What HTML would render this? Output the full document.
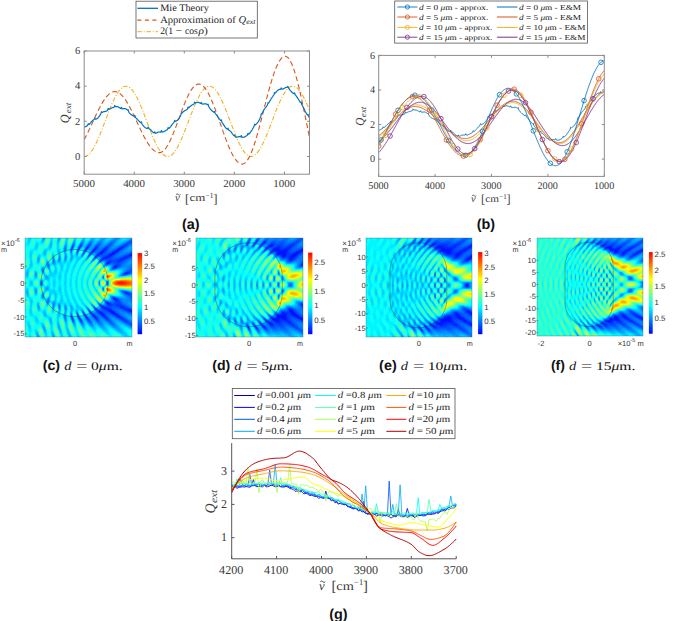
<!DOCTYPE html>
<html><head><meta charset="utf-8"><style>
html,body{margin:0;padding:0;background:#fff;}
svg{display:block;} text{text-rendering:geometricPrecision;}
</style></head><body>
<svg width="677" height="621" viewBox="0 0 677 621">
<rect width="677" height="621" fill="#fff"/>
<clipPath id="ca"><rect x="84" y="40" width="226" height="135"/></clipPath>
<g clip-path="url(#ca)">
<path d="M84.2,156.5 84.5,156.5 84.8,156.5 85.2,156.4 85.5,156.3 85.8,156.2 86.1,156.1 86.5,156.0 86.8,155.8 87.1,155.7 87.4,155.5 87.7,155.3 88.1,155.0 88.4,154.8 88.7,154.5 89.0,154.2 89.4,153.9 89.7,153.5 90.0,153.2 90.3,152.8 90.6,152.4 91.0,152.0 91.3,151.6 91.6,151.2 91.9,150.7 92.3,150.2 92.6,149.7 92.9,149.2 93.2,148.7 93.5,148.1 93.9,147.6 94.2,147.0 94.5,146.4 94.8,145.8 95.2,145.2 95.5,144.6 95.8,143.9 96.1,143.2 96.4,142.6 96.8,141.9 97.1,141.2 97.4,140.5 97.7,139.8 98.1,139.0 98.4,138.3 98.7,137.5 99.0,136.8 99.3,136.0 99.7,135.2 100.0,134.4 100.3,133.6 100.6,132.8 101.0,132.0 101.3,131.2 101.6,130.4 101.9,129.5 102.3,128.7 102.6,127.9 102.9,127.0 103.2,126.2 103.5,125.3 103.9,124.5 104.2,123.6 104.5,122.8 104.8,121.9 105.2,121.1 105.5,120.2 105.8,119.4 106.1,118.5 106.4,117.7 106.8,116.8 107.1,116.0 107.4,115.2 107.7,114.3 108.1,113.5 108.4,112.6 108.7,111.8 109.0,111.0 109.3,110.2 109.7,109.4 110.0,108.6 110.3,107.8 110.6,107.0 111.0,106.2 111.3,105.5 111.6,104.7 111.9,104.0 112.2,103.2 112.6,102.5 112.9,101.8 113.2,101.1 113.5,100.4 113.9,99.7 114.2,99.1 114.5,98.4 114.8,97.8 115.1,97.1 115.5,96.5 115.8,95.9 116.1,95.3 116.4,94.8 116.8,94.2 117.1,93.7 117.4,93.2 117.7,92.7 118.0,92.2 118.4,91.7 118.7,91.3 119.0,90.8 119.3,90.4 119.7,90.0 120.0,89.6 120.3,89.3 120.6,88.9 120.9,88.6 121.3,88.3 121.6,88.0 121.9,87.8 122.2,87.5 122.6,87.3 122.9,87.1 123.2,86.9 123.5,86.8 123.8,86.6 124.2,86.5 124.5,86.4 124.8,86.3 125.1,86.2 125.5,86.2 125.8,86.2 126.1,86.2 126.4,86.2 126.7,86.2 127.1,86.3 127.4,86.4 127.7,86.5 128.0,86.6 128.4,86.8 128.7,86.9 129.0,87.1 129.3,87.3 129.6,87.6 130.0,87.8 130.3,88.1 130.6,88.4 130.9,88.7 131.3,89.0 131.6,89.3 131.9,89.7 132.2,90.1 132.6,90.5 132.9,90.9 133.2,91.3 133.5,91.8 133.8,92.2 134.2,92.7 134.5,93.2 134.8,93.8 135.1,94.3 135.5,94.9 135.8,95.4 136.1,96.0 136.4,96.6 136.7,97.2 137.1,97.8 137.4,98.5 137.7,99.1 138.0,99.8 138.4,100.5 138.7,101.2 139.0,101.9 139.3,102.6 139.6,103.3 140.0,104.1 140.3,104.8 140.6,105.6 140.9,106.3 141.3,107.1 141.6,107.9 141.9,108.7 142.2,109.5 142.5,110.3 142.9,111.1 143.2,111.9 143.5,112.8 143.8,113.6 144.2,114.4 144.5,115.3 144.8,116.1 145.1,117.0 145.4,117.8 145.8,118.7 146.1,119.5 146.4,120.4 146.7,121.2 147.1,122.1 147.4,122.9 147.7,123.8 148.0,124.6 148.3,125.5 148.7,126.3 149.0,127.2 149.3,128.0 149.6,128.8 150.0,129.7 150.3,130.5 150.6,131.3 150.9,132.1 151.2,132.9 151.6,133.7 151.9,134.5 152.2,135.3 152.5,136.1 152.9,136.9 153.2,137.6 153.5,138.4 153.8,139.1 154.1,139.9 154.5,140.6 154.8,141.3 155.1,142.0 155.4,142.7 155.8,143.3 156.1,144.0 156.4,144.6 156.7,145.3 157.0,145.9 157.4,146.5 157.7,147.1 158.0,147.7 158.3,148.2 158.7,148.8 159.0,149.3 159.3,149.8 159.6,150.3 159.9,150.8 160.3,151.2 160.6,151.7 160.9,152.1 161.2,152.5 161.6,152.9 161.9,153.2 162.2,153.6 162.5,153.9 162.9,154.2 163.2,154.5 163.5,154.8 163.8,155.0 164.1,155.3 164.5,155.5 164.8,155.7 165.1,155.9 165.4,156.0 165.8,156.1 166.1,156.3 166.4,156.3 166.7,156.4 167.0,156.5 167.4,156.5 167.7,156.5 168.0,156.5 168.3,156.5 168.7,156.4 169.0,156.3 169.3,156.2 169.6,156.1 169.9,156.0 170.3,155.8 170.6,155.6 170.9,155.4 171.2,155.2 171.6,155.0 171.9,154.7 172.2,154.5 172.5,154.2 172.8,153.8 173.2,153.5 173.5,153.2 173.8,152.8 174.1,152.4 174.5,152.0 174.8,151.6 175.1,151.1 175.4,150.6 175.7,150.2 176.1,149.7 176.4,149.2 176.7,148.6 177.0,148.1 177.4,147.5 177.7,146.9 178.0,146.3 178.3,145.7 178.6,145.1 179.0,144.5 179.3,143.8 179.6,143.2 179.9,142.5 180.3,141.8 180.6,141.1 180.9,140.4 181.2,139.7 181.5,138.9 181.9,138.2 182.2,137.4 182.5,136.7 182.8,135.9 183.2,135.1 183.5,134.3 183.8,133.5 184.1,132.7 184.4,131.9 184.8,131.1 185.1,130.3 185.4,129.5 185.7,128.6 186.1,127.8 186.4,126.9 186.7,126.1 187.0,125.3 187.3,124.4 187.7,123.6 188.0,122.7 188.3,121.9 188.6,121.0 189.0,120.1 189.3,119.3 189.6,118.4 189.9,117.6 190.2,116.7 190.6,115.9 190.9,115.1 191.2,114.2 191.5,113.4 191.9,112.6 192.2,111.7 192.5,110.9 192.8,110.1 193.2,109.3 193.5,108.5 193.8,107.7 194.1,106.9 194.4,106.2 194.8,105.4 195.1,104.6 195.4,103.9 195.7,103.2 196.1,102.4 196.4,101.7 196.7,101.0 197.0,100.3 197.3,99.6 197.7,99.0 198.0,98.3 198.3,97.7 198.6,97.1 199.0,96.5 199.3,95.9 199.6,95.3 199.9,94.7 200.2,94.2 200.6,93.6 200.9,93.1 201.2,92.6 201.5,92.1 201.9,91.7 202.2,91.2 202.5,90.8 202.8,90.4 203.1,90.0 203.5,89.6 203.8,89.2 204.1,88.9 204.4,88.6 204.8,88.3 205.1,88.0 205.4,87.7 205.7,87.5 206.0,87.3 206.4,87.1 206.7,86.9 207.0,86.7 207.3,86.6 207.7,86.5 208.0,86.4 208.3,86.3 208.6,86.2 208.9,86.2 209.3,86.2 209.6,86.2 209.9,86.2 210.2,86.3 210.6,86.3 210.9,86.4 211.2,86.5 211.5,86.6 211.8,86.8 212.2,87.0 212.5,87.1 212.8,87.4 213.1,87.6 213.5,87.8 213.8,88.1 214.1,88.4 214.4,88.7 214.7,89.0 215.1,89.4 215.4,89.7 215.7,90.1 216.0,90.5 216.4,90.9 216.7,91.4 217.0,91.8 217.3,92.3 217.6,92.8 218.0,93.3 218.3,93.8 218.6,94.4 218.9,94.9 219.3,95.5 219.6,96.1 219.9,96.7 220.2,97.3 220.5,97.9 220.9,98.6 221.2,99.2 221.5,99.9 221.8,100.6 222.2,101.3 222.5,102.0 222.8,102.7 223.1,103.4 223.5,104.1 223.8,104.9 224.1,105.7 224.4,106.4 224.7,107.2 225.1,108.0 225.4,108.8 225.7,109.6 226.0,110.4 226.4,111.2 226.7,112.0 227.0,112.8 227.3,113.7 227.6,114.5 228.0,115.4 228.3,116.2 228.6,117.0 228.9,117.9 229.3,118.7 229.6,119.6 229.9,120.4 230.2,121.3 230.5,122.2 230.9,123.0 231.2,123.9 231.5,124.7 231.8,125.6 232.2,126.4 232.5,127.2 232.8,128.1 233.1,128.9 233.4,129.7 233.8,130.6 234.1,131.4 234.4,132.2 234.7,133.0 235.1,133.8 235.4,134.6 235.7,135.4 236.0,136.2 236.3,136.9 236.7,137.7 237.0,138.5 237.3,139.2 237.6,139.9 238.0,140.6 238.3,141.4 238.6,142.0 238.9,142.7 239.2,143.4 239.6,144.1 239.9,144.7 240.2,145.3 240.5,146.0 240.9,146.6 241.2,147.1 241.5,147.7 241.8,148.3 242.1,148.8 242.5,149.3 242.8,149.8 243.1,150.3 243.4,150.8 243.8,151.3 244.1,151.7 244.4,152.1 244.7,152.5 245.0,152.9 245.4,153.3 245.7,153.6 246.0,154.0 246.3,154.3 246.7,154.6 247.0,154.8 247.3,155.1 247.6,155.3 247.9,155.5 248.3,155.7 248.6,155.9 248.9,156.0 249.2,156.2 249.6,156.3 249.9,156.4 250.2,156.4 250.5,156.5 250.8,156.5 251.2,156.5 251.5,156.5 251.8,156.4 252.1,156.4 252.5,156.3 252.8,156.2 253.1,156.1 253.4,156.0 253.8,155.8 254.1,155.6 254.4,155.4 254.7,155.2 255.0,155.0 255.4,154.7 255.7,154.4 256.0,154.1 256.3,153.8 256.7,153.5 257.0,153.1 257.3,152.7 257.6,152.3 257.9,151.9 258.3,151.5 258.6,151.1 258.9,150.6 259.2,150.1 259.6,149.6 259.9,149.1 260.2,148.6 260.5,148.0 260.8,147.5 261.2,146.9 261.5,146.3 261.8,145.7 262.1,145.1 262.5,144.4 262.8,143.8 263.1,143.1 263.4,142.4 263.7,141.7 264.1,141.0 264.4,140.3 264.7,139.6 265.0,138.9 265.4,138.1 265.7,137.4 266.0,136.6 266.3,135.8 266.6,135.0 267.0,134.3 267.3,133.5 267.6,132.7 267.9,131.8 268.3,131.0 268.6,130.2 268.9,129.4 269.2,128.5 269.5,127.7 269.9,126.9 270.2,126.0 270.5,125.2 270.8,124.3 271.2,123.5 271.5,122.6 271.8,121.8 272.1,120.9 272.4,120.1 272.8,119.2 273.1,118.4 273.4,117.5 273.7,116.7 274.1,115.8 274.4,115.0 274.7,114.1 275.0,113.3 275.3,112.5 275.7,111.7 276.0,110.8 276.3,110.0 276.6,109.2 277.0,108.4 277.3,107.6 277.6,106.8 277.9,106.1 278.2,105.3 278.6,104.6 278.9,103.8 279.2,103.1 279.5,102.4 279.9,101.6 280.2,100.9 280.5,100.3 280.8,99.6 281.1,98.9 281.5,98.3 281.8,97.6 282.1,97.0 282.4,96.4 282.8,95.8 283.1,95.2 283.4,94.7 283.7,94.1 284.1,93.6 284.4,93.1 284.7,92.6 285.0,92.1 285.3,91.6 285.7,91.2 286.0,90.7 286.3,90.3 286.6,89.9 287.0,89.6 287.3,89.2 287.6,88.9 287.9,88.6 288.2,88.3 288.6,88.0 288.9,87.7 289.2,87.5 289.5,87.3 289.9,87.1 290.2,86.9 290.5,86.7 290.8,86.6 291.1,86.5 291.5,86.4 291.8,86.3 292.1,86.2 292.4,86.2 292.8,86.2 293.1,86.2 293.4,86.2 293.7,86.3 294.0,86.3 294.4,86.4 294.7,86.5 295.0,86.7 295.3,86.8 295.7,87.0 296.0,87.2 296.3,87.4 296.6,87.6 296.9,87.9 297.3,88.1 297.6,88.4 297.9,88.7 298.2,89.1 298.6,89.4 298.9,89.8 299.2,90.2 299.5,90.6 299.8,91.0 300.2,91.4 300.5,91.9 300.8,92.3 301.1,92.8 301.5,93.3 301.8,93.9 302.1,94.4 302.4,95.0 302.7,95.5 303.1,96.1 303.4,96.7 303.7,97.3 304.0,98.0 304.4,98.6 304.7,99.3 305.0,100.0 305.3,100.6 305.6,101.3 306.0,102.0 306.3,102.8 306.6,103.5 306.9,104.2 307.3,105.0 307.6,105.7 307.9,106.5 308.2,107.3 308.5,108.1 308.9,108.9 309.2,109.7 309.5,110.5" fill="none" stroke="#EDB120" stroke-width="1.1" stroke-linejoin="round" stroke-dasharray="4.5 1.8 1 1.8"/>
<path d="M84.2,139.6 84.5,139.0 84.8,138.4 85.2,137.8 85.5,137.2 85.8,136.6 86.1,136.0 86.5,135.3 86.8,134.7 87.1,134.0 87.4,133.4 87.7,132.7 88.1,132.1 88.4,131.4 88.7,130.7 89.0,130.0 89.4,129.3 89.7,128.7 90.0,128.0 90.3,127.3 90.6,126.6 91.0,125.9 91.3,125.2 91.6,124.5 91.9,123.8 92.3,123.1 92.6,122.4 92.9,121.7 93.2,121.0 93.5,120.3 93.9,119.6 94.2,118.9 94.5,118.2 94.8,117.5 95.2,116.8 95.5,116.1 95.8,115.4 96.1,114.7 96.4,114.1 96.8,113.4 97.1,112.7 97.4,112.1 97.7,111.4 98.1,110.8 98.4,110.1 98.7,109.5 99.0,108.8 99.3,108.2 99.7,107.6 100.0,107.0 100.3,106.4 100.6,105.8 101.0,105.2 101.3,104.6 101.6,104.1 101.9,103.5 102.3,102.9 102.6,102.4 102.9,101.9 103.2,101.4 103.5,100.9 103.9,100.4 104.2,99.9 104.5,99.4 104.8,98.9 105.2,98.5 105.5,98.1 105.8,97.6 106.1,97.2 106.4,96.8 106.8,96.5 107.1,96.1 107.4,95.7 107.7,95.4 108.1,95.1 108.4,94.7 108.7,94.4 109.0,94.2 109.3,93.9 109.7,93.6 110.0,93.4 110.3,93.2 110.6,93.0 111.0,92.8 111.3,92.6 111.6,92.4 111.9,92.3 112.2,92.1 112.6,92.0 112.9,91.9 113.2,91.8 113.5,91.8 113.9,91.7 114.2,91.7 114.5,91.6 114.8,91.6 115.1,91.6 115.5,91.7 115.8,91.7 116.1,91.8 116.4,91.8 116.8,91.9 117.1,92.0 117.4,92.1 117.7,92.3 118.0,92.4 118.4,92.6 118.7,92.8 119.0,93.0 119.3,93.2 119.7,93.4 120.0,93.7 120.3,93.9 120.6,94.2 120.9,94.5 121.3,94.8 121.6,95.1 121.9,95.4 122.2,95.7 122.6,96.1 122.9,96.5 123.2,96.8 123.5,97.2 123.8,97.6 124.2,98.1 124.5,98.5 124.8,98.9 125.1,99.4 125.5,99.9 125.8,100.4 126.1,100.8 126.4,101.3 126.7,101.9 127.1,102.4 127.4,102.9 127.7,103.5 128.0,104.0 128.4,104.6 128.7,105.1 129.0,105.7 129.3,106.3 129.6,106.9 130.0,107.5 130.3,108.1 130.6,108.8 130.9,109.4 131.3,110.0 131.6,110.7 131.9,111.3 132.2,112.0 132.6,112.6 132.9,113.3 133.2,113.9 133.5,114.6 133.8,115.3 134.2,116.0 134.5,116.6 134.8,117.3 135.1,118.0 135.5,118.7 135.8,119.4 136.1,120.1 136.4,120.8 136.7,121.5 137.1,122.2 137.4,122.9 137.7,123.6 138.0,124.2 138.4,124.9 138.7,125.6 139.0,126.3 139.3,127.0 139.6,127.7 140.0,128.4 140.3,129.0 140.6,129.7 140.9,130.4 141.3,131.1 141.6,131.7 141.9,132.4 142.2,133.0 142.5,133.7 142.9,134.3 143.2,134.9 143.5,135.6 143.8,136.2 144.2,136.8 144.5,137.4 144.8,138.0 145.1,138.6 145.4,139.2 145.8,139.7 146.1,140.3 146.4,140.9 146.7,141.4 147.1,141.9 147.4,142.4 147.7,143.0 148.0,143.5 148.3,144.0 148.7,144.4 149.0,144.9 149.3,145.4 149.6,145.8 150.0,146.2 150.3,146.7 150.6,147.1 150.9,147.5 151.2,147.8 151.6,148.2 151.9,148.6 152.2,148.9 152.5,149.2 152.9,149.5 153.2,149.8 153.5,150.1 153.8,150.4 154.1,150.6 154.5,150.9 154.8,151.1 155.1,151.3 155.4,151.5 155.8,151.7 156.1,151.8 156.4,152.0 156.7,152.1 157.0,152.2 157.4,152.3 157.7,152.4 158.0,152.5 158.3,152.6 158.7,152.6 159.0,152.6 159.3,152.6 159.6,152.6 159.9,152.6 160.3,152.5 160.6,152.5 160.9,152.3 161.2,152.2 161.6,152.1 161.9,151.9 162.2,151.7 162.5,151.5 162.9,151.3 163.2,151.0 163.5,150.7 163.8,150.4 164.1,150.1 164.5,149.8 164.8,149.4 165.1,149.0 165.4,148.6 165.8,148.2 166.1,147.8 166.4,147.3 166.7,146.8 167.0,146.3 167.4,145.8 167.7,145.3 168.0,144.7 168.3,144.1 168.7,143.5 169.0,142.9 169.3,142.3 169.6,141.7 169.9,141.0 170.3,140.4 170.6,139.7 170.9,139.0 171.2,138.3 171.6,137.5 171.9,136.8 172.2,136.1 172.5,135.3 172.8,134.5 173.2,133.7 173.5,133.0 173.8,132.2 174.1,131.3 174.5,130.5 174.8,129.7 175.1,128.9 175.4,128.0 175.7,127.2 176.1,126.3 176.4,125.5 176.7,124.6 177.0,123.7 177.4,122.9 177.7,122.0 178.0,121.1 178.3,120.2 178.6,119.3 179.0,118.5 179.3,117.6 179.6,116.7 179.9,115.8 180.3,114.9 180.6,114.1 180.9,113.2 181.2,112.3 181.5,111.5 181.9,110.6 182.2,109.7 182.5,108.9 182.8,108.1 183.2,107.2 183.5,106.4 183.8,105.6 184.1,104.7 184.4,103.9 184.8,103.2 185.1,102.4 185.4,101.6 185.7,100.8 186.1,100.1 186.4,99.3 186.7,98.6 187.0,97.9 187.3,97.2 187.7,96.5 188.0,95.8 188.3,95.2 188.6,94.5 189.0,93.9 189.3,93.3 189.6,92.7 189.9,92.1 190.2,91.6 190.6,91.0 190.9,90.5 191.2,90.0 191.5,89.5 191.9,89.1 192.2,88.6 192.5,88.2 192.8,87.8 193.2,87.4 193.5,87.0 193.8,86.7 194.1,86.3 194.4,86.0 194.8,85.8 195.1,85.5 195.4,85.3 195.7,85.0 196.1,84.8 196.4,84.7 196.7,84.5 197.0,84.4 197.3,84.3 197.7,84.2 198.0,84.1 198.3,84.1 198.6,84.1 199.0,84.1 199.3,84.1 199.6,84.2 199.9,84.2 200.2,84.3 200.6,84.4 200.9,84.6 201.2,84.7 201.5,84.9 201.9,85.1 202.2,85.3 202.5,85.6 202.8,85.8 203.1,86.1 203.5,86.4 203.8,86.7 204.1,87.1 204.4,87.4 204.8,87.8 205.1,88.2 205.4,88.6 205.7,89.1 206.0,89.5 206.4,90.0 206.7,90.5 207.0,91.0 207.3,91.6 207.7,92.1 208.0,92.7 208.3,93.3 208.6,93.9 208.9,94.5 209.3,95.1 209.6,95.8 209.9,96.5 210.2,97.1 210.6,97.8 210.9,98.5 211.2,99.3 211.5,100.0 211.8,100.8 212.2,101.5 212.5,102.3 212.8,103.1 213.1,103.9 213.5,104.7 213.8,105.5 214.1,106.3 214.4,107.2 214.7,108.0 215.1,108.9 215.4,109.7 215.7,110.6 216.0,111.5 216.4,112.4 216.7,113.3 217.0,114.2 217.3,115.1 217.6,116.0 218.0,116.9 218.3,117.8 218.6,118.7 218.9,119.7 219.3,120.6 219.6,121.5 219.9,122.4 220.2,123.4 220.5,124.3 220.9,125.2 221.2,126.2 221.5,127.1 221.8,128.0 222.2,128.9 222.5,129.9 222.8,130.8 223.1,131.7 223.5,132.6 223.8,133.5 224.1,134.4 224.4,135.3 224.7,136.2 225.1,137.1 225.4,138.0 225.7,138.8 226.0,139.7 226.4,140.6 226.7,141.4 227.0,142.2 227.3,143.1 227.6,143.9 228.0,144.7 228.3,145.5 228.6,146.2 228.9,147.0 229.3,147.8 229.6,148.5 229.9,149.2 230.2,150.0 230.5,150.7 230.9,151.4 231.2,152.0 231.5,152.7 231.8,153.3 232.2,154.0 232.5,154.6 232.8,155.2 233.1,155.7 233.4,156.3 233.8,156.8 234.1,157.4 234.4,157.9 234.7,158.4 235.1,158.8 235.4,159.3 235.7,159.7 236.0,160.1 236.3,160.5 236.7,160.9 237.0,161.2 237.3,161.6 237.6,161.9 238.0,162.2 238.3,162.4 238.6,162.7 238.9,162.9 239.2,163.1 239.6,163.3 239.9,163.5 240.2,163.6 240.5,163.8 240.9,163.9 241.2,163.9 241.5,164.0 241.8,164.0 242.1,164.1 242.5,164.1 242.8,164.0 243.1,163.9 243.4,163.8 243.8,163.7 244.1,163.6 244.4,163.4 244.7,163.2 245.0,162.9 245.4,162.6 245.7,162.3 246.0,162.0 246.3,161.6 246.7,161.2 247.0,160.8 247.3,160.4 247.6,159.9 247.9,159.4 248.3,158.9 248.6,158.3 248.9,157.7 249.2,157.1 249.6,156.5 249.9,155.8 250.2,155.1 250.5,154.4 250.8,153.7 251.2,152.9 251.5,152.1 251.8,151.3 252.1,150.5 252.5,149.6 252.8,148.8 253.1,147.9 253.4,147.0 253.8,146.0 254.1,145.1 254.4,144.1 254.7,143.1 255.0,142.1 255.4,141.0 255.7,140.0 256.0,138.9 256.3,137.8 256.7,136.7 257.0,135.6 257.3,134.5 257.6,133.4 257.9,132.2 258.3,131.0 258.6,129.9 258.9,128.7 259.2,127.5 259.6,126.3 259.9,125.1 260.2,123.8 260.5,122.6 260.8,121.4 261.2,120.1 261.5,118.9 261.8,117.6 262.1,116.3 262.5,115.1 262.8,113.8 263.1,112.6 263.4,111.3 263.7,110.0 264.1,108.7 264.4,107.5 264.7,106.2 265.0,104.9 265.4,103.7 265.7,102.4 266.0,101.2 266.3,99.9 266.6,98.7 267.0,97.4 267.3,96.2 267.6,95.0 267.9,93.8 268.3,92.6 268.6,91.4 268.9,90.2 269.2,89.0 269.5,87.8 269.9,86.7 270.2,85.6 270.5,84.4 270.8,83.3 271.2,82.2 271.5,81.2 271.8,80.1 272.1,79.0 272.4,78.0 272.8,77.0 273.1,76.0 273.4,75.0 273.7,74.1 274.1,73.2 274.4,72.2 274.7,71.4 275.0,70.5 275.3,69.6 275.7,68.8 276.0,68.0 276.3,67.2 276.6,66.5 277.0,65.7 277.3,65.0 277.6,64.4 277.9,63.7 278.2,63.1 278.6,62.5 278.9,61.9 279.2,61.3 279.5,60.8 279.9,60.3 280.2,59.9 280.5,59.4 280.8,59.0 281.1,58.6 281.5,58.3 281.8,57.9 282.1,57.6 282.4,57.4 282.8,57.1 283.1,56.9 283.4,56.7 283.7,56.6 284.1,56.5 284.4,56.4 284.7,56.3 285.0,56.3 285.3,56.3 285.7,56.3 286.0,56.4 286.3,56.5 286.6,56.7 287.0,56.9 287.3,57.1 287.6,57.3 287.9,57.6 288.2,58.0 288.6,58.3 288.9,58.7 289.2,59.2 289.5,59.7 289.9,60.2 290.2,60.7 290.5,61.3 290.8,61.9 291.1,62.6 291.5,63.3 291.8,64.0 292.1,64.7 292.4,65.5 292.8,66.3 293.1,67.2 293.4,68.1 293.7,69.0 294.0,69.9 294.4,70.9 294.7,71.9 295.0,72.9 295.3,74.0 295.7,75.0 296.0,76.1 296.3,77.3 296.6,78.4 296.9,79.6 297.3,80.8 297.6,82.1 297.9,83.3 298.2,84.6 298.6,85.9 298.9,87.2 299.2,88.6 299.5,90.0 299.8,91.3 300.2,92.7 300.5,94.2 300.8,95.6 301.1,97.0 301.5,98.5 301.8,100.0 302.1,101.5 302.4,103.0 302.7,104.5 303.1,106.0 303.4,107.5 303.7,109.1 304.0,110.6 304.4,112.2 304.7,113.8 305.0,115.3 305.3,116.9 305.6,118.5 306.0,120.1 306.3,121.7 306.6,123.2 306.9,124.8 307.3,126.4 307.6,128.0 307.9,129.6 308.2,131.1 308.5,132.7 308.9,134.3 309.2,135.9 309.5,137.4" fill="none" stroke="#D95319" stroke-width="1.1" stroke-linejoin="round" stroke-dasharray="5 3"/>
<path d="M84.2,127.3 84.5,127.2 84.7,127.1 85.0,126.9 85.2,126.8 85.5,126.6 85.7,126.5 86.0,126.4 86.2,126.3 86.5,126.1 86.7,126.0 87.0,125.9 87.2,125.7 87.5,125.5 87.7,125.0 88.0,124.1 88.2,123.7 88.5,124.1 88.7,124.5 89.0,124.5 89.2,124.3 89.5,124.1 89.7,123.8 90.0,123.5 90.2,123.2 90.5,122.9 90.7,122.6 91.0,122.3 91.2,122.0 91.5,121.8 91.7,121.5 92.0,121.2 92.2,120.9 92.5,120.7 92.7,120.5 93.0,120.2 93.2,120.1 93.5,119.9 93.7,119.8 94.0,119.6 94.2,119.4 94.5,118.7 94.7,118.0 95.0,118.1 95.2,118.8 95.5,119.2 95.7,119.2 96.0,119.1 96.2,119.0 96.5,118.9 96.7,118.8 97.0,118.7 97.2,118.5 97.5,118.3 97.7,118.1 98.0,117.9 98.2,117.6 98.5,117.3 98.7,117.0 99.0,116.7 99.2,116.3 99.5,116.0 99.7,115.6 100.0,115.2 100.2,114.8 100.5,114.5 100.7,114.1 101.0,113.5 101.2,112.4 101.5,111.7 101.7,112.0 102.0,112.4 102.2,112.5 102.5,112.3 102.7,112.1 103.0,112.0 103.2,111.9 103.5,111.8 103.7,111.7 104.0,111.7 104.3,111.6 104.5,111.6 104.8,111.5 105.0,111.5 105.3,111.4 105.5,111.3 105.8,111.3 106.0,111.2 106.3,111.1 106.5,111.0 106.8,110.9 107.0,110.7 107.3,110.6 107.5,110.3 107.8,109.6 108.0,108.7 108.3,108.5 108.5,109.1 108.8,109.4 109.0,109.3 109.3,109.2 109.5,109.0 109.8,108.9 110.0,108.7 110.3,108.6 110.5,108.5 110.8,108.4 111.0,108.2 111.3,108.2 111.5,108.1 111.8,108.0 112.0,107.9 112.3,107.8 112.5,107.7 112.8,107.7 113.0,107.6 113.3,107.5 113.5,107.4 113.8,107.3 114.0,107.2 114.3,106.9 114.5,106.1 114.8,105.5 115.0,105.8 115.3,106.5 115.5,106.7 115.8,106.6 116.0,106.6 116.3,106.6 116.5,106.5 116.8,106.5 117.0,106.6 117.3,106.6 117.5,106.7 117.8,106.8 118.0,106.9 118.3,107.0 118.5,107.1 118.8,107.3 119.0,107.4 119.3,107.6 119.5,107.8 119.8,107.9 120.0,108.1 120.3,108.3 120.5,108.4 120.8,108.5 121.0,108.1 121.3,107.5 121.5,107.4 121.8,108.1 122.0,108.7 122.3,108.9 122.5,108.9 122.8,108.8 123.0,108.8 123.3,108.8 123.5,108.7 123.8,108.7 124.0,108.6 124.3,108.6 124.6,108.6 124.8,108.6 125.1,108.6 125.3,108.6 125.6,108.7 125.8,108.8 126.1,109.0 126.3,109.2 126.6,109.4 126.8,109.6 127.1,109.9 127.3,110.1 127.6,110.2 127.8,109.9 128.1,109.6 128.3,110.3 128.6,111.4 128.8,112.1 129.1,112.5 129.3,112.8 129.6,113.1 129.8,113.4 130.1,113.7 130.3,113.9 130.6,114.2 130.8,114.4 131.1,114.6 131.3,114.8 131.6,114.9 131.8,115.1 132.1,115.2 132.3,115.3 132.6,115.5 132.8,115.6 133.1,115.7 133.3,115.9 133.6,116.0 133.8,116.1 134.1,116.2 134.3,116.1 134.6,115.5 134.8,115.4 135.1,116.3 135.3,117.1 135.6,117.5 135.8,117.8 136.1,118.1 136.3,118.3 136.6,118.6 136.8,118.9 137.1,119.1 137.3,119.4 137.6,119.7 137.8,119.9 138.1,120.2 138.3,120.4 138.6,120.7 138.8,120.9 139.1,121.2 139.3,121.4 139.6,121.6 139.8,121.9 140.1,122.1 140.3,122.3 140.6,122.6 140.8,122.7 141.1,122.4 141.3,121.9 141.6,122.4 141.8,123.4 142.1,124.1 142.3,124.5 142.6,124.8 142.8,125.1 143.1,125.4 143.3,125.7 143.6,126.0 143.8,126.3 144.1,126.6 144.4,126.9 144.6,127.1 144.9,127.3 145.1,127.5 145.4,127.7 145.6,127.9 145.9,128.0 146.1,128.2 146.4,128.3 146.6,128.3 146.9,128.4 147.1,128.4 147.4,128.4 147.6,128.2 147.9,127.5 148.1,127.1 148.4,127.7 148.6,128.4 148.9,128.7 149.1,128.8 149.4,128.9 149.6,129.1 149.9,129.2 150.1,129.4 150.4,129.6 150.6,129.8 150.9,130.0 151.1,130.3 151.4,130.5 151.6,130.8 151.9,131.1 152.1,131.4 152.4,131.7 152.6,131.9 152.9,132.2 153.1,132.4 153.4,132.6 153.6,132.8 153.9,133.0 154.1,133.0 154.4,132.6 154.6,131.9 154.9,132.0 155.1,132.7 155.4,133.2 155.6,133.2 155.9,133.2 156.1,133.1 156.4,133.0 156.6,132.9 156.9,132.8 157.1,132.6 157.4,132.5 157.6,132.4 157.9,132.3 158.1,132.2 158.4,132.2 158.6,132.1 158.9,132.1 159.1,132.0 159.4,132.0 159.6,132.0 159.9,132.0 160.1,132.0 160.4,132.1 160.6,132.0 160.9,131.8 161.1,131.2 161.4,130.6 161.6,131.1 161.9,131.8 162.1,132.1 162.4,132.1 162.6,132.0 162.9,132.0 163.1,131.9 163.4,131.8 163.6,131.7 163.9,131.6 164.2,131.5 164.4,131.3 164.7,131.2 164.9,131.0 165.2,130.9 165.4,130.7 165.7,130.6 165.9,130.4 166.2,130.3 166.4,130.1 166.7,130.0 166.9,129.9 167.2,129.7 167.4,129.5 167.7,128.9 167.9,127.9 168.2,127.6 168.4,128.2 168.7,128.5 168.9,128.5 169.2,128.2 169.4,128.0 169.7,127.7 169.9,127.5 170.2,127.2 170.4,126.9 170.7,126.6 170.9,126.2 171.2,125.9 171.4,125.5 171.7,125.2 171.9,124.8 172.2,124.5 172.4,124.1 172.7,123.8 172.9,123.5 173.2,123.2 173.4,122.9 173.7,122.7 173.9,122.4 174.2,122.0 174.4,121.2 174.7,120.4 174.9,120.5 175.2,121.2 175.4,121.4 175.7,121.3 175.9,121.2 176.2,121.1 176.4,120.9 176.7,120.8 176.9,120.6 177.2,120.5 177.4,120.3 177.7,120.0 177.9,119.8 178.2,119.5 178.4,119.2 178.7,118.9 178.9,118.5 179.2,118.2 179.4,117.8 179.7,117.3 179.9,116.9 180.2,116.5 180.4,116.0 180.7,115.5 180.9,114.7 181.2,113.5 181.4,112.8 181.7,113.0 181.9,113.2 182.2,113.1 182.4,112.7 182.7,112.4 182.9,112.1 183.2,111.9 183.4,111.7 183.7,111.4 184.0,111.3 184.2,111.1 184.5,110.9 184.7,110.8 185.0,110.7 185.2,110.5 185.5,110.4 185.7,110.3 186.0,110.1 186.2,110.0 186.5,109.8 186.7,109.7 187.0,109.5 187.2,109.3 187.5,108.9 187.7,108.1 188.0,107.2 188.2,107.1 188.5,107.6 188.7,107.8 189.0,107.6 189.2,107.3 189.5,107.1 189.7,106.8 190.0,106.6 190.2,106.4 190.5,106.2 190.7,105.9 191.0,105.7 191.2,105.6 191.5,105.4 191.7,105.2 192.0,105.1 192.2,104.9 192.5,104.8 192.7,104.6 193.0,104.5 193.2,104.3 193.5,104.2 193.7,104.1 194.0,103.9 194.2,103.4 194.5,102.6 194.7,102.0 195.0,102.4 195.2,102.9 195.5,103.0 195.7,102.9 196.0,102.8 196.2,102.7 196.5,102.6 196.7,102.5 197.0,102.4 197.2,102.3 197.5,102.3 197.7,102.3 198.0,102.3 198.2,102.3 198.5,102.4 198.7,102.5 199.0,102.6 199.2,102.7 199.5,102.8 199.7,102.9 200.0,103.1 200.2,103.2 200.5,103.4 200.7,103.4 201.0,103.0 201.2,102.4 201.5,102.5 201.7,103.3 202.0,103.9 202.2,104.0 202.5,104.1 202.7,104.1 203.0,104.1 203.2,104.0 203.5,104.0 203.7,104.0 204.0,103.9 204.3,103.9 204.5,103.8 204.8,103.8 205.0,103.8 205.3,103.7 205.5,103.8 205.8,103.8 206.0,103.9 206.3,104.0 206.5,104.1 206.8,104.3 207.0,104.5 207.3,104.7 207.5,104.7 207.8,104.3 208.0,104.1 208.3,104.9 208.5,106.0 208.8,106.6 209.0,107.1 209.3,107.4 209.5,107.8 209.8,108.2 210.0,108.5 210.3,108.9 210.5,109.2 210.8,109.5 211.0,109.8 211.3,110.1 211.5,110.4 211.8,110.6 212.0,110.8 212.3,111.0 212.5,111.2 212.8,111.4 213.0,111.6 213.3,111.8 213.5,112.0 213.8,112.1 214.0,112.3 214.3,112.0 214.5,111.5 214.8,111.6 215.0,112.5 215.3,113.4 215.5,113.8 215.8,114.1 216.0,114.4 216.3,114.7 216.5,115.0 216.8,115.3 217.0,115.7 217.3,116.0 217.5,116.4 217.8,116.7 218.0,117.1 218.3,117.4 218.5,117.8 218.8,118.1 219.0,118.4 219.3,118.8 219.5,119.1 219.8,119.4 220.0,119.7 220.3,120.1 220.5,120.4 220.8,120.5 221.0,120.2 221.3,119.9 221.5,120.5 221.8,121.7 222.0,122.4 222.3,122.8 222.5,123.2 222.8,123.5 223.0,123.9 223.3,124.3 223.5,124.7 223.8,125.1 224.1,125.5 224.3,125.9 224.6,126.3 224.8,126.7 225.1,127.0 225.3,127.4 225.6,127.7 225.8,128.0 226.1,128.2 226.3,128.5 226.6,128.7 226.8,128.9 227.1,129.1 227.3,129.2 227.6,129.0 227.8,128.4 228.1,128.2 228.3,129.0 228.6,129.8 228.8,130.1 229.1,130.2 229.3,130.4 229.6,130.5 229.8,130.7 230.1,130.9 230.3,131.1 230.6,131.4 230.8,131.6 231.1,131.9 231.3,132.2 231.6,132.6 231.8,132.9 232.1,133.3 232.3,133.6 232.6,134.0 232.8,134.4 233.1,134.7 233.3,135.1 233.6,135.4 233.8,135.7 234.1,135.8 234.3,135.5 234.6,135.0 234.8,135.4 235.1,136.3 235.3,136.9 235.6,137.0 235.8,137.1 236.1,137.1 236.3,137.1 236.6,137.1 236.8,137.1 237.1,137.1 237.3,137.0 237.6,137.0 237.8,136.9 238.1,136.8 238.3,136.8 238.6,136.8 238.8,136.7 239.1,136.7 239.3,136.7 239.6,136.7 239.8,136.7 240.1,136.8 240.3,136.8 240.6,136.8 240.8,136.6 241.1,135.9 241.3,135.6 241.6,136.2 241.8,137.0 242.1,137.2 242.3,137.3 242.6,137.3 242.8,137.3 243.1,137.3 243.3,137.3 243.6,137.2 243.9,137.2 244.1,137.1 244.4,137.0 244.6,136.9 244.9,136.8 245.1,136.6 245.4,136.5 245.6,136.3 245.9,136.2 246.1,136.0 246.4,135.8 246.6,135.7 246.9,135.5 247.1,135.3 247.4,135.1 247.6,134.4 247.9,133.5 248.1,133.3 248.4,133.9 248.6,134.1 248.9,134.0 249.1,133.8 249.4,133.6 249.6,133.3 249.9,133.0 250.1,132.7 250.4,132.4 250.6,132.0 250.9,131.7 251.1,131.3 251.4,130.9 251.6,130.5 251.9,130.1 252.1,129.7 252.4,129.2 252.6,128.8 252.9,128.4 253.1,128.0 253.4,127.5 253.6,127.1 253.9,126.7 254.1,126.1 254.4,125.1 254.6,124.2 254.9,124.4 255.1,124.8 255.4,124.8 255.6,124.6 255.9,124.3 256.1,124.1 256.4,123.8 256.6,123.6 256.9,123.3 257.1,123.1 257.4,122.8 257.6,122.5 257.9,122.2 258.1,121.9 258.4,121.5 258.6,121.1 258.9,120.7 259.1,120.2 259.4,119.7 259.6,119.2 259.9,118.7 260.1,118.1 260.4,117.5 260.6,116.9 260.9,115.8 261.1,114.4 261.4,113.7 261.6,113.8 261.9,113.8 262.1,113.3 262.4,112.8 262.6,112.2 262.9,111.7 263.1,111.2 263.4,110.7 263.6,110.3 263.9,109.8 264.2,109.4 264.4,109.1 264.7,108.7 264.9,108.4 265.2,108.0 265.4,107.7 265.7,107.4 265.9,107.1 266.2,106.8 266.4,106.5 266.7,106.1 266.9,105.8 267.2,105.4 267.4,104.9 267.7,103.9 267.9,102.9 268.2,102.8 268.4,103.1 268.7,103.0 268.9,102.6 269.2,102.2 269.4,101.8 269.7,101.3 269.9,100.9 270.2,100.4 270.4,100.0 270.7,99.6 270.9,99.2 271.2,98.7 271.4,98.4 271.7,98.0 271.9,97.6 272.2,97.2 272.4,96.9 272.7,96.5 272.9,96.2 273.2,95.9 273.4,95.5 273.7,95.2 273.9,94.8 274.2,94.2 274.4,93.1 274.7,92.5 274.9,92.8 275.2,93.1 275.4,93.0 275.7,92.6 275.9,92.3 276.2,92.0 276.4,91.7 276.7,91.4 276.9,91.1 277.2,90.9 277.4,90.6 277.7,90.4 277.9,90.2 278.2,90.0 278.4,89.8 278.7,89.7 278.9,89.6 279.2,89.5 279.4,89.4 279.7,89.4 279.9,89.3 280.2,89.3 280.4,89.3 280.7,89.1 280.9,88.6 281.2,87.9 281.4,88.1 281.7,88.8 281.9,89.2 282.2,89.2 282.4,89.2 282.7,89.1 282.9,89.0 283.2,88.9 283.4,88.8 283.7,88.7 284.0,88.5 284.2,88.4 284.5,88.2 284.7,88.0 285.0,87.9 285.2,87.7 285.5,87.6 285.7,87.5 286.0,87.4 286.2,87.3 286.5,87.3 286.7,87.3 287.0,87.3 287.2,87.3 287.5,87.1 287.7,86.5 288.0,86.3 288.2,87.0 288.5,87.9 288.7,88.4 289.0,88.7 289.2,89.0 289.5,89.3 289.7,89.7 290.0,90.0 290.2,90.3 290.5,90.6 290.7,90.9 291.0,91.2 291.2,91.5 291.5,91.8 291.7,92.0 292.0,92.3 292.2,92.5 292.5,92.7 292.7,92.9 293.0,93.1 293.2,93.3 293.5,93.5 293.7,93.6 294.0,93.7 294.2,93.4 294.5,92.8 294.7,93.1 295.0,94.1 295.2,94.8 295.5,95.1 295.7,95.4 296.0,95.7 296.2,96.0 296.5,96.3 296.7,96.7 297.0,97.0 297.2,97.4 297.5,97.8 297.7,98.2 298.0,98.6 298.2,99.0 298.5,99.4 298.7,99.8 299.0,100.2 299.2,100.6 299.5,101.0 299.7,101.4 300.0,101.8 300.2,102.2 300.5,102.5 300.7,102.7 301.0,102.4 301.2,102.3 301.5,103.2 301.7,104.3 302.0,105.0 302.2,105.5 302.5,105.9 302.7,106.4 303.0,106.9 303.2,107.4 303.5,107.9 303.8,108.4 304.0,108.9 304.3,109.4 304.5,109.9 304.8,110.4 305.0,111.0 305.3,111.5 305.5,112.0 305.8,112.4 306.0,112.9 306.3,113.3 306.5,113.8 306.8,114.2 307.0,114.5 307.3,114.8 307.5,114.7 307.8,114.3 308.0,114.5 308.3,115.5 308.5,116.3 308.8,116.7 309.0,117.0 309.3,117.3 309.5,117.6" fill="none" stroke="#0072BD" stroke-width="1.2" stroke-linejoin="round" />
</g>
<rect x="84.2" y="51.0" width="225.3" height="123.2" fill="none" stroke="#8c8c8c" stroke-width="1"/>
<line x1="84.2" y1="174.2" x2="84.2" y2="171.7" stroke="#8c8c8c" stroke-width="1" />
<line x1="84.2" y1="51" x2="84.2" y2="53.5" stroke="#8c8c8c" stroke-width="1" />
<text x="84" y="187.4" font-size="10.6" font-family='"Liberation Serif", serif' text-anchor="middle" fill="#3a3a3a" textLength="21.9" lengthAdjust="spacingAndGlyphs">5000</text>
<line x1="134.3" y1="174.2" x2="134.3" y2="171.7" stroke="#8c8c8c" stroke-width="1" />
<line x1="134.3" y1="51" x2="134.3" y2="53.5" stroke="#8c8c8c" stroke-width="1" />
<text x="134.1" y="187.4" font-size="10.6" font-family='"Liberation Serif", serif' text-anchor="middle" fill="#3a3a3a" textLength="21.9" lengthAdjust="spacingAndGlyphs">4000</text>
<line x1="184.3" y1="174.2" x2="184.3" y2="171.7" stroke="#8c8c8c" stroke-width="1" />
<line x1="184.3" y1="51" x2="184.3" y2="53.5" stroke="#8c8c8c" stroke-width="1" />
<text x="184.1" y="187.4" font-size="10.6" font-family='"Liberation Serif", serif' text-anchor="middle" fill="#3a3a3a" textLength="21.9" lengthAdjust="spacingAndGlyphs">3000</text>
<line x1="234.4" y1="174.2" x2="234.4" y2="171.7" stroke="#8c8c8c" stroke-width="1" />
<line x1="234.4" y1="51" x2="234.4" y2="53.5" stroke="#8c8c8c" stroke-width="1" />
<text x="234.2" y="187.4" font-size="10.6" font-family='"Liberation Serif", serif' text-anchor="middle" fill="#3a3a3a" textLength="21.9" lengthAdjust="spacingAndGlyphs">2000</text>
<line x1="284.5" y1="174.2" x2="284.5" y2="171.7" stroke="#8c8c8c" stroke-width="1" />
<line x1="284.5" y1="51" x2="284.5" y2="53.5" stroke="#8c8c8c" stroke-width="1" />
<text x="284.3" y="187.4" font-size="10.6" font-family='"Liberation Serif", serif' text-anchor="middle" fill="#3a3a3a" textLength="21.9" lengthAdjust="spacingAndGlyphs">1000</text>
<line x1="84.2" y1="156.5" x2="86.7" y2="156.5" stroke="#8c8c8c" stroke-width="1" />
<line x1="309.5" y1="156.5" x2="307" y2="156.5" stroke="#8c8c8c" stroke-width="1" />
<text x="80.2" y="159.7" font-size="10.6" font-family='"Liberation Serif", serif' text-anchor="end" fill="#3a3a3a">0</text>
<line x1="84.2" y1="121.3" x2="86.7" y2="121.3" stroke="#8c8c8c" stroke-width="1" />
<line x1="309.5" y1="121.3" x2="307" y2="121.3" stroke="#8c8c8c" stroke-width="1" />
<text x="80.2" y="124.5" font-size="10.6" font-family='"Liberation Serif", serif' text-anchor="end" fill="#3a3a3a">2</text>
<line x1="84.2" y1="86.2" x2="86.7" y2="86.2" stroke="#8c8c8c" stroke-width="1" />
<line x1="309.5" y1="86.2" x2="307" y2="86.2" stroke="#8c8c8c" stroke-width="1" />
<text x="80.2" y="89.4" font-size="10.6" font-family='"Liberation Serif", serif' text-anchor="end" fill="#3a3a3a">4</text>
<line x1="84.2" y1="51" x2="86.7" y2="51" stroke="#8c8c8c" stroke-width="1" />
<line x1="309.5" y1="51" x2="307" y2="51" stroke="#8c8c8c" stroke-width="1" />
<text x="80.2" y="54.2" font-size="10.6" font-family='"Liberation Serif", serif' text-anchor="end" fill="#3a3a3a">6</text>
<text x="175" y="201.4" font-size="11.025" font-family='"Liberation Serif", serif' text-anchor="start" fill="#3a3a3a" font-style="italic">ν</text>
<path d="M176.05 194.56 q1.10 -1.36 2.21 0 t2.21 0" fill="none" stroke="#3a3a3a" stroke-width="0.79"/>
<text x="185.1" y="202.5" font-size="12.81" font-family='"Liberation Serif", serif' text-anchor="start" fill="#3a3a3a">[</text>
<text x="189.4" y="201.4" font-size="10.5" font-family='"Liberation Serif", serif' text-anchor="start" fill="#3a3a3a" textLength="15.8" lengthAdjust="spacingAndGlyphs">cm</text>
<text x="205.5" y="197.6" font-size="7.56" font-family='"Liberation Serif", serif' text-anchor="start" fill="#3a3a3a" textLength="7.9" lengthAdjust="spacingAndGlyphs">−1</text>
<text x="213.3" y="202.5" font-size="12.81" font-family='"Liberation Serif", serif' text-anchor="start" fill="#3a3a3a">]</text>
<g transform="translate(69.0 123.2) rotate(-90)">
<text x="0" y="0" font-size="12.8" font-family='"Liberation Serif", serif' text-anchor="start" fill="#3a3a3a" font-style="italic" textLength="8.8" lengthAdjust="spacingAndGlyphs">Q</text>
<text x="10" y="1.7" font-size="8.6" font-family='"Liberation Serif", serif' text-anchor="start" fill="#3a3a3a" font-style="italic" textLength="10.6" lengthAdjust="spacingAndGlyphs">ext</text>
</g>
<rect x="136" y="1.2" width="121.3" height="36.8" fill="#fff" stroke="#555" stroke-width="0.8"/>
<line x1="137.4" y1="8.3" x2="158" y2="8.3" stroke="#0072BD" stroke-width="1.3" />
<line x1="137.4" y1="20.1" x2="158" y2="20.1" stroke="#D95319" stroke-width="1.1" stroke-dasharray="4 3.5"/>
<line x1="137.4" y1="31.7" x2="158" y2="31.7" stroke="#EDB120" stroke-width="1" stroke-dasharray="4.5 1.8 1 1.8"/>
<text x="160.2" y="10.9" font-size="10" font-family='"Liberation Serif", serif' text-anchor="start" fill="#222" textLength="48.7" lengthAdjust="spacingAndGlyphs">Mie Theory</text>
<text x="160.2" y="22.5" font-size="10" font-family='"Liberation Serif", serif' text-anchor="start" fill="#222" textLength="75.5" lengthAdjust="spacingAndGlyphs">Approximation of</text>
<text x="238.4" y="22.5" font-size="10.5" font-family='"Liberation Serif", serif' text-anchor="start" fill="#222" font-style="italic">Q</text>
<text x="246.2" y="24.2" font-size="7.2" font-family='"Liberation Serif", serif' text-anchor="start" fill="#222" font-style="italic" textLength="9.2" lengthAdjust="spacingAndGlyphs">ext</text>
<text x="160.2" y="34.3" font-size="10" font-family='"Liberation Serif", serif' text-anchor="start" fill="#222" textLength="12.9" lengthAdjust="spacingAndGlyphs">2(1</text>
<text x="175.4" y="34.3" font-size="10" font-family='"Liberation Serif", serif' text-anchor="start" fill="#222" textLength="6.5" lengthAdjust="spacingAndGlyphs">−</text>
<text x="185" y="34.3" font-size="10" font-family='"Liberation Serif", serif' text-anchor="start" fill="#222" textLength="12.8" lengthAdjust="spacingAndGlyphs">cos</text>
<text x="198.6" y="34.3" font-size="10" font-family='"Liberation Serif", serif' text-anchor="start" fill="#222" textLength="9.3" lengthAdjust="spacingAndGlyphs"><tspan font-style="italic">ρ</tspan>)</text>
<text x="190.8" y="228.8" font-size="14.4" font-family='"Liberation Sans", sans-serif' text-anchor="middle" fill="#111" font-weight="bold">(a)</text>
<clipPath id="cb"><rect x="378.5" y="40" width="226" height="137"/></clipPath>
<g clip-path="url(#cb)">
<path d="M378.7,130.4 379.0,130.3 379.3,130.2 379.5,130.0 379.8,129.9 380.1,129.8 380.4,129.6 380.7,129.5 381.0,129.4 381.2,129.3 381.5,129.1 381.8,129.0 382.1,128.9 382.4,128.7 382.7,128.2 382.9,127.3 383.2,126.8 383.5,127.3 383.8,127.7 384.1,127.7 384.3,127.4 384.6,127.2 384.9,127.0 385.2,126.7 385.5,126.4 385.8,126.1 386.0,125.8 386.3,125.5 386.6,125.2 386.9,124.9 387.2,124.7 387.5,124.4 387.7,124.1 388.0,123.9 388.3,123.7 388.6,123.5 388.9,123.3 389.1,123.1 389.4,123.0 389.7,122.9 390.0,122.6 390.3,122.0 390.6,121.2 390.8,121.3 391.1,122.0 391.4,122.4 391.7,122.4 392.0,122.4 392.3,122.3 392.5,122.2 392.8,122.1 393.1,121.9 393.4,121.8 393.7,121.6 393.9,121.4 394.2,121.1 394.5,120.9 394.8,120.6 395.1,120.3 395.4,119.9 395.6,119.6 395.9,119.2 396.2,118.9 396.5,118.5 396.8,118.1 397.1,117.8 397.3,117.4 397.6,116.8 397.9,115.8 398.2,115.1 398.5,115.4 398.7,115.8 399.0,115.8 399.3,115.6 399.6,115.5 399.9,115.4 400.2,115.3 400.4,115.2 400.7,115.1 401.0,115.0 401.3,115.0 401.6,114.9 401.9,114.9 402.1,114.8 402.4,114.8 402.7,114.7 403.0,114.6 403.3,114.6 403.5,114.5 403.8,114.4 404.1,114.2 404.4,114.1 404.7,113.9 405.0,113.7 405.2,113.0 405.5,112.1 405.8,112.0 406.1,112.5 406.4,112.8 406.7,112.7 406.9,112.6 407.2,112.4 407.5,112.3 407.8,112.1 408.1,112.0 408.3,111.9 408.6,111.8 408.9,111.7 409.2,111.6 409.5,111.5 409.8,111.4 410.0,111.3 410.3,111.3 410.6,111.2 410.9,111.1 411.2,111.0 411.5,110.9 411.7,110.9 412.0,110.8 412.3,110.7 412.6,110.3 412.9,109.5 413.1,108.9 413.4,109.3 413.7,109.9 414.0,110.1 414.3,110.1 414.6,110.0 414.8,110.0 415.1,110.0 415.4,110.0 415.7,110.0 416.0,110.1 416.3,110.1 416.5,110.2 416.8,110.3 417.1,110.4 417.4,110.6 417.7,110.7 417.9,110.9 418.2,111.0 418.5,111.2 418.8,111.4 419.1,111.5 419.4,111.7 419.6,111.8 419.9,111.9 420.2,111.5 420.5,110.9 420.8,110.8 421.1,111.6 421.3,112.1 421.6,112.3 421.9,112.3 422.2,112.2 422.5,112.2 422.7,112.2 423.0,112.1 423.3,112.1 423.6,112.0 423.9,112.0 424.2,112.0 424.4,112.0 424.7,112.0 425.0,112.1 425.3,112.1 425.6,112.3 425.9,112.4 426.1,112.6 426.4,112.8 426.7,113.0 427.0,113.3 427.3,113.5 427.5,113.6 427.8,113.3 428.1,113.0 428.4,113.7 428.7,114.8 429.0,115.4 429.2,115.8 429.5,116.1 429.8,116.5 430.1,116.7 430.4,117.0 430.7,117.3 430.9,117.5 431.2,117.7 431.5,117.9 431.8,118.1 432.1,118.2 432.3,118.4 432.6,118.5 432.9,118.7 433.2,118.8 433.5,118.9 433.8,119.0 434.0,119.2 434.3,119.3 434.6,119.4 434.9,119.5 435.2,119.3 435.5,118.8 435.7,118.7 436.0,119.6 436.3,120.4 436.6,120.8 436.9,121.1 437.1,121.3 437.4,121.6 437.7,121.9 438.0,122.1 438.3,122.4 438.6,122.6 438.8,122.9 439.1,123.2 439.4,123.4 439.7,123.7 440.0,123.9 440.3,124.1 440.5,124.4 440.8,124.6 441.1,124.8 441.4,125.1 441.7,125.3 441.9,125.5 442.2,125.8 442.5,125.9 442.8,125.5 443.1,125.1 443.4,125.6 443.6,126.6 443.9,127.3 444.2,127.6 444.5,127.9 444.8,128.2 445.1,128.5 445.3,128.8 445.6,129.1 445.9,129.4 446.2,129.7 446.5,130.0 446.7,130.2 447.0,130.4 447.3,130.6 447.6,130.8 447.9,131.0 448.2,131.1 448.4,131.2 448.7,131.3 449.0,131.4 449.3,131.5 449.6,131.5 449.9,131.5 450.1,131.2 450.4,130.5 450.7,130.2 451.0,130.8 451.3,131.5 451.5,131.8 451.8,131.9 452.1,132.0 452.4,132.1 452.7,132.3 453.0,132.4 453.2,132.6 453.5,132.8 453.8,133.1 454.1,133.3 454.4,133.6 454.7,133.9 454.9,134.1 455.2,134.4 455.5,134.7 455.8,135.0 456.1,135.2 456.3,135.4 456.6,135.6 456.9,135.8 457.2,136.0 457.5,136.0 457.8,135.6 458.0,134.9 458.3,135.0 458.6,135.8 458.9,136.2 459.2,136.2 459.5,136.2 459.7,136.1 460.0,136.0 460.3,135.9 460.6,135.8 460.9,135.7 461.1,135.5 461.4,135.4 461.7,135.3 462.0,135.3 462.3,135.2 462.6,135.1 462.8,135.1 463.1,135.1 463.4,135.0 463.7,135.0 464.0,135.0 464.3,135.1 464.5,135.1 464.8,135.1 465.1,134.8 465.4,134.2 465.7,133.7 465.9,134.2 466.2,134.9 466.5,135.1 466.8,135.1 467.1,135.1 467.4,135.0 467.6,134.9 467.9,134.8 468.2,134.7 468.5,134.6 468.8,134.5 469.1,134.4 469.3,134.2 469.6,134.1 469.9,133.9 470.2,133.8 470.5,133.6 470.7,133.5 471.0,133.3 471.3,133.2 471.6,133.0 471.9,132.9 472.2,132.7 472.4,132.5 472.7,131.9 473.0,131.0 473.3,130.7 473.6,131.3 473.9,131.6 474.1,131.5 474.4,131.3 474.7,131.1 475.0,130.8 475.3,130.6 475.5,130.3 475.8,130.0 476.1,129.6 476.4,129.3 476.7,129.0 477.0,128.6 477.2,128.3 477.5,128.0 477.8,127.6 478.1,127.3 478.4,127.0 478.7,126.7 478.9,126.4 479.2,126.1 479.5,125.8 479.8,125.6 480.1,125.2 480.3,124.3 480.6,123.6 480.9,123.8 481.2,124.4 481.5,124.6 481.8,124.5 482.0,124.4 482.3,124.3 482.6,124.1 482.9,124.0 483.2,123.8 483.5,123.7 483.7,123.5 484.0,123.3 484.3,123.0 484.6,122.7 484.9,122.4 485.1,122.1 485.4,121.8 485.7,121.4 486.0,121.0 486.3,120.6 486.6,120.2 486.8,119.7 487.1,119.3 487.4,118.8 487.7,117.9 488.0,116.8 488.3,116.1 488.5,116.4 488.8,116.6 489.1,116.4 489.4,116.1 489.7,115.8 489.9,115.5 490.2,115.2 490.5,115.0 490.8,114.8 491.1,114.6 491.4,114.5 491.6,114.3 491.9,114.2 492.2,114.0 492.5,113.9 492.8,113.8 493.1,113.6 493.3,113.5 493.6,113.4 493.9,113.2 494.2,113.0 494.5,112.9 494.7,112.7 495.0,112.3 495.3,111.5 495.6,110.6 495.9,110.6 496.2,111.1 496.4,111.2 496.7,111.0 497.0,110.8 497.3,110.5 497.6,110.3 497.9,110.0 498.1,109.8 498.4,109.6 498.7,109.4 499.0,109.2 499.3,109.0 499.5,108.8 499.8,108.7 500.1,108.5 500.4,108.4 500.7,108.2 501.0,108.1 501.2,108.0 501.5,107.8 501.8,107.7 502.1,107.5 502.4,107.4 502.7,106.9 502.9,106.0 503.2,105.5 503.5,106.0 503.8,106.5 504.1,106.5 504.3,106.4 504.6,106.3 504.9,106.2 505.2,106.1 505.5,106.0 505.8,105.9 506.0,105.9 506.3,105.8 506.6,105.8 506.9,105.8 507.2,105.9 507.5,105.9 507.7,106.0 508.0,106.1 508.3,106.2 508.6,106.3 508.9,106.5 509.1,106.6 509.4,106.7 509.7,106.9 510.0,106.9 510.3,106.5 510.6,105.9 510.8,106.1 511.1,106.9 511.4,107.4 511.7,107.5 512.0,107.6 512.3,107.6 512.5,107.6 512.8,107.5 513.1,107.5 513.4,107.4 513.7,107.4 513.9,107.4 514.2,107.3 514.5,107.3 514.8,107.3 515.1,107.2 515.4,107.3 515.6,107.3 515.9,107.4 516.2,107.5 516.5,107.6 516.8,107.8 517.1,108.0 517.3,108.2 517.6,108.2 517.9,107.8 518.2,107.6 518.5,108.5 518.7,109.5 519.0,110.1 519.3,110.5 519.6,110.9 519.9,111.3 520.2,111.6 520.4,112.0 520.7,112.3 521.0,112.6 521.3,112.9 521.6,113.2 521.9,113.5 522.1,113.8 522.4,114.0 522.7,114.2 523.0,114.4 523.3,114.6 523.5,114.8 523.8,115.0 524.1,115.2 524.4,115.3 524.7,115.5 525.0,115.6 525.2,115.3 525.5,114.8 525.8,115.0 526.1,116.0 526.4,116.7 526.7,117.1 526.9,117.4 527.2,117.7 527.5,118.0 527.8,118.3 528.1,118.7 528.3,119.0 528.6,119.4 528.9,119.7 529.2,120.0 529.5,120.4 529.8,120.7 530.0,121.1 530.3,121.4 530.6,121.7 530.9,122.0 531.2,122.4 531.5,122.7 531.7,123.0 532.0,123.3 532.3,123.6 532.6,123.7 532.9,123.4 533.1,123.1 533.4,123.8 533.7,124.9 534.0,125.6 534.3,126.0 534.6,126.4 534.8,126.7 535.1,127.1 535.4,127.5 535.7,127.9 536.0,128.3 536.3,128.7 536.5,129.1 536.8,129.4 537.1,129.8 537.4,130.2 537.7,130.5 537.9,130.8 538.2,131.1 538.5,131.4 538.8,131.6 539.1,131.8 539.4,132.0 539.6,132.2 539.9,132.3 540.2,132.0 540.5,131.4 540.8,131.4 541.1,132.2 541.3,132.9 541.6,133.1 541.9,133.3 542.2,133.4 542.5,133.6 542.7,133.8 543.0,134.0 543.3,134.2 543.6,134.4 543.9,134.7 544.2,135.0 544.4,135.3 544.7,135.6 545.0,135.9 545.3,136.3 545.6,136.7 545.9,137.0 546.1,137.4 546.4,137.7 546.7,138.1 547.0,138.4 547.3,138.7 547.5,138.8 547.8,138.4 548.1,138.0 548.4,138.4 548.7,139.3 549.0,139.8 549.2,140.0 549.5,140.0 549.8,140.1 550.1,140.1 550.4,140.1 550.7,140.0 550.9,140.0 551.2,139.9 551.5,139.9 551.8,139.8 552.1,139.8 552.3,139.7 552.6,139.7 552.9,139.7 553.2,139.6 553.5,139.6 553.8,139.7 554.0,139.7 554.3,139.7 554.6,139.8 554.9,139.8 555.2,139.5 555.5,138.8 555.7,138.6 556.0,139.2 556.3,139.9 556.6,140.2 556.9,140.2 557.1,140.2 557.4,140.2 557.7,140.2 558.0,140.2 558.3,140.1 558.6,140.1 558.8,140.0 559.1,139.9 559.4,139.8 559.7,139.7 560.0,139.5 560.3,139.4 560.5,139.3 560.8,139.1 561.1,138.9 561.4,138.8 561.7,138.6 561.9,138.5 562.2,138.3 562.5,138.0 562.8,137.3 563.1,136.4 563.4,136.3 563.6,136.9 563.9,137.1 564.2,137.0 564.5,136.8 564.8,136.5 565.1,136.3 565.3,136.0 565.6,135.7 565.9,135.4 566.2,135.0 566.5,134.7 566.7,134.3 567.0,133.9 567.3,133.5 567.6,133.1 567.9,132.7 568.2,132.3 568.4,131.8 568.7,131.4 569.0,131.0 569.3,130.6 569.6,130.2 569.9,129.8 570.1,129.2 570.4,128.1 570.7,127.3 571.0,127.6 571.3,128.0 571.5,127.9 571.8,127.7 572.1,127.4 572.4,127.2 572.7,127.0 573.0,126.7 573.2,126.5 573.5,126.2 573.8,126.0 574.1,125.7 574.4,125.4 574.7,125.0 574.9,124.7 575.2,124.3 575.5,123.8 575.8,123.4 576.1,122.9 576.3,122.4 576.6,121.9 576.9,121.3 577.2,120.7 577.5,120.1 577.8,119.0 578.0,117.6 578.3,117.0 578.6,117.2 578.9,117.1 579.2,116.6 579.5,116.1 579.7,115.5 580.0,115.0 580.3,114.5 580.6,114.1 580.9,113.6 581.1,113.2 581.4,112.8 581.7,112.4 582.0,112.1 582.3,111.8 582.6,111.4 582.8,111.1 583.1,110.8 583.4,110.5 583.7,110.2 584.0,109.9 584.3,109.6 584.5,109.2 584.8,108.9 585.1,108.3 585.4,107.2 585.7,106.3 585.9,106.3 586.2,106.6 586.5,106.5 586.8,106.1 587.1,105.7 587.4,105.3 587.6,104.8 587.9,104.4 588.2,103.9 588.5,103.5 588.8,103.1 589.1,102.7 589.3,102.3 589.6,101.9 589.9,101.5 590.2,101.2 590.5,100.8 590.7,100.5 591.0,100.1 591.3,99.8 591.6,99.5 591.9,99.2 592.2,98.8 592.4,98.4 592.7,97.7 593.0,96.6 593.3,96.2 593.6,96.5 593.9,96.8 594.1,96.6 594.4,96.3 594.7,96.0 595.0,95.7 595.3,95.4 595.5,95.1 595.8,94.8 596.1,94.6 596.4,94.3 596.7,94.1 597.0,93.9 597.2,93.7 597.5,93.5 597.8,93.4 598.1,93.3 598.4,93.2 598.7,93.2 598.9,93.1 599.2,93.1 599.5,93.1 599.8,93.0 600.1,92.9 600.3,92.2 600.6,91.6 600.9,91.9 601.2,92.6 601.5,93.0 601.8,93.0 602.0,92.9 602.3,92.8 602.6,92.8 602.9,92.7 603.2,92.5 603.5,92.4 603.7,92.3 604.0,92.1 604.3,91.9" fill="none" stroke="#0072BD" stroke-width="1.0" stroke-linejoin="round" />
<path d="M378.7,135.6 379.0,135.4 379.3,135.2 379.5,135.0 379.8,134.8 380.1,134.5 380.4,134.3 380.7,134.0 381.0,133.8 381.2,133.6 381.5,133.3 381.8,133.1 382.1,132.8 382.4,132.5 382.7,132.3 382.9,132.0 383.2,131.7 383.5,131.5 383.8,131.2 384.1,130.9 384.3,130.6 384.6,130.4 384.9,130.1 385.2,129.8 385.5,129.5 385.8,129.2 386.0,128.9 386.3,128.6 386.6,128.3 386.9,128.0 387.2,127.7 387.5,127.4 387.7,127.1 388.0,126.8 388.3,126.5 388.6,126.2 388.9,125.9 389.1,125.6 389.4,125.3 389.7,124.9 390.0,124.6 390.3,124.3 390.6,124.0 390.8,123.7 391.1,123.4 391.4,123.1 391.7,122.7 392.0,122.4 392.3,122.1 392.5,121.8 392.8,121.5 393.1,121.2 393.4,120.9 393.7,120.6 393.9,120.3 394.2,120.0 394.5,119.6 394.8,119.3 395.1,119.0 395.4,118.7 395.6,118.4 395.9,118.1 396.2,117.8 396.5,117.5 396.8,117.3 397.1,117.0 397.3,116.7 397.6,116.4 397.9,116.1 398.2,115.8 398.5,115.5 398.7,115.3 399.0,115.0 399.3,114.7 399.6,114.5 399.9,114.2 400.2,113.9 400.4,113.7 400.7,113.4 401.0,113.2 401.3,112.9 401.6,112.7 401.9,112.4 402.1,112.2 402.4,112.0 402.7,111.7 403.0,111.5 403.3,111.3 403.5,111.1 403.8,110.9 404.1,110.7 404.4,110.5 404.7,110.3 405.0,110.1 405.2,109.9 405.5,109.7 405.8,109.5 406.1,109.3 406.4,109.2 406.7,109.0 406.9,108.8 407.2,108.7 407.5,108.5 407.8,108.4 408.1,108.3 408.3,108.1 408.6,108.0 408.9,107.9 409.2,107.8 409.5,107.6 409.8,107.5 410.0,107.4 410.3,107.3 410.6,107.2 410.9,107.2 411.2,107.1 411.5,107.0 411.7,106.9 412.0,106.9 412.3,106.8 412.6,106.8 412.9,106.7 413.1,106.7 413.4,106.6 413.7,106.6 414.0,106.6 414.3,106.6 414.6,106.6 414.8,106.6 415.1,106.6 415.4,106.6 415.7,106.6 416.0,106.6 416.3,106.6 416.5,106.7 416.8,106.7 417.1,106.7 417.4,106.8 417.7,106.8 417.9,106.9 418.2,106.9 418.5,107.0 418.8,107.0 419.1,107.1 419.4,107.2 419.6,107.3 419.9,107.3 420.2,107.4 420.5,107.5 420.8,107.6 421.1,107.7 421.3,107.8 421.6,107.9 421.9,108.1 422.2,108.2 422.5,108.3 422.7,108.4 423.0,108.6 423.3,108.7 423.6,108.8 423.9,109.0 424.2,109.1 424.4,109.3 424.7,109.5 425.0,109.6 425.3,109.8 425.6,110.0 425.9,110.1 426.1,110.3 426.4,110.5 426.7,110.7 427.0,110.9 427.3,111.1 427.5,111.3 427.8,111.5 428.1,111.7 428.4,111.9 428.7,112.1 429.0,112.3 429.2,112.5 429.5,112.7 429.8,113.0 430.1,113.2 430.4,113.4 430.7,113.6 430.9,113.9 431.2,114.1 431.5,114.4 431.8,114.6 432.1,114.8 432.3,115.1 432.6,115.3 432.9,115.6 433.2,115.8 433.5,116.1 433.8,116.4 434.0,116.6 434.3,116.9 434.6,117.1 434.9,117.4 435.2,117.7 435.5,117.9 435.7,118.2 436.0,118.5 436.3,118.8 436.6,119.0 436.9,119.3 437.1,119.6 437.4,119.9 437.7,120.1 438.0,120.4 438.3,120.7 438.6,121.0 438.8,121.3 439.1,121.5 439.4,121.8 439.7,122.1 440.0,122.4 440.3,122.7 440.5,122.9 440.8,123.2 441.1,123.5 441.4,123.8 441.7,124.1 441.9,124.3 442.2,124.6 442.5,124.9 442.8,125.2 443.1,125.5 443.4,125.7 443.6,126.0 443.9,126.3 444.2,126.5 444.5,126.8 444.8,127.1 445.1,127.4 445.3,127.6 445.6,127.9 445.9,128.2 446.2,128.4 446.5,128.7 446.7,128.9 447.0,129.2 447.3,129.4 447.6,129.7 447.9,129.9 448.2,130.2 448.4,130.4 448.7,130.7 449.0,130.9 449.3,131.2 449.6,131.4 449.9,131.6 450.1,131.9 450.4,132.1 450.7,132.3 451.0,132.5 451.3,132.8 451.5,133.0 451.8,133.2 452.1,133.4 452.4,133.6 452.7,133.8 453.0,134.0 453.2,134.2 453.5,134.4 453.8,134.6 454.1,134.7 454.4,134.9 454.7,135.1 454.9,135.3 455.2,135.4 455.5,135.6 455.8,135.8 456.1,135.9 456.3,136.1 456.6,136.2 456.9,136.4 457.2,136.5 457.5,136.6 457.8,136.8 458.0,136.9 458.3,137.0 458.6,137.1 458.9,137.2 459.2,137.4 459.5,137.5 459.7,137.6 460.0,137.7 460.3,137.7 460.6,137.8 460.9,137.9 461.1,138.0 461.4,138.1 461.7,138.1 462.0,138.2 462.3,138.2 462.6,138.3 462.8,138.3 463.1,138.4 463.4,138.4 463.7,138.4 464.0,138.5 464.3,138.5 464.5,138.5 464.8,138.5 465.1,138.5 465.4,138.5 465.7,138.5 465.9,138.5 466.2,138.5 466.5,138.5 466.8,138.5 467.1,138.4 467.4,138.4 467.6,138.3 467.9,138.3 468.2,138.2 468.5,138.1 468.8,138.1 469.1,138.0 469.3,137.9 469.6,137.8 469.9,137.7 470.2,137.6 470.5,137.5 470.7,137.4 471.0,137.2 471.3,137.1 471.6,137.0 471.9,136.8 472.2,136.7 472.4,136.5 472.7,136.4 473.0,136.2 473.3,136.0 473.6,135.9 473.9,135.7 474.1,135.5 474.4,135.3 474.7,135.1 475.0,134.9 475.3,134.7 475.5,134.5 475.8,134.2 476.1,134.0 476.4,133.8 476.7,133.6 477.0,133.3 477.2,133.1 477.5,132.8 477.8,132.6 478.1,132.3 478.4,132.1 478.7,131.8 478.9,131.5 479.2,131.2 479.5,131.0 479.8,130.7 480.1,130.4 480.3,130.1 480.6,129.8 480.9,129.5 481.2,129.2 481.5,128.9 481.8,128.6 482.0,128.3 482.3,128.0 482.6,127.7 482.9,127.3 483.2,127.0 483.5,126.7 483.7,126.4 484.0,126.0 484.3,125.7 484.6,125.4 484.9,125.0 485.1,124.7 485.4,124.4 485.7,124.0 486.0,123.7 486.3,123.3 486.6,123.0 486.8,122.7 487.1,122.3 487.4,122.0 487.7,121.6 488.0,121.3 488.3,120.9 488.5,120.6 488.8,120.2 489.1,119.9 489.4,119.5 489.7,119.2 489.9,118.8 490.2,118.5 490.5,118.1 490.8,117.8 491.1,117.4 491.4,117.1 491.6,116.8 491.9,116.4 492.2,116.1 492.5,115.7 492.8,115.4 493.1,115.0 493.3,114.7 493.6,114.4 493.9,114.0 494.2,113.7 494.5,113.4 494.7,113.1 495.0,112.7 495.3,112.4 495.6,112.1 495.9,111.8 496.2,111.5 496.4,111.2 496.7,110.8 497.0,110.5 497.3,110.2 497.6,109.9 497.9,109.7 498.1,109.4 498.4,109.1 498.7,108.8 499.0,108.5 499.3,108.2 499.5,108.0 499.8,107.7 500.1,107.4 500.4,107.2 500.7,106.9 501.0,106.7 501.2,106.4 501.5,106.2 501.8,106.0 502.1,105.7 502.4,105.5 502.7,105.3 502.9,105.1 503.2,104.9 503.5,104.7 503.8,104.5 504.1,104.3 504.3,104.1 504.6,103.9 504.9,103.7 505.2,103.5 505.5,103.4 505.8,103.2 506.0,103.1 506.3,102.9 506.6,102.8 506.9,102.6 507.2,102.5 507.5,102.4 507.7,102.3 508.0,102.1 508.3,102.0 508.6,101.9 508.9,101.8 509.1,101.8 509.4,101.7 509.7,101.6 510.0,101.5 510.3,101.5 510.6,101.4 510.8,101.4 511.1,101.3 511.4,101.3 511.7,101.3 512.0,101.2 512.3,101.2 512.5,101.2 512.8,101.2 513.1,101.2 513.4,101.2 513.7,101.2 513.9,101.3 514.2,101.3 514.5,101.3 514.8,101.4 515.1,101.5 515.4,101.5 515.6,101.6 515.9,101.7 516.2,101.8 516.5,101.9 516.8,102.0 517.1,102.1 517.3,102.2 517.6,102.3 517.9,102.4 518.2,102.6 518.5,102.7 518.7,102.9 519.0,103.0 519.3,103.2 519.6,103.4 519.9,103.5 520.2,103.7 520.4,103.9 520.7,104.1 521.0,104.3 521.3,104.5 521.6,104.8 521.9,105.0 522.1,105.2 522.4,105.5 522.7,105.7 523.0,105.9 523.3,106.2 523.5,106.5 523.8,106.7 524.1,107.0 524.4,107.3 524.7,107.6 525.0,107.9 525.2,108.2 525.5,108.4 525.8,108.8 526.1,109.1 526.4,109.4 526.7,109.7 526.9,110.0 527.2,110.3 527.5,110.7 527.8,111.0 528.1,111.4 528.3,111.7 528.6,112.0 528.9,112.4 529.2,112.7 529.5,113.1 529.8,113.5 530.0,113.8 530.3,114.2 530.6,114.6 530.9,114.9 531.2,115.3 531.5,115.7 531.7,116.1 532.0,116.5 532.3,116.8 532.6,117.2 532.9,117.6 533.1,118.0 533.4,118.4 533.7,118.8 534.0,119.2 534.3,119.6 534.6,120.0 534.8,120.4 535.1,120.8 535.4,121.2 535.7,121.5 536.0,121.9 536.3,122.3 536.5,122.7 536.8,123.1 537.1,123.5 537.4,123.9 537.7,124.3 537.9,124.7 538.2,125.1 538.5,125.5 538.8,125.9 539.1,126.3 539.4,126.7 539.6,127.1 539.9,127.4 540.2,127.8 540.5,128.2 540.8,128.6 541.1,129.0 541.3,129.3 541.6,129.7 541.9,130.1 542.2,130.4 542.5,130.8 542.7,131.1 543.0,131.5 543.3,131.9 543.6,132.2 543.9,132.5 544.2,132.9 544.4,133.2 544.7,133.6 545.0,133.9 545.3,134.2 545.6,134.5 545.9,134.8 546.1,135.1 546.4,135.4 546.7,135.7 547.0,136.0 547.3,136.3 547.5,136.6 547.8,136.9 548.1,137.2 548.4,137.4 548.7,137.7 549.0,137.9 549.2,138.2 549.5,138.4 549.8,138.7 550.1,138.9 550.4,139.1 550.7,139.4 550.9,139.6 551.2,139.8 551.5,140.0 551.8,140.2 552.1,140.4 552.3,140.5 552.6,140.7 552.9,140.9 553.2,141.0 553.5,141.2 553.8,141.3 554.0,141.5 554.3,141.6 554.6,141.7 554.9,141.8 555.2,141.9 555.5,142.0 555.7,142.1 556.0,142.2 556.3,142.3 556.6,142.4 556.9,142.4 557.1,142.5 557.4,142.5 557.7,142.6 558.0,142.6 558.3,142.6 558.6,142.7 558.8,142.7 559.1,142.7 559.4,142.7 559.7,142.7 560.0,142.6 560.3,142.6 560.5,142.6 560.8,142.5 561.1,142.5 561.4,142.4 561.7,142.3 561.9,142.2 562.2,142.2 562.5,142.0 562.8,141.9 563.1,141.8 563.4,141.7 563.6,141.6 563.9,141.4 564.2,141.3 564.5,141.1 564.8,140.9 565.1,140.8 565.3,140.6 565.6,140.4 565.9,140.2 566.2,140.0 566.5,139.7 566.7,139.5 567.0,139.3 567.3,139.0 567.6,138.8 567.9,138.5 568.2,138.3 568.4,138.0 568.7,137.7 569.0,137.4 569.3,137.2 569.6,136.9 569.9,136.6 570.1,136.2 570.4,135.9 570.7,135.6 571.0,135.3 571.3,134.9 571.5,134.6 571.8,134.2 572.1,133.9 572.4,133.5 572.7,133.1 573.0,132.8 573.2,132.4 573.5,132.0 573.8,131.6 574.1,131.2 574.4,130.8 574.7,130.4 574.9,130.0 575.2,129.6 575.5,129.2 575.8,128.7 576.1,128.3 576.3,127.9 576.6,127.5 576.9,127.0 577.2,126.6 577.5,126.1 577.8,125.7 578.0,125.2 578.3,124.8 578.6,124.3 578.9,123.9 579.2,123.4 579.5,122.9 579.7,122.5 580.0,122.0 580.3,121.5 580.6,121.1 580.9,120.6 581.1,120.1 581.4,119.6 581.7,119.2 582.0,118.7 582.3,118.2 582.6,117.7 582.8,117.2 583.1,116.8 583.4,116.3 583.7,115.8 584.0,115.3 584.3,114.8 584.5,114.4 584.8,113.9 585.1,113.4 585.4,112.9 585.7,112.5 585.9,112.0 586.2,111.5 586.5,111.1 586.8,110.6 587.1,110.1 587.4,109.7 587.6,109.2 587.9,108.8 588.2,108.3 588.5,107.8 588.8,107.4 589.1,107.0 589.3,106.5 589.6,106.1 589.9,105.6 590.2,105.2 590.5,104.8 590.7,104.4 591.0,103.9 591.3,103.5 591.6,103.1 591.9,102.7 592.2,102.3 592.4,101.9 592.7,101.5 593.0,101.1 593.3,100.8 593.6,100.4 593.9,100.0 594.1,99.7 594.4,99.3 594.7,98.9 595.0,98.6 595.3,98.3 595.5,97.9 595.8,97.6 596.1,97.3 596.4,97.0 596.7,96.7 597.0,96.4 597.2,96.1 597.5,95.8 597.8,95.5 598.1,95.2 598.4,95.0 598.7,94.7 598.9,94.5 599.2,94.2 599.5,94.0 599.8,93.8 600.1,93.6 600.3,93.3 600.6,93.1 600.9,93.0 601.2,92.8 601.5,92.6 601.8,92.4 602.0,92.3 602.3,92.1 602.6,92.0 602.9,91.8 603.2,91.7 603.5,91.6 603.7,91.5 604.0,91.4 604.3,91.3" fill="none" stroke="#D95319" stroke-width="1.0" stroke-linejoin="round" />
<path d="M378.7,137.2 379.0,137.0 379.3,136.8 379.5,136.5 379.8,136.3 380.1,136.0 380.4,135.8 380.7,135.6 381.0,135.3 381.2,135.0 381.5,134.8 381.8,134.5 382.1,134.2 382.4,134.0 382.7,133.7 382.9,133.4 383.2,133.1 383.5,132.9 383.8,132.6 384.1,132.3 384.3,132.0 384.6,131.7 384.9,131.4 385.2,131.1 385.5,130.8 385.8,130.5 386.0,130.2 386.3,129.9 386.6,129.5 386.9,129.2 387.2,128.9 387.5,128.6 387.7,128.3 388.0,127.9 388.3,127.6 388.6,127.3 388.9,127.0 389.1,126.6 389.4,126.3 389.7,126.0 390.0,125.6 390.3,125.3 390.6,125.0 390.8,124.6 391.1,124.3 391.4,124.0 391.7,123.6 392.0,123.3 392.3,123.0 392.5,122.6 392.8,122.3 393.1,122.0 393.4,121.6 393.7,121.3 393.9,121.0 394.2,120.6 394.5,120.3 394.8,120.0 395.1,119.7 395.4,119.3 395.6,119.0 395.9,118.7 396.2,118.4 396.5,118.0 396.8,117.7 397.1,117.4 397.3,117.1 397.6,116.8 397.9,116.5 398.2,116.2 398.5,115.8 398.7,115.5 399.0,115.2 399.3,114.9 399.6,114.6 399.9,114.3 400.2,114.1 400.4,113.8 400.7,113.5 401.0,113.2 401.3,112.9 401.6,112.7 401.9,112.4 402.1,112.1 402.4,111.8 402.7,111.6 403.0,111.3 403.3,111.1 403.5,110.8 403.8,110.6 404.1,110.3 404.4,110.1 404.7,109.9 405.0,109.7 405.2,109.4 405.5,109.2 405.8,109.0 406.1,108.8 406.4,108.6 406.7,108.4 406.9,108.2 407.2,108.0 407.5,107.8 407.8,107.6 408.1,107.5 408.3,107.3 408.6,107.1 408.9,107.0 409.2,106.8 409.5,106.7 409.8,106.5 410.0,106.4 410.3,106.3 410.6,106.1 410.9,106.0 411.2,105.9 411.5,105.8 411.7,105.7 412.0,105.6 412.3,105.5 412.6,105.4 412.9,105.3 413.1,105.3 413.4,105.2 413.7,105.1 414.0,105.1 414.3,105.0 414.6,105.0 414.8,104.9 415.1,104.9 415.4,104.9 415.7,104.9 416.0,104.9 416.3,104.8 416.5,104.8 416.8,104.8 417.1,104.9 417.4,104.9 417.7,104.9 417.9,104.9 418.2,104.9 418.5,105.0 418.8,105.0 419.1,105.1 419.4,105.1 419.6,105.2 419.9,105.3 420.2,105.3 420.5,105.4 420.8,105.5 421.1,105.6 421.3,105.7 421.6,105.8 421.9,105.9 422.2,106.0 422.5,106.1 422.7,106.2 423.0,106.3 423.3,106.4 423.6,106.6 423.9,106.7 424.2,106.9 424.4,107.0 424.7,107.2 425.0,107.3 425.3,107.5 425.6,107.7 425.9,107.8 426.1,108.0 426.4,108.2 426.7,108.4 427.0,108.6 427.3,108.8 427.5,109.0 427.8,109.2 428.1,109.4 428.4,109.6 428.7,109.8 429.0,110.0 429.2,110.2 429.5,110.5 429.8,110.7 430.1,110.9 430.4,111.2 430.7,111.4 430.9,111.7 431.2,111.9 431.5,112.2 431.8,112.4 432.1,112.7 432.3,113.0 432.6,113.2 432.9,113.5 433.2,113.8 433.5,114.0 433.8,114.3 434.0,114.6 434.3,114.9 434.6,115.2 434.9,115.4 435.2,115.7 435.5,116.0 435.7,116.3 436.0,116.6 436.3,116.9 436.6,117.2 436.9,117.5 437.1,117.8 437.4,118.1 437.7,118.4 438.0,118.7 438.3,119.0 438.6,119.4 438.8,119.7 439.1,120.0 439.4,120.3 439.7,120.6 440.0,120.9 440.3,121.2 440.5,121.6 440.8,121.9 441.1,122.2 441.4,122.5 441.7,122.8 441.9,123.1 442.2,123.4 442.5,123.8 442.8,124.1 443.1,124.4 443.4,124.7 443.6,125.0 443.9,125.3 444.2,125.6 444.5,126.0 444.8,126.3 445.1,126.6 445.3,126.9 445.6,127.2 445.9,127.5 446.2,127.8 446.5,128.1 446.7,128.4 447.0,128.7 447.3,129.0 447.6,129.3 447.9,129.6 448.2,129.9 448.4,130.2 448.7,130.5 449.0,130.7 449.3,131.0 449.6,131.3 449.9,131.6 450.1,131.8 450.4,132.1 450.7,132.4 451.0,132.6 451.3,132.9 451.5,133.2 451.8,133.4 452.1,133.7 452.4,133.9 452.7,134.2 453.0,134.4 453.2,134.6 453.5,134.9 453.8,135.1 454.1,135.3 454.4,135.6 454.7,135.8 454.9,136.0 455.2,136.2 455.5,136.4 455.8,136.6 456.1,136.8 456.3,137.0 456.6,137.2 456.9,137.4 457.2,137.5 457.5,137.7 457.8,137.9 458.0,138.1 458.3,138.2 458.6,138.4 458.9,138.5 459.2,138.7 459.5,138.8 459.7,138.9 460.0,139.1 460.3,139.2 460.6,139.3 460.9,139.4 461.1,139.5 461.4,139.7 461.7,139.8 462.0,139.8 462.3,139.9 462.6,140.0 462.8,140.1 463.1,140.2 463.4,140.2 463.7,140.3 464.0,140.4 464.3,140.4 464.5,140.4 464.8,140.5 465.1,140.5 465.4,140.6 465.7,140.6 465.9,140.6 466.2,140.6 466.5,140.6 466.8,140.6 467.1,140.6 467.4,140.6 467.6,140.6 467.9,140.5 468.2,140.5 468.5,140.5 468.8,140.4 469.1,140.4 469.3,140.3 469.6,140.2 469.9,140.1 470.2,140.1 470.5,140.0 470.7,139.9 471.0,139.8 471.3,139.7 471.6,139.5 471.9,139.4 472.2,139.3 472.4,139.1 472.7,139.0 473.0,138.8 473.3,138.7 473.6,138.5 473.9,138.3 474.1,138.2 474.4,138.0 474.7,137.8 475.0,137.6 475.3,137.4 475.5,137.2 475.8,137.0 476.1,136.8 476.4,136.5 476.7,136.3 477.0,136.1 477.2,135.8 477.5,135.6 477.8,135.3 478.1,135.1 478.4,134.8 478.7,134.5 478.9,134.3 479.2,134.0 479.5,133.7 479.8,133.4 480.1,133.1 480.3,132.8 480.6,132.5 480.9,132.2 481.2,131.9 481.5,131.6 481.8,131.3 482.0,131.0 482.3,130.6 482.6,130.3 482.9,130.0 483.2,129.6 483.5,129.3 483.7,129.0 484.0,128.6 484.3,128.3 484.6,127.9 484.9,127.6 485.1,127.2 485.4,126.9 485.7,126.5 486.0,126.2 486.3,125.8 486.6,125.5 486.8,125.1 487.1,124.7 487.4,124.4 487.7,124.0 488.0,123.6 488.3,123.3 488.5,122.9 488.8,122.5 489.1,122.2 489.4,121.8 489.7,121.4 489.9,121.1 490.2,120.7 490.5,120.3 490.8,119.9 491.1,119.6 491.4,119.2 491.6,118.8 491.9,118.5 492.2,118.1 492.5,117.8 492.8,117.4 493.1,117.0 493.3,116.7 493.6,116.3 493.9,116.0 494.2,115.6 494.5,115.3 494.7,114.9 495.0,114.6 495.3,114.2 495.6,113.9 495.9,113.6 496.2,113.2 496.4,112.9 496.7,112.6 497.0,112.3 497.3,111.9 497.6,111.6 497.9,111.3 498.1,111.0 498.4,110.7 498.7,110.4 499.0,110.1 499.3,109.8 499.5,109.5 499.8,109.2 500.1,109.0 500.4,108.7 500.7,108.4 501.0,108.2 501.2,107.9 501.5,107.6 501.8,107.4 502.1,107.1 502.4,106.9 502.7,106.7 502.9,106.5 503.2,106.2 503.5,106.0 503.8,105.8 504.1,105.6 504.3,105.4 504.6,105.2 504.9,105.0 505.2,104.9 505.5,104.7 505.8,104.5 506.0,104.4 506.3,104.2 506.6,104.1 506.9,103.9 507.2,103.8 507.5,103.7 507.7,103.6 508.0,103.4 508.3,103.3 508.6,103.2 508.9,103.1 509.1,103.1 509.4,103.0 509.7,102.9 510.0,102.8 510.3,102.8 510.6,102.7 510.8,102.7 511.1,102.7 511.4,102.6 511.7,102.6 512.0,102.6 512.3,102.6 512.5,102.6 512.8,102.6 513.1,102.6 513.4,102.6 513.7,102.7 513.9,102.7 514.2,102.8 514.5,102.8 514.8,102.9 515.1,102.9 515.4,103.0 515.6,103.1 515.9,103.2 516.2,103.3 516.5,103.4 516.8,103.5 517.1,103.6 517.3,103.7 517.6,103.8 517.9,104.0 518.2,104.1 518.5,104.2 518.7,104.4 519.0,104.6 519.3,104.7 519.6,104.9 519.9,105.1 520.2,105.3 520.4,105.5 520.7,105.7 521.0,105.9 521.3,106.1 521.6,106.3 521.9,106.5 522.1,106.7 522.4,107.0 522.7,107.2 523.0,107.5 523.3,107.7 523.5,108.0 523.8,108.2 524.1,108.5 524.4,108.8 524.7,109.0 525.0,109.3 525.2,109.6 525.5,109.9 525.8,110.2 526.1,110.5 526.4,110.8 526.7,111.1 526.9,111.4 527.2,111.7 527.5,112.1 527.8,112.4 528.1,112.7 528.3,113.1 528.6,113.4 528.9,113.7 529.2,114.1 529.5,114.4 529.8,114.8 530.0,115.1 530.3,115.5 530.6,115.8 530.9,116.2 531.2,116.6 531.5,116.9 531.7,117.3 532.0,117.7 532.3,118.0 532.6,118.4 532.9,118.8 533.1,119.1 533.4,119.5 533.7,119.9 534.0,120.3 534.3,120.7 534.6,121.0 534.8,121.4 535.1,121.8 535.4,122.2 535.7,122.6 536.0,123.0 536.3,123.3 536.5,123.7 536.8,124.1 537.1,124.5 537.4,124.9 537.7,125.3 537.9,125.6 538.2,126.0 538.5,126.4 538.8,126.8 539.1,127.1 539.4,127.5 539.6,127.9 539.9,128.3 540.2,128.6 540.5,129.0 540.8,129.4 541.1,129.7 541.3,130.1 541.6,130.5 541.9,130.8 542.2,131.2 542.5,131.5 542.7,131.9 543.0,132.2 543.3,132.5 543.6,132.9 543.9,133.2 544.2,133.6 544.4,133.9 544.7,134.2 545.0,134.5 545.3,134.8 545.6,135.2 545.9,135.5 546.1,135.8 546.4,136.1 546.7,136.4 547.0,136.6 547.3,136.9 547.5,137.2 547.8,137.5 548.1,137.8 548.4,138.0 548.7,138.3 549.0,138.5 549.2,138.8 549.5,139.0 549.8,139.3 550.1,139.5 550.4,139.7 550.7,139.9 550.9,140.2 551.2,140.4 551.5,140.6 551.8,140.8 552.1,140.9 552.3,141.1 552.6,141.3 552.9,141.5 553.2,141.6 553.5,141.8 553.8,142.0 554.0,142.1 554.3,142.2 554.6,142.4 554.9,142.5 555.2,142.6 555.5,142.7 555.7,142.8 556.0,142.9 556.3,143.0 556.6,143.1 556.9,143.2 557.1,143.2 557.4,143.3 557.7,143.4 558.0,143.4 558.3,143.5 558.6,143.5 558.8,143.5 559.1,143.5 559.4,143.5 559.7,143.5 560.0,143.5 560.3,143.5 560.5,143.5 560.8,143.5 561.1,143.4 561.4,143.4 561.7,143.3 561.9,143.3 562.2,143.2 562.5,143.1 562.8,143.0 563.1,142.9 563.4,142.8 563.6,142.7 563.9,142.6 564.2,142.4 564.5,142.3 564.8,142.1 565.1,142.0 565.3,141.8 565.6,141.6 565.9,141.4 566.2,141.2 566.5,141.0 566.7,140.8 567.0,140.6 567.3,140.4 567.6,140.1 567.9,139.9 568.2,139.6 568.4,139.4 568.7,139.1 569.0,138.8 569.3,138.5 569.6,138.2 569.9,137.9 570.1,137.6 570.4,137.3 570.7,137.0 571.0,136.7 571.3,136.3 571.5,136.0 571.8,135.7 572.1,135.3 572.4,135.0 572.7,134.6 573.0,134.2 573.2,133.8 573.5,133.5 573.8,133.1 574.1,132.7 574.4,132.3 574.7,131.9 574.9,131.5 575.2,131.1 575.5,130.6 575.8,130.2 576.1,129.8 576.3,129.4 576.6,128.9 576.9,128.5 577.2,128.0 577.5,127.6 577.8,127.2 578.0,126.7 578.3,126.2 578.6,125.8 578.9,125.3 579.2,124.9 579.5,124.4 579.7,123.9 580.0,123.4 580.3,123.0 580.6,122.5 580.9,122.0 581.1,121.5 581.4,121.1 581.7,120.6 582.0,120.1 582.3,119.6 582.6,119.1 582.8,118.6 583.1,118.2 583.4,117.7 583.7,117.2 584.0,116.7 584.3,116.2 584.5,115.7 584.8,115.2 585.1,114.8 585.4,114.3 585.7,113.8 585.9,113.3 586.2,112.8 586.5,112.4 586.8,111.9 587.1,111.4 587.4,111.0 587.6,110.5 587.9,110.0 588.2,109.6 588.5,109.1 588.8,108.6 589.1,108.2 589.3,107.7 589.6,107.3 589.9,106.8 590.2,106.4 590.5,106.0 590.7,105.5 591.0,105.1 591.3,104.7 591.6,104.3 591.9,103.9 592.2,103.5 592.4,103.0 592.7,102.6 593.0,102.3 593.3,101.9 593.6,101.5 593.9,101.1 594.1,100.7 594.4,100.4 594.7,100.0 595.0,99.7 595.3,99.3 595.5,99.0 595.8,98.6 596.1,98.3 596.4,98.0 596.7,97.7 597.0,97.4 597.2,97.1 597.5,96.8 597.8,96.5 598.1,96.2 598.4,95.9 598.7,95.7 598.9,95.4 599.2,95.2 599.5,94.9 599.8,94.7 600.1,94.5 600.3,94.3 600.6,94.1 600.9,93.9 601.2,93.7 601.5,93.5 601.8,93.3 602.0,93.2 602.3,93.0 602.6,92.9 602.9,92.7 603.2,92.6 603.5,92.5 603.7,92.4 604.0,92.3 604.3,92.2" fill="none" stroke="#EDB120" stroke-width="1.0" stroke-linejoin="round" />
<path d="M378.7,141.5 379.0,141.3 379.3,141.1 379.5,140.9 379.8,140.7 380.1,140.5 380.4,140.3 380.7,140.0 381.0,139.8 381.2,139.6 381.5,139.3 381.8,139.1 382.1,138.8 382.4,138.6 382.7,138.3 382.9,138.0 383.2,137.8 383.5,137.5 383.8,137.2 384.1,136.9 384.3,136.7 384.6,136.4 384.9,136.1 385.2,135.8 385.5,135.5 385.8,135.1 386.0,134.8 386.3,134.5 386.6,134.2 386.9,133.9 387.2,133.6 387.5,133.2 387.7,132.9 388.0,132.6 388.3,132.2 388.6,131.9 388.9,131.5 389.1,131.2 389.4,130.8 389.7,130.5 390.0,130.1 390.3,129.8 390.6,129.4 390.8,129.1 391.1,128.7 391.4,128.3 391.7,128.0 392.0,127.6 392.3,127.2 392.5,126.9 392.8,126.5 393.1,126.1 393.4,125.8 393.7,125.4 393.9,125.0 394.2,124.6 394.5,124.3 394.8,123.9 395.1,123.5 395.4,123.2 395.6,122.8 395.9,122.4 396.2,122.0 396.5,121.7 396.8,121.3 397.1,120.9 397.3,120.5 397.6,120.2 397.9,119.8 398.2,119.4 398.5,119.1 398.7,118.7 399.0,118.3 399.3,118.0 399.6,117.6 399.9,117.3 400.2,116.9 400.4,116.5 400.7,116.2 401.0,115.8 401.3,115.5 401.6,115.1 401.9,114.8 402.1,114.5 402.4,114.1 402.7,113.8 403.0,113.5 403.3,113.1 403.5,112.8 403.8,112.5 404.1,112.2 404.4,111.8 404.7,111.5 405.0,111.2 405.2,110.9 405.5,110.6 405.8,110.3 406.1,110.0 406.4,109.7 406.7,109.5 406.9,109.2 407.2,108.9 407.5,108.6 407.8,108.4 408.1,108.1 408.3,107.8 408.6,107.6 408.9,107.3 409.2,107.1 409.5,106.9 409.8,106.6 410.0,106.4 410.3,106.2 410.6,106.0 410.9,105.8 411.2,105.6 411.5,105.4 411.7,105.2 412.0,105.0 412.3,104.8 412.6,104.6 412.9,104.5 413.1,104.3 413.4,104.1 413.7,104.0 414.0,103.8 414.3,103.7 414.6,103.6 414.8,103.4 415.1,103.3 415.4,103.2 415.7,103.1 416.0,103.0 416.3,102.9 416.5,102.8 416.8,102.7 417.1,102.7 417.4,102.6 417.7,102.5 417.9,102.5 418.2,102.4 418.5,102.4 418.8,102.3 419.1,102.3 419.4,102.3 419.6,102.3 419.9,102.3 420.2,102.2 420.5,102.3 420.8,102.3 421.1,102.3 421.3,102.3 421.6,102.3 421.9,102.4 422.2,102.4 422.5,102.5 422.7,102.5 423.0,102.6 423.3,102.7 423.6,102.8 423.9,102.8 424.2,102.9 424.4,103.0 424.7,103.2 425.0,103.3 425.3,103.4 425.6,103.5 425.9,103.7 426.1,103.8 426.4,103.9 426.7,104.1 427.0,104.3 427.3,104.4 427.5,104.6 427.8,104.8 428.1,105.0 428.4,105.2 428.7,105.4 429.0,105.6 429.2,105.8 429.5,106.0 429.8,106.2 430.1,106.5 430.4,106.7 430.7,106.9 430.9,107.2 431.2,107.4 431.5,107.7 431.8,107.9 432.1,108.2 432.3,108.5 432.6,108.8 432.9,109.0 433.2,109.3 433.5,109.6 433.8,109.9 434.0,110.2 434.3,110.5 434.6,110.8 434.9,111.1 435.2,111.5 435.5,111.8 435.7,112.1 436.0,112.4 436.3,112.8 436.6,113.1 436.9,113.4 437.1,113.8 437.4,114.1 437.7,114.5 438.0,114.8 438.3,115.2 438.6,115.5 438.8,115.9 439.1,116.3 439.4,116.6 439.7,117.0 440.0,117.4 440.3,117.7 440.5,118.1 440.8,118.5 441.1,118.9 441.4,119.2 441.7,119.6 441.9,120.0 442.2,120.4 442.5,120.8 442.8,121.1 443.1,121.5 443.4,121.9 443.6,122.3 443.9,122.7 444.2,123.0 444.5,123.4 444.8,123.8 445.1,124.2 445.3,124.6 445.6,125.0 445.9,125.3 446.2,125.7 446.5,126.1 446.7,126.5 447.0,126.9 447.3,127.2 447.6,127.6 447.9,128.0 448.2,128.4 448.4,128.7 448.7,129.1 449.0,129.5 449.3,129.8 449.6,130.2 449.9,130.5 450.1,130.9 450.4,131.2 450.7,131.6 451.0,131.9 451.3,132.3 451.5,132.6 451.8,133.0 452.1,133.3 452.4,133.6 452.7,133.9 453.0,134.3 453.2,134.6 453.5,134.9 453.8,135.2 454.1,135.5 454.4,135.8 454.7,136.1 454.9,136.4 455.2,136.7 455.5,137.0 455.8,137.3 456.1,137.5 456.3,137.8 456.6,138.1 456.9,138.3 457.2,138.6 457.5,138.8 457.8,139.1 458.0,139.3 458.3,139.5 458.6,139.7 458.9,140.0 459.2,140.2 459.5,140.4 459.7,140.6 460.0,140.8 460.3,141.0 460.6,141.2 460.9,141.3 461.1,141.5 461.4,141.7 461.7,141.8 462.0,142.0 462.3,142.1 462.6,142.2 462.8,142.4 463.1,142.5 463.4,142.6 463.7,142.7 464.0,142.8 464.3,142.9 464.5,143.0 464.8,143.1 465.1,143.2 465.4,143.2 465.7,143.3 465.9,143.4 466.2,143.4 466.5,143.5 466.8,143.5 467.1,143.5 467.4,143.5 467.6,143.5 467.9,143.5 468.2,143.5 468.5,143.5 468.8,143.5 469.1,143.5 469.3,143.5 469.6,143.4 469.9,143.4 470.2,143.3 470.5,143.3 470.7,143.2 471.0,143.1 471.3,143.0 471.6,142.9 471.9,142.8 472.2,142.7 472.4,142.6 472.7,142.5 473.0,142.4 473.3,142.2 473.6,142.1 473.9,141.9 474.1,141.8 474.4,141.6 474.7,141.5 475.0,141.3 475.3,141.1 475.5,140.9 475.8,140.7 476.1,140.5 476.4,140.3 476.7,140.1 477.0,139.9 477.2,139.6 477.5,139.4 477.8,139.2 478.1,138.9 478.4,138.7 478.7,138.4 478.9,138.2 479.2,137.9 479.5,137.6 479.8,137.3 480.1,137.0 480.3,136.8 480.6,136.5 480.9,136.2 481.2,135.8 481.5,135.5 481.8,135.2 482.0,134.9 482.3,134.6 482.6,134.2 482.9,133.9 483.2,133.6 483.5,133.2 483.7,132.9 484.0,132.5 484.3,132.2 484.6,131.8 484.9,131.5 485.1,131.1 485.4,130.7 485.7,130.4 486.0,130.0 486.3,129.6 486.6,129.2 486.8,128.8 487.1,128.5 487.4,128.1 487.7,127.7 488.0,127.3 488.3,126.9 488.5,126.5 488.8,126.1 489.1,125.7 489.4,125.3 489.7,124.9 489.9,124.5 490.2,124.1 490.5,123.7 490.8,123.3 491.1,122.9 491.4,122.5 491.6,122.1 491.9,121.7 492.2,121.3 492.5,120.9 492.8,120.5 493.1,120.0 493.3,119.6 493.6,119.2 493.9,118.8 494.2,118.4 494.5,118.0 494.7,117.6 495.0,117.2 495.3,116.8 495.6,116.4 495.9,116.0 496.2,115.6 496.4,115.2 496.7,114.9 497.0,114.5 497.3,114.1 497.6,113.7 497.9,113.3 498.1,112.9 498.4,112.6 498.7,112.2 499.0,111.8 499.3,111.5 499.5,111.1 499.8,110.7 500.1,110.4 500.4,110.0 500.7,109.7 501.0,109.4 501.2,109.0 501.5,108.7 501.8,108.3 502.1,108.0 502.4,107.7 502.7,107.4 502.9,107.1 503.2,106.8 503.5,106.5 503.8,106.2 504.1,105.9 504.3,105.6 504.6,105.3 504.9,105.0 505.2,104.8 505.5,104.5 505.8,104.2 506.0,104.0 506.3,103.7 506.6,103.5 506.9,103.3 507.2,103.0 507.5,102.8 507.7,102.6 508.0,102.4 508.3,102.2 508.6,102.0 508.9,101.8 509.1,101.6 509.4,101.4 509.7,101.3 510.0,101.1 510.3,100.9 510.6,100.8 510.8,100.6 511.1,100.5 511.4,100.4 511.7,100.3 512.0,100.1 512.3,100.0 512.5,99.9 512.8,99.8 513.1,99.8 513.4,99.7 513.7,99.6 513.9,99.5 514.2,99.5 514.5,99.4 514.8,99.4 515.1,99.4 515.4,99.3 515.6,99.3 515.9,99.3 516.2,99.3 516.5,99.3 516.8,99.3 517.1,99.3 517.3,99.4 517.6,99.4 517.9,99.5 518.2,99.5 518.5,99.6 518.7,99.7 519.0,99.7 519.3,99.8 519.6,99.9 519.9,100.0 520.2,100.1 520.4,100.3 520.7,100.4 521.0,100.5 521.3,100.7 521.6,100.8 521.9,101.0 522.1,101.2 522.4,101.3 522.7,101.5 523.0,101.7 523.3,101.9 523.5,102.1 523.8,102.3 524.1,102.6 524.4,102.8 524.7,103.0 525.0,103.3 525.2,103.5 525.5,103.8 525.8,104.1 526.1,104.3 526.4,104.6 526.7,104.9 526.9,105.2 527.2,105.5 527.5,105.8 527.8,106.1 528.1,106.4 528.3,106.7 528.6,107.1 528.9,107.4 529.2,107.7 529.5,108.1 529.8,108.4 530.0,108.8 530.3,109.1 530.6,109.5 530.9,109.9 531.2,110.3 531.5,110.6 531.7,111.0 532.0,111.4 532.3,111.8 532.6,112.2 532.9,112.6 533.1,113.0 533.4,113.4 533.7,113.8 534.0,114.2 534.3,114.6 534.6,115.1 534.8,115.5 535.1,115.9 535.4,116.3 535.7,116.8 536.0,117.2 536.3,117.6 536.5,118.1 536.8,118.5 537.1,118.9 537.4,119.4 537.7,119.8 537.9,120.3 538.2,120.7 538.5,121.1 538.8,121.6 539.1,122.0 539.4,122.5 539.6,122.9 539.9,123.4 540.2,123.8 540.5,124.2 540.8,124.7 541.1,125.1 541.3,125.6 541.6,126.0 541.9,126.4 542.2,126.9 542.5,127.3 542.7,127.7 543.0,128.2 543.3,128.6 543.6,129.0 543.9,129.5 544.2,129.9 544.4,130.3 544.7,130.7 545.0,131.1 545.3,131.5 545.6,131.9 545.9,132.3 546.1,132.7 546.4,133.1 546.7,133.5 547.0,133.9 547.3,134.3 547.5,134.7 547.8,135.1 548.1,135.4 548.4,135.8 548.7,136.2 549.0,136.5 549.2,136.9 549.5,137.2 549.8,137.5 550.1,137.9 550.4,138.2 550.7,138.5 550.9,138.8 551.2,139.2 551.5,139.5 551.8,139.8 552.1,140.0 552.3,140.3 552.6,140.6 552.9,140.9 553.2,141.2 553.5,141.4 553.8,141.7 554.0,141.9 554.3,142.1 554.6,142.4 554.9,142.6 555.2,142.8 555.5,143.0 555.7,143.2 556.0,143.4 556.3,143.6 556.6,143.8 556.9,143.9 557.1,144.1 557.4,144.3 557.7,144.4 558.0,144.5 558.3,144.7 558.6,144.8 558.8,144.9 559.1,145.0 559.4,145.1 559.7,145.2 560.0,145.3 560.3,145.4 560.5,145.4 560.8,145.5 561.1,145.5 561.4,145.6 561.7,145.6 561.9,145.6 562.2,145.6 562.5,145.6 562.8,145.6 563.1,145.6 563.4,145.6 563.6,145.5 563.9,145.5 564.2,145.5 564.5,145.4 564.8,145.3 565.1,145.2 565.3,145.2 565.6,145.1 565.9,145.0 566.2,144.8 566.5,144.7 566.7,144.6 567.0,144.4 567.3,144.3 567.6,144.1 567.9,144.0 568.2,143.8 568.4,143.6 568.7,143.4 569.0,143.2 569.3,143.0 569.6,142.8 569.9,142.5 570.1,142.3 570.4,142.1 570.7,141.8 571.0,141.6 571.3,141.3 571.5,141.0 571.8,140.7 572.1,140.4 572.4,140.1 572.7,139.8 573.0,139.5 573.2,139.2 573.5,138.9 573.8,138.5 574.1,138.2 574.4,137.8 574.7,137.5 574.9,137.1 575.2,136.8 575.5,136.4 575.8,136.0 576.1,135.6 576.3,135.2 576.6,134.8 576.9,134.4 577.2,134.0 577.5,133.6 577.8,133.2 578.0,132.8 578.3,132.4 578.6,131.9 578.9,131.5 579.2,131.0 579.5,130.6 579.7,130.1 580.0,129.7 580.3,129.2 580.6,128.8 580.9,128.3 581.1,127.8 581.4,127.4 581.7,126.9 582.0,126.4 582.3,126.0 582.6,125.5 582.8,125.0 583.1,124.5 583.4,124.0 583.7,123.5 584.0,123.0 584.3,122.5 584.5,122.1 584.8,121.6 585.1,121.1 585.4,120.6 585.7,120.1 585.9,119.6 586.2,119.1 586.5,118.6 586.8,118.1 587.1,117.6 587.4,117.1 587.6,116.6 587.9,116.1 588.2,115.6 588.5,115.1 588.8,114.6 589.1,114.2 589.3,113.7 589.6,113.2 589.9,112.7 590.2,112.2 590.5,111.7 590.7,111.3 591.0,110.8 591.3,110.3 591.6,109.9 591.9,109.4 592.2,108.9 592.4,108.5 592.7,108.0 593.0,107.6 593.3,107.1 593.6,106.7 593.9,106.3 594.1,105.8 594.4,105.4 594.7,105.0 595.0,104.6 595.3,104.1 595.5,103.7 595.8,103.3 596.1,102.9 596.4,102.6 596.7,102.2 597.0,101.8 597.2,101.4 597.5,101.0 597.8,100.7 598.1,100.3 598.4,100.0 598.7,99.6 598.9,99.3 599.2,99.0 599.5,98.7 599.8,98.4 600.1,98.0 600.3,97.7 600.6,97.5 600.9,97.2 601.2,96.9 601.5,96.6 601.8,96.4 602.0,96.1 602.3,95.9 602.6,95.6 602.9,95.4 603.2,95.2 603.5,95.0 603.7,94.8 604.0,94.6 604.3,94.4" fill="none" stroke="#7E2F8E" stroke-width="1.0" stroke-linejoin="round" />
<path d="M378.7,143.5 379.0,143.1 379.3,142.7 379.5,142.2 379.8,141.8 380.1,141.4 380.4,140.9 380.7,140.5 381.0,140.0 381.2,139.6 381.5,139.1 381.8,138.7 382.1,138.2 382.4,137.7 382.7,137.2 382.9,136.8 383.2,136.3 383.5,135.8 383.8,135.3 384.1,134.8 384.3,134.3 384.6,133.8 384.9,133.3 385.2,132.8 385.5,132.3 385.8,131.8 386.0,131.3 386.3,130.8 386.6,130.3 386.9,129.8 387.2,129.3 387.5,128.8 387.7,128.3 388.0,127.8 388.3,127.3 388.6,126.7 388.9,126.2 389.1,125.7 389.4,125.2 389.7,124.7 390.0,124.2 390.3,123.6 390.6,123.1 390.8,122.6 391.1,122.1 391.4,121.6 391.7,121.1 392.0,120.6 392.3,120.1 392.5,119.6 392.8,119.1 393.1,118.6 393.4,118.1 393.7,117.6 393.9,117.1 394.2,116.6 394.5,116.1 394.8,115.6 395.1,115.1 395.4,114.6 395.6,114.2 395.9,113.7 396.2,113.2 396.5,112.7 396.8,112.3 397.1,111.8 397.3,111.4 397.6,110.9 397.9,110.5 398.2,110.0 398.5,109.6 398.7,109.1 399.0,108.7 399.3,108.3 399.6,107.9 399.9,107.4 400.2,107.0 400.4,106.6 400.7,106.2 401.0,105.8 401.3,105.4 401.6,105.1 401.9,104.7 402.1,104.3 402.4,103.9 402.7,103.6 403.0,103.2 403.3,102.9 403.5,102.5 403.8,102.2 404.1,101.9 404.4,101.6 404.7,101.3 405.0,100.9 405.2,100.7 405.5,100.4 405.8,100.1 406.1,99.8 406.4,99.5 406.7,99.3 406.9,99.0 407.2,98.8 407.5,98.5 407.8,98.3 408.1,98.1 408.3,97.9 408.6,97.6 408.9,97.4 409.2,97.3 409.5,97.1 409.8,96.9 410.0,96.7 410.3,96.6 410.6,96.4 410.9,96.3 411.2,96.1 411.5,96.0 411.7,95.9 412.0,95.8 412.3,95.7 412.6,95.6 412.9,95.5 413.1,95.4 413.4,95.4 413.7,95.3 414.0,95.3 414.3,95.2 414.6,95.2 414.8,95.2 415.1,95.2 415.4,95.2 415.7,95.2 416.0,95.2 416.3,95.2 416.5,95.2 416.8,95.3 417.1,95.3 417.4,95.4 417.7,95.5 417.9,95.5 418.2,95.6 418.5,95.7 418.8,95.9 419.1,96.0 419.4,96.1 419.6,96.2 419.9,96.4 420.2,96.5 420.5,96.7 420.8,96.9 421.1,97.1 421.3,97.3 421.6,97.5 421.9,97.7 422.2,97.9 422.5,98.1 422.7,98.4 423.0,98.6 423.3,98.8 423.6,99.1 423.9,99.4 424.2,99.7 424.4,99.9 424.7,100.2 425.0,100.5 425.3,100.9 425.6,101.2 425.9,101.5 426.1,101.8 426.4,102.2 426.7,102.5 427.0,102.9 427.3,103.2 427.5,103.6 427.8,104.0 428.1,104.4 428.4,104.8 428.7,105.2 429.0,105.6 429.2,106.0 429.5,106.4 429.8,106.8 430.1,107.2 430.4,107.7 430.7,108.1 430.9,108.6 431.2,109.0 431.5,109.5 431.8,109.9 432.1,110.4 432.3,110.9 432.6,111.3 432.9,111.8 433.2,112.3 433.5,112.8 433.8,113.3 434.0,113.8 434.3,114.3 434.6,114.8 434.9,115.3 435.2,115.8 435.5,116.3 435.7,116.8 436.0,117.3 436.3,117.9 436.6,118.4 436.9,118.9 437.1,119.4 437.4,120.0 437.7,120.5 438.0,121.0 438.3,121.6 438.6,122.1 438.8,122.6 439.1,123.2 439.4,123.7 439.7,124.2 440.0,124.8 440.3,125.3 440.5,125.9 440.8,126.4 441.1,126.9 441.4,127.5 441.7,128.0 441.9,128.5 442.2,129.1 442.5,129.6 442.8,130.1 443.1,130.7 443.4,131.2 443.6,131.7 443.9,132.3 444.2,132.8 444.5,133.3 444.8,133.8 445.1,134.3 445.3,134.8 445.6,135.3 445.9,135.8 446.2,136.4 446.5,136.8 446.7,137.3 447.0,137.8 447.3,138.3 447.6,138.8 447.9,139.3 448.2,139.8 448.4,140.2 448.7,140.7 449.0,141.1 449.3,141.6 449.6,142.0 449.9,142.5 450.1,142.9 450.4,143.4 450.7,143.8 451.0,144.2 451.3,144.6 451.5,145.0 451.8,145.4 452.1,145.8 452.4,146.2 452.7,146.6 453.0,147.0 453.2,147.3 453.5,147.7 453.8,148.1 454.1,148.4 454.4,148.7 454.7,149.1 454.9,149.4 455.2,149.7 455.5,150.0 455.8,150.3 456.1,150.6 456.3,150.9 456.6,151.2 456.9,151.4 457.2,151.7 457.5,152.0 457.8,152.2 458.0,152.4 458.3,152.7 458.6,152.9 458.9,153.1 459.2,153.3 459.5,153.5 459.7,153.6 460.0,153.8 460.3,154.0 460.6,154.1 460.9,154.3 461.1,154.4 461.4,154.5 461.7,154.7 462.0,154.8 462.3,154.9 462.6,154.9 462.8,155.0 463.1,155.1 463.4,155.1 463.7,155.2 464.0,155.2 464.3,155.3 464.5,155.3 464.8,155.3 465.1,155.3 465.4,155.3 465.7,155.3 465.9,155.2 466.2,155.2 466.5,155.1 466.8,155.0 467.1,154.9 467.4,154.8 467.6,154.7 467.9,154.5 468.2,154.4 468.5,154.2 468.8,154.0 469.1,153.8 469.3,153.6 469.6,153.4 469.9,153.2 470.2,152.9 470.5,152.7 470.7,152.4 471.0,152.1 471.3,151.8 471.6,151.5 471.9,151.2 472.2,150.8 472.4,150.5 472.7,150.1 473.0,149.8 473.3,149.4 473.6,149.0 473.9,148.6 474.1,148.2 474.4,147.7 474.7,147.3 475.0,146.8 475.3,146.4 475.5,145.9 475.8,145.4 476.1,144.9 476.4,144.4 476.7,143.9 477.0,143.4 477.2,142.9 477.5,142.3 477.8,141.8 478.1,141.2 478.4,140.6 478.7,140.1 478.9,139.5 479.2,138.9 479.5,138.3 479.8,137.7 480.1,137.1 480.3,136.5 480.6,135.9 480.9,135.2 481.2,134.6 481.5,134.0 481.8,133.3 482.0,132.7 482.3,132.0 482.6,131.4 482.9,130.7 483.2,130.0 483.5,129.4 483.7,128.7 484.0,128.0 484.3,127.3 484.6,126.7 484.9,126.0 485.1,125.3 485.4,124.6 485.7,123.9 486.0,123.2 486.3,122.5 486.6,121.9 486.8,121.2 487.1,120.5 487.4,119.8 487.7,119.1 488.0,118.4 488.3,117.7 488.5,117.1 488.8,116.4 489.1,115.7 489.4,115.0 489.7,114.3 489.9,113.7 490.2,113.0 490.5,112.4 490.8,111.7 491.1,111.0 491.4,110.4 491.6,109.7 491.9,109.1 492.2,108.5 492.5,107.8 492.8,107.2 493.1,106.6 493.3,106.0 493.6,105.4 493.9,104.8 494.2,104.2 494.5,103.6 494.7,103.0 495.0,102.5 495.3,101.9 495.6,101.4 495.9,100.8 496.2,100.3 496.4,99.8 496.7,99.3 497.0,98.7 497.3,98.3 497.6,97.8 497.9,97.3 498.1,96.8 498.4,96.4 498.7,95.9 499.0,95.5 499.3,95.1 499.5,94.7 499.8,94.3 500.1,93.9 500.4,93.5 500.7,93.1 501.0,92.8 501.2,92.4 501.5,92.1 501.8,91.8 502.1,91.5 502.4,91.2 502.7,90.9 502.9,90.7 503.2,90.4 503.5,90.2 503.8,90.0 504.1,89.8 504.3,89.6 504.6,89.4 504.9,89.2 505.2,89.0 505.5,88.9 505.8,88.8 506.0,88.7 506.3,88.6 506.6,88.5 506.9,88.4 507.2,88.3 507.5,88.3 507.7,88.3 508.0,88.3 508.3,88.3 508.6,88.3 508.9,88.3 509.1,88.3 509.4,88.4 509.7,88.4 510.0,88.5 510.3,88.6 510.6,88.7 510.8,88.8 511.1,89.0 511.4,89.1 511.7,89.3 512.0,89.5 512.3,89.6 512.5,89.8 512.8,90.1 513.1,90.3 513.4,90.5 513.7,90.8 513.9,91.0 514.2,91.3 514.5,91.6 514.8,91.9 515.1,92.2 515.4,92.5 515.6,92.9 515.9,93.2 516.2,93.6 516.5,94.0 516.8,94.4 517.1,94.8 517.3,95.2 517.6,95.6 517.9,96.0 518.2,96.5 518.5,96.9 518.7,97.4 519.0,97.8 519.3,98.3 519.6,98.8 519.9,99.3 520.2,99.8 520.4,100.4 520.7,100.9 521.0,101.4 521.3,102.0 521.6,102.5 521.9,103.1 522.1,103.7 522.4,104.3 522.7,104.9 523.0,105.5 523.3,106.1 523.5,106.7 523.8,107.3 524.1,107.9 524.4,108.6 524.7,109.2 525.0,109.9 525.2,110.5 525.5,111.2 525.8,111.8 526.1,112.5 526.4,113.2 526.7,113.9 526.9,114.5 527.2,115.2 527.5,115.9 527.8,116.6 528.1,117.3 528.3,118.0 528.6,118.7 528.9,119.4 529.2,120.2 529.5,120.9 529.8,121.6 530.0,122.3 530.3,123.0 530.6,123.8 530.9,124.5 531.2,125.2 531.5,125.9 531.7,126.7 532.0,127.4 532.3,128.1 532.6,128.8 532.9,129.6 533.1,130.3 533.4,131.0 533.7,131.7 534.0,132.4 534.3,133.2 534.6,133.9 534.8,134.6 535.1,135.3 535.4,136.0 535.7,136.7 536.0,137.4 536.3,138.1 536.5,138.8 536.8,139.5 537.1,140.2 537.4,140.8 537.7,141.5 537.9,142.2 538.2,142.9 538.5,143.5 538.8,144.2 539.1,144.8 539.4,145.5 539.6,146.1 539.9,146.7 540.2,147.3 540.5,148.0 540.8,148.6 541.1,149.2 541.3,149.7 541.6,150.3 541.9,150.9 542.2,151.5 542.5,152.0 542.7,152.6 543.0,153.1 543.3,153.6 543.6,154.2 543.9,154.7 544.2,155.2 544.4,155.7 544.7,156.2 545.0,156.6 545.3,157.1 545.6,157.5 545.9,158.0 546.1,158.4 546.4,158.8 546.7,159.2 547.0,159.6 547.3,160.0 547.5,160.4 547.8,160.7 548.1,161.1 548.4,161.4 548.7,161.7 549.0,162.1 549.2,162.4 549.5,162.6 549.8,162.9 550.1,163.2 550.4,163.4 550.7,163.7 550.9,163.9 551.2,164.1 551.5,164.3 551.8,164.5 552.1,164.7 552.3,164.8 552.6,165.0 552.9,165.1 553.2,165.2 553.5,165.3 553.8,165.4 554.0,165.5 554.3,165.5 554.6,165.6 554.9,165.6 555.2,165.7 555.5,165.7 555.7,165.7 556.0,165.6 556.3,165.6 556.6,165.5 556.9,165.5 557.1,165.4 557.4,165.3 557.7,165.2 558.0,165.0 558.3,164.9 558.6,164.7 558.8,164.5 559.1,164.3 559.4,164.1 559.7,163.8 560.0,163.6 560.3,163.3 560.5,163.0 560.8,162.7 561.1,162.4 561.4,162.1 561.7,161.7 561.9,161.4 562.2,161.0 562.5,160.6 562.8,160.2 563.1,159.7 563.4,159.3 563.6,158.9 563.9,158.4 564.2,157.9 564.5,157.4 564.8,156.9 565.1,156.4 565.3,155.8 565.6,155.3 565.9,154.7 566.2,154.1 566.5,153.5 566.7,152.9 567.0,152.3 567.3,151.7 567.6,151.0 567.9,150.4 568.2,149.7 568.4,149.0 568.7,148.3 569.0,147.6 569.3,146.9 569.6,146.2 569.9,145.4 570.1,144.7 570.4,143.9 570.7,143.2 571.0,142.4 571.3,141.6 571.5,140.8 571.8,140.0 572.1,139.2 572.4,138.4 572.7,137.5 573.0,136.7 573.2,135.9 573.5,135.0 573.8,134.2 574.1,133.3 574.4,132.4 574.7,131.5 574.9,130.7 575.2,129.8 575.5,128.9 575.8,128.0 576.1,127.1 576.3,126.2 576.6,125.3 576.9,124.3 577.2,123.4 577.5,122.5 577.8,121.6 578.0,120.6 578.3,119.7 578.6,118.8 578.9,117.8 579.2,116.9 579.5,116.0 579.7,115.0 580.0,114.1 580.3,113.1 580.6,112.2 580.9,111.3 581.1,110.3 581.4,109.4 581.7,108.4 582.0,107.5 582.3,106.6 582.6,105.6 582.8,104.7 583.1,103.8 583.4,102.9 583.7,101.9 584.0,101.0 584.3,100.1 584.5,99.2 584.8,98.3 585.1,97.4 585.4,96.5 585.7,95.6 585.9,94.7 586.2,93.9 586.5,93.0 586.8,92.1 587.1,91.3 587.4,90.4 587.6,89.6 587.9,88.7 588.2,87.9 588.5,87.1 588.8,86.3 589.1,85.5 589.3,84.7 589.6,83.9 589.9,83.1 590.2,82.4 590.5,81.6 590.7,80.8 591.0,80.1 591.3,79.4 591.6,78.7 591.9,78.0 592.2,77.3 592.4,76.6 592.7,75.9 593.0,75.3 593.3,74.6 593.6,74.0 593.9,73.4 594.1,72.8 594.4,72.2 594.7,71.6 595.0,71.0 595.3,70.5 595.5,69.9 595.8,69.4 596.1,68.9 596.4,68.4 596.7,67.9 597.0,67.4 597.2,67.0 597.5,66.5 597.8,66.1 598.1,65.7 598.4,65.3 598.7,64.9 598.9,64.5 599.2,64.2 599.5,63.9 599.8,63.5 600.1,63.2 600.3,63.0 600.6,62.7 600.9,62.4 601.2,62.2 601.5,62.0 601.8,61.8 602.0,61.6 602.3,61.4 602.6,61.3 602.9,61.1 603.2,61.0 603.5,60.9 603.7,60.8 604.0,60.7 604.3,60.7" fill="none" stroke="#0072BD" stroke-width="0.9" stroke-linejoin="round" />
<circle cx="381.1" cy="139.9" r="2.3" fill="none" stroke="#0072BD" stroke-width="0.8"/>
<circle cx="398.0" cy="110.3" r="2.3" fill="none" stroke="#0072BD" stroke-width="0.8"/>
<circle cx="414.9" cy="95.2" r="2.3" fill="none" stroke="#0072BD" stroke-width="0.8"/>
<circle cx="431.8" cy="110.0" r="2.3" fill="none" stroke="#0072BD" stroke-width="0.8"/>
<circle cx="448.7" cy="140.7" r="2.3" fill="none" stroke="#0072BD" stroke-width="0.8"/>
<circle cx="465.7" cy="155.3" r="2.3" fill="none" stroke="#0072BD" stroke-width="0.8"/>
<circle cx="482.6" cy="131.4" r="2.3" fill="none" stroke="#0072BD" stroke-width="0.8"/>
<circle cx="499.5" cy="94.7" r="2.3" fill="none" stroke="#0072BD" stroke-width="0.8"/>
<circle cx="516.4" cy="93.9" r="2.3" fill="none" stroke="#0072BD" stroke-width="0.8"/>
<circle cx="533.3" cy="130.8" r="2.3" fill="none" stroke="#0072BD" stroke-width="0.8"/>
<circle cx="550.3" cy="163.3" r="2.3" fill="none" stroke="#0072BD" stroke-width="0.8"/>
<circle cx="567.2" cy="151.9" r="2.3" fill="none" stroke="#0072BD" stroke-width="0.8"/>
<circle cx="584.1" cy="100.6" r="2.3" fill="none" stroke="#0072BD" stroke-width="0.8"/>
<circle cx="601.0" cy="62.3" r="2.3" fill="none" stroke="#0072BD" stroke-width="0.8"/>
<path d="M378.7,146.0 379.0,145.6 379.3,145.1 379.5,144.6 379.8,144.1 380.1,143.6 380.4,143.1 380.7,142.6 381.0,142.1 381.2,141.6 381.5,141.1 381.8,140.6 382.1,140.1 382.4,139.6 382.7,139.0 382.9,138.5 383.2,138.0 383.5,137.4 383.8,136.9 384.1,136.4 384.3,135.8 384.6,135.3 384.9,134.7 385.2,134.2 385.5,133.6 385.8,133.1 386.0,132.5 386.3,132.0 386.6,131.4 386.9,130.9 387.2,130.3 387.5,129.8 387.7,129.2 388.0,128.7 388.3,128.1 388.6,127.6 388.9,127.0 389.1,126.4 389.4,125.9 389.7,125.3 390.0,124.8 390.3,124.2 390.6,123.7 390.8,123.1 391.1,122.6 391.4,122.0 391.7,121.5 392.0,121.0 392.3,120.4 392.5,119.9 392.8,119.4 393.1,118.8 393.4,118.3 393.7,117.8 393.9,117.3 394.2,116.7 394.5,116.2 394.8,115.7 395.1,115.2 395.4,114.7 395.6,114.2 395.9,113.7 396.2,113.2 396.5,112.7 396.8,112.3 397.1,111.8 397.3,111.3 397.6,110.8 397.9,110.4 398.2,109.9 398.5,109.5 398.7,109.0 399.0,108.6 399.3,108.2 399.6,107.8 399.9,107.3 400.2,106.9 400.4,106.5 400.7,106.1 401.0,105.7 401.3,105.3 401.6,105.0 401.9,104.6 402.1,104.2 402.4,103.9 402.7,103.5 403.0,103.2 403.3,102.8 403.5,102.5 403.8,102.2 404.1,101.9 404.4,101.6 404.7,101.3 405.0,101.0 405.2,100.7 405.5,100.5 405.8,100.2 406.1,99.9 406.4,99.7 406.7,99.5 406.9,99.2 407.2,99.0 407.5,98.8 407.8,98.6 408.1,98.4 408.3,98.2 408.6,98.1 408.9,97.9 409.2,97.7 409.5,97.6 409.8,97.5 410.0,97.3 410.3,97.2 410.6,97.1 410.9,97.0 411.2,96.9 411.5,96.8 411.7,96.8 412.0,96.7 412.3,96.7 412.6,96.6 412.9,96.6 413.1,96.6 413.4,96.5 413.7,96.5 414.0,96.6 414.3,96.6 414.6,96.6 414.8,96.6 415.1,96.7 415.4,96.7 415.7,96.8 416.0,96.9 416.3,96.9 416.5,97.0 416.8,97.1 417.1,97.2 417.4,97.3 417.7,97.5 417.9,97.6 418.2,97.8 418.5,97.9 418.8,98.1 419.1,98.2 419.4,98.4 419.6,98.6 419.9,98.8 420.2,99.0 420.5,99.2 420.8,99.4 421.1,99.7 421.3,99.9 421.6,100.2 421.9,100.4 422.2,100.7 422.5,101.0 422.7,101.2 423.0,101.5 423.3,101.8 423.6,102.1 423.9,102.4 424.2,102.7 424.4,103.1 424.7,103.4 425.0,103.7 425.3,104.1 425.6,104.4 425.9,104.8 426.1,105.2 426.4,105.5 426.7,105.9 427.0,106.3 427.3,106.7 427.5,107.1 427.8,107.5 428.1,107.9 428.4,108.3 428.7,108.8 429.0,109.2 429.2,109.6 429.5,110.1 429.8,110.5 430.1,110.9 430.4,111.4 430.7,111.9 430.9,112.3 431.2,112.8 431.5,113.3 431.8,113.7 432.1,114.2 432.3,114.7 432.6,115.2 432.9,115.7 433.2,116.2 433.5,116.7 433.8,117.2 434.0,117.7 434.3,118.2 434.6,118.7 434.9,119.2 435.2,119.7 435.5,120.2 435.7,120.7 436.0,121.3 436.3,121.8 436.6,122.3 436.9,122.8 437.1,123.3 437.4,123.9 437.7,124.4 438.0,124.9 438.3,125.4 438.6,126.0 438.8,126.5 439.1,127.0 439.4,127.5 439.7,128.1 440.0,128.6 440.3,129.1 440.5,129.6 440.8,130.2 441.1,130.7 441.4,131.2 441.7,131.7 441.9,132.2 442.2,132.8 442.5,133.3 442.8,133.8 443.1,134.3 443.4,134.8 443.6,135.3 443.9,135.8 444.2,136.3 444.5,136.8 444.8,137.3 445.1,137.8 445.3,138.3 445.6,138.7 445.9,139.2 446.2,139.7 446.5,140.2 446.7,140.6 447.0,141.1 447.3,141.5 447.6,142.0 447.9,142.4 448.2,142.9 448.4,143.3 448.7,143.8 449.0,144.2 449.3,144.6 449.6,145.0 449.9,145.4 450.1,145.8 450.4,146.2 450.7,146.6 451.0,147.0 451.3,147.4 451.5,147.7 451.8,148.1 452.1,148.5 452.4,148.8 452.7,149.1 453.0,149.5 453.2,149.8 453.5,150.1 453.8,150.4 454.1,150.8 454.4,151.1 454.7,151.3 454.9,151.6 455.2,151.9 455.5,152.2 455.8,152.4 456.1,152.7 456.3,152.9 456.6,153.2 456.9,153.4 457.2,153.6 457.5,153.8 457.8,154.0 458.0,154.2 458.3,154.4 458.6,154.6 458.9,154.7 459.2,154.9 459.5,155.0 459.7,155.2 460.0,155.3 460.3,155.4 460.6,155.5 460.9,155.6 461.1,155.7 461.4,155.8 461.7,155.9 462.0,156.0 462.3,156.0 462.6,156.1 462.8,156.1 463.1,156.1 463.4,156.2 463.7,156.2 464.0,156.2 464.3,156.2 464.5,156.1 464.8,156.1 465.1,156.1 465.4,156.0 465.7,155.9 465.9,155.9 466.2,155.8 466.5,155.7 466.8,155.6 467.1,155.5 467.4,155.3 467.6,155.2 467.9,155.0 468.2,154.9 468.5,154.7 468.8,154.5 469.1,154.4 469.3,154.1 469.6,153.9 469.9,153.7 470.2,153.5 470.5,153.2 470.7,153.0 471.0,152.7 471.3,152.5 471.6,152.2 471.9,151.9 472.2,151.6 472.4,151.3 472.7,151.0 473.0,150.6 473.3,150.3 473.6,150.0 473.9,149.6 474.1,149.2 474.4,148.9 474.7,148.5 475.0,148.1 475.3,147.7 475.5,147.3 475.8,146.9 476.1,146.5 476.4,146.1 476.7,145.6 477.0,145.2 477.2,144.7 477.5,144.3 477.8,143.8 478.1,143.3 478.4,142.9 478.7,142.4 478.9,141.9 479.2,141.4 479.5,140.9 479.8,140.4 480.1,139.9 480.3,139.3 480.6,138.8 480.9,138.3 481.2,137.7 481.5,137.2 481.8,136.7 482.0,136.1 482.3,135.6 482.6,135.0 482.9,134.4 483.2,133.9 483.5,133.3 483.7,132.7 484.0,132.2 484.3,131.6 484.6,131.0 484.9,130.4 485.1,129.8 485.4,129.2 485.7,128.6 486.0,128.0 486.3,127.5 486.6,126.9 486.8,126.3 487.1,125.7 487.4,125.1 487.7,124.5 488.0,123.9 488.3,123.2 488.5,122.6 488.8,122.0 489.1,121.4 489.4,120.8 489.7,120.2 489.9,119.6 490.2,119.0 490.5,118.4 490.8,117.8 491.1,117.2 491.4,116.7 491.6,116.1 491.9,115.5 492.2,114.9 492.5,114.3 492.8,113.7 493.1,113.1 493.3,112.6 493.6,112.0 493.9,111.4 494.2,110.9 494.5,110.3 494.7,109.7 495.0,109.2 495.3,108.6 495.6,108.1 495.9,107.5 496.2,107.0 496.4,106.5 496.7,106.0 497.0,105.4 497.3,104.9 497.6,104.4 497.9,103.9 498.1,103.4 498.4,102.9 498.7,102.4 499.0,102.0 499.3,101.5 499.5,101.0 499.8,100.6 500.1,100.1 500.4,99.7 500.7,99.2 501.0,98.8 501.2,98.4 501.5,98.0 501.8,97.6 502.1,97.2 502.4,96.8 502.7,96.4 502.9,96.0 503.2,95.7 503.5,95.3 503.8,95.0 504.1,94.6 504.3,94.3 504.6,94.0 504.9,93.7 505.2,93.4 505.5,93.1 505.8,92.8 506.0,92.6 506.3,92.3 506.6,92.0 506.9,91.8 507.2,91.6 507.5,91.3 507.7,91.1 508.0,90.9 508.3,90.7 508.6,90.6 508.9,90.4 509.1,90.2 509.4,90.1 509.7,89.9 510.0,89.8 510.3,89.7 510.6,89.6 510.8,89.5 511.1,89.4 511.4,89.3 511.7,89.3 512.0,89.2 512.3,89.2 512.5,89.1 512.8,89.1 513.1,89.1 513.4,89.1 513.7,89.1 513.9,89.2 514.2,89.2 514.5,89.3 514.8,89.3 515.1,89.4 515.4,89.5 515.6,89.6 515.9,89.7 516.2,89.9 516.5,90.0 516.8,90.2 517.1,90.3 517.3,90.5 517.6,90.7 517.9,90.9 518.2,91.1 518.5,91.4 518.7,91.6 519.0,91.9 519.3,92.1 519.6,92.4 519.9,92.7 520.2,93.0 520.4,93.4 520.7,93.7 521.0,94.0 521.3,94.4 521.6,94.7 521.9,95.1 522.1,95.5 522.4,95.9 522.7,96.3 523.0,96.7 523.3,97.2 523.5,97.6 523.8,98.0 524.1,98.5 524.4,99.0 524.7,99.5 525.0,99.9 525.2,100.4 525.5,100.9 525.8,101.5 526.1,102.0 526.4,102.5 526.7,103.1 526.9,103.6 527.2,104.2 527.5,104.7 527.8,105.3 528.1,105.9 528.3,106.5 528.6,107.1 528.9,107.7 529.2,108.3 529.5,108.9 529.8,109.5 530.0,110.1 530.3,110.8 530.6,111.4 530.9,112.0 531.2,112.7 531.5,113.3 531.7,114.0 532.0,114.6 532.3,115.3 532.6,116.0 532.9,116.6 533.1,117.3 533.4,118.0 533.7,118.7 534.0,119.3 534.3,120.0 534.6,120.7 534.8,121.4 535.1,122.1 535.4,122.8 535.7,123.5 536.0,124.2 536.3,124.9 536.5,125.5 536.8,126.2 537.1,126.9 537.4,127.6 537.7,128.3 537.9,129.0 538.2,129.7 538.5,130.4 538.8,131.1 539.1,131.7 539.4,132.4 539.6,133.1 539.9,133.8 540.2,134.4 540.5,135.1 540.8,135.8 541.1,136.4 541.3,137.1 541.6,137.7 541.9,138.4 542.2,139.0 542.5,139.7 542.7,140.3 543.0,140.9 543.3,141.6 543.6,142.2 543.9,142.8 544.2,143.4 544.4,144.0 544.7,144.6 545.0,145.2 545.3,145.7 545.6,146.3 545.9,146.9 546.1,147.4 546.4,148.0 546.7,148.5 547.0,149.0 547.3,149.6 547.5,150.1 547.8,150.6 548.1,151.1 548.4,151.5 548.7,152.0 549.0,152.5 549.2,152.9 549.5,153.4 549.8,153.8 550.1,154.2 550.4,154.7 550.7,155.1 550.9,155.5 551.2,155.8 551.5,156.2 551.8,156.6 552.1,156.9 552.3,157.3 552.6,157.6 552.9,157.9 553.2,158.2 553.5,158.5 553.8,158.8 554.0,159.0 554.3,159.3 554.6,159.5 554.9,159.8 555.2,160.0 555.5,160.2 555.7,160.4 556.0,160.5 556.3,160.7 556.6,160.9 556.9,161.0 557.1,161.1 557.4,161.2 557.7,161.4 558.0,161.4 558.3,161.5 558.6,161.6 558.8,161.6 559.1,161.7 559.4,161.7 559.7,161.7 560.0,161.7 560.3,161.7 560.5,161.6 560.8,161.6 561.1,161.5 561.4,161.4 561.7,161.4 561.9,161.2 562.2,161.1 562.5,161.0 562.8,160.8 563.1,160.7 563.4,160.5 563.6,160.3 563.9,160.1 564.2,159.9 564.5,159.6 564.8,159.4 565.1,159.1 565.3,158.8 565.6,158.5 565.9,158.2 566.2,157.9 566.5,157.6 566.7,157.2 567.0,156.9 567.3,156.5 567.6,156.1 567.9,155.7 568.2,155.3 568.4,154.9 568.7,154.4 569.0,154.0 569.3,153.5 569.6,153.1 569.9,152.6 570.1,152.1 570.4,151.6 570.7,151.0 571.0,150.5 571.3,150.0 571.5,149.4 571.8,148.9 572.1,148.3 572.4,147.7 572.7,147.1 573.0,146.5 573.2,145.9 573.5,145.2 573.8,144.6 574.1,144.0 574.4,143.3 574.7,142.6 574.9,142.0 575.2,141.3 575.5,140.6 575.8,139.9 576.1,139.2 576.3,138.5 576.6,137.8 576.9,137.0 577.2,136.3 577.5,135.6 577.8,134.8 578.0,134.0 578.3,133.3 578.6,132.5 578.9,131.7 579.2,131.0 579.5,130.2 579.7,129.4 580.0,128.6 580.3,127.8 580.6,127.0 580.9,126.2 581.1,125.4 581.4,124.6 581.7,123.8 582.0,123.0 582.3,122.1 582.6,121.3 582.8,120.5 583.1,119.7 583.4,118.8 583.7,118.0 584.0,117.2 584.3,116.3 584.5,115.5 584.8,114.7 585.1,113.8 585.4,113.0 585.7,112.2 585.9,111.3 586.2,110.5 586.5,109.7 586.8,108.9 587.1,108.0 587.4,107.2 587.6,106.4 587.9,105.6 588.2,104.8 588.5,104.0 588.8,103.1 589.1,102.3 589.3,101.5 589.6,100.7 589.9,99.9 590.2,99.2 590.5,98.4 590.7,97.6 591.0,96.8 591.3,96.1 591.6,95.3 591.9,94.5 592.2,93.8 592.4,93.0 592.7,92.3 593.0,91.6 593.3,90.9 593.6,90.1 593.9,89.4 594.1,88.7 594.4,88.0 594.7,87.4 595.0,86.7 595.3,86.0 595.5,85.4 595.8,84.7 596.1,84.1 596.4,83.4 596.7,82.8 597.0,82.2 597.2,81.6 597.5,81.0 597.8,80.5 598.1,79.9 598.4,79.3 598.7,78.8 598.9,78.3 599.2,77.7 599.5,77.2 599.8,76.7 600.1,76.2 600.3,75.8 600.6,75.3 600.9,74.8 601.2,74.4 601.5,74.0 601.8,73.6 602.0,73.2 602.3,72.8 602.6,72.4 602.9,72.0 603.2,71.7 603.5,71.3 603.7,71.0 604.0,70.7 604.3,70.4" fill="none" stroke="#D95319" stroke-width="0.9" stroke-linejoin="round" />
<circle cx="378.7" cy="146.0" r="2.3" fill="none" stroke="#D95319" stroke-width="0.8"/>
<circle cx="395.6" cy="114.2" r="2.3" fill="none" stroke="#D95319" stroke-width="0.8"/>
<circle cx="412.5" cy="96.6" r="2.3" fill="none" stroke="#D95319" stroke-width="0.8"/>
<circle cx="429.5" cy="110.0" r="2.3" fill="none" stroke="#D95319" stroke-width="0.8"/>
<circle cx="446.4" cy="140.0" r="2.3" fill="none" stroke="#D95319" stroke-width="0.8"/>
<circle cx="463.3" cy="156.1" r="2.3" fill="none" stroke="#D95319" stroke-width="0.8"/>
<circle cx="480.2" cy="139.6" r="2.3" fill="none" stroke="#D95319" stroke-width="0.8"/>
<circle cx="497.1" cy="105.2" r="2.3" fill="none" stroke="#D95319" stroke-width="0.8"/>
<circle cx="514.1" cy="89.2" r="2.3" fill="none" stroke="#D95319" stroke-width="0.8"/>
<circle cx="531.0" cy="112.2" r="2.3" fill="none" stroke="#D95319" stroke-width="0.8"/>
<circle cx="547.9" cy="150.7" r="2.3" fill="none" stroke="#D95319" stroke-width="0.8"/>
<circle cx="564.8" cy="159.3" r="2.3" fill="none" stroke="#D95319" stroke-width="0.8"/>
<circle cx="581.7" cy="123.7" r="2.3" fill="none" stroke="#D95319" stroke-width="0.8"/>
<circle cx="598.7" cy="78.8" r="2.3" fill="none" stroke="#D95319" stroke-width="0.8"/>
<path d="M378.7,145.4 379.0,145.0 379.3,144.6 379.5,144.2 379.8,143.8 380.1,143.4 380.4,143.0 380.7,142.6 381.0,142.2 381.2,141.7 381.5,141.3 381.8,140.9 382.1,140.5 382.4,140.0 382.7,139.6 382.9,139.1 383.2,138.7 383.5,138.3 383.8,137.8 384.1,137.4 384.3,136.9 384.6,136.4 384.9,136.0 385.2,135.5 385.5,135.0 385.8,134.6 386.0,134.1 386.3,133.6 386.6,133.2 386.9,132.7 387.2,132.2 387.5,131.7 387.7,131.3 388.0,130.8 388.3,130.3 388.6,129.8 388.9,129.3 389.1,128.9 389.4,128.4 389.7,127.9 390.0,127.4 390.3,126.9 390.6,126.5 390.8,126.0 391.1,125.5 391.4,125.0 391.7,124.5 392.0,124.0 392.3,123.6 392.5,123.1 392.8,122.6 393.1,122.1 393.4,121.6 393.7,121.2 393.9,120.7 394.2,120.2 394.5,119.8 394.8,119.3 395.1,118.8 395.4,118.4 395.6,117.9 395.9,117.4 396.2,117.0 396.5,116.5 396.8,116.1 397.1,115.6 397.3,115.2 397.6,114.7 397.9,114.3 398.2,113.9 398.5,113.4 398.7,113.0 399.0,112.6 399.3,112.1 399.6,111.7 399.9,111.3 400.2,110.9 400.4,110.5 400.7,110.1 401.0,109.7 401.3,109.3 401.6,108.9 401.9,108.5 402.1,108.1 402.4,107.7 402.7,107.4 403.0,107.0 403.3,106.6 403.5,106.3 403.8,105.9 404.1,105.6 404.4,105.2 404.7,104.9 405.0,104.6 405.2,104.3 405.5,103.9 405.8,103.6 406.1,103.3 406.4,103.0 406.7,102.7 406.9,102.4 407.2,102.2 407.5,101.9 407.8,101.6 408.1,101.3 408.3,101.1 408.6,100.8 408.9,100.6 409.2,100.4 409.5,100.1 409.8,99.9 410.0,99.7 410.3,99.5 410.6,99.3 410.9,99.1 411.2,98.9 411.5,98.7 411.7,98.5 412.0,98.4 412.3,98.2 412.6,98.0 412.9,97.9 413.1,97.8 413.4,97.6 413.7,97.5 414.0,97.4 414.3,97.3 414.6,97.2 414.8,97.1 415.1,97.0 415.4,96.9 415.7,96.8 416.0,96.8 416.3,96.7 416.5,96.7 416.8,96.6 417.1,96.6 417.4,96.6 417.7,96.6 417.9,96.5 418.2,96.5 418.5,96.6 418.8,96.6 419.1,96.6 419.4,96.6 419.6,96.7 419.9,96.7 420.2,96.8 420.5,96.9 420.8,97.0 421.1,97.1 421.3,97.2 421.6,97.3 421.9,97.4 422.2,97.6 422.5,97.7 422.7,97.9 423.0,98.0 423.3,98.2 423.6,98.4 423.9,98.6 424.2,98.8 424.4,99.0 424.7,99.2 425.0,99.5 425.3,99.7 425.6,99.9 425.9,100.2 426.1,100.5 426.4,100.7 426.7,101.0 427.0,101.3 427.3,101.6 427.5,101.9 427.8,102.3 428.1,102.6 428.4,102.9 428.7,103.3 429.0,103.6 429.2,104.0 429.5,104.3 429.8,104.7 430.1,105.1 430.4,105.5 430.7,105.9 430.9,106.3 431.2,106.7 431.5,107.1 431.8,107.5 432.1,108.0 432.3,108.4 432.6,108.8 432.9,109.3 433.2,109.7 433.5,110.2 433.8,110.7 434.0,111.1 434.3,111.6 434.6,112.1 434.9,112.6 435.2,113.0 435.5,113.5 435.7,114.0 436.0,114.5 436.3,115.0 436.6,115.6 436.9,116.1 437.1,116.6 437.4,117.1 437.7,117.6 438.0,118.1 438.3,118.7 438.6,119.2 438.8,119.7 439.1,120.3 439.4,120.8 439.7,121.3 440.0,121.9 440.3,122.4 440.5,123.0 440.8,123.5 441.1,124.1 441.4,124.6 441.7,125.2 441.9,125.7 442.2,126.2 442.5,126.8 442.8,127.3 443.1,127.9 443.4,128.4 443.6,129.0 443.9,129.5 444.2,130.1 444.5,130.6 444.8,131.1 445.1,131.7 445.3,132.2 445.6,132.8 445.9,133.3 446.2,133.8 446.5,134.3 446.7,134.9 447.0,135.4 447.3,135.9 447.6,136.4 447.9,136.9 448.2,137.4 448.4,137.9 448.7,138.4 449.0,138.9 449.3,139.4 449.6,139.9 449.9,140.4 450.1,140.9 450.4,141.3 450.7,141.8 451.0,142.3 451.3,142.7 451.5,143.2 451.8,143.6 452.1,144.0 452.4,144.5 452.7,144.9 453.0,145.3 453.2,145.7 453.5,146.1 453.8,146.5 454.1,146.9 454.4,147.3 454.7,147.7 454.9,148.1 455.2,148.4 455.5,148.8 455.8,149.1 456.1,149.5 456.3,149.8 456.6,150.1 456.9,150.4 457.2,150.7 457.5,151.0 457.8,151.3 458.0,151.6 458.3,151.9 458.6,152.1 458.9,152.4 459.2,152.6 459.5,152.9 459.7,153.1 460.0,153.3 460.3,153.5 460.6,153.7 460.9,153.9 461.1,154.1 461.4,154.3 461.7,154.4 462.0,154.6 462.3,154.7 462.6,154.8 462.8,155.0 463.1,155.1 463.4,155.2 463.7,155.3 464.0,155.4 464.3,155.4 464.5,155.5 464.8,155.5 465.1,155.6 465.4,155.6 465.7,155.6 465.9,155.6 466.2,155.6 466.5,155.6 466.8,155.6 467.1,155.6 467.4,155.5 467.6,155.5 467.9,155.4 468.2,155.3 468.5,155.2 468.8,155.1 469.1,155.0 469.3,154.9 469.6,154.7 469.9,154.6 470.2,154.4 470.5,154.2 470.7,154.0 471.0,153.8 471.3,153.6 471.6,153.4 471.9,153.2 472.2,152.9 472.4,152.7 472.7,152.4 473.0,152.1 473.3,151.8 473.6,151.5 473.9,151.2 474.1,150.9 474.4,150.6 474.7,150.2 475.0,149.9 475.3,149.5 475.5,149.1 475.8,148.8 476.1,148.4 476.4,148.0 476.7,147.6 477.0,147.1 477.2,146.7 477.5,146.3 477.8,145.8 478.1,145.4 478.4,144.9 478.7,144.4 478.9,144.0 479.2,143.5 479.5,143.0 479.8,142.5 480.1,142.0 480.3,141.5 480.6,140.9 480.9,140.4 481.2,139.9 481.5,139.3 481.8,138.8 482.0,138.2 482.3,137.7 482.6,137.1 482.9,136.6 483.2,136.0 483.5,135.4 483.7,134.8 484.0,134.2 484.3,133.6 484.6,133.0 484.9,132.4 485.1,131.8 485.4,131.2 485.7,130.6 486.0,130.0 486.3,129.4 486.6,128.8 486.8,128.1 487.1,127.5 487.4,126.9 487.7,126.3 488.0,125.6 488.3,125.0 488.5,124.4 488.8,123.8 489.1,123.1 489.4,122.5 489.7,121.9 489.9,121.2 490.2,120.6 490.5,120.0 490.8,119.4 491.1,118.7 491.4,118.1 491.6,117.5 491.9,116.9 492.2,116.3 492.5,115.6 492.8,115.0 493.1,114.4 493.3,113.8 493.6,113.2 493.9,112.6 494.2,112.0 494.5,111.4 494.7,110.8 495.0,110.2 495.3,109.7 495.6,109.1 495.9,108.5 496.2,108.0 496.4,107.4 496.7,106.8 497.0,106.3 497.3,105.8 497.6,105.2 497.9,104.7 498.1,104.2 498.4,103.7 498.7,103.1 499.0,102.6 499.3,102.1 499.5,101.7 499.8,101.2 500.1,100.7 500.4,100.3 500.7,99.8 501.0,99.4 501.2,98.9 501.5,98.5 501.8,98.1 502.1,97.7 502.4,97.3 502.7,96.9 502.9,96.5 503.2,96.1 503.5,95.8 503.8,95.4 504.1,95.1 504.3,94.7 504.6,94.4 504.9,94.1 505.2,93.8 505.5,93.5 505.8,93.2 506.0,93.0 506.3,92.7 506.6,92.5 506.9,92.2 507.2,92.0 507.5,91.8 507.7,91.6 508.0,91.4 508.3,91.2 508.6,91.1 508.9,90.9 509.1,90.8 509.4,90.6 509.7,90.5 510.0,90.4 510.3,90.3 510.6,90.2 510.8,90.2 511.1,90.1 511.4,90.1 511.7,90.0 512.0,90.0 512.3,90.0 512.5,90.0 512.8,90.0 513.1,90.0 513.4,90.1 513.7,90.1 513.9,90.2 514.2,90.2 514.5,90.3 514.8,90.4 515.1,90.5 515.4,90.7 515.6,90.8 515.9,91.0 516.2,91.1 516.5,91.3 516.8,91.5 517.1,91.7 517.3,91.9 517.6,92.1 517.9,92.3 518.2,92.6 518.5,92.8 518.7,93.1 519.0,93.4 519.3,93.7 519.6,94.0 519.9,94.3 520.2,94.6 520.4,94.9 520.7,95.3 521.0,95.6 521.3,96.0 521.6,96.4 521.9,96.8 522.1,97.2 522.4,97.6 522.7,98.0 523.0,98.4 523.3,98.8 523.5,99.3 523.8,99.7 524.1,100.2 524.4,100.7 524.7,101.1 525.0,101.6 525.2,102.1 525.5,102.6 525.8,103.1 526.1,103.7 526.4,104.2 526.7,104.7 526.9,105.3 527.2,105.8 527.5,106.4 527.8,106.9 528.1,107.5 528.3,108.1 528.6,108.7 528.9,109.2 529.2,109.8 529.5,110.4 529.8,111.0 530.0,111.6 530.3,112.3 530.6,112.9 530.9,113.5 531.2,114.1 531.5,114.8 531.7,115.4 532.0,116.0 532.3,116.7 532.6,117.3 532.9,118.0 533.1,118.6 533.4,119.3 533.7,119.9 534.0,120.6 534.3,121.2 534.6,121.9 534.8,122.6 535.1,123.2 535.4,123.9 535.7,124.5 536.0,125.2 536.3,125.9 536.5,126.5 536.8,127.2 537.1,127.9 537.4,128.5 537.7,129.2 537.9,129.8 538.2,130.5 538.5,131.1 538.8,131.8 539.1,132.5 539.4,133.1 539.6,133.7 539.9,134.4 540.2,135.0 540.5,135.7 540.8,136.3 541.1,136.9 541.3,137.6 541.6,138.2 541.9,138.8 542.2,139.4 542.5,140.0 542.7,140.6 543.0,141.2 543.3,141.8 543.6,142.4 543.9,143.0 544.2,143.5 544.4,144.1 544.7,144.7 545.0,145.2 545.3,145.8 545.6,146.3 545.9,146.8 546.1,147.4 546.4,147.9 546.7,148.4 547.0,148.9 547.3,149.4 547.5,149.9 547.8,150.3 548.1,150.8 548.4,151.3 548.7,151.7 549.0,152.1 549.2,152.6 549.5,153.0 549.8,153.4 550.1,153.8 550.4,154.2 550.7,154.6 550.9,155.0 551.2,155.3 551.5,155.7 551.8,156.0 552.1,156.3 552.3,156.7 552.6,157.0 552.9,157.3 553.2,157.5 553.5,157.8 553.8,158.1 554.0,158.3 554.3,158.6 554.6,158.8 554.9,159.0 555.2,159.2 555.5,159.4 555.7,159.6 556.0,159.8 556.3,159.9 556.6,160.1 556.9,160.2 557.1,160.3 557.4,160.4 557.7,160.5 558.0,160.6 558.3,160.7 558.6,160.7 558.8,160.8 559.1,160.8 559.4,160.8 559.7,160.8 560.0,160.8 560.3,160.8 560.5,160.8 560.8,160.7 561.1,160.7 561.4,160.6 561.7,160.5 561.9,160.4 562.2,160.3 562.5,160.2 562.8,160.0 563.1,159.9 563.4,159.7 563.6,159.5 563.9,159.3 564.2,159.1 564.5,158.9 564.8,158.6 565.1,158.4 565.3,158.1 565.6,157.8 565.9,157.5 566.2,157.2 566.5,156.9 566.7,156.6 567.0,156.2 567.3,155.9 567.6,155.5 567.9,155.1 568.2,154.7 568.4,154.3 568.7,153.9 569.0,153.5 569.3,153.0 569.6,152.6 569.9,152.1 570.1,151.7 570.4,151.2 570.7,150.7 571.0,150.2 571.3,149.6 571.5,149.1 571.8,148.6 572.1,148.0 572.4,147.5 572.7,146.9 573.0,146.3 573.2,145.7 573.5,145.1 573.8,144.5 574.1,143.9 574.4,143.3 574.7,142.6 574.9,142.0 575.2,141.4 575.5,140.7 575.8,140.0 576.1,139.4 576.3,138.7 576.6,138.0 576.9,137.3 577.2,136.6 577.5,135.9 577.8,135.2 578.0,134.5 578.3,133.7 578.6,133.0 578.9,132.3 579.2,131.5 579.5,130.8 579.7,130.0 580.0,129.3 580.3,128.5 580.6,127.7 580.9,127.0 581.1,126.2 581.4,125.4 581.7,124.6 582.0,123.9 582.3,123.1 582.6,122.3 582.8,121.5 583.1,120.7 583.4,119.9 583.7,119.1 584.0,118.3 584.3,117.6 584.5,116.8 584.8,116.0 585.1,115.2 585.4,114.4 585.7,113.6 585.9,112.8 586.2,112.0 586.5,111.2 586.8,110.4 587.1,109.6 587.4,108.9 587.6,108.1 587.9,107.3 588.2,106.5 588.5,105.7 588.8,105.0 589.1,104.2 589.3,103.4 589.6,102.7 589.9,101.9 590.2,101.2 590.5,100.4 590.7,99.7 591.0,98.9 591.3,98.2 591.6,97.5 591.9,96.8 592.2,96.0 592.4,95.3 592.7,94.6 593.0,93.9 593.3,93.2 593.6,92.6 593.9,91.9 594.1,91.2 594.4,90.6 594.7,89.9 595.0,89.3 595.3,88.6 595.5,88.0 595.8,87.4 596.1,86.8 596.4,86.2 596.7,85.6 597.0,85.0 597.2,84.4 597.5,83.9 597.8,83.3 598.1,82.8 598.4,82.2 598.7,81.7 598.9,81.2 599.2,80.7 599.5,80.2 599.8,79.7 600.1,79.3 600.3,78.8 600.6,78.4 600.9,78.0 601.2,77.5 601.5,77.1 601.8,76.7 602.0,76.4 602.3,76.0 602.6,75.6 602.9,75.3 603.2,74.9 603.5,74.6 603.7,74.3 604.0,74.0 604.3,73.7" fill="none" stroke="#EDB120" stroke-width="0.9" stroke-linejoin="round" />
<circle cx="385.5" cy="135.1" r="2.3" fill="none" stroke="#EDB120" stroke-width="0.8"/>
<circle cx="402.4" cy="107.8" r="2.3" fill="none" stroke="#EDB120" stroke-width="0.8"/>
<circle cx="419.3" cy="96.6" r="2.3" fill="none" stroke="#EDB120" stroke-width="0.8"/>
<circle cx="436.2" cy="114.9" r="2.3" fill="none" stroke="#EDB120" stroke-width="0.8"/>
<circle cx="453.1" cy="145.6" r="2.3" fill="none" stroke="#EDB120" stroke-width="0.8"/>
<circle cx="470.1" cy="154.5" r="2.3" fill="none" stroke="#EDB120" stroke-width="0.8"/>
<circle cx="487.0" cy="127.8" r="2.3" fill="none" stroke="#EDB120" stroke-width="0.8"/>
<circle cx="503.9" cy="95.3" r="2.3" fill="none" stroke="#EDB120" stroke-width="0.8"/>
<circle cx="520.8" cy="95.4" r="2.3" fill="none" stroke="#EDB120" stroke-width="0.8"/>
<circle cx="537.7" cy="129.4" r="2.3" fill="none" stroke="#EDB120" stroke-width="0.8"/>
<circle cx="554.7" cy="158.8" r="2.3" fill="none" stroke="#EDB120" stroke-width="0.8"/>
<circle cx="571.6" cy="149.0" r="2.3" fill="none" stroke="#EDB120" stroke-width="0.8"/>
<circle cx="588.5" cy="105.7" r="2.3" fill="none" stroke="#EDB120" stroke-width="0.8"/>
<path d="M378.7,152.7 379.0,152.4 379.3,152.1 379.5,151.8 379.8,151.4 380.1,151.1 380.4,150.8 380.7,150.4 381.0,150.1 381.2,149.7 381.5,149.3 381.8,149.0 382.1,148.6 382.4,148.2 382.7,147.8 382.9,147.4 383.2,147.0 383.5,146.6 383.8,146.2 384.1,145.8 384.3,145.4 384.6,144.9 384.9,144.5 385.2,144.1 385.5,143.6 385.8,143.2 386.0,142.8 386.3,142.3 386.6,141.9 386.9,141.4 387.2,140.9 387.5,140.5 387.7,140.0 388.0,139.5 388.3,139.1 388.6,138.6 388.9,138.1 389.1,137.6 389.4,137.1 389.7,136.6 390.0,136.2 390.3,135.7 390.6,135.2 390.8,134.7 391.1,134.2 391.4,133.7 391.7,133.2 392.0,132.7 392.3,132.2 392.5,131.7 392.8,131.2 393.1,130.7 393.4,130.1 393.7,129.6 393.9,129.1 394.2,128.6 394.5,128.1 394.8,127.6 395.1,127.1 395.4,126.6 395.6,126.1 395.9,125.6 396.2,125.1 396.5,124.5 396.8,124.0 397.1,123.5 397.3,123.0 397.6,122.5 397.9,122.0 398.2,121.5 398.5,121.0 398.7,120.5 399.0,120.0 399.3,119.5 399.6,119.1 399.9,118.6 400.2,118.1 400.4,117.6 400.7,117.1 401.0,116.6 401.3,116.2 401.6,115.7 401.9,115.2 402.1,114.8 402.4,114.3 402.7,113.8 403.0,113.4 403.3,112.9 403.5,112.5 403.8,112.0 404.1,111.6 404.4,111.2 404.7,110.7 405.0,110.3 405.2,109.9 405.5,109.5 405.8,109.1 406.1,108.6 406.4,108.2 406.7,107.9 406.9,107.5 407.2,107.1 407.5,106.7 407.8,106.3 408.1,105.9 408.3,105.6 408.6,105.2 408.9,104.9 409.2,104.5 409.5,104.2 409.8,103.9 410.0,103.5 410.3,103.2 410.6,102.9 410.9,102.6 411.2,102.3 411.5,102.0 411.7,101.7 412.0,101.4 412.3,101.1 412.6,100.9 412.9,100.6 413.1,100.4 413.4,100.1 413.7,99.9 414.0,99.7 414.3,99.4 414.6,99.2 414.8,99.0 415.1,98.8 415.4,98.6 415.7,98.4 416.0,98.3 416.3,98.1 416.5,97.9 416.8,97.8 417.1,97.6 417.4,97.5 417.7,97.4 417.9,97.2 418.2,97.1 418.5,97.0 418.8,96.9 419.1,96.8 419.4,96.7 419.6,96.7 419.9,96.6 420.2,96.5 420.5,96.5 420.8,96.5 421.1,96.4 421.3,96.4 421.6,96.4 421.9,96.4 422.2,96.4 422.5,96.4 422.7,96.4 423.0,96.4 423.3,96.5 423.6,96.6 423.9,96.6 424.2,96.7 424.4,96.8 424.7,96.9 425.0,97.0 425.3,97.2 425.6,97.3 425.9,97.4 426.1,97.6 426.4,97.8 426.7,98.0 427.0,98.2 427.3,98.4 427.5,98.6 427.8,98.8 428.1,99.0 428.4,99.3 428.7,99.6 429.0,99.8 429.2,100.1 429.5,100.4 429.8,100.7 430.1,101.0 430.4,101.3 430.7,101.6 430.9,102.0 431.2,102.3 431.5,102.7 431.8,103.1 432.1,103.4 432.3,103.8 432.6,104.2 432.9,104.6 433.2,105.0 433.5,105.4 433.8,105.9 434.0,106.3 434.3,106.7 434.6,107.2 434.9,107.6 435.2,108.1 435.5,108.6 435.7,109.1 436.0,109.5 436.3,110.0 436.6,110.5 436.9,111.0 437.1,111.5 437.4,112.0 437.7,112.6 438.0,113.1 438.3,113.6 438.6,114.1 438.8,114.7 439.1,115.2 439.4,115.8 439.7,116.3 440.0,116.9 440.3,117.4 440.5,118.0 440.8,118.5 441.1,119.1 441.4,119.7 441.7,120.2 441.9,120.8 442.2,121.4 442.5,122.0 442.8,122.5 443.1,123.1 443.4,123.7 443.6,124.3 443.9,124.8 444.2,125.4 444.5,126.0 444.8,126.6 445.1,127.2 445.3,127.7 445.6,128.3 445.9,128.9 446.2,129.5 446.5,130.0 446.7,130.6 447.0,131.2 447.3,131.7 447.6,132.3 447.9,132.9 448.2,133.4 448.4,134.0 448.7,134.5 449.0,135.1 449.3,135.6 449.6,136.1 449.9,136.7 450.1,137.2 450.4,137.7 450.7,138.2 451.0,138.7 451.3,139.3 451.5,139.8 451.8,140.3 452.1,140.7 452.4,141.2 452.7,141.7 453.0,142.2 453.2,142.6 453.5,143.1 453.8,143.5 454.1,144.0 454.4,144.4 454.7,144.8 454.9,145.3 455.2,145.7 455.5,146.1 455.8,146.5 456.1,146.8 456.3,147.2 456.6,147.6 456.9,147.9 457.2,148.3 457.5,148.6 457.8,149.0 458.0,149.3 458.3,149.6 458.6,149.9 458.9,150.2 459.2,150.5 459.5,150.7 459.7,151.0 460.0,151.2 460.3,151.5 460.6,151.7 460.9,151.9 461.1,152.1 461.4,152.3 461.7,152.5 462.0,152.7 462.3,152.8 462.6,153.0 462.8,153.1 463.1,153.3 463.4,153.4 463.7,153.5 464.0,153.6 464.3,153.7 464.5,153.7 464.8,153.8 465.1,153.8 465.4,153.9 465.7,153.9 465.9,153.9 466.2,153.9 466.5,153.9 466.8,153.9 467.1,153.8 467.4,153.8 467.6,153.7 467.9,153.7 468.2,153.6 468.5,153.5 468.8,153.4 469.1,153.3 469.3,153.2 469.6,153.0 469.9,152.9 470.2,152.7 470.5,152.5 470.7,152.3 471.0,152.1 471.3,151.9 471.6,151.7 471.9,151.5 472.2,151.3 472.4,151.0 472.7,150.7 473.0,150.5 473.3,150.2 473.6,149.9 473.9,149.6 474.1,149.3 474.4,148.9 474.7,148.6 475.0,148.3 475.3,147.9 475.5,147.6 475.8,147.2 476.1,146.8 476.4,146.4 476.7,146.0 477.0,145.6 477.2,145.2 477.5,144.8 477.8,144.3 478.1,143.9 478.4,143.4 478.7,143.0 478.9,142.5 479.2,142.0 479.5,141.5 479.8,141.1 480.1,140.6 480.3,140.1 480.6,139.5 480.9,139.0 481.2,138.5 481.5,138.0 481.8,137.4 482.0,136.9 482.3,136.4 482.6,135.8 482.9,135.3 483.2,134.7 483.5,134.1 483.7,133.6 484.0,133.0 484.3,132.4 484.6,131.8 484.9,131.2 485.1,130.6 485.4,130.1 485.7,129.5 486.0,128.9 486.3,128.3 486.6,127.7 486.8,127.1 487.1,126.4 487.4,125.8 487.7,125.2 488.0,124.6 488.3,124.0 488.5,123.4 488.8,122.8 489.1,122.2 489.4,121.5 489.7,120.9 489.9,120.3 490.2,119.7 490.5,119.1 490.8,118.5 491.1,117.9 491.4,117.3 491.6,116.7 491.9,116.1 492.2,115.5 492.5,114.9 492.8,114.3 493.1,113.7 493.3,113.1 493.6,112.5 493.9,111.9 494.2,111.3 494.5,110.8 494.7,110.2 495.0,109.6 495.3,109.1 495.6,108.5 495.9,107.9 496.2,107.4 496.4,106.8 496.7,106.3 497.0,105.8 497.3,105.3 497.6,104.7 497.9,104.2 498.1,103.7 498.4,103.2 498.7,102.7 499.0,102.2 499.3,101.8 499.5,101.3 499.8,100.8 500.1,100.4 500.4,99.9 500.7,99.5 501.0,99.1 501.2,98.6 501.5,98.2 501.8,97.8 502.1,97.4 502.4,97.0 502.7,96.7 502.9,96.3 503.2,95.9 503.5,95.6 503.8,95.3 504.1,94.9 504.3,94.6 504.6,94.3 504.9,94.0 505.2,93.7 505.5,93.4 505.8,93.2 506.0,92.9 506.3,92.7 506.6,92.4 506.9,92.2 507.2,92.0 507.5,91.8 507.7,91.6 508.0,91.4 508.3,91.3 508.6,91.1 508.9,91.0 509.1,90.8 509.4,90.7 509.7,90.6 510.0,90.5 510.3,90.4 510.6,90.4 510.8,90.3 511.1,90.2 511.4,90.2 511.7,90.2 512.0,90.2 512.3,90.2 512.5,90.2 512.8,90.2 513.1,90.2 513.4,90.3 513.7,90.3 513.9,90.4 514.2,90.5 514.5,90.6 514.8,90.7 515.1,90.8 515.4,90.9 515.6,91.0 515.9,91.2 516.2,91.4 516.5,91.5 516.8,91.7 517.1,91.9 517.3,92.1 517.6,92.4 517.9,92.6 518.2,92.8 518.5,93.1 518.7,93.4 519.0,93.6 519.3,93.9 519.6,94.2 519.9,94.5 520.2,94.8 520.4,95.2 520.7,95.5 521.0,95.9 521.3,96.2 521.6,96.6 521.9,97.0 522.1,97.4 522.4,97.8 522.7,98.2 523.0,98.6 523.3,99.0 523.5,99.5 523.8,99.9 524.1,100.4 524.4,100.8 524.7,101.3 525.0,101.8 525.2,102.3 525.5,102.8 525.8,103.3 526.1,103.8 526.4,104.3 526.7,104.8 526.9,105.4 527.2,105.9 527.5,106.5 527.8,107.0 528.1,107.6 528.3,108.1 528.6,108.7 528.9,109.3 529.2,109.9 529.5,110.5 529.8,111.1 530.0,111.7 530.3,112.3 530.6,112.9 530.9,113.5 531.2,114.1 531.5,114.7 531.7,115.4 532.0,116.0 532.3,116.6 532.6,117.3 532.9,117.9 533.1,118.5 533.4,119.2 533.7,119.8 534.0,120.5 534.3,121.1 534.6,121.8 534.8,122.4 535.1,123.1 535.4,123.8 535.7,124.4 536.0,125.1 536.3,125.7 536.5,126.4 536.8,127.0 537.1,127.7 537.4,128.4 537.7,129.0 537.9,129.7 538.2,130.3 538.5,131.0 538.8,131.6 539.1,132.3 539.4,132.9 539.6,133.6 539.9,134.2 540.2,134.8 540.5,135.5 540.8,136.1 541.1,136.7 541.3,137.4 541.6,138.0 541.9,138.6 542.2,139.2 542.5,139.8 542.7,140.4 543.0,141.0 543.3,141.6 543.6,142.2 543.9,142.8 544.2,143.4 544.4,143.9 544.7,144.5 545.0,145.0 545.3,145.6 545.6,146.1 545.9,146.7 546.1,147.2 546.4,147.7 546.7,148.3 547.0,148.8 547.3,149.3 547.5,149.8 547.8,150.2 548.1,150.7 548.4,151.2 548.7,151.7 549.0,152.1 549.2,152.5 549.5,153.0 549.8,153.4 550.1,153.8 550.4,154.2 550.7,154.6 550.9,155.0 551.2,155.4 551.5,155.8 551.8,156.1 552.1,156.5 552.3,156.8 552.6,157.1 552.9,157.4 553.2,157.7 553.5,158.0 553.8,158.3 554.0,158.6 554.3,158.9 554.6,159.1 554.9,159.4 555.2,159.6 555.5,159.8 555.7,160.0 556.0,160.2 556.3,160.4 556.6,160.5 556.9,160.7 557.1,160.9 557.4,161.0 557.7,161.1 558.0,161.2 558.3,161.3 558.6,161.4 558.8,161.5 559.1,161.6 559.4,161.6 559.7,161.6 560.0,161.7 560.3,161.7 560.5,161.7 560.8,161.7 561.1,161.7 561.4,161.6 561.7,161.6 561.9,161.5 562.2,161.4 562.5,161.3 562.8,161.2 563.1,161.1 563.4,161.0 563.6,160.9 563.9,160.7 564.2,160.5 564.5,160.3 564.8,160.2 565.1,159.9 565.3,159.7 565.6,159.5 565.9,159.2 566.2,159.0 566.5,158.7 566.7,158.4 567.0,158.1 567.3,157.8 567.6,157.5 567.9,157.2 568.2,156.8 568.4,156.5 568.7,156.1 569.0,155.7 569.3,155.3 569.6,154.9 569.9,154.5 570.1,154.1 570.4,153.6 570.7,153.2 571.0,152.7 571.3,152.3 571.5,151.8 571.8,151.3 572.1,150.8 572.4,150.3 572.7,149.8 573.0,149.2 573.2,148.7 573.5,148.1 573.8,147.6 574.1,147.0 574.4,146.4 574.7,145.9 574.9,145.3 575.2,144.7 575.5,144.0 575.8,143.4 576.1,142.8 576.3,142.2 576.6,141.5 576.9,140.9 577.2,140.2 577.5,139.6 577.8,138.9 578.0,138.2 578.3,137.5 578.6,136.8 578.9,136.1 579.2,135.5 579.5,134.7 579.7,134.0 580.0,133.3 580.3,132.6 580.6,131.9 580.9,131.2 581.1,130.4 581.4,129.7 581.7,128.9 582.0,128.2 582.3,127.5 582.6,126.7 582.8,126.0 583.1,125.2 583.4,124.4 583.7,123.7 584.0,122.9 584.3,122.2 584.5,121.4 584.8,120.6 585.1,119.9 585.4,119.1 585.7,118.4 585.9,117.6 586.2,116.8 586.5,116.1 586.8,115.3 587.1,114.5 587.4,113.8 587.6,113.0 587.9,112.2 588.2,111.5 588.5,110.7 588.8,110.0 589.1,109.2 589.3,108.5 589.6,107.7 589.9,107.0 590.2,106.3 590.5,105.5 590.7,104.8 591.0,104.1 591.3,103.3 591.6,102.6 591.9,101.9 592.2,101.2 592.4,100.5 592.7,99.8 593.0,99.1 593.3,98.4 593.6,97.7 593.9,97.1 594.1,96.4 594.4,95.7 594.7,95.1 595.0,94.4 595.3,93.8 595.5,93.2 595.8,92.5 596.1,91.9 596.4,91.3 596.7,90.7 597.0,90.1 597.2,89.5 597.5,89.0 597.8,88.4 598.1,87.9 598.4,87.3 598.7,86.8 598.9,86.2 599.2,85.7 599.5,85.2 599.8,84.7 600.1,84.2 600.3,83.7 600.6,83.3 600.9,82.8 601.2,82.4 601.5,81.9 601.8,81.5 602.0,81.1 602.3,80.7 602.6,80.3 602.9,79.9 603.2,79.6 603.5,79.2 603.7,78.9 604.0,78.5 604.3,78.2" fill="none" stroke="#7E2F8E" stroke-width="0.9" stroke-linejoin="round" />
<circle cx="390.1" cy="136.0" r="2.3" fill="none" stroke="#7E2F8E" stroke-width="0.8"/>
<circle cx="407.0" cy="107.4" r="2.3" fill="none" stroke="#7E2F8E" stroke-width="0.8"/>
<circle cx="423.9" cy="96.6" r="2.3" fill="none" stroke="#7E2F8E" stroke-width="0.8"/>
<circle cx="440.9" cy="118.6" r="2.3" fill="none" stroke="#7E2F8E" stroke-width="0.8"/>
<circle cx="457.8" cy="149.0" r="2.3" fill="none" stroke="#7E2F8E" stroke-width="0.8"/>
<circle cx="474.7" cy="148.6" r="2.3" fill="none" stroke="#7E2F8E" stroke-width="0.8"/>
<circle cx="491.6" cy="116.7" r="2.3" fill="none" stroke="#7E2F8E" stroke-width="0.8"/>
<circle cx="508.5" cy="91.1" r="2.3" fill="none" stroke="#7E2F8E" stroke-width="0.8"/>
<circle cx="525.5" cy="102.7" r="2.3" fill="none" stroke="#7E2F8E" stroke-width="0.8"/>
<circle cx="542.4" cy="139.6" r="2.3" fill="none" stroke="#7E2F8E" stroke-width="0.8"/>
<circle cx="559.3" cy="161.6" r="2.3" fill="none" stroke="#7E2F8E" stroke-width="0.8"/>
<circle cx="576.2" cy="142.5" r="2.3" fill="none" stroke="#7E2F8E" stroke-width="0.8"/>
<circle cx="593.1" cy="98.8" r="2.3" fill="none" stroke="#7E2F8E" stroke-width="0.8"/>
</g>
<rect x="378.7" y="55.4" width="225.6" height="121.0" fill="none" stroke="#8c8c8c" stroke-width="1"/>
<line x1="378.7" y1="176.4" x2="378.7" y2="173.9" stroke="#8c8c8c" stroke-width="1" />
<line x1="378.7" y1="55.4" x2="378.7" y2="57.9" stroke="#8c8c8c" stroke-width="1" />
<text x="378.5" y="188.9" font-size="10.2" font-family='"Liberation Serif", serif' text-anchor="middle" fill="#3a3a3a" textLength="20.4" lengthAdjust="spacingAndGlyphs">5000</text>
<line x1="435.1" y1="176.4" x2="435.1" y2="173.9" stroke="#8c8c8c" stroke-width="1" />
<line x1="435.1" y1="55.4" x2="435.1" y2="57.9" stroke="#8c8c8c" stroke-width="1" />
<text x="434.9" y="188.9" font-size="10.2" font-family='"Liberation Serif", serif' text-anchor="middle" fill="#3a3a3a" textLength="20.4" lengthAdjust="spacingAndGlyphs">4000</text>
<line x1="491.5" y1="176.4" x2="491.5" y2="173.9" stroke="#8c8c8c" stroke-width="1" />
<line x1="491.5" y1="55.4" x2="491.5" y2="57.9" stroke="#8c8c8c" stroke-width="1" />
<text x="491.3" y="188.9" font-size="10.2" font-family='"Liberation Serif", serif' text-anchor="middle" fill="#3a3a3a" textLength="20.4" lengthAdjust="spacingAndGlyphs">3000</text>
<line x1="547.9" y1="176.4" x2="547.9" y2="173.9" stroke="#8c8c8c" stroke-width="1" />
<line x1="547.9" y1="55.4" x2="547.9" y2="57.9" stroke="#8c8c8c" stroke-width="1" />
<text x="547.7" y="188.9" font-size="10.2" font-family='"Liberation Serif", serif' text-anchor="middle" fill="#3a3a3a" textLength="20.4" lengthAdjust="spacingAndGlyphs">2000</text>
<line x1="604.3" y1="176.4" x2="604.3" y2="173.9" stroke="#8c8c8c" stroke-width="1" />
<line x1="604.3" y1="55.4" x2="604.3" y2="57.9" stroke="#8c8c8c" stroke-width="1" />
<text x="604.1" y="188.9" font-size="10.2" font-family='"Liberation Serif", serif' text-anchor="middle" fill="#3a3a3a" textLength="20.4" lengthAdjust="spacingAndGlyphs">1000</text>
<line x1="378.7" y1="159.1" x2="381.2" y2="159.1" stroke="#8c8c8c" stroke-width="1" />
<line x1="604.3" y1="159.1" x2="601.8" y2="159.1" stroke="#8c8c8c" stroke-width="1" />
<text x="375.2" y="162.2" font-size="10.2" font-family='"Liberation Serif", serif' text-anchor="end" fill="#3a3a3a">0</text>
<line x1="378.7" y1="124.5" x2="381.2" y2="124.5" stroke="#8c8c8c" stroke-width="1" />
<line x1="604.3" y1="124.5" x2="601.8" y2="124.5" stroke="#8c8c8c" stroke-width="1" />
<text x="375.2" y="127.6" font-size="10.2" font-family='"Liberation Serif", serif' text-anchor="end" fill="#3a3a3a">2</text>
<line x1="378.7" y1="90" x2="381.2" y2="90" stroke="#8c8c8c" stroke-width="1" />
<line x1="604.3" y1="90" x2="601.8" y2="90" stroke="#8c8c8c" stroke-width="1" />
<text x="375.2" y="93.1" font-size="10.2" font-family='"Liberation Serif", serif' text-anchor="end" fill="#3a3a3a">4</text>
<line x1="378.7" y1="55.4" x2="381.2" y2="55.4" stroke="#8c8c8c" stroke-width="1" />
<line x1="604.3" y1="55.4" x2="601.8" y2="55.4" stroke="#8c8c8c" stroke-width="1" />
<text x="375.2" y="58.5" font-size="10.2" font-family='"Liberation Serif", serif' text-anchor="end" fill="#3a3a3a">6</text>
<text x="471.1" y="202.2" font-size="10.5" font-family='"Liberation Serif", serif' text-anchor="start" fill="#3a3a3a" font-style="italic">ν</text>
<path d="M472.10 195.70 q1.05 -1.30 2.10 0 t2.10 0" fill="none" stroke="#3a3a3a" stroke-width="0.75"/>
<text x="481.1" y="203.2" font-size="12.2" font-family='"Liberation Serif", serif' text-anchor="start" fill="#3a3a3a">[</text>
<text x="485.2" y="202.2" font-size="10.0" font-family='"Liberation Serif", serif' text-anchor="start" fill="#3a3a3a" textLength="13.7" lengthAdjust="spacingAndGlyphs">cm</text>
<text x="499.2" y="198.6" font-size="7.199999999999999" font-family='"Liberation Serif", serif' text-anchor="start" fill="#3a3a3a" textLength="7.6" lengthAdjust="spacingAndGlyphs">−1</text>
<text x="506.6" y="203.2" font-size="12.2" font-family='"Liberation Serif", serif' text-anchor="start" fill="#3a3a3a">]</text>
<g transform="translate(364.3 125.8) rotate(-90)">
<text x="0" y="0" font-size="12.4" font-family='"Liberation Serif", serif' text-anchor="start" fill="#3a3a3a" font-style="italic" textLength="8.0" lengthAdjust="spacingAndGlyphs">Q</text>
<text x="8.6" y="1.6" font-size="8.4" font-family='"Liberation Serif", serif' text-anchor="start" fill="#3a3a3a" font-style="italic" textLength="10.5" lengthAdjust="spacingAndGlyphs">ext</text>
</g>
<rect x="394.7" y="1" width="192.9" height="42.1" fill="#fff" stroke="#555" stroke-width="0.8"/>
<line x1="397.3" y1="7" x2="417.4" y2="7" stroke="#0072BD" stroke-width="0.9" />
<circle cx="407.4" cy="7.0" r="2.1" fill="none" stroke="#0072BD" stroke-width="0.8"/>
<text x="419" y="9.7" font-size="7.6" font-family='"Liberation Serif", serif' text-anchor="start" fill="#222" textLength="69.3" lengthAdjust="spacingAndGlyphs"><tspan font-style="italic">d</tspan> = 0 <tspan font-style="italic">μ</tspan>m - approx.</text>
<line x1="496.9" y1="7" x2="517.5" y2="7" stroke="#0072BD" stroke-width="1.0" />
<text x="519" y="9.7" font-size="7.6" font-family='"Liberation Serif", serif' text-anchor="start" fill="#222" textLength="62.1" lengthAdjust="spacingAndGlyphs"><tspan font-style="italic">d</tspan> = 0 <tspan font-style="italic">μ</tspan>m - E&amp;M</text>
<line x1="397.3" y1="17" x2="417.4" y2="17" stroke="#D95319" stroke-width="0.9" />
<circle cx="407.4" cy="17.0" r="2.1" fill="none" stroke="#D95319" stroke-width="0.8"/>
<text x="419" y="19.7" font-size="7.6" font-family='"Liberation Serif", serif' text-anchor="start" fill="#222" textLength="69.3" lengthAdjust="spacingAndGlyphs"><tspan font-style="italic">d</tspan> = 5 <tspan font-style="italic">μ</tspan>m - approx.</text>
<line x1="496.9" y1="17" x2="517.5" y2="17" stroke="#D95319" stroke-width="1.0" />
<text x="519" y="19.7" font-size="7.6" font-family='"Liberation Serif", serif' text-anchor="start" fill="#222" textLength="62.1" lengthAdjust="spacingAndGlyphs"><tspan font-style="italic">d</tspan> = 5 <tspan font-style="italic">μ</tspan>m - E&amp;M</text>
<line x1="397.3" y1="27.4" x2="417.4" y2="27.4" stroke="#EDB120" stroke-width="0.9" />
<circle cx="407.4" cy="27.4" r="2.1" fill="none" stroke="#EDB120" stroke-width="0.8"/>
<text x="419" y="30.1" font-size="7.6" font-family='"Liberation Serif", serif' text-anchor="start" fill="#222" textLength="73.4" lengthAdjust="spacingAndGlyphs"><tspan font-style="italic">d</tspan> = 10 <tspan font-style="italic">μ</tspan>m - approx.</text>
<line x1="496.9" y1="27.4" x2="517.5" y2="27.4" stroke="#EDB120" stroke-width="1.0" />
<text x="519" y="30.1" font-size="7.6" font-family='"Liberation Serif", serif' text-anchor="start" fill="#222" textLength="66.4" lengthAdjust="spacingAndGlyphs"><tspan font-style="italic">d</tspan> = 10 <tspan font-style="italic">μ</tspan>m - E&amp;M</text>
<line x1="397.3" y1="37.2" x2="417.4" y2="37.2" stroke="#7E2F8E" stroke-width="0.9" />
<circle cx="407.4" cy="37.2" r="2.1" fill="none" stroke="#7E2F8E" stroke-width="0.8"/>
<text x="419" y="39.9" font-size="7.6" font-family='"Liberation Serif", serif' text-anchor="start" fill="#222" textLength="73.4" lengthAdjust="spacingAndGlyphs"><tspan font-style="italic">d</tspan> = 15 <tspan font-style="italic">μ</tspan>m - approx.</text>
<line x1="496.9" y1="37.2" x2="517.5" y2="37.2" stroke="#7E2F8E" stroke-width="1.0" />
<text x="519" y="39.9" font-size="7.6" font-family='"Liberation Serif", serif' text-anchor="start" fill="#222" textLength="66.4" lengthAdjust="spacingAndGlyphs"><tspan font-style="italic">d</tspan> = 15 <tspan font-style="italic">μ</tspan>m - E&amp;M</text>
<text x="485.9" y="229.1" font-size="14.4" font-family='"Liberation Sans", sans-serif' text-anchor="middle" fill="#111" font-weight="bold">(b)</text>
<defs><filter id="hblur" x="-2%" y="-2%" width="104%" height="104%"><feGaussianBlur stdDeviation="0.45" edgeMode="duplicate"/></filter></defs>
<defs><linearGradient id="cbg" x1="0" y1="0" x2="0" y2="1"><stop offset="0.000" stop-color="#ff0000"/><stop offset="0.083" stop-color="#ff4000"/><stop offset="0.167" stop-color="#ff8000"/><stop offset="0.250" stop-color="#ffbf00"/><stop offset="0.333" stop-color="#ffff00"/><stop offset="0.417" stop-color="#bfff40"/><stop offset="0.500" stop-color="#80ff80"/><stop offset="0.583" stop-color="#40ffbf"/><stop offset="0.667" stop-color="#00ffff"/><stop offset="0.750" stop-color="#00bfff"/><stop offset="0.833" stop-color="#0080ff"/><stop offset="0.917" stop-color="#0040ff"/><stop offset="1.000" stop-color="#0000ff"/></linearGradient></defs>
<clipPath id="hcc"><rect x="25" y="238" width="107.0" height="99.0"/></clipPath>
<g clip-path="url(#hcc)"><g filter="url(#hblur)">
<g transform="translate(25 238)" shape-rendering="crispEdges" fill="none" stroke-width="1">
<rect width="107" height="99" fill="#00e7ff" stroke="none"/>
<path stroke="#0008ff" d="M76.5 14v1m0 60v1m1 0v1m9-61v1m0 56v1m1-59v1m0 58v1m1-60v1m1-2v1m0 60v1"/>
<path stroke="#0018ff" d="M61.5 79v1m1-71v1m0 70v1m6-69v1m0 64v1m1-67v2m0 65v1m1 0v1m4-6v1m1-60v1m0 58v1m1-60v1m0 52v1m1-56v2m0 6v1m0 46v1m0 6v1m1-64v2m0 62v2m4-53v1m0 38v1m0 6v1m1-54v1m0 5v1m0 40v1m0 5v1m1-55v2m0 52v2m1-57v2m0 54v2m1-57v1m0 56v1m1-59v1m0 56v1m1-60v1m0 59v2m1-47v1m0 30v1m0 15v1m1-64v2m0 13v2m0 31v1m0 13v2m1-65v2m0 62v2m1-66v1m0 64v1m1-67v1m0 66v1m7-44v1m0 18v1m1-20v1m0 18v1m3-38v1m0 54v1m1-56v1m1-2v1m0 56v1"/>
<path stroke="#0028ff" d="M47.5 9v1m0 70v1m6-70v1m0 66v1m1-70v1m0 70v1m1-74v2m0 72v2m4-7v1m1-65v1m1-3v2m2-4v1m0 72v1m3-68v1m0 60v1m1-63v1m0 62v1m1-64v1m0 62v1m1 0v1m1-68v2m0 7v1m0 50v1m0 7v1m1-70v1m0 8v1m0 52v1m0 8v1m1-64v1m0 54v1m1-57v2m0 55v1m1-59v2m0 56v1m1-60v1m0 1v1m0 50v1m0 7v1m1-63v1m0 7v2m0 51v1m0 1v1m1-57v1m0 48v1m0 7v1m1-58v1m0 48v1m1-59v2m0 6v2m0 48v2m0 6v2m1-69v2m0 7v2m0 49v1m0 7v2m1-62v2m0 44v1m0 5v2m1-54v2m0 4v1m0 40v1m0 4v1m1-54v1m0 1v1m0 5v1m0 40v1m0 3v1m0 1v1m1-57v1m0 6v2m0 40v2m0 6v1m1-56v1m0 52v1m1-57v1m0 56v1m1-59v1m0 60v1m1-60v1m0 56v1m1-61v1m0 1v1m0 45v1m0 12v1m1-15v1m0 16v1m1-64v1m0 13v1m0 32v2m1-52v1m0 1v1m0 62v1m0 1v1m1-67v1m0 64v1m1-68v2m0 10v1m0 55v2m1-70v1m0 10v2m0 45v1m0 10v1m1-71v2m0 10v1m0 46v2m0 10v1m1-72v1m0 10v2m0 46v2m0 10v1m1-73v1m0 11v1m0 48v2m0 10v1m1-63v2m0 48v2m1-52v2m0 49v2m1-54v2m0 35v1m0 14v2m1-54v2m0 14v2m0 18v2m0 15v2m1-56v2m0 15v1m0 20v1m0 15v2m1-55v1m0 52v1m0 1v1m1-58v1m0 55v2m1-57v1m0 54v1"/>
<path stroke="#0038ff" d="M46.5 11v1m0 66v1m1-71v1m0 72v1m6-3v1m1-70v1m0 70v1m2 1v1m2-69v1m0 58v1m1-62v1m1-3v1m0 65v2m1-1v1m1-71v1m0 1v1m0 68v1m0 1v1m1-75v1m0 1v1m0 72v1m1-66v1m0 54v2m1-59v2m0 57v1m2-61v1m0 60v1m0 1v1m1 0v1m1-69v1m0 9v1m0 48v1m0 9v1m1-71v1m0 61v1m0 8v1m1-71v1m0 6v1m0 54v1m0 6v1m0 1v1m1-74v1m0 7v1m0 56v1m0 7v1m1-67v1m0 56v1m0 1v1m1 0v1m1-54v1m0 50v1m1-58v1m0 50v1m1-56v1m0 2v1m0 58v1m1-64v1m0 2v1m0 4v1m0 1v1m0 46v1m0 1v1m0 4v1m0 2v1m1-69v1m0 2v1m0 57v1m0 4v1m0 2v1m1-68v1m0 5v1m0 50v1m0 1v1m0 5v1m1-69v3m0 8v1m0 4v2m0 42v1m0 2v1m0 6v2m1-72v1m0 7v1m0 2v1m0 24v1m0 23v1m0 2v1m0 7v2m1-66v1m0 3v1m0 2v1m0 40v1m0 4v1m0 3v1m1-55v1m0 2v1m0 44v1m0 2v1m1-56v1m0 3v1m0 3v2m0 40v3m0 2v1m0 3v1m1-57v1m0 4v1m0 42v1m0 4v1m0 3v1m1-59v1m0 54v1m1-60v1m0 15v2m0 29v1m0 15v1m1-61v1m0 11v1m1-17v1m0 2v1m0 11v1m0 34v1m0 11v1m1-52v1m0 3v1m0 1v1m0 33v1m0 2v2m0 7v1m0 2v1m1-57v3m0 1v3m0 32v3m0 1v3m1-58v1m0 2v1m0 7v4m0 40v4m0 10v1m1-68v1m0 8v1m0 1v1m0 42v3m0 8v1m1-69v1m0 1v1m0 8v1m0 2v1m0 42v2m0 1v1m0 8v1m0 1v1m1-61v1m0 1v1m0 44v1m0 11v1m0 1v1m1-74v1m0 1v1m0 8v1m0 2v1m0 47v1m0 10v1m1-73v1m0 9v1m0 1v1m0 46v1m0 11v1m0 1v1m1-76v2m0 9v1m0 2v1m0 13v2m0 17v1m0 16v1m0 9v2m1-76v1m0 10v1m0 17v1m0 32v1m0 12v2m1-78v1m0 10v1m0 2v1m0 13v1m0 37v1m0 10v1m1-67v1m0 52v1m1-52v1m0 15v1m0 20v1m0 13v1m0 2v1m1-58v1m0 17v1m0 20v2m1-39v1m0 52v1m1-57v1m0 58v1"/>
<path stroke="#0048ff" d="M16.5 44v2m30-36v1m0 1v1m0 66v1m1-70v1m0 68v1m1-73v1m0 74v1m4-70v1m0 62v1m1-67v1m0 1v1m0 64v1m1-70v1m0 70v1m2-74v2m0 76v1m2-10v1m1-62v1m0 60v1m2-67v1m0 70v1m2-63v1m0 52v1m0 8v1m1-75v2m0 8v1m0 65v2m1-11v1m1-59v1m0 58v1m0 1v1m1-65v1m1-2v1m1 1v1m1-2v1m0 5v1m0 58v1m1-70v1m0 2v1m0 66v1m1-72v1m0 1v1m0 8v1m0 61v1m0 1v1m1-76v1m0 74v1m1-69v1m0 2v1m0 54v1m1-60v1m0 9v1m0 52v1m1-65v1m0 7v1m0 48v1m0 3v1m0 3v1m1-62v1m0 2v1m0 2v1m0 47v1m0 2v1m0 4v1m1-64v1m0 2v1m0 52v1m0 2v1m1-61v1m0 3v1m0 2v1m0 46v1m0 6v1m1-67v1m0 3v1m0 3v1m0 3v1m0 50v1m0 3v1m0 3v1m1-73v1m0 8v1m0 3v1m0 2v1m0 38v1m0 1v1m0 12v1m0 2v1m1-74v1m0 1v1m0 5v1m0 4v3m0 2v1m0 17v1m0 21v3m0 4v1m0 5v1m1-73v3m0 11v2m0 44v2m0 12v2m1-76v1m0 7v1m0 4v2m0 3v1m0 42v2m0 4v1m0 7v1m1-63v3m0 45v2m0 5v1m1-62v1m0 4v1m0 1v2m0 1v1m0 40v1m0 1v2m0 1v1m1-58v1m0 4v1m0 3v3m0 41v2m0 3v1m0 4v1m1-60v1m0 4v3m0 34v1m0 6v2m0 4v1m1-61v1m0 9v3m0 2v1m0 2v1m0 28v1m0 2v1m0 2v3m0 5v1m0 3v1m1-56v5m0 36v5m0 10v1m1-68v1m0 3v1m0 5v2m0 1v3m0 33v1m0 3v2m0 2v1m1-59v1m0 3v1m0 6v1m0 3v1m0 38v1m0 3v1m0 6v1m0 3v1m1-55v4m0 32v4m0 4v1m0 6v1m1-68v1m0 10v1m0 3v3m0 36v3m0 3v1m0 10v1m1-69v1m0 11v1m0 40v1m0 4v1m1-63v1m0 2v1m0 7v1m0 3v1m0 42v1m0 3v1m0 7v1m1-56v1m0 43v1m0 11v1m0 2v1m1-76v1m0 10v1m0 3v1m0 13v1m0 16v1m0 13v1m0 3v1m1-63v1m0 43v1m0 14v1m0 14v1m1-78v1m0 1v1m0 8v1m0 3v1m0 12v1m0 18v1m0 1v1m0 12v1m0 3v1m0 8v1m1-77v1m0 1v1m0 61v1m0 12v1m0 1v1m1-80v2m0 13v1m0 35v1m0 12v1m0 3v1m0 9v2m1-80v2m0 9v1m0 16v1m0 20v1m0 29v2m1-82v2m0 13v1m0 13v1m0 36v1m0 3v1m0 10v1m1-82v1m0 10v1m0 17v2m0 20v2m0 17v1m0 10v1m1-68v1m0 52v1"/>
<path stroke="#0058ff" d="M23.5 27v1m0 34v1m23 14v1m1 4v1m1-77v1m0 1v1m0 74v1m4-72v1m0 1v1m0 60v1m0 1v1m3-72v1m0 2v1m0 70v1m0 2v1m1-79v1m0 76v1m2-69v1m1-3v1m0 64v1m1 1v1m2 2v1m1-77v1m0 76v1m1-76v1m0 72v1m0 2v1m1-80v2m0 68v1m0 7v2m1-72v1m2 0v1m0 6v1m0 46v1m0 10v1m1-10v1m0 5v1m0 3v1m1-73v1m0 72v1m1-75v1m0 4v1m0 6v1m0 53v1m0 8v1m1-73v1m0 4v1m0 55v1m0 2v1m0 4v1m0 3v1m1-78v1m0 1v1m0 5v1m0 60v1m0 5v1m0 1v1m1-78v1m0 6v1m0 9v1m0 42v1m0 9v1m1-60v1m0 48v1m0 1v1m0 3v1m0 4v1m1-61v1m0 54v1m1-62v1m0 5v2m0 48v1m0 3v2m1-63v1m0 5v2m0 54v2m0 5v1m1-71v1m0 5v3m0 54v3m0 5v1m1-67v3m0 9v1m0 36v1m0 4v1m0 4v3m0 5v1m1-70v2m0 2v1m0 5v2m0 42v3m0 4v1m0 3v1m1-71v1m0 3v1m0 3v1m0 47v1m0 10v1m0 3v1m0 3v1m1-77v1m0 3v1m0 4v1m0 58v1m0 5v1m0 2v1m1-78v1m0 1v1m0 55v1m0 10v1m0 5v1m0 1v1m1-79v3m0 6v1m0 10v1m0 38v1m0 17v3m1-80v1m0 7v1m0 6v1m0 48v1m0 6v1m0 7v1m1-66v3m0 8v1m0 28v2m0 4v1m0 2v3m1-59v1m0 5v4m0 3v1m0 2v1m0 32v1m0 3v1m0 2v4m0 5v1m1-61v1m0 2v2m0 3v2m0 36v2m0 3v2m0 2v1m1-62v1m0 4v1m0 3v2m0 8v1m0 37v2m0 3v1m1-54v1m0 48v1m0 4v1m0 4v1m1-65v1m0 4v1m0 8v1m0 30v1m0 8v1m1-61v1m0 4v1m0 5v1m0 49v1m0 4v1m0 4v1m1-68v1m0 5v1m0 7v2m0 33v1m0 7v1m0 5v1m1-69v1m0 10v1m0 5v3m0 35v2m0 12v1m0 3v1m1-58v2m0 38v2m0 5v1m0 10v1m1-76v1m0 3v1m0 6v1m0 5v1m0 41v1m0 4v1m0 6v1m1-69v1m0 12v1m0 11v1m0 18v1m0 11v1m0 5v1m0 6v1m0 3v1m1-78v1m0 10v1m0 4v1m0 32v1m0 11v1m0 4v1m0 7v1m1 3v1m1-77v1m0 7v1m0 4v1m0 14v1m0 19v1m0 11v1m0 4v1m0 7v1m1-78v1m0 2v1m0 8v1m0 16v1m0 48v1m0 2v1m1-82v1m0 15v1m0 36v1m0 11v1m0 4v1m0 8v1m1-81v1m0 11v1m0 16v1m0 2v1m0 21v1m0 26v1m0 1v1m1-84v1m0 1v1m0 13v1m0 12v1m0 24v2m0 11v1m0 15v1m1-84v2m0 9v1m0 16v4m0 21v3m0 16v1m0 9v3"/>
<path stroke="#0068ff" d="M16.5 46v1m7-21v1m0 1v1m0 32v1m0 1v1m5-42v3m0 41v2m6-48v2m0 46v3m6-61v1m0 68v2m6-72v1m0 3v1m0 66v1m1-74v1m1 73v1m0 2v1m5-76v1m0 70v1m1 1v1m3-79v2m0 10v1m0 56v1m0 10v2m1-70v1m2-7v1m0 2v1m1-2v1m0 68v1m1-75v1m0 3v1m1-2v1m0 6v1m0 54v1m1-68v1m1-2v1m0 2v1m0 6v1m0 70v1m2-75v1m0 66v1m1-69v1m0 64v1m1-67v1m0 9v1m1-7v1m0 62v1m1-61v1m0 53v1m0 6v1m1-72v1m0 4v1m0 2v1m0 60v1m0 2v1m1-74v1m0 3v2m0 2v1m0 4v1m0 52v1m0 4v1m0 3v1m0 3v1m1-80v1m0 1v1m0 10v1m0 58v1m0 4v4m1-74v1m0 5v1m0 2v1m1-11v1m0 6v2m0 50v2m0 6v1m1-69v1m0 68v1m1-58v1m0 28v1m0 15v1m0 12v1m1-59v1m1-15v1m0 13v1m0 2v1m0 38v1m0 2v1m1-61v1m0 6v2m0 58v3m0 5v1m1-71v3m0 31v1m0 28v3m0 5v1m1-73v1m0 2v1m0 11v1m0 48v1m0 2v2m1-75v1m0 3v1m0 4v1m0 61v1m0 3v1m0 3v1m1-77v1m0 4v1m0 62v1m0 4v1m0 3v1m1-82v1m0 1v1m0 18v1m0 38v1m0 18v1m0 1v1m1-82v2m0 6v1m0 12v1m0 3v1m0 34v1m0 12v1m0 6v3m1-61v2m0 34v3m0 21v1m1-76v1m0 6v2m0 50v2m0 6v1m1-62v3m0 39v1m0 10v3m0 6v1m1-70v1m0 5v4m0 10v1m0 39v4m1-58v1m0 2v1m0 50v1m0 2v2m0 5v1m1-66v1m0 3v1m0 9v1m0 30v1m0 10v1m0 2v1m1-67v1m0 5v1m0 3v1m0 42v1m0 9v1m0 3v1m0 5v1m1-69v1m0 4v1m0 9v1m0 33v1m0 8v1m0 4v1m1-70v1m0 4v1m0 5v1m0 7v2m0 34v2m0 13v1m1-61v1m0 7v1m0 10v1m0 16v1m0 10v2m0 6v1m0 10v1m1-78v1m0 4v1m0 5v1m0 6v1m0 40v1m1-56v1m0 12v1m0 10v1m0 31v1m0 6v1m0 5v1m0 4v1m1-80v1m0 3v1m0 6v1m0 5v1m0 33v1m0 10v1m0 5v1m0 6v1m1-59v1m0 10v1m0 19v1m0 13v1m0 17v1m1-78v1m0 6v1m0 5v1m0 10v1m0 3v1m0 20v1m0 10v1m0 5v1m1-72v1m0 3v1m0 7v1m0 5v1m0 10v1m0 49v1m0 3v1m1-81v1m0 13v1m0 10v1m0 22v1m0 3v1m0 10v1m0 5v1m0 7v1m1-82v1m0 11v1m0 5v1m0 9v2m0 3v1m0 23v1m0 15v1m0 8v1m0 2v1m1-86v1m0 2v1m0 13v1m0 9v2m0 24v1m0 3v2m0 9v1"/>
<path stroke="#0078ff" d="M16.5 43v1m1-13v2m0 24v2m5-33v2m0 34v3m1-36v1m5-9v1m0 43v1m0 2v1m6-50v1m0 2v1m0 44v1m5-57v1m0 66v1m1-71v2m0 1v1m0 7v2m0 48v3m0 6v1m0 2v1m6-6v1m1-66v1m0 66v1m1-74v1m0 3v1m4 68v1m1-66v1m1-7v1m0 3v1m2-8v1m0 3v1m0 72v1m0 3v1m1-80v1m0 10v1m0 54v1m0 10v1m0 2v1m1-14v1m1 4v1m1-3v1m1-69v1m0 68v1m1-59v1m0 50v1m0 7v1m1 0v1m0 4v1m1-76v1m0 70v1m0 4v1m1-4v1m1-80v3m0 6v1m0 64v1m0 6v3m1-72v1m1 53v1m0 10v1m1-67v1m0 60v1m0 5v1m1-75v1m0 6v1m0 2v1m0 2v1m0 51v1m0 9v1m1-77v1m0 6v3m0 58v3m0 6v1m1-72v2m0 62v2m0 6v1m1-74v2m0 52v1m0 11v3m0 5v1m1-82v1m0 3v5m0 11v1m0 19v2m0 21v1m0 3v1m0 6v4m1-79v5m0 3v1m0 7v2m0 48v3m0 6v1m0 4v4m1-77v1m0 12v1m0 55v1m0 6v1m1-7v1m1-72v1m0 28v2m0 10v1m1-43v1m0 58v1m0 13v1m1-59v2m0 2v1m0 34v1m0 2v2m0 15v1m1-37v1m1-41v1m0 36v1m1-39v1m0 6v2m0 49v1m0 12v2m0 6v1m1-75v4m0 12v1m0 50v3m0 5v1m1-82v1m0 4v1m0 2v1m0 13v1m0 50v1m0 2v1m1-78v1m0 3v2m0 3v1m0 13v1m0 32v1m0 17v1m0 4v1m0 3v1m1-84v1m0 2v1m0 4v1m0 14v3m0 2v1m0 29v3m0 14v1m0 4v1m1-82v4m0 5v1m0 19v1m0 46v1m0 6v1m0 1v1m1-86v2m0 75v1m0 6v2m1-78v1m1 48v1m0 20v1m1-72v1m0 7v2m0 52v2m1-65v1m0 7v3m0 53v2m0 7v1m1-67v3m0 11v1m0 42v3m1-68v1m0 6v1m0 2v1m0 43v1m0 10v1m0 2v1m0 6v1m1-70v1m0 3v1m0 10v1m0 24v1m0 7v1m0 10v2m0 2v1m1-71v1m0 5v1m0 3v1m0 9v2m0 7v1m0 18v1m0 7v2m0 9v1m0 3v1m1-62v1m0 8v2m0 10v1m0 17v1m0 7v2m0 8v1m0 4v1m0 5v1m1-80v1m0 5v1m0 4v1m0 7v2m0 38v2m1-56v1m0 4v1m0 7v2m0 8v1m0 32v1m0 7v1m0 4v1m0 5v1m1-82v1m0 4v1m0 5v1m0 7v1m0 8v1m0 24v1m0 8v1m0 7v1m0 5v1m1-59v1m0 8v1m0 21v1m0 4v1m0 8v1m0 13v1m0 4v1m1-79v1m0 5v1m0 15v2m0 4v1m0 21v2m0 8v1m0 6v1m1-74v1m0 4v1m0 6v1m0 6v1m0 7v2m0 28v2m0 7v1m0 13v1m0 4v1m1-82v1m0 21v2m0 24v1m0 5v2m0 7v1m0 6v1m0 6v1m1-83v1m0 11v1m0 6v1m0 7v1m0 32v2m0 6v1m0 6v1m0 7v1m0 3v1"/>
<path stroke="#0087ff" d="M17.5 33v1m0 9v4m0 9v1m0 2v1m1-29v3m0 23v2m4-34v1m0 2v1m0 32v1m1-2v1m0 3v1m5-45v1m0 4v1m0 43v1m1-47v2m0 40v3m5-50v1m0 52v1m5-62v1m0 1v1m0 64v1m0 1v1m1-73v1m0 4v1m0 4v2m0 2v1m0 46v1m0 3v1m0 4v1m0 4v1m6-69v1m0 60v1m0 5v1m1-76v1m0 76v1m1-4v1m1-77v3m0 76v3m3-75v1m0 3v1m0 58v1m1 1v1m1 1v1m1-74v1m0 78v1m2-82v1m0 3v1m0 66v1m1 1v1m1-66v1m0 3v1m1-7v1m0 70v1m2-75v1m0 76v1m1-79v1m0 13v1m1-16v1m0 10v1m0 2v1m0 55v1m1-72v1m0 4v1m0 4v1m0 62v1m0 4v1m0 4v1m1-81v1m0 9v1m0 61v1m0 4v1m0 3v1m1-78v1m0 11v1m0 44v1m0 6v1m0 4v1m1-71v1m0 10v1m0 1v1m1-15v1m0 12v1m1-7v2m0 52v1m0 3v3m2-71v1m0 13v1m1-16v1m0 19v1m1-22v1m0 18v1m0 23v1m0 18v1m0 20v1m1-79v3m0 68v4m0 4v1m1-86v5m0 2v1m0 56v1m0 13v1m0 2v3m0 1v1m1-86v1m0 6v1m0 77v1m1-80v1m0 72v1m1-55v1m0 34v1m0 19v1m1-76v1m1-2v1m0 20v1m0 15v3m0 37v1m1 0v1m2-81v1m0 58v1m1-61v1m0 6v2m0 51v1m0 14v2m0 6v1m1-78v3m0 18v2m0 26v1m0 1v1m0 2v1m0 14v4m1-80v1m0 4v2m0 1v1m0 47v1m0 20v1m0 2v1m0 4v1m1-82v1m0 3v1m0 47v1m0 20v1m0 3v2m0 3v1m1-88v1m0 2v1m0 5v1m0 20v1m0 53v1m0 2v1m1-89v4m0 5v1m0 70v1m0 5v4m1-90v2m0 7v1m0 78v2m1-82v1m0 21v1m0 28v1m0 21v1m2-75v1m0 52v1m0 21v1m1-68v2m0 12v1m0 30v1m0 12v2m1-69v1m0 7v3m0 12v1m0 6v2m0 36v2m0 7v1m1-71v3m0 12v1m0 8v1m0 14v1m0 8v1m0 12v3m1-72v1m0 6v4m0 11v2m0 5v1m0 26v2m0 11v4m1-66v1m0 2v1m0 10v3m0 4v1m0 3v1m0 18v1m0 4v3m0 10v2m0 1v2m0 6v1m1-82v1m0 6v1m0 2v1m0 10v4m0 3v1m0 24v1m0 4v4m0 9v1m0 2v1m1-69v1m0 3v1m0 9v5m0 2v1m0 26v1m0 2v5m0 9v1m0 3v1m0 6v1m1-84v1m0 5v1m0 4v1m0 8v2m0 2v4m0 28v5m0 1v2m0 8v1m0 4v1m1-59v2m0 3v3m0 23v1m0 6v3m0 3v2m0 8v1m0 4v1m0 5v1m1-75v1m0 8v1m0 4v2m0 32v3m0 3v1m0 8v1m1-70v1m0 5v1m0 7v1m0 4v2m0 34v2m0 4v1m0 13v1m0 5v1m1-83v1m0 14v1m0 4v2m0 7v1m0 18v1m0 8v1m0 4v1m0 8v1m0 5v1"/>
<path stroke="#0097ff" d="M10.5 35v4m0 12v4m1-19v2m0 15v1m1 42v2m1-78v3m0 45v2m0 28v1m2-55v3m2-17v1m1-31v2m0 28v1m0 3v1m0 20v2m0 2v1m0 29v1m1 0v2m2-53v1m0 10v2m1-28v1m0 14v1m0 10v1m0 14v1m1-41v1m1 1v4m0 29v3m4-44v1m0 44v1m0 5v1m0 27v1m1-77v1m0 2v1m0 38v1m4-44v2m0 44v2m1-52v1m0 5v1m0 42v1m0 5v1m0 17v1m1-71v1m4-12v1m0 3v1m0 66v1m1-68v1m0 2v1m0 56v1m0 2v1m0 6v1m1-66v2m0 50v2m4-61v3m0 62v3m1-71v1m0 6v1m0 4v1m0 48v2m2-67v1m0 80v1m1-83v1m0 3v1m0 74v1m0 3v1m2-73v3m0 57v2m1 3v1m1-72v1m0 72v1m1 1v1m1-74v1m0 68v1m1-71v1m0 7v2m0 53v1m0 13v1m1-72v1m0 66v1m0 4v1m1-86v3m0 8v1m0 71v3m1-14v1m2-68v1m0 61v1m0 12v1m1-65v1m0 1v1m0 48v1m0 1v1m1-61v1m0 58v1m0 7v1m1-69v1m0 60v1m0 7v1m0 6v1m1-78v1m0 7v1m0 59v1m0 2v1m0 6v1m1-86v1m0 4v2m0 1v2m0 67v1m0 1v2m1-81v4m0 3v1m0 70v1m0 3v5m1-81v1m0 6v1m0 58v1m0 6v1m1-75v1m0 7v1m0 52v1m0 2v1m0 2v1m0 7v1m1-77v1m0 76v1m1-79v1m0 78v1m1-81v1m0 65v1m0 14v1m1-67v1m0 5v1m0 60v1m1-68v1m0 23v1m0 26v1m1-69v1m1-2v1m0 5v2m0 72v2m0 5v1m1-88v1m0 1v6m0 14v1m0 15v1m0 10v1m0 30v6m0 1v2m1-89v1m0 5v1m0 15v1m0 16v1m0 11v1m0 29v1m0 5v1m1-82v1m0 15v1m0 2v1m0 36v1m0 2v1m1-61v1m0 76v1m1-22v1m0 21v1m1-80v1m0 21v1m1-24v1m0 80v1m1 0v1m2-85v1m0 24v3m0 31v2m0 24v1m1-79v1m0 70v2m0 6v1m1-88v1m0 5v3m0 70v3m1-83v1m0 4v2m0 1v2m0 48v1m0 21v2m0 1v2m0 4v1m1-86v1m0 3v1m0 22v1m0 49v1m0 3v1m0 4v1m1-89v2m0 4v1m0 72v1m0 5v1m0 2v1m1-91v2m0 86v4m1-92v1m0 6v1m0 22v1m0 28v1m0 22v1m0 7v2m1-62v1m0 60v1m1-86v1m0 76v1m1-32v1m0 1v1m0 5v1m1-56v1m0 23v1m0 25v1m0 4v1m0 23v1m1-56v1m0 22v1m0 3v1m0 3v1m1-57v1m0 8v2m0 14v2m0 1v1m0 19v1m0 4v1m0 2v1m0 15v1m1-65v2m0 15v3m0 5v1m0 20v4m0 14v2m0 8v1m1-84v1m0 7v3m0 15v2m0 28v2m0 15v3m1-69v4m0 11v2m0 37v1m0 11v2m0 1v1m0 7v1m1-86v1m0 6v1m0 3v1m0 10v3m0 36v3m0 11v1m0 2v1m1-73v1m0 3v1m0 10v4m0 9v1m0 27v3m0 10v1m0 3v1m0 6v1m1-88v1m0 6v1m0 3v1m0 9v4m0 38v4m0 9v1m1-71v1m0 4v1m0 9v4m0 38v4m0 14v1m0 6v1"/>
<path stroke="#00a7ff" d="M2.5 34v2m0 18v2m9-21v1m0 2v1m0 12v2m0 1v1m1 40v1m0 2v1m1-80v1m0 3v1m0 43v1m0 2v1m0 26v1m2-55v1m1-2v1m0 4v1m1-14v1m0 12v1m1-46v1m0 85v1m0 1v1m1-91v1m0 88v1m0 2v1m1-55v2m0 10v2m0 40v2m1-56v1m0 1v1m0 8v1m1-10v1m0 8v1m0 1v1m1-22v1m1-5v1m0 32v1m0 3v1m1-57v1m0 74v1m2-59v1m0 40v1m0 30v1m1-79v1m0 52v1m0 25v1m1-77v1m0 4v1m0 36v1m0 4v1m4-68v3m0 19v1m0 42v1m0 2v1m0 16v4m1-90v2m0 14v1m0 56v1m0 14v2m0 1v1m1-73v1m0 1v2m0 44v5m0 20v2m4-86v1m0 12v1m0 46v1m0 7v1m0 4v1m1-76v1m0 7v2m0 6v1m0 44v1m0 6v2m1-70v5m0 6v1m0 2v1m0 48v1m0 2v1m0 7v4m4-70v1m0 60v1m0 3v1m1-64v4m0 1v1m0 46v1m0 2v4m1-63v1m0 5v2m0 50v2m0 5v1m1-68v1m1 76v1m2-15v1m1-64v1m0 5v1m2-11v1m1 78v1m1-83v1m0 67v1m0 8v1m1-79v1m0 5v1m0 9v1m1-18v1m0 3v1m0 78v1m0 3v1m1-79v1m0 68v1m1-72v1m0 72v1m1-62v2m1-10v1m0 64v1m0 6v1m1-81v1m0 68v1m0 11v1m1-83v1m0 7v1m0 63v1m0 2v1m1-77v1m0 7v3m0 59v1m0 5v2m1-79v1m0 7v1m0 13v1m0 42v1m0 6v1m0 6v1m0 7v1m1-88v1m0 4v3m0 14v1m0 44v1m0 12v3m1-83v3m0 3v1m0 59v1m0 14v2m0 2v3m1-83v1m0 11v1m0 64v1m1 0v1m2-60v1m0 38v1m1-62v1m0 60v1m0 1v1m0 3v1m1-69v1m0 17v2m0 46v2m0 17v1m1-87v1m0 86v1m1 0v1m1-90v1m0 50v1m0 14v1m1-67v1m0 1v5m0 30v1m0 11v1m0 16v1m0 16v5m0 1v2m1-91v2m0 4v1m0 17v2m0 38v2m0 17v1m0 5v2m1-86v1m0 78v1m1-80v1m1-2v1m0 57v1m0 22v1m1-59v1m1-25v1m0 23v1m1-26v1m0 24v1m0 3v1m0 26v1m0 3v1m0 24v1m2-87v1m1-2v1m0 88v1m1-83v1m0 74v1m1-78v3m0 50v1m0 23v3m1-81v1m0 2v1m0 23v1m0 50v1m0 2v2m0 4v1m1-90v1m0 4v1m0 74v1m0 4v1m1-87v1m0 4v1m0 76v1m0 4v2m0 2v1m1-93v1m0 5v1m0 52v1m0 23v1m0 6v1m0 1v1m1-63v1m0 5v2m0 14v2m0 5v1m0 24v1m0 6v3m1-89v1m0 24v1m0 4v1m0 23v1m0 24v1m0 8v1m1-64v1m0 3v1m0 24v1m1-56v1m0 25v4m0 23v1m0 1v1m0 25v1m1-55v1m0 26v2m1-57v1m0 48v1m1-16v1m0 49v1m1-86v1m0 75v1m1-69v3m0 65v2m0 8v1m1-88v1m0 7v3m0 41v1m0 24v3m1-72v3m0 24v1m0 41v4m0 7v1m1-90v1m0 7v1m0 1v2m0 66v2m0 1v1"/>
<path stroke="#00b7ff" d="M1.5 35v2m0 16v2m1-22v1m0 2v2m0 14v2m0 2v1m8-23v1m0 4v1m0 10v1m0 4v1m1-22v1m0 20v1m0 38v3m1-76v3m0 42v3m1-3v1m0 4v1m1-53v2m0 48v3m2-41v2m0 24v2m1-58v3m0 25v1m0 12v1m0 12v1m0 4v1m0 26v2m1-60v1m0 5v1m0 24v1m0 26v1m0 3v1m1-91v1m0 11v4m0 57v3m0 16v1m1-81v2m0 22v1m0 2v1m0 11v1m0 22v3m0 13v1m0 2v1m1-71v4m0 24v1m0 9v4m1-43v1m0 5v1m0 8v1m0 2v1m0 6v1m0 11v1m0 5v1m1-43v1m0 14v3m0 7v3m0 7v1m0 5v1m1-35v1m0 26v1m0 5v1m1-60v2m0 1v2m0 71v1m0 1v2m1-81v3m0 76v3m1-68v3m0 1v2m0 1v1m0 38v1m0 1v2m0 1v3m0 22v2m0 1v1m1-81v1m0 8v1m0 36v1m0 8v1m0 23v1m1 1v1m1-75v2m0 6v2m0 22v2m0 6v2m3-66v1m0 3v1m0 8v2m0 5v1m0 54v3m0 7v1m0 4v1m1-89v1m0 11v2m0 8v1m0 40v1m0 8v2m0 16v1m1-75v1m0 4v1m0 42v1m0 24v1m0 2v1m3-17v1m1-65v1m0 5v1m0 1v2m0 43v1m0 1v2m0 4v1m1-71v1m0 17v1m0 60v1m1-82v3m0 5v1m0 4v1m0 4v1m0 46v1m0 4v1m0 5v1m0 4v3m1 4v2m1 0v4m1-2v4m1-89v1m0 4v1m0 5v2m0 44v2m0 5v1m0 22v2m1-77v1m0 44v1m0 14v1m1-78v1m0 11v1m0 2v1m0 48v1m0 2v1m0 11v1m1-82v1m0 75v1m0 6v1m1-85v1m0 5v1m0 72v1m2-69v1m0 3v1m0 54v1m0 3v1m1-4v1m0 6v1m1-67v1m0 60v1m0 6v1m1-71v1m1-9v1m1 14v1m1 51v1m0 9v1m0 6v1m1-83v2m0 4v1m0 4v1m0 59v1m0 5v1m0 5v1m1-88v1m0 6v1m0 70v1m0 6v1m1-74v1m0 53v1m0 13v1m1-77v1m0 6v1m0 54v1m0 1v1m0 12v1m1-79v1m1 6v1m0 3v1m1-5v3m0 61v2m2-54v1m1-25v1m0 15v1m0 4v1m0 44v1m0 22v1m1-90v1m0 3v3m0 77v2m0 3v2m1-86v1m0 10v2m0 54v2m0 10v1m1-80v1m0 79v1m1-82v1m0 15v1m0 64v1m1-83v1m0 22v1m0 59v1m1-85v1m0 20v1m0 63v1m1-41v1m0 40v1m1-65v1m1-25v1m1 37v1m0 1v1m0 8v1m0 40v1m1 0v1m1-90v4m0 22v1m0 55v5m0 2v1m1-92v1m0 3v1m0 80v1m0 3v3m1-88v1m0 42v1m0 37v1m1 0v1m1-84v1m0 58v1m0 23v1m1-85v1m0 59v1m0 24v1m1-60v3m0 28v3m1-61v1m0 30v1m0 55v1m1 0v1m2 0v1m1 0v1m1-87v2m0 51v1m0 24v2m1-82v4m0 24v1m0 51v4m0 5v1m1-91v2m0 1v1m0 78v1m0 2v1m0 5v1m1-93v1m0 3v1m0 31v1m0 46v1m0 3v2m0 3v1m1-89v1m0 84v1m0 3v1m1-91v1m0 50v1m0 29v1m0 5v2m0 1v1m1-91v1m0 26v1m0 1v1m0 22v1m0 1v1m0 26v1m0 7v3m1-38v1m0 27v1m0 7v2m1-93v1m0 82v1m1 0v1m1-86v1m0 49v1m1-16v1m0 50v1m1-88v1m1 87v1m1-90v1m0 52v1m1-45v1m0 26v1m0 43v1m0 9v1"/>
<path stroke="#00c7ff" d="M1.5 34v1m0 2v1m0 14v1m0 2v1m1-24v1m0 5v1m0 12v1m0 5v1m1-55v1m0 28v2m0 22v2m0 28v1m1-87v3m0 84v3m1-75v4m0 7v3m0 15v3m0 15v2m0 7v4m1-51v4m0 15v4m0 15v4m3-29v2m0 12v3m1-21v1m0 22v1m1-50v3m0 29v1m0 10v1m0 29v3m0 10v1m1-87v1m0 12v1m0 3v1m0 40v1m0 3v1m0 12v1m0 11v1m1-77v1m0 5v1m0 40v1m0 30v1m1-79v1m0 2v2m0 45v1m0 29v1m1-57v1m0 4v1m1-18v1m0 2v1m0 25v1m1-60v1m0 3v1m0 81v1m0 2v1m1-87v1m0 10v3m0 37v1m0 19v2m0 10v1m1-75v1m0 22v3m0 15v2m0 18v1m0 3v1m0 10v1m0 5v1m1-83v1m0 2v2m0 32v1m0 3v1m0 20v1m0 20v1m1-84v1m0 10v1m0 4v1m0 8v1m0 3v1m0 19v1m0 4v1m0 10v1m0 16v2m1-44v1m1-15v1m0 3v1m0 5v1m1-42v4m0 14v1m0 6v1m0 24v1m0 22v3m1-79v1m0 27v5m0 16v5m0 22v1m0 4v1m1-84v2m0 3v2m0 72v2m0 3v2m0 6v1m1-78v1m0 3v1m0 46v1m0 3v1m0 20v1m0 4v1m1-83v1m0 56v1m0 21v1m1-76v1m0 6v1m0 6v2m0 7v4m0 7v2m0 6v1m0 6v1m0 27v1m1-75v1m0 2v6m0 2v2m0 19v1m0 2v6m0 2v1m1-36v3m0 22v3m1-57v5m0 76v5m1-83v2m0 4v2m0 2v1m0 3v1m0 4v1m0 40v1m0 4v1m0 3v1m0 3v2m0 3v2m1-73v2m0 23v4m0 8v4m0 23v2m0 9v1m0 5v1m1-77v1m0 6v2m0 12v2m0 10v3m0 11v2m0 6v1m0 17v1m0 4v1m1-70v5m0 28v5m0 29v5m1-71v3m0 31v2m1-53v3m0 64v1m0 1v1m1-73v1m0 7v1m0 2v2m0 46v1m0 4v1m0 2v1m0 7v1m1-79v1m0 61v1m0 18v1m1-86v3m0 19v1m0 44v1m0 6v1m0 3v1m0 8v4m1-91v1m0 89v1m0 2v2m1-3v1m2-84v1m0 6v1m0 2v2m0 2v1m0 42v1m0 2v2m0 2v1m0 6v1m1-74v1m0 15v1m1-11v1m0 2v1m0 4v1m0 46v1m0 4v1m0 2v1m2-76v1m0 86v1m1-89v6m0 78v6m1-72v1m0 4v2m0 41v1m1-58v1m0 7v1m0 2v3m0 44v3m0 2v1m1-66v1m0 12v2m0 46v2m1-51v2m0 49v1m0 6v1m0 6v1m1-67v2m0 50v2m1-70v1m0 7v1m0 5v1m0 53v1m0 2v1m0 13v1m1-87v1m0 7v1m0 65v1m1-76v1m0 7v1m0 63v1m0 5v1m0 2v2m1-83v2m0 1v3m0 1v2m0 58v1m0 13v2m0 1v3m0 1v2m1-83v1m0 13v2m0 44v1m0 7v1m1-57v1m0 56v1m0 7v1m1 0v1m1-83v1m0 73v1m0 8v1m1-85v1m0 84v1m1-87v1m0 22v2m0 39v1m0 22v1m1-89v1m0 64v1m0 1v1m0 21v1m1-17v1m0 16v1m1-75v1m0 25v6m0 22v1m1-71v5m0 80v7m1-89v2m0 81v1m1-84v1m0 22v2m0 9v1m0 14v1m0 10v1m0 22v1m1-24v1m0 23v1m1-68v1m0 23v2m1-45v1m0 40v1m1-43v1m0 64v1m0 23v1m1 0v1m1 0v1m1-68v1m0 3v1m1 32v1m0 30v1m1-92v3m0 24v1m0 57v3m0 3v2m1-92v2m0 82v2m0 2v4m1-91v1m0 83v1m1-86v1m0 41v2m0 41v1m2-87v1m0 30v1m0 24v1m0 30v1m1-32v1m0 31v1m1-90v1m0 31v1m1-1v1m0 57v1m1 0v1m2 0v1m1-35v1m1-55v1m0 26v1m0 26v1m0 26v2m1-85v3m0 26v1m0 20v2m0 4v1m0 26v3m0 6v1m1-95v2m0 1v2m0 26v1m0 3v1m0 18v1m0 3v1m0 26v2m0 1v2m1-87v1m0 27v2m0 1v1m0 21v1m0 1v1m0 27v1m0 3v1m0 4v1m1-93v1m0 28v1m0 24v1m0 28v1m0 4v2m0 3v1m1-94v1m0 89v1m0 2v1m1-95v1m0 84v1m0 6v4m1-96v1m0 92v3m1-10v1m0 8v1m1-97v1m0 50v1m1-16v1m0 51v1m1-90v1m1 89v1m1-38v1"/>
<path stroke="#00d7ff" d="M1.5 33v1m0 4v1m0 12v1m0 4v1m1-26v1m0 7v1m0 18v1m1-58v2m0 1v2m0 25v1m0 2v3m0 16v3m0 2v1m0 25v2m0 1v3m1-87v2m0 24v2m0 28v2m0 25v1m0 3v2m1-92v2m0 12v1m0 4v7m0 3v1m0 13v1m0 3v1m0 12v2m0 2v7m0 4v2m0 11v4m0 6v1m1-86v6m0 2v3m0 4v1m0 18v1m0 13v1m0 4v3m0 2v6m1-51v2m0 16v3m0 16v2m2-30v2m0 2v2m0 9v1m0 3v1m1-48v4m0 29v1m0 8v1m0 29v4m0 9v3m1-90v2m0 3v1m0 22v1m0 22v1m0 22v1m0 3v2m0 7v1m0 4v1m1-93v2m0 1v2m0 9v1m0 5v1m0 44v1m0 10v1m0 1v2m0 8v1m1-77v1m0 7v1m0 38v1m0 7v1m1-56v1m0 5v1m0 43v1m0 4v1m2-71v3m0 24v1m0 26v1m0 3v1m0 24v3m1-3v1m1-82v1m0 8v1m0 28v2m0 2v2m0 13v1m0 11v1m0 2v1m0 15v1m1-91v1m0 14v1m0 11v2m0 3v1m0 3v1m0 1v1m0 8v1m0 2v1m0 2v1m0 3v2m0 11v1m0 5v1m1-68v1m0 5v1m0 18v1m0 4v1m0 31v1m0 4v1m0 11v1m0 5v2m1-87v1m0 1v2m0 7v1m0 25v1m0 18v1m0 8v1m0 1v1m0 14v1m0 2v2m1-87v1m0 10v1m0 14v1m0 4v1m0 24v1m0 10v1m1-70v2m0 20v1m0 5v1m0 5v1m0 3v1m0 4v1m0 26v2m1-75v1m0 26v1m0 2v6m0 6v6m0 25v1m0 3v1m1-81v1m0 6v1m0 15v2m0 3v1m0 5v1m0 14v1m0 5v2m0 2v2m0 15v1m0 6v1m1-87v2m0 7v1m0 15v1m0 8v4m0 14v4m0 8v1m0 15v1m0 7v6m0 1v2m1-81v1m0 9v1m0 8v3m0 14v3m0 8v1m0 9v1m0 18v1m1-58v4m0 3v7m0 2v4m0 39v1m1-67v1m0 4v1m0 2v3m0 2v2m0 4v2m0 2v3m0 2v1m1-35v1m0 13v1m0 16v2m0 12v1m1-39v2m0 3v1m0 20v1m0 3v2m1-60v1m0 5v7m0 8v3m0 40v3m0 8v7m0 5v1m1-82v4m0 5v3m0 52v3m0 6v3m0 8v1m1-89v1m0 7v1m0 13v1m0 10v1m0 4v2m0 4v2m0 4v1m0 10v1m0 13v1m0 7v1m1-87v1m0 15v1m0 9v3m0 5v4m0 2v2m0 6v2m0 3v3m0 5v3m0 9v1m0 15v1m0 6v1m1-73v2m0 5v3m0 23v2m0 5v2m0 26v1m0 5v1m1-74v2m0 3v2m0 27v2m0 2v2m0 32v2m1-86v1m0 10v1m0 40v1m0 10v1m1-61v2m0 6v1m0 18v4m0 18v1m0 6v2m0 9v1m1-81v1m0 20v1m0 9v22m0 9v1m0 20v1m1-75v1m0 2v1m0 7v1m0 7v6m0 16v6m0 7v1m0 8v1m0 1v1m0 13v1m1-91v1m0 25v7m0 23v6m0 25v2m0 5v1m1-71v5m0 30v5m0 32v1m1-75v4m0 36v5m0 26v1m1-78v2m0 5v1m0 16v8m0 16v1m0 5v2m0 23v1m1-61v2m0 14v2m0 12v1m0 31v1m1-85v2m0 6v1m0 8v4m0 21v3m0 15v2m0 9v1m1-84v1m0 15v2m0 8v4m0 26v4m0 8v3m0 14v1m1-88v1m0 8v1m0 16v4m0 30v4m0 16v1m0 8v1m1-84v2m0 8v3m0 5v4m0 34v4m0 6v2m0 9v1m0 6v1m1-79v1m0 6v1m0 1v2m0 2v1m0 14v10m0 14v2m0 1v2m0 1v2m0 5v1m1-70v1m0 9v2m0 3v1m0 42v1m0 3v2m0 9v1m1-67v1m0 3v1m0 2v1m0 44v1m0 2v1m0 3v1m0 23v1m1-94v1m0 15v1m0 8v1m0 28v1m0 9v1m0 1v1m1-61v1m0 8v1m0 7v2m0 31v1m0 7v1m0 2v1m0 13v1m1-61v2m0 34v2m0 15v1m1-66v1m0 9v3m0 37v2m0 14v1m0 8v1m1-81v3m0 11v2m0 40v2m0 12v2m0 9v1m1-85v1m0 9v1m0 5v2m0 42v1m0 16v1m0 6v2m1-87v2m0 62v1m0 13v2m1-80v1m0 16v1m1-19v1m0 8v1m0 7v1m0 20v6m0 24v1m1-60v1m0 6v1m0 6v1m1-3v2m0 36v2m1-1v1m1-43v1m1 21v3m1-28v1m0 21v1m0 6v1m0 24v1m0 17v1m1-52v1m0 8v1m0 42v1m1-93v3m0 18v1m0 6v1m0 9v2m0 10v2m0 35v5m1-90v1m0 33v1m0 1v1m0 14v1m0 8v1m0 6v1m0 17v1m1-86v1m0 17v1m0 14v2m0 17v1m0 10v1m1-65v1m0 32v1m0 8v1m0 2v1m0 8v1m0 13v1m0 18v1m1-89v1m0 88v1m1 0v1m1-67v1m1-1v1m1 2v1m0 33v2m0 2v1m0 26v1m1 0v1m1-33v1m1-62v2m0 26v1m0 13v1m0 45v2m0 4v1m1-95v3m0 44v1m0 40v8m1-95v1m0 41v1m0 2v1m0 41v1m0 5v2m1-95v1m0 26v1m0 32v1m0 26v1m1-89v1m0 88v1m1-90v1m1 56v1m0 32v1m2-59v1m1 59v1m2 0v1m1 0v1m1-59v1m0 1v1m1-37v1m0 29v1m0 1v1m0 3v1m0 16v1m0 1v1m0 29v1m0 7v1m1-96v3m0 30v1m0 4v1m0 18v1m0 29v3m0 6v1m1-97v1m0 1v1m0 35v1m0 48v4m1-89v1m0 84v1m0 3v2m0 4v1m1-10v1m0 4v1m1-93v1m0 86v1m0 5v1m0 3v1m1-98v1m0 93v2m0 1v1m1-99v1m0 88v1m0 7v2m1-99v1m0 51v1m0 45v1m1-62v1m0 52v1m2 0v1"/>
<path stroke="#00f7ff" d="M0.5 6v4m0 7v5m0 12v3m0 1v2m0 10v6m0 12v5m0 8v3m1-80v5m0 22v1m0 8v1m0 8v1m0 8v1m0 22v5m1-85v1m0 5v2m0 21v1m0 9v1m0 8v1m0 9v1m0 22v1m0 5v1m1-82v1m0 21v1m0 10v2m0 6v3m0 9v1m0 21v1m0 8v2m0 4v2m1-93v1m0 6v2m0 5v2m0 4v2m0 4v2m0 7v1m0 6v1m0 8v1m0 5v1m0 4v2m0 6v2m0 5v1m0 10v2m1-93v2m0 6v1m0 19v1m0 9v1m0 6v1m0 29v1m0 7v1m0 8v1m1-96v2m0 9v1m0 18v1m0 10v1m0 6v1m0 10v1m0 18v1m0 10v5m0 4v1m1-88v1m0 4v1m0 5v2m0 5v1m0 11v1m0 6v1m0 11v1m0 5v2m0 5v2m0 3v2m1-70v1m0 2v1m0 26v3m0 4v4m0 25v1m0 2v2m1-73v1m0 3v1m0 19v1m0 8v1m0 6v1m0 8v1m0 19v1m0 3v2m0 8v3m1-94v1m0 4v1m0 6v1m0 28v1m0 16v1m0 18v1m0 6v1m0 4v2m0 5v1m1-97v1m0 1v2m0 8v1m0 8v5m0 6v1m0 32v4m0 8v1m0 8v2m0 1v2m1-88v1m0 7v1m0 5v1m0 8v1m0 7v1m0 4v2m0 9v1m0 5v1m0 6v1m0 8v1m0 5v2m0 6v1m0 5v1m1-89v1m0 3v1m0 7v1m0 46v1m0 17v1m0 4v1m0 7v1m1-91v3m0 18v1m0 16v1m0 4v1m0 16v1m0 18v3m1-83v1m0 1v2m0 9v1m0 3v1m0 8v4m0 8v1m0 6v1m0 9v3m0 8v1m0 3v1m0 10v1m0 1v1m1-86v1m0 4v1m0 9v3m0 9v1m0 12v1m0 13v1m0 5v1m0 10v2m1-68v1m0 7v1m0 2v1m0 36v1m0 17v1m0 2v1m1-71v1m0 12v1m0 59v1m0 5v1m0 8v1m1-91v1m0 6v1m0 21v1m0 9v1m0 4v1m0 9v1m0 4v1m0 16v1m0 6v1m0 9v1m1-87v1m0 8v3m0 3v2m0 27v1m0 5v1m0 3v1m0 3v3m1-55v1m0 3v1m0 15v1m0 5v1m0 4v1m0 21v1m0 4v1m0 16v1m1-83v1m0 3v1m0 29v1m0 2v1m0 6v1m0 5v1m0 8v1m0 7v1m0 3v1m0 14v4m1-92v1m0 4v1m0 23v1m0 16v1m0 23v1m0 4v1m1-78v1m0 6v1m0 11v1m1-25v2m0 10v1m0 27v11m0 37v7m1-84v1m0 15v1m0 4v1m0 6v1m0 10v1m0 6v1m0 20v1m1-72v2m0 5v1m0 12v1m0 12v4m0 2v5m0 5v1m0 18v1m0 6v1m1-69v1m0 18v1m0 22v1m0 18v1m0 17v1m1-78v3m0 11v1m0 28v1m0 11v4m1-54v1m0 17v2m0 8v3m0 16v1m0 29v1m1-96v11m0 8v1m0 14v2m0 4v4m0 5v1m0 14v1m0 9v10m1-87v1m0 14v1m0 5v1m0 4v1m0 3v3m0 2v6m0 8v6m0 2v3m0 3v2m0 3v1m0 5v1m1-49v1m0 7v2m0 7v4m0 7v3m0 35v1m1-88v1m0 3v1m0 17v1m0 4v2m0 22v2m0 4v1m0 17v1m0 3v1m0 10v1m1-85v1m0 66v1m0 9v1m0 9v1m1-79v2m0 18v4m0 3v3m0 18v2m0 21v1m1-81v2m0 10v1m0 9v3m0 18v3m0 9v1m0 10v2m0 15v1m1-87v1m0 5v1m0 6v1m0 7v5m0 7v8m0 8v5m0 6v1m0 6v1m0 5v1m0 16v1m1-94v1m0 20v1m0 6v3m0 18v4m0 5v1m0 20v1m1-85v2m0 24v1m0 4v1m0 26v2m0 4v1m0 24v1m1-65v4m0 32v4m0 29v1m1-85v1m0 5v2m0 2v4m0 11v2m0 16v2m0 11v4m0 2v2m0 5v1m1-58v2m0 8v2m0 22v2m0 9v1m0 22v1m1-81v5m0 5v1m0 8v2m0 9v5m0 1v4m0 9v2m0 8v1m0 5v5m1-54v2m0 6v3m0 16v3m0 7v1m1-39v1m0 4v2m0 26v2m0 4v1m1-42v1m0 4v1m0 8v4m0 8v4m0 8v1m0 4v1m0 19v1m0 11v1m1-98v1m0 14v1m0 4v1m0 4v1m0 7v1m0 20v2m0 6v1m0 4v1m0 4v1m0 14v1m1-79v1m0 5v1m0 3v1m0 3v1m0 6v1m0 26v1m0 6v1m0 4v1m0 2v1m0 16v1m1-82v1m0 10v3m0 6v1m0 9v3m0 7v2m0 9v1m0 6v4m0 10v1m0 11v1m1-94v4m0 4v3m0 16v1m0 7v2m0 16v2m0 7v1m0 16v4m0 3v4m0 6v2m1-91v1m0 17v1m0 6v2m0 7v8m0 8v1m0 6v1m0 17v1m0 10v1m1-77v1m0 12v1m0 5v2m0 15v1m0 5v2m0 5v1m0 6v1m0 10v1m0 10v1m1-92v1m0 8v1m0 8v1m0 5v1m0 4v1m0 22v1m0 5v1m0 4v1m0 4v1m0 24v1m1-77v1m0 4v1m0 4v1m0 26v1m0 4v1m0 4v1m0 18v1m1-87v1m0 22v1m0 4v1m0 9v1m0 10v1m0 9v1m0 4v1m0 8v1m1-64v1m0 11v1m0 3v1m0 8v1m0 16v1m0 8v1m0 13v1m0 13v1m1-65v1m0 7v1m0 4v2m0 9v1m0 5v1m0 14v1m0 19v1m1-60v1m0 3v1m0 16v2m0 3v1m0 33v1m1-78v1m0 14v1m0 2v1m0 22v1m0 2v1m0 33v1m1-92v2m0 10v1m0 13v1m0 2v1m0 11v5m0 10v1m0 2v1m0 9v1m0 14v2m1-86v1m0 24v1m0 2v1m0 8v1m0 10v1m0 36v1m1-74v1m0 22v1m0 4v2m0 2v2m0 4v1m0 8v1m0 13v1m0 12v1m1-62v1m0 7v1m0 3v1m0 10v1m0 3v1m0 7v1m0 2v1m0 4v1m1-53v1m0 4v1m0 2v1m0 26v1m0 2v1m0 33v1m1-66v1m0 6v1m0 2v1m0 21v1m0 14v1m0 18v1m1-72v1m0 3v1m0 8v1m0 8v1m0 4v1m0 8v1m0 12v1m0 22v1m1-76v2m0 4v1m0 16v1m0 8v1m0 8v1m0 12v2m0 20v1m1-66v1m0 1v1m0 11v1m0 8v1m0 9v1m0 32v1m1-55v1m0 8v1m0 18v1m0 25v1m1-56v1m0 14v1m0 9v1m0 26v5m1-96v1m0 33v1m0 2v1m0 17v1m0 33v2m1-58v1m0 1v1m0 11v1m0 6v1m0 13v1m0 21v1m1-59v1m0 31v1m0 25v1m1-60v2m0 10v1m0 2v1m0 1v1m0 9v1m0 32v1m1 0v1m1-64v1m0 7v1m0 22v1m1-8v1m1-14v2m0 6v2m0 44v1m1 0v1m1 0v1m1-55v1m0 18v1m1 35v1m1-8v4m0 4v1m1-8v1m0 2v5m1-8v1m0 5v2m2-7v1m2-36v1m0 35v1m1-37v1m0 36v1m1-63v1m0 24v1m1-22v1m0 14v1m0 1v1m0 3v1m0 37v1m1-63v2m0 20v2m1 39v1m1 0v1m2-47v1m0 46v1m2-61v1m0 51v3m1-3v4m1-4v2m0 2v1m1-4v1m0 3v2m1-6v1m0 5v1m1-46v1m0 45v1m1-62v1m0 54v1"/>
<path stroke="#08fff7" d="M0.5 4v2m0 4v3m0 1v3m0 5v2m0 9v1m0 6v1m0 8v1m0 6v2m0 8v2m0 5v3m0 1v4m0 3v2m0 10v3m1-96v1m0 5v2m0 48v1m0 20v1m0 5v2m1-88v1m0 8v1m0 31v1m0 6v1m0 11v1m0 19v2m0 7v2m1-83v2m0 4v5m0 9v1m0 13v6m0 13v1m0 9v5m0 4v2m0 11v4m1-90v6m0 9v4m0 8v1m0 5v1m0 8v2m0 5v1m0 7v4m0 10v5m1-78v1m0 4v1m0 47v1m0 20v1m0 4v2m1-84v1m0 7v1m0 68v1m0 7v2m0 5v4m1-98v1m0 9v1m0 6v5m0 8v1m0 18v1m0 9v1m0 8v5m0 7v1m0 9v4m1-85v1m0 4v1m0 9v7m0 7v2m0 3v4m0 4v1m0 7v7m0 9v1m0 5v1m0 8v4m1-94v1m0 5v2m0 5v1m0 16v2m0 10v1m0 15v2m0 16v1m0 6v1m0 5v2m0 3v1m1-94v4m0 8v1m0 17v1m0 16v1m0 10v1m0 16v1m0 8v4m1-88v1m0 11v1m0 6v1m0 5v1m0 4v1m0 9v1m0 16v1m0 4v2m0 4v1m0 6v1m0 11v1m1-89v3m0 9v1m0 2v2m0 10v1m0 5v1m0 15v1m0 7v1m0 15v2m0 2v1m0 9v5m1-89v1m0 5v2m0 4v1m0 11v1m0 34v1m0 11v1m0 5v1m0 6v1m1-85v1m0 3v1m0 7v1m0 10v2m0 13v1m0 6v1m0 13v2m0 10v1m0 7v1m0 3v1m0 9v1m1-95v1m0 4v1m0 7v1m0 5v1m0 6v1m0 4v1m0 22v2m0 3v1m0 6v1m0 5v1m0 8v1m0 3v1m1-88v1m0 14v1m0 55v1m0 2v1m0 8v1m0 5v1m1-77v1m0 4v1m0 52v1m0 4v1m0 6v1m0 7v1m1-86v1m0 3v2m0 25v1m0 2v1m0 8v1m0 12v1m0 8v1m0 7v1m0 3v1m1-80v1m0 4v1m0 9v1m0 7v1m0 42v1m0 9v1m0 16v1m1-97v1m0 7v1m0 12v3m0 5v1m0 4v1m0 6v1m0 4v1m0 17v3m0 12v1m0 7v1m1-80v1m0 7v3m0 50v4m0 6v1m1-73v1m0 5v1m0 6v1m0 14v1m0 7v1m0 36v1m0 11v2m1-82v1m0 18v1m0 34v1m1-64v1m0 72v1m0 7v1m1-62v1m0 40v1m0 11v1m0 17v2m1-85v8m0 3v1m0 16v10m0 12v1m0 3v1m0 3v8m0 20v1m1-90v1m0 3v1m0 19v1m0 28v1m0 13v2m0 2v2m1-54v1m0 28v1m0 3v1m0 14v1m0 15v1m1-79v2m0 59v1m0 19v1m2-94v1m0 11v1m0 24v4m0 4v5m0 23v2m0 10v1m1-61v3m0 11v8m0 11v3m0 27v1m1-64v1m0 3v3m0 23v2m0 4v1m0 29v1m1-88v3m0 19v4m0 26v4m0 19v3m0 12v1m1-95v1m0 76v1m0 7v1m1-77v3m0 4v2m0 24v3m0 23v2m0 4v3m0 11v1m1-81v1m0 2v1m0 8v1m0 13v18m0 13v1m0 8v1m0 2v1m0 13v1m1-74v1m0 13v7m0 8v8m0 12v1m0 27v1m1-94v1m0 22v6m0 25v5m0 22v1m1-59v4m0 29v4m0 26v2m1 3v1m1-85v1m0 25v16m0 21v1m0 3v1m0 18v1m1-98v1m0 20v1m0 12v2m0 5v8m0 5v2m0 12v1m0 20v1m1-81v1m0 5v5m0 11v9m0 10v9m0 11v5m0 5v1m0 11v1m1-86v1m0 20v6m0 22v7m0 19v1m0 11v1m1-90v1m0 20v4m0 30v4m0 20v1m0 11v1m1-94v1m0 20v4m0 13v8m0 13v4m1-54v1m0 9v4m0 9v2m0 16v2m0 9v4m0 6v1m1-54v3m0 8v2m0 7v8m0 8v1m0 8v4m0 9v1m0 11v1m1-78v1m0 15v1m0 6v2m0 12v2m0 6v1m0 15v1m0 4v1m0 13v2m1-92v4m0 20v1m0 4v2m0 20v2m0 4v1m0 21v3m0 12v1m1-93v1m0 19v1m0 4v1m0 26v2m0 3v1m0 19v1m0 8v1m1-88v1m0 18v1m0 3v2m0 8v2m0 10v3m0 8v1m0 3v1m1-49v1m0 5v1m0 3v1m0 6v1m0 20v1m0 7v1m0 12v1m0 9v1m1-85v1m0 19v1m0 2v1m0 6v1m0 8v8m0 8v1m0 6v1m0 8v1m0 24v1m1-88v1m0 3v1m0 5v1m0 1v1m0 6v1m0 6v2m0 12v2m0 13v1m0 1v1m0 9v1m0 10v1m1-78v2m0 6v3m0 5v1m0 6v1m0 18v1m0 6v1m0 5v3m0 7v2m1-58v1m0 11v1m0 7v2m0 5v2m0 13v1m0 4v1m0 23v1m1-76v1m0 2v1m0 4v1m0 5v1m0 5v1m0 14v1m0 11v1m0 4v1m0 23v1m1-70v1m0 4v1m0 4v1m0 20v1m0 4v1m0 9v1m0 3v1m0 19v2m1-96v2m0 16v1m0 4v1m0 8v1m0 8v2m0 5v1m0 8v1m0 17v1m0 12v10m1-97v1m0 36v1m0 12v1m0 7v1m0 3v1m0 24v1m0 7v3m1-98v1m0 23v1m0 3v1m0 6v1m0 7v2m0 7v1m0 10v1m0 33v1m1-99v1m0 23v1m0 9v1m0 5v1m0 14v1m0 33v1m1-57v1m0 3v1m0 14v1m0 10v1m0 7v1m1-18v1m0 9v1m1-48v1m0 30v1m0 10v1m0 5v1m0 6v1m1-44v1m0 2v1m0 27v1m0 5v1m1-29v1m0 8v1m0 11v1m0 7v1m1-39v1m0 23v1m0 6v1m0 34v1m1-71v1m0 2v1m0 6v1m0 14v1m0 45v1m1-70v1m0 24v1m0 38v7m1-72v1m0 15v1m0 48v1m0 5v2m1-65v1m0 6v1m0 6v1m0 42v1m1-51v1m0 2v2m0 11v1m0 34v1m1-63v1m0 9v2m0 7v1m0 9v1m1-19v1m0 19v1m0 31v1m1-65v1m0 6v1m0 11v1m0 45v1m1-58v1m0 14v1m0 42v1m1-53v1m2 53v1m1-69v1m0 68v1m1-66v1m1-1v1m0 58v2m1-2v5m1-5v2m0 3v2m1-6v1m1-1v1m1 0v1m2-58v2m0 12v2m0 42v1m1-63v1m0 20v1m1 41v1m1 0v1m2 0v1m2-48v1m2-14v1m1 53v2m1-2v3m1-3v2m0 1v2m1-5v1m0 3v2m1-46v1m0 40v1m0 4v1"/>
<path stroke="#18ffe7" d="M0.5 3v1m0 9v1m0 10v1m0 6v2m0 8v1m0 6v1m0 9v2m0 5v1m0 10v1m0 9v1m0 8v1m1-95v2m0 8v9m0 10v1m0 10v1m0 6v1m0 21v10m0 8v1m0 8v2m1-89v3m0 2v4m0 10v1m0 12v1m0 4v1m0 24v4m0 1v3m0 11v2m0 2v4m1-89v4m0 5v2m0 6v1m0 34v1m0 6v2m0 5v4m1-45v1m0 2v2m0 11v1m0 2v2m1-50v4m0 22v1m0 7v1m0 8v1m0 7v1m0 22v4m1-81v2m0 4v1m0 21v1m0 8v1m0 8v1m0 8v1m0 21v2m0 4v1m1-86v1m0 7v1m0 21v1m0 8v1m0 17v1m0 22v1m0 6v2m0 4v1m1-95v1m0 6v2m0 6v1m0 7v1m0 7v3m0 2v2m0 14v2m0 2v3m0 7v1m0 7v1m0 7v1m0 6v1m0 4v1m1-94v2m0 1v2m0 8v1m0 10v5m0 17v1m0 12v5m0 10v1m0 8v2m0 1v2m0 6v1m1-82v1m0 8v4m0 2v2m0 29v1m0 2v4m0 8v1m0 21v1m1-84v1m0 3v2m0 7v1m0 2v1m0 17v1m0 10v1m0 2v1m0 7v2m0 3v1m1-63v2m0 13v1m0 3v1m0 8v1m0 6v1m0 9v1m0 3v1m0 12v2m1-75v1m0 8v4m0 13v1m0 11v3m0 4v4m0 10v1m0 13v5m0 8v1m0 4v1m1-92v1m0 5v1m0 5v1m0 13v3m0 28v3m0 13v1m0 5v1m0 5v1m1-87v1m0 12v1m0 7v1m0 4v1m0 34v1m0 4v1m0 7v1m0 6v1m0 5v1m0 9v1m1-92v1m0 6v1m0 4v1m0 15v1m0 26v1m0 7v1m0 4v1m0 6v1m1-76v2m0 3v1m0 49v1m0 14v2m0 3v1m0 9v1m1-86v3m0 9v1m0 7v1m0 24v1m0 27v3m0 11v1m1-90v1m0 2v1m0 11v1m0 22v1m0 2v1m0 16v1m0 5v1m0 11v1m0 2v2m0 12v1m1-97v1m0 56v1m0 21v1m1-52v1m0 28v1m0 21v1m0 8v1m1-71v1m0 24v1m0 23v1m0 5v1m0 16v1m1-87v1m0 15v1m0 12v1m0 18v1m0 2v1m0 18v1m0 6v1m0 10v4m1-95v1m0 9v1m0 52v1m0 9v1m0 9v1m0 6v3m1-83v1m0 62v1m0 20v1m1-78v1m0 1v1m0 5v1m0 2v1m0 26v1m0 2v1m0 5v1m0 1v1m1-60v3m0 19v1m0 24v1m0 20v2m1-80v7m0 6v1m0 18v1m0 25v1m0 18v1m0 5v9m1-79v1m0 62v1m0 17v1m1-90v2m0 5v4m0 53v1m0 4v4m0 5v2m0 12v1m1-97v1m0 13v1m0 5v1m0 46v1m0 5v1m0 13v1m1-73v1m0 3v1m0 48v1m0 3v1m0 17v1m1-64v3m0 28v4m1 34v1m1-95v1m0 6v1m1-11v1m0 13v1m0 2v1m0 54v1m0 2v1m0 3v1m1-59v1m0 46v2m0 10v1m0 11v1m1-86v1m0 7v1m0 3v1m0 50v2m0 2v1m0 7v1m0 12v2m1-94v1m0 82v1m1 5v1m1 3v1m1-85v1m0 1v2m0 59v1m0 1v1m0 20v1m1-98v1m0 6v4m0 4v5m0 15v5m0 8v5m0 15v5m0 4v4m0 6v1m1-81v1m0 72v1m0 9v1m3-5v1m0 9v1m1-98v1m0 14v1m0 21v16m0 24v1m0 11v1m0 8v1m1-84v1m0 18v7m0 8v8m0 17v1m0 17v1m1-83v1m0 20v6m0 16v6m0 20v1m0 16v3m1-70v4m0 24v4m1-56v1m0 21v4m0 29v3m0 21v1m0 5v2m1-88v1m0 20v3m0 12v10m0 12v3m0 20v1m0 8v1m1-92v1m0 10v1m0 1v1m0 7v3m0 8v2m0 16v2m0 9v3m0 6v1m0 22v1m1-85v1m0 3v1m0 6v2m0 8v1m0 5v2m0 8v2m0 5v1m0 8v3m0 9v1m0 10v1m0 8v1m1-98v1m0 21v1m0 8v1m0 4v1m0 16v1m0 5v1m0 7v1m1-39v1m0 4v1m0 20v1m0 35v1m1-73v2m0 6v1m0 4v1m0 10v5m0 9v1m0 4v1m0 6v2m1-41v1m0 7v1m0 12v1m0 7v1m0 12v1m0 21v1m1-76v1m0 15v1m0 18v1m0 6v1m0 3v1m0 30v1m1-70v1m0 5v1m0 6v1m0 8v1m0 6v1m0 5v1m0 3v1m0 31v1m1-99v1m0 13v1m0 1v1m0 5v1m0 3v1m0 4v1m0 5v1m0 14v1m0 5v1m0 8v1m0 5v1m0 1v1m0 13v7m1-96v1m0 53v1m0 5v1m0 28v1m0 6v2m1-70v1m0 12v1m0 7v1m0 40v1m0 7v1m1-61v1m0 12v1m0 5v1m0 33v1m1-71v1m0 9v1m0 4v1m0 21v1m0 9v1m0 23v1m1-63v1m0 3v1m0 6v1m0 13v1m0 37v1m1-55v1m0 10v1m0 6v1m0 36v1m1-52v1m0 2v1m0 5v1m0 42v1m1-60v1m0 26v1m0 32v1m1-76v1m0 39v1m0 35v2m1-78v1m0 40v1m0 3v1m0 31v1m1-36v1m0 28v5m1-42v1m0 36v2m0 3v2m1-6v1m1-63v1m0 7v1m0 8v1m0 1v1m0 42v1m1-69v1m0 2v1m0 19v1m0 45v1m1-35v1m1-23v2m0 10v2m0 1v1m1-8v1m0 1v1m0 47v1m1 0v1m1 0v1m1-67v1m0 14v1m0 9v1m0 2v1m1-5v1m1-1v1m1-24v1m1-1v1m0 60v3m1-3v5m1-5v1m2 0v1m1-63v1m1 0v2m0 19v2m0 39v1m1 0v1m2 0v1m4-48v1m1-1v1m1-14v1m2 55v1m1-2v3m1-2v4"/>
<path stroke="#28ffd7" d="M0.5 1v2m0 22v6m0 11v2m0 3v1m0 12v5m0 22v2m0 4v2m1-95v1m0 19v2m0 7v1m0 12v1m0 4v1m0 12v1m0 7v2m0 19v2m0 3v3m1-84v2m0 4v2m0 7v1m0 14v4m0 14v1m0 7v3m0 4v1m0 16v2m1-74v2m0 3v1m0 36v1m0 3v2m1-33v2m0 14v2m1-21v1m0 5v1m0 10v1m1-46v4m0 23v1m0 49v4m1-84v2m0 3v2m0 23v1m0 6v1m0 10v1m0 31v1m0 3v2m0 7v4m1-98v2m0 3v1m0 9v2m0 4v1m0 11v2m0 18v2m0 11v2m0 4v1m0 9v1m0 3v2m0 6v1m1-93v1m0 11v1m0 7v2m0 18v1m0 2v1m0 18v2m0 7v1m0 11v1m0 9v1m1-82v1m0 6v1m0 4v2m0 13v1m0 4v1m0 13v2m0 4v2m0 5v1m0 23v1m1-84v3m0 10v2m0 30v2m0 10v3m1-46v3m0 10v1m0 16v3m1-62v2m0 27v11m0 3v4m0 4v10m0 28v4m1-92v1m0 7v2m0 2v1m0 17v3m0 6v1m0 8v1m0 6v3m0 17v1m0 2v2m0 7v1m0 6v1m1-88v1m0 14v4m0 7v1m0 14v1m0 5v1m0 7v4m0 9v1m0 4v1m0 7v1m0 7v1m1-90v1m0 4v1m0 6v1m0 6v1m0 21v1m0 4v1m0 21v2m0 3v1m0 8v1m1-82v3m0 7v1m0 7v1m0 8v1m0 3v1m0 8v1m0 3v1m0 16v1m0 8v3m1-44v2m0 10v2m0 18v1m0 24v1m1-90v2m0 13v1m0 4v1m0 55v2m1-76v1m0 22v1m0 2v1m0 20v1m0 31v1m1-88v1m0 7v1m0 34v1m0 2v1m0 7v1m0 34v1m1-83v1m0 7v1m0 15v1m0 26v1m0 15v1m0 7v1m0 8v1m1-87v1m0 8v1m0 18v2m0 20v2m0 11v1m0 6v1m0 8v1m0 7v2m0 4v1m1-99v3m0 20v1m0 63v6m0 3v2m1-84v1m0 51v1m0 8v1m0 22v1m1-78v1m0 7v2m0 28v2m0 7v1m1-41v1m0 32v1m1-55v6m0 16v3m0 27v2m0 17v5m1-80v4m0 5v1m0 64v1m0 5v4m1-84v2m0 2v5m0 4v1m0 3v1m0 52v1m0 4v5m0 2v2m0 9v1m1-97v1m0 88v1m0 8v1m1-80v1m0 50v1m1 23v1m1 3v1m1-95v1m0 4v1m0 70v1m0 5v1m1-77v1m0 4v2m0 56v2m0 14v1m1-81v1m0 4v1m0 4v2m0 49v1m0 4v1m0 15v1m1-86v1m0 9v3m0 53v2m0 9v1m0 10v1m1-93v1m0 84v2m0 8v2m1-6v2m1 2v1m1-85v1m0 62v1m1-75v2m0 1v3m0 4v1m0 1v2m0 58v2m0 1v1m0 4v3m0 1v2m1-81v1m0 74v1m1-77v1m0 76v1m0 9v1m1-90v1m0 80v1m0 9v1m1-94v1m0 93v1m1-84v2m0 60v2m0 13v1m0 6v1m1-87v1m0 66v1m0 14v2m0 3v1m1-88v1m0 1v1m0 62v1m0 1v1m2-79v5m0 80v5m1-87v1m0 82v1m0 6v1m1-92v1m0 12v1m0 21v16m0 21v2m0 11v1m0 7v1m1-95v1m0 32v5m0 12v5m1-44v1m0 19v4m0 18v5m0 16v1m0 14v1m0 7v1m1-69v1m0 1v2m0 22v2m0 1v2m1-33v1m0 2v1m0 26v2m0 1v1m0 31v1m1-76v2m0 6v1m0 2v1m0 9v3m0 6v3m0 9v1m0 2v1m0 6v2m0 23v1m1-80v1m0 8v1m0 2v1m0 7v2m0 4v7m0 4v1m0 8v1m0 1v1m0 6v1m0 25v2m1-65v1m0 4v1m0 10v2m0 11v1m0 8v1m1-58v1m0 37v1m0 10v1m0 9v1m1-54v1m0 8v1m0 4v1m0 29v1m0 2v1m0 21v2m0 2v2m1-76v1m0 12v1m0 8v1m0 4v2m0 7v1m0 4v1m0 4v1m0 24v1m0 5v1m1-76v1m0 4v1m0 4v1m0 6v1m0 27v1m0 24v1m1-75v1m0 24v4m0 6v1m0 39v1m1-76v2m0 20v1m0 8v1m0 20v2m0 22v1m1 0v1m1-65v1m0 5v1m0 6v2m0 12v1m0 3v1m0 33v1m1-71v1m0 14v1m0 6v1m0 48v1m1-58v1m0 8v1m0 18v1m1-46v1m0 14v1m0 12v1m0 16v1m1-33v1m0 11v1m0 4v1m0 3v1m1 0v1m0 35v3m1-72v1m0 7v1m0 15v1m0 9v1m0 34v2m0 1v2m1-41v1m0 1v1m0 33v1m1-65v1m0 33v1m0 30v1m1-1v1m1-67v1m0 6v1m0 5v1m0 53v1m1-56v1m0 55v1m1 0v1m1-70v1m1 0v2m0 1v1m0 8v1m0 13v1m0 1v2m3-4v1m2-24v1m1-1v1m0 61v4m1-66v1m0 61v2m0 1v1m1-66v1m0 4v1m0 12v1m0 4v1m0 39v1m1-61v1m0 16v1m0 2v1m0 39v1m1-58v1m0 57v1m1-59v1m1 58v1m7-48v1m1-14v1"/>
<path stroke="#38ffc7" d="M0.5 0v1m0 43v3m0 42v4m1-71v2m0 3v2m0 14v4m0 14v2m0 3v2m0 23v3m1-73v1m0 5v1m0 34v1m0 5v1m1-46v3m0 38v3m2-11v1m1-18v1m0 10v1m0 6v1m1-54v3m0 31v1m0 12v1m0 5v1m0 25v3m1-83v3m0 12v4m0 47v4m0 11v3m0 9v1m1-81v1m0 5v1m0 21v2m0 21v1m0 5v1m0 23v1m1-82v1m0 3v2m0 47v1m0 3v1m1-32v1m0 4v1m1-1v1m2-48v1m0 10v2m0 21v1m0 20v1m0 21v2m0 10v1m0 4v1m1-95v1m0 8v2m0 1v2m0 26v1m0 36v4m1-72v4m0 13v1m0 13v1m0 22v1m0 5v1m0 8v3m0 10v1m1 1v1m1-74v1m0 42v1m0 5v1m0 26v2m1-76v1m0 2v1m0 18v2m0 18v1m0 3v1m1-66v2m0 2v1m0 35v1m0 2v1m0 11v1m0 23v2m0 2v1m1-86v1m0 5v1m0 27v1m0 8v2m0 36v1m1-67v4m0 15v1m0 18v1m0 15v4m0 9v1m0 6v1m1-87v1m0 16v1m0 63v1m0 5v1m1-78v1m0 52v1m0 7v1m0 22v1m1-84v2m0 6v1m0 49v2m2-46v1m0 1v1m0 26v3m2-60v2m0 4v5m0 66v5m0 4v2m0 3v2m1-93v2m0 14v1m0 1v1m0 50v1m0 16v2m1-73v1m0 52v1m0 3v1m0 16v1m1-74v2m0 52v2m0 19v1m1 2v1m2-91v4m0 72v5m1-85v1m0 7v1m0 70v1m0 7v1m1-81v1m0 6v1m0 2v1m0 52v1m0 2v1m0 6v1m0 8v1m1-86v1m0 78v1m0 7v2m1-94v2m0 87v8m1-2v4m1-1v1m2-95v1m0 8v1m0 62v1m0 8v1m1-3v1m0 6v1m1-7v1m0 7v1m1 1v1m1-94v1m0 86v1m1 2v1m0 4v1m1-83v1m0 60v1m0 19v3m1-86v1m0 64v1m3-76v1m0 84v1m0 3v2m1-5v1m0 5v1m1-95v1m0 12v1m0 1v1m0 58v1m0 14v1m0 6v1m1-83v1m0 62v1m0 19v1m1-67v1m0 26v1m0 33v1m0 5v1m1-70v2m0 29v1m0 33v1m1-68v2m0 13v6m0 13v2m0 33v3m1-81v1m0 7v2m0 10v4m0 7v4m0 10v1m0 9v1m1-59v1m0 1v1m0 6v3m0 8v4m0 13v4m0 8v2m0 8v1m1-52v1m0 1v1m0 6v2m0 1v2m0 17v1m0 2v1m0 8v1m1-43v1m0 9v1m0 20v1m0 3v1m0 32v2m1-71v1m0 5v1m0 13v4m0 22v1m0 22v2m0 1v2m1-78v1m0 20v1m0 9v1m0 7v1m0 3v1m0 30v1m0 4v1m1-73v1m0 10v1m0 4v1m0 4v1m0 4v1m0 6v1m0 11v1m0 22v1m1-60v1m0 18v1m0 5v1m0 34v1m1-63v1m0 4v1m0 12v1m0 4v1m0 4v1m0 34v1m1-70v1m0 25v1m0 43v1m1-76v1m0 7v1m0 4v1m0 18v1m0 43v1m1-65v1m0 20v1m1-34v1m0 10v1m0 5v1m0 16v1m0 10v1m1-36v1m0 8v1m1-11v1m0 3v1m1-6v1m0 9v1m0 15v1m0 39v1m1-72v1m0 3v1m0 8v1m0 12v1m0 43v4m1-72v1m0 25v1m0 5v1m0 2v1m0 33v1m1-1v1m1-37v1m0 36v1m1-69v1m0 14v1m0 53v1m1-70v1m1 30v1m2-18v4m3 9v1m1-1v1m1-1v1m1-1v1m0 40v1m1-61v1m0 1v1m0 12v1m0 44v2m1-65v2m0 3v1m0 14v2m0 41v2m1-49v1m0 47v1m1-1v1m1-60v1m1-1v1m7 11v1m1-14v1m1-1v1"/>
<path stroke="#48ffb7" d="M1.5 24v3m0 36v3m1-44v5m0 36v5m3-34v1m0 3v1m0 12v1m0 3v1m1-23v1m0 17v1m0 4v1m1-24v2m0 2v1m0 14v1m0 3v1m1 40v2m1-82v5m0 46v5m0 25v1m1-82v3m0 23v1m0 2v1m0 23v3m2-30v1m0 2v1m2-12v1m0 3v1m0 10v1m0 3v1m0 35v1m0 2v1m1-83v1m0 23v1m0 18v1m0 35v1m0 5v1m1-76v1m0 14v1m0 31v1m0 29v1m1-79v1m0 5v1m0 36v1m0 5v1m0 24v1m1-69v1m0 71v1m1-76v2m0 40v3m1-63v2m0 25v2m0 10v1m0 11v2m0 26v2m1-84v1m0 3v1m0 24v1m0 26v1m0 24v1m0 4v1m1-89v1m0 5v1m0 25v1m1-33v1m0 2v1m0 11v1m0 4v1m0 48v1m0 4v1m0 11v1m0 2v2m1-76v1m0 6v1m0 51v1m1-58v3m0 2v1m0 44v1m0 2v3m2-43v1m2-31v1m0 88v3m1-92v1m0 17v1m0 52v2m0 16v1m0 5v1m1-76v1m0 70v1m0 5v1m1-5v1m0 4v1m1-3v3m3-97v1m0 5v1m0 72v1m0 5v1m1-88v1m0 6v1m0 8v2m0 54v2m0 8v1m1-79v1m0 80v1m0 5v1m6-92v1m0 4v2m0 77v1m0 4v1m1-85v1m1-3v1m0 82v1m0 6v1m1-94v1m0 88v1m0 5v1m1-4v4m1-84v2m0 62v2m4-78v2m0 86v3m1-90v1m0 87v1m0 3v1m1-80v1m0 60v2m0 13v1m0 4v1m1-83v1m0 62v1m0 14v1m0 4v1m1-4v1m0 3v1m1-3v4m2-82v1m0 54v1m1-57v1m0 56v1m1-50v1m0 9v1m0 20v2m0 8v1m1-44v2m0 7v3m0 22v3m0 7v2m1-36v1m0 24v1m0 2v1m0 6v1m0 26v1m1-64v1m0 9v9m0 18v1m0 1v1m0 23v4m1-79v2m0 9v1m0 7v4m0 6v4m0 11v1m0 5v1m0 25v4m1-74v1m0 3v1m0 6v1m0 2v1m0 10v1m0 2v1m0 10v1m0 31v1m1-73v1m0 3v1m0 5v1m0 2v1m0 14v1m0 44v2m1-76v1m0 8v1m0 3v1m0 61v1m1-57v1m0 16v1m0 7v1m1-44v1m0 16v1m0 23v1m1-26v1m0 8v2m2-2v1m0 4v1m1 9v1m1-23v1m0 4v1m0 16v1m1-39v1m0 9v1m0 26v1m0 33v2m1-2v2m1-52v1m0 50v1m1-54v1m0 14v1m1-13v1m0 11v1m3-14v1m7-14v1m0 15v1m0 2v1m1-4v1m2-1v1m1-1v1m2-12v1m1-1v1m6 11v1m1-1v1m1-14v1"/>
<path stroke="#58ffa7" d="M5.5 35v3m0 14v3m1-21v1m0 3v1m0 13v1m0 2v1m1-21v2m0 16v3m3-12v2m1-3v1m0 2v1m1-3v2m2-10v3m0 12v3m0 37v2m1-57v1m0 2v1m0 10v1m0 40v1m0 3v1m1-74v1m0 2v1m0 27v1m0 10v1m0 2v1m0 24v1m0 4v1m1-77v1m0 15v1m0 1v1m0 10v1m0 1v1m0 42v4m1-78v1m0 42v1m0 3v1m2-24v1m1-43v3m0 28v1m0 20v1m0 28v4m1-87v1m0 3v1m0 28v1m0 20v1m0 1v1m0 26v2m0 2v2m1-89v2m0 13v1m0 2v1m0 50v1m0 2v1m0 13v2m1-73v1m0 4v1m0 46v2m0 3v1m1-54v2m0 46v2m5 20v5m1-78v1m0 1v1m0 50v1m0 1v1m0 19v1m0 3v1m1-3v4m4-95v1m0 3v1m0 74v1m0 3v1m1-86v1m0 4v1m0 76v1m0 4v2m1-90v4m0 82v5m6-90v4m0 80v4m1-85v1m0 80v1m0 5v1m1-90v1m0 84v1m1 2v1m0 2v2m7-95v1m0 89v3m1-2v4m1-3v4m1-2v3m7-76v2m0 7v2m0 26v2m0 8v1m1-49v2m0 6v1m0 1v1m0 28v1m0 1v1m0 7v1m1-10v1m0 9v1m1-34v2m0 12v2m0 44v2m1-64v2m0 16v3m0 9v1m1-12v1m0 2v1m0 8v1m1-20v1m0 16v1m1-43v1m0 6v1m0 18v1m0 18v1m1-27v8m1-12v1m0 2v1m0 8v1m0 2v1m1-27v1m0 13v1m2 11v1m6-23v1m0 2v1m0 22v1m1-23v1m1 7v1m6-9v1m0 3v2m0 10v2m1-17v2m0 17v2m5-6v1m1-1v1m2-12v1m7 11v1"/>
<path stroke="#68ff97" d="M6.5 35v3m0 15v2m5-11v2m4 5v1m0 1v1m0 38v3m1-72v2m0 12v1m0 1v1m0 10v1m0 14v2m0 26v4m1-72v1m0 12v1m0 12v1m0 12v1m0 3v1m1-47v1m0 2v1m0 41v1m3-36v1m0 23v2m1-56v3m0 28v1m0 22v1m0 29v2m1-71v2m0 52v2m1-56v4m0 49v3m7-55v1m0 52v1m0 21v3m5-92v3m0 76v3m1-84v4m0 78v4m8-88v1m0 1v2m0 82v2m0 1v2m1-91v2m0 86v2m0 1v2m1-2v2m18-64v1m0 30v1m1-34v1m0 1v1m0 32v1m1-35v1m0 32v1m1 0v1m1-30v3m0 19v2m0 6v1m1-39v1m0 5v1m0 2v1m0 8v1m0 11v1m1-33v1m0 32v1m0 3v1m0 5v1m1-39v1m1-2v1m0 10v1m0 11v1m1-15v1m0 26v1m1-30v1m0 4v1m0 10v1m0 4v1m1-24v1m0 4v1m0 23v1m2-20v1m1 11v1m2-14v1m1-10v1m0 1v1m0 22v1m0 1v1m2-26v1m1-1v1m4-1v1m1 2v1m0 14v1m0 2v1m8-6v1m1-1v1m1-12v1m1-1v1"/>
<path stroke="#78ff87" d="M15.5 37v2m0 13v1m1-15v1m0 12v2m1-31v1m0 1v1m0 40v1m0 1v1m1-45v2m0 40v2m3-34v1m24-33v1m0 86v1m1 1v1m20-63v1m0 32v1m1-36v2m0 34v2m1-39v1m0 1v1m1-2v1m1-4v1m0 22v1m0 9v1m0 1v1m0 7v1m1-34v1m0 8v1m0 4v1m1-16v1m0 24v1m0 3v1m1-23v1m0 11v1m0 6v1m0 3v1m1-13v1m0 2v1m0 5v1m1 0v1m1-33v1m0 28v1m1-16v1m1-13v1m0 23v1m2-6v1m2-19v1m0 16v1m0 6v1m0 2v1m1-4v1m1-1v1m1-14v1m0 4v1m1-14v1m1-1v1m1-1v1m1 4v1m0 10v2m0 3v1m1-21v2m0 16v2m10-5v1m2-12v1m1-1v1"/>
<path stroke="#87ff78" d="M17.5 23v1m0 42v1m51-41v1m0 36v2m1-41v2m0 38v2m1-42v1m0 7v2m0 10v2m0 11v1m0 7v1m1-36v1m0 12v1m2-13v1m1-2v1m0 8v1m1-14v1m0 2v1m0 5v1m0 15v1m0 2v1m1-29v1m0 9v1m0 6v1m0 9v1m0 9v1m1-33v1m0 15v1m1-1v1m0 11v1m1-25v1m1-1v2m0 3v1m0 13v1m1-25v1m2 17v1m1-1v1m1-6v1m0 2v1m0 8v1m1-1v1m1-1v1m1-1v1m1-18v1m0 1v1m0 8v1m1-10v1m1-1v1m1-1v1m1-1v1m8 9v1m1-1v1m2-12v1m1-1v1"/>
<path stroke="#97ff68" d="M71.5 32v1m0 11v3m0 10v1m0 1v1m3-23v2m0 12v2m1-17v3m0 13v2m0 9v1m1-37v1m0 5v1m0 12v1m0 15v1m1-9v1m0 3v1m1-24v1m1 7v1m1 9v1m1-20v1m0 20v1m0 3v1m1-19v1m2-1v1m1-1v1m0 2v1m0 3v1m1-8v1m0 6v1m2-10v2m0 8v2m1-16v1m0 1v1m0 14v1m0 1v1m1-6v1m1-1v1m1-1v1m2-10v1m9 9v1m1-1v1m1-1v1m1-12v1m0 10v1"/>
<path stroke="#a7ff58" d="M71.5 31v1m0 26v1m1-30v1m0 1v1m0 26v1m4-24v1m0 18v1m0 1v1m1-22v1m2-6v1m0 15v1m1-17v1m1 4v1m0 18v1m0 1v1m2-16v1m2 3v1m1-4v1m1-3v2m0 6v2m1 1v1m1-16v1m0 16v1m4-5v1m2-10v1m1-1v1"/>
<path stroke="#b7ff48" d="M72.5 30v1m0 28v2m1-33v1m0 1v1m0 28v1m1-33v1m0 32v1m0 1v1m1-35v1m0 32v1m1-28v1m0 9v2m0 9v1m3 3v1m1-23v1m0 17v1m0 3v1m1-29v1m0 1v1m1 1v1m4 4v1m0 6v1m0 1v1m1 0v1m1-16v1m0 2v1m0 2v1m0 12v1m6-6v1m1-1v1m2-10v1m1-1v1"/>
<path stroke="#c7ff38" d="M73.5 61v1m1-33v1m1-3v1m0 34v1m5-29v1m0 15v1m0 1v1m1-21v1m0 24v2m1-5v1m1-20v1m1-1v1m1 13v1m2-15v1m0 3v1m1-3v1m0 10v1m0 3v1m1-12v1m7 7v1m1-1v1m2-10v1m1-1v1"/>
<path stroke="#d7ff28" d="M73.5 29v1m0 30v1m1-33v1m0 32v1m3-30v1m0 10v1m1-1v1m1 0v2m0 9v1m1-17v1m3 14v1m2-20v1m0 4v1m1-6v1m0 7v1m0 2v1m0 7v1m1-13v1m0 4v1m0 6v1m1-19v1m0 16v1m1-6v1m1-8v1m8 7v1m1-1v1m1-1v1m1-10v1m1-1v1m1-1v1m1-1v1m1-1v1m1-1v1"/>
<path stroke="#e7ff18" d="M77.5 46v1m0 8v1m0 1v1m1-27v1m2 6v1m0 12v1m1-16v1m0 12v1m3-1v1m0 4v1m1-1v1m1-16v1m0 4v1m0 5v1m1-13v1m0 12v1m3-4v1m1-8v1m10 7v1m1-1v1m1-1v1m1-1v1m1-1v1m1-1v1"/>
<path stroke="#f7ff08" d="M77.5 34v1m1 11v1m0 8v1m0 2v1m1-25v1m1-4v1m1 21v1m3-14v1m2 4v1m1-10v2m0 14v2m1-12v1m3 5v1m1-8v1m1-1v1"/>
<path stroke="#fff700" d="M77.5 33v1m0 22v1m1-23v1m2-2v1m0 22v1m0 1v1m1-19v1m2 8v1m3-14v1m1 6v1m1 3v1m4 0v1m2-8v1"/>
<path stroke="#ffe700" d="M77.5 44v1m2-14v1m3 4v1m0 12v1m1-10v1m2-2v1m0 10v1m1-13v1m0 12v1m0 1v1m1-8v1m2-5v1m4 5v1m2-8v1m1-1v1m9-1v1m1-1v1"/>
<path stroke="#ffd700" d="M77.5 45v1m1-2v2m1 12v1m1-27v1m0 24v1m2-18v1m0 12v1m1-18v1m1-1v1m1-1v1m0 16v1m1-17v1m0 14v1m3-6v1m5 0v1m1-1v1m2-8v1m1-1v1m1-1v1m1-1v1m1-1v1m1-1v1m1-1v1m1-1v1m0 6v1m1-1v1m1-1v1"/>
<path stroke="#ffc700" d="M78.5 32v2m0 22v2m1-2v1m4-4v1m1-4v1m0 2v1m3-10v2m1-3v1m2-2v1m6 5v1m1-1v1m1-1v1m1-1v1m1-1v1m1-1v1m1-1v1m1-1v1"/>
<path stroke="#ffb700" d="M79.5 32v2m2 3v1m0 14v1m3-14v1m1-3v2m0 12v1m3-6v1m2 0v1m1-6v1m15-1v1"/>
<path stroke="#ffa700" d="M79.5 57v1m2-19v1m0 10v1m4 1v1m6-6v1m1-6v1m12-1v1m1-1v1m1 4v1"/>
<path stroke="#ff9700" d="M83.5 50v1m1-14v1m4 6v2m1-3v1m0 2v1m3 0v1m1-6v1m1-1v1m8-1v1m1-1v1m1 4v1m1-1v1"/>
<path stroke="#ff8700" d="M81.5 38v1m0 12v1m1-15v1m1-1v1m0 1v1m1-2v1m0 12v2m6-10v1m3 3v1m2-6v1m1-1v1m1-1v1m1-1v1m1-1v1m1-1v1m1-1v1m0 4v1m1-1v1m1-1v1m2-5v1m1-1v1m0 2v1"/>
<path stroke="#ff7800" d="M82.5 39v1m0 10v1m0 1v1m1-1v1m6-9v1m1 1v1m4 0v1m1-1v1m1-1v1m1-1v1m1-1v1m1-1v1m1-1v1m4-5v1m1 2v1m1-3v2"/>
<path stroke="#ff6800" d="M83.5 38v1m0 12v1m6-7v1m2-3v1m11-1v1m1-1v1m0 2v1m1-1v1m1-3v2"/>
<path stroke="#ff5800" d="M82.5 38v1m0 12v1m8-8v1m1 1v1m1-4v1m9-1v1m1 2v1m1-3v1m1-1v2"/>
<path stroke="#ff4800" d="M90.5 45v1m2 0v1m1-4v1m0 2v1m1-4v1m4-1v1m1-1v1m1-1v1m0 2v1m1-1v1m1-3v2m1-1v1"/>
<path stroke="#ff3800" d="M91.5 44v2m3 0v1m1-4v1m0 2v1m1-4v1m0 2v1m1-4v1m0 2v1m1-1v1m1-1v1m1-3v1m1-1v2"/>
<path stroke="#ff2800" d="M92.5 44v2m7-2v2m1-1v1"/>
<path stroke="#ff1800" d="M93.5 44v2m1-2v2m1-2v2m1-2v2m1-2v2m1-2v2"/>
</g></g></g>
<rect x="25" y="238" width="107.0" height="99.0" fill="none" stroke="#2a4a6a" stroke-opacity="0.45" stroke-width="0.7"/>
<circle cx="74.6" cy="283.1" r="33.70" fill="none" stroke="#1a1a1a" stroke-width="0.5" stroke-opacity="0.7"/>
<text x="24.4" y="268.9" font-size="7.5" font-family='"Liberation Sans", sans-serif' text-anchor="end" fill="#333">5</text>
<line x1="25.1" y1="266.2" x2="26.7" y2="266.2" stroke="#333" stroke-width="0.5" />
<text x="24.4" y="285.8" font-size="7.5" font-family='"Liberation Sans", sans-serif' text-anchor="end" fill="#333">0</text>
<line x1="25.1" y1="283.1" x2="26.7" y2="283.1" stroke="#333" stroke-width="0.5" />
<text x="24.4" y="302.7" font-size="7.5" font-family='"Liberation Sans", sans-serif' text-anchor="end" fill="#333">-5</text>
<line x1="25.1" y1="300" x2="26.7" y2="300" stroke="#333" stroke-width="0.5" />
<text x="24.4" y="319.5" font-size="7.5" font-family='"Liberation Sans", sans-serif' text-anchor="end" fill="#333">-10</text>
<line x1="25.1" y1="316.8" x2="26.7" y2="316.8" stroke="#333" stroke-width="0.5" />
<text x="24.4" y="336.4" font-size="7.5" font-family='"Liberation Sans", sans-serif' text-anchor="end" fill="#333">-15</text>
<line x1="25.1" y1="333.7" x2="26.7" y2="333.7" stroke="#333" stroke-width="0.5" />
<text x="1" y="245.7" font-size="7.9" font-family='"Liberation Sans", sans-serif' text-anchor="start" fill="#333">×<tspan dx="0.3">10</tspan><tspan dy="-3.8" font-size="5.6">-6</tspan></text>
<text x="0.9" y="251.9" font-size="7.2" font-family='"Liberation Sans", sans-serif' text-anchor="start" fill="#333">m</text>
<text x="75.1" y="345.8" font-size="7.5" font-family='"Liberation Sans", sans-serif' text-anchor="middle" fill="#333">0</text>
<text x="132.6" y="345.8" font-size="7.2" font-family='"Liberation Sans", sans-serif' text-anchor="end" fill="#333">m</text>
<rect x="137.6" y="253.1" width="4.5" height="81.1" fill="url(#cbg)"/>
<text x="144" y="323.5" font-size="7.8" font-family='"Liberation Sans", sans-serif' text-anchor="start" fill="#333">0.5</text>
<text x="144" y="310" font-size="7.8" font-family='"Liberation Sans", sans-serif' text-anchor="start" fill="#333">1</text>
<text x="144" y="296.4" font-size="7.8" font-family='"Liberation Sans", sans-serif' text-anchor="start" fill="#333">1.5</text>
<text x="144" y="282.9" font-size="7.8" font-family='"Liberation Sans", sans-serif' text-anchor="start" fill="#333">2</text>
<text x="144" y="269.4" font-size="7.8" font-family='"Liberation Sans", sans-serif' text-anchor="start" fill="#333">2.5</text>
<text x="144" y="255.9" font-size="7.8" font-family='"Liberation Sans", sans-serif' text-anchor="start" fill="#333">3</text>
<clipPath id="hcd"><rect x="196" y="238" width="107.0" height="99.0"/></clipPath>
<g clip-path="url(#hcd)"><g filter="url(#hblur)">
<g transform="translate(196 238)" shape-rendering="crispEdges" fill="none" stroke-width="1">
<rect width="107" height="99" fill="#08fff7" stroke="none"/>
<path stroke="#0008ff" d="M74.5 85v1m4-5v1m1-71v1m0 69v1m1-71v1m0 69v2m2-68v1m0 62v1m1-65v2m0 62v1m2-1v1m1-65v2m0 62v2m1-67v5m0 58v4m1-67v5m0 58v4m7-60v1m0 51v2m1-56v2m0 53v2m1-58v2m0 56v1m1-60v2m0 58v1m1-61v1m0 60v1m1-63v1m0 61v2m1-65v2m0 62v1m1-65v1m0 64v1m1-67v1m0 65v1m1-67v1m0 66v1m1-69v1m0 67v1m1-69v1m0 68v1"/>
<path stroke="#0018ff" d="M60.5 3v1m7 1v1m0 82v1m1-85v1m0 84v1m4-6v1m1-77v1m0 75v2m1-79v2m0 77v1m1-80v1m0 71v1m0 6v1m1-74v1m0 66v1m1-69v1m0 67v2m1-71v2m0 69v1m1-71v1m0 69v1m1-73v1m0 1v1m0 70v1m1-74v3m0 2v2m0 60v2m0 1v4m1-74v5m0 1v1m0 60v1m0 1v5m1-71v1m0 63v1m0 1v2m1-68v3m0 61v3m1-67v3m0 61v1m0 1v2m1-68v1m0 2v2m0 58v2m0 2v1m1-69v1m0 5v1m0 56v1m0 4v1m1-69v1m0 5v1m0 56v1m0 4v2m1-71v7m0 58v6m1-71v2m0 68v2m4-63v2m0 49v3m1-56v2m0 1v1m0 52v2m1-59v1m0 2v1m0 51v1m0 2v2m1-61v1m0 2v1m0 54v1m0 1v1m1-59v1m0 56v1m0 1v1m1-63v1m0 1v1m0 58v1m0 1v1m1-65v1m0 1v1m1 60v1m0 1v1m1-67v1m0 1v1m0 62v1m1-65v1m0 65v1m1-69v1m0 66v1m1-67v1m0 67v1m1-71v1m0 68v1"/>
<path stroke="#0028ff" d="M52.5 89v1m5-83v1m3 81v2m1-89v1m2 6v1m1-2v1m0 76v1m1 0v1m1-82v2m0 80v1m1-84v1m1-2v1m0 84v1m1-86v1m0 7v1m1-2v1m0 71v1m1-74v1m0 73v1m1-76v2m1-3v1m1 76v1m1-79v1m0 1v1m0 4v2m0 70v1m0 1v1m1-82v2m0 4v1m0 68v1m0 4v2m1-77v1m0 1v1m0 68v1m1-73v1m0 69v1m1-71v1m0 69v1m0 2v1m1-75v1m0 3v1m0 66v1m1-72v1m0 3v2m0 61v1m0 2v1m0 4v1m1-77v2m0 74v1m1-77v5m0 3v1m0 64v4m1-74v2m0 3v1m0 63v3m1-71v1m0 3v2m0 58v1m0 4v1m1-70v1m0 5v1m0 55v2m0 5v1m1-71v1m0 7v1m0 54v1m0 6v1m1-71v1m0 62v1m0 7v1m1-73v1m0 7v1m0 56v1m0 6v1m1-73v1m0 2v5m0 57v6m0 2v1m1-75v5m0 66v4m1-75v3m0 70v3m1-77v3m0 7v4m0 49v4m0 8v2m1-77v2m0 7v3m0 2v1m0 51v2m0 8v2m1-69v1m0 4v1m0 48v1m0 4v1m1-61v1m0 4v1m0 55v1m1-63v1m0 4v1m0 52v1m0 3v1m1-63v1m0 3v1m0 54v1m0 3v1m1-65v1m0 3v1m0 56v1m1-59v1m0 58v1m0 2v1m1-67v1m0 2v1m1 60v1m0 2v1m1-69v1m0 2v1m0 62v1m1-65v1m0 66v1m1-71v1m0 67v1m1-67v1m0 12v1m0 40v1m0 14v1"/>
<path stroke="#0038ff" d="M51.5 5v1m0 81v1m1-85v2m0 85v1m5-5v1m1-81v1m0 80v1m1-84v1m0 83v1m2 1v2m2-8v1m2-79v2m1 80v1m1-2v1m0 1v1m1-85v1m0 6v1m0 77v1m1-87v1m0 76v2m0 6v2m1-8v1m1-74v1m0 73v1m1-2v1m0 1v1m1-77v1m0 76v1m1-81v1m0 2v1m0 4v1m0 63v1m0 8v1m1-83v1m0 74v1m0 3v1m1-80v1m0 2v1m0 2v1m0 67v1m0 5v1m0 2v1m1-84v3m0 2v1m0 72v1m0 2v2m1-79v1m0 3v1m0 69v1m1-75v1m0 3v1m0 70v1m1-77v1m0 5v3m0 59v4m0 4v2m1-78v1m0 8v1m0 67v1m1-79v1m0 38v2m0 28v1m0 8v2m1-80v1m0 68v1m0 8v2m1-80v4m0 6v1m0 58v1m0 6v4m1-79v4m0 6v1m0 56v1m0 6v3m1-75v2m0 7v1m0 62v2m1-74v1m0 71v2m1-74v1m0 8v1m0 63v1m1-75v1m0 9v1m0 54v1m0 8v1m1-75v1m0 8v1m0 55v1m0 9v1m1-77v1m0 5v6m0 54v6m0 4v1m1-77v1m0 3v9m0 52v9m0 3v1m1-79v1m0 3v1m0 3v3m0 4v1m0 47v1m0 4v3m0 3v2m0 2v1m1-79v1m0 2v1m0 5v1m0 53v1m0 5v2m0 5v1m0 2v1m1-81v4m0 5v2m0 60v1m0 6v3m1-81v3m0 6v1m0 55v1m0 6v1m0 6v3m1-83v3m0 6v1m0 6v1m0 50v1m0 5v1m0 7v2m1-83v2m0 7v1m0 5v1m0 52v1m0 5v1m0 7v2m1-70v1m0 54v1m0 4v1m1-67v1m0 4v1m0 56v1m1-59v1m0 58v1m0 3v1m1-69v1m0 3v1m1 60v1m0 3v1m1-71v1m0 3v1m0 62v1m1-65v1m0 11v2m0 38v1m0 15v1m1-73v1m0 14v1m0 1v1m0 38v1m0 1v1m0 10v1"/>
<path stroke="#0048ff" d="M51.5 6v1m0 81v1m1-1v1m1-87v1m0 88v1m4-7v1m1-81v1m1-1v1m0 83v1m1-88v1m0 1v1m1-4v1m0 1v1m1 6v1m1 72v1m1-77v1m0 76v1m1 2v1m1-2v1m1-81v1m1 73v2m1-80v1m0 88v1m1-90v2m0 5v1m0 1v1m0 78v2m1-84v1m1-2v1m1-2v1m0 76v1m1-79v1m0 9v1m0 63v1m1-71v1m0 2v1m0 70v1m0 4v1m1-85v1m0 4v2m0 71v3m1-81v1m0 3v2m0 69v1m0 4v2m0 2v2m1-86v5m0 31v1m0 11v2m0 25v1m0 4v5m1-83v3m0 5v1m0 64v1m0 5v2m1-80v1m0 9v1m0 68v1m1-81v2m0 78v1m1-81v1m0 10v1m0 69v1m1-83v2m0 10v1m0 69v1m1-83v2m0 68v1m0 11v2m1-84v3m0 11v1m0 54v1m0 10v4m1-84v5m0 63v1m0 10v5m1-81v2m0 63v1m0 10v2m1-78v2m0 63v1m0 10v1m1-77v1m0 64v1m0 10v1m1-77v1m0 10v1m0 53v1m0 11v1m1-79v1m0 12v1m0 52v1m0 11v1m1-79v1m0 13v2m0 47v3m0 13v1m1-75v3m0 8v1m0 54v3m0 5v1m1-81v1m0 4v5m0 7v1m0 22v1m0 31v5m0 4v1m1-78v1m0 3v1m0 55v1m0 7v2m0 2v2m0 3v1m1-83v1m0 3v1m0 4v1m0 7v1m0 56v1m0 4v1m0 3v1m1-85v1m0 3v1m0 4v1m0 57v1m0 7v1m0 5v1m0 2v1m1-85v1m0 2v1m0 5v1m0 7v1m0 50v1m0 13v1m0 2v1m1-86v3m0 6v1m0 6v1m0 52v1m0 6v1m0 6v3m1-87v3m0 6v1m0 6v1m0 54v1m0 5v1m0 7v3m1-88v2m0 7v1m0 5v1m0 56v1m0 5v1m0 7v2m1-89v2m0 7v1m0 5v1m0 58v1m0 4v1m0 8v1m1-80v1m0 4v1m0 65v1m1-56v1m0 38v1m0 10v1m0 4v1m1-73v1m0 4v1m0 9v1m0 39v1m0 1v1m0 10v1m1-65v1m0 9v1m0 44v1m0 8v1m0 4v1"/>
<path stroke="#0058ff" d="M39.5 10v1m0 72v1m12-80v1m1-3v1m0 2v1m1-5v1m0 88v1m0 1v1m4-87v1m1 79v1m0 1v1m1-86v1m1 87v1m1 0v1m1-92v1m0 80v2m0 7v2m1-85v1m1 77v1m1-2v1m1-82v1m1-2v1m0 9v1m1-12v1m0 84v1m1-83v1m0 4v1m0 1v1m0 75v1m1-88v1m0 2v1m0 79v1m0 4v1m1-5v1m1-76v1m0 75v1m1-72v1m0 61v1m0 9v1m1-78v1m0 72v1m0 4v1m1-85v1m0 5v2m0 66v1m0 2v2m0 6v1m1-87v1m0 10v1m0 74v1m1-87v1m0 86v1m1-88v1m0 10v1m0 24v1m0 1v1m0 47v2m1-88v3m0 9v1m0 62v1m0 8v3m1-85v2m0 68v1m0 11v2m1-84v1m0 69v1m0 11v2m1-84v1m0 28v2m0 9v1m0 12v1m0 29v1m1-85v1m0 70v1m0 12v1m1-85v1m0 13v1m0 70v1m1-86v1m0 68v1m0 15v1m1-87v2m0 15v1m0 68v1m1-87v5m0 12v1m0 65v5m1-86v3m0 12v1m0 64v4m1-82v1m0 12v1m0 64v2m1-80v1m0 12v1m0 65v1m1-66v1m0 49v2m0 13v1m1-81v1m0 16v1m1-18v1m0 62v1m0 17v1m1-83v1m0 41v1m1-43v1m0 5v3m0 9v1m0 56v2m0 6v1m1-85v1m0 5v4m0 56v1m0 9v4m1-75v4m0 9v1m0 57v5m0 4v1m1-87v1m0 4v1m0 3v1m0 58v1m0 8v2m0 2v2m1-83v1m0 3v1m0 4v1m0 8v1m0 50v1m0 8v1m0 4v1m0 3v1m1-89v1m0 3v1m0 4v1m0 8v1m0 52v1m0 7v1m0 5v1m1-86v1m0 2v1m0 5v1m0 7v1m0 54v1m0 7v1m0 5v1m0 2v1m1-91v1m0 2v1m0 13v1m0 56v1m0 6v1m0 6v1m0 1v1m1-91v3m0 6v1m0 6v1m0 58v1m0 13v3m1-93v3m0 7v1m0 5v1m0 9v1m0 1v1m0 36v1m0 1v1m0 8v1m0 6v1m0 7v2m1-93v2m0 14v1m0 7v1m0 3v1m0 39v1m0 8v1m0 5v1m0 8v1m1-84v1m0 5v1m0 7v1m0 41v1m0 4v1"/>
<path stroke="#0068ff" d="M39.5 9v1m0 1v1m0 70v1m6-73v2m0 70v2m5-78v1m0 79v1m1-1v1m0 2v1m1 1v1m1-89v1m3 4v1m0 76v1m1-78v1m1-2v1m1 79v1m1 0v1m1 0v1m1-90v1m0 1v1m0 90v1m1-84v1m1-2v1m1-5v1m1 1v1m0 81v1m1-10v1m0 9v1m1-85v1m0 4v1m0 1v1m0 77v1m1-91v1m1 86v1m0 3v1m1-92v3m0 3v1m0 74v1m0 3v1m0 3v3m1-87v1m0 80v1m1-83v1m0 4v1m0 67v1m0 9v1m1-85v1m0 8v1m0 68v1m0 6v1m1-87v1m1 86v1m1-89v1m0 11v1m1-13v1m0 48v1m0 2v1m0 36v1m1-90v1m0 13v2m0 57v3m0 12v2m1-90v3m0 13v1m0 70v2m1-88v2m0 84v1m1-87v2m0 43v1m0 10v1m0 15v1m0 13v1m1-87v1m0 14v1m0 70v1m1-87v1m0 15v1m0 54v1m0 15v1m1-89v2m0 16v1m0 69v1m1-89v1m0 37v1m0 31v1m0 17v2m1-90v1m0 69v1m0 18v1m1-91v4m0 67v1m0 16v3m1-90v5m0 65v1m0 14v5m1-87v2m0 14v1m0 50v1m0 14v2m1-84v2m0 15v2m0 46v1m0 16v1m1-83v1m0 63v1m0 17v1m1-83v1m0 40v2m0 40v1m1-85v1m0 40v1m0 23v1m0 18v1m1-85v1m0 41v2m0 41v1m1-67v1m0 65v1m1-87v1m0 66v1m1-62v3m0 10v1m0 59v2m0 6v1m1-89v1m0 5v4m0 59v1m0 10v4m1-79v4m0 10v1m0 50v1m0 9v5m0 4v1m1-91v1m0 4v1m0 3v1m0 9v1m0 51v2m0 9v1m0 2v2m1-83v1m0 4v1m0 8v1m0 53v2m0 8v1m0 3v2m0 3v1m1-93v1m0 3v1m0 4v1m0 8v1m0 7v3m0 36v2m0 7v2m0 7v1m0 5v1m1-87v1m0 5v1m0 7v1m0 6v2m0 42v1m0 6v1m0 14v1m0 2v1m1-92v1m0 6v1m0 7v1m0 5v1m0 45v2m0 5v1m0 7v1m0 6v1m0 1v1m1-94v2m0 6v1m0 7v1m0 5v1m0 5v1m0 42v1m0 5v1m0 6v1m0 7v3"/>
<path stroke="#0078ff" d="M38.5 11v1m0 69v2m1 1v1m1-77v2m0 74v1m5-76v1m0 71v1m0 2v1m1-77v2m0 73v2m4-78v1m0 79v1m1-81v1m1 79v1m1-88v1m0 88v1m1-90v1m0 92v1m2-87v1m0 76v1m1 2v1m1-84v1m1 85v1m1-90v1m1-2v1m0 10v1m0 70v1m1-74v1m0 1v1m0 78v1m1-6v1m1-80v1m1 1v1m0 79v1m1-75v1m1 31v2m0 31v1m0 6v1m2-81v1m0 76v1m0 3v1m0 4v1m1-93v1m0 4v2m0 1v1m0 72v1m0 3v1m0 1v1m0 5v1m1-94v1m0 3v3m0 4v1m0 75v3m0 3v1m1-94v6m0 10v1m0 65v1m0 5v5m1-90v2m0 11v1m0 65v1m0 6v1m1-87v1m0 7v2m0 33v2m0 32v2m0 8v1m1-89v1m0 12v1m0 74v1m1-89v1m0 75v1m0 12v1m1-91v1m0 89v1m1-91v1m0 76v1m0 13v1m1-92v1m0 16v1m0 73v1m1-92v1m0 89v2m1-92v2m0 15v1m0 71v2m1-90v1m0 15v1m0 38v1m0 32v2m1-90v1m0 71v1m0 15v2m1-90v1m0 70v1m0 17v1m1-91v1m0 70v1m0 18v1m1-91v1m0 19v1m0 30v2m0 38v1m1-92v1m0 19v1m0 70v1m1-93v1m0 20v1m0 70v1m1-93v2m0 19v1m0 70v2m1-94v5m0 17v1m0 48v1m0 17v5m1-94v5m0 64v1m0 18v5m1-89v1m0 19v1m0 63v2m1-86v1m0 19v1m0 20v1m0 43v1m1-66v1m0 23v1m0 40v1m1-87v1m0 41v1m0 23v1m1-67v1m0 65v1m0 20v1m1-89v1m0 20v1m0 66v1m1-89v1m0 67v1m0 20v1m1-91v1m0 20v1m0 47v1m0 20v1m1-91v1m0 20v1m0 48v1m0 20v1m1-93v1m0 6v3m0 11v1m0 49v1m0 12v2m0 6v1m1-93v1m0 5v4m0 10v2m0 5v2m0 36v2m0 4v2m0 11v3m0 6v1m1-89v2m0 1v1m0 10v3m0 2v2m0 38v1m0 2v2m0 2v3m0 10v2m0 1v2m0 4v1m1-90v1m0 3v1m0 9v6m0 40v1m0 4v6m0 9v2m0 2v2m0 4v1m1-92v1m0 4v1m0 9v5m0 41v1m0 6v5m0 9v1m0 3v2m0 3v1m1-93v1m0 14v5m0 50v5m0 8v1m0 5v1m0 3v1"/>
<path stroke="#0087ff" d="M27.5 17v2m0 56v1m1-59v1m0 58v1m4-65v2m0 66v2m1-71v3m0 65v3m5-72v1m0 1v1m1-5v1m0 72v1m1 1v1m0 1v1m5-78v1m0 3v1m1-3v1m0 74v1m4-81v1m0 79v1m1-83v1m0 81v1m1-85v1m0 4v1m1 86v1m1-93v1m0 90v1m0 1v1m2-9v1m1-3v1m2-79v1m1-2v1m0 6v1m0 68v1m1-78v1m0 76v1m0 11v1m1-91v1m0 80v1m0 9v1m1-95v2m0 90v3m1-8v1m1-84v1m1-2v1m0 75v1m1-78v1m0 4v1m0 4v1m0 1v1m0 30v1m1-45v1m0 80v1m0 3v1m1-87v1m0 8v1m0 76v1m1-80v1m0 78v1m1-48v2m0 12v2m1 21v2m0 15v2m1-95v3m0 8v1m0 2v1m0 75v4m1-93v2m0 74v1m0 13v1m1-91v1m0 89v1m1-91v1m0 90v1m1-93v1m0 77v1m0 13v1m1-93v1m0 14v1m0 26v1m0 50v1m1-94v1m0 73v1m0 18v1m1-94v1m0 92v1m1-94v1m0 91v2m1-94v2m0 31v1m0 58v1m1-92v1m0 17v1m0 72v1m1-92v1m0 18v1m0 51v1m0 19v1m1-72v1m0 70v1m1-93v1m0 38v1m0 1v1m1-42v1m0 51v1m0 40v1m1-23v1m0 21v1m1-72v1m0 48v1m0 22v1m1-72v1m0 46v1m0 23v1m1-71v1m0 68v2m1-95v4m0 86v5m1-93v2m0 44v1m0 41v2m1-90v2m0 86v1m1-89v1m0 21v1m0 23v1m0 41v1m1-89v1m0 88v1m1-23v1m0 21v1m1-91v1m0 21v1m1-1v1m0 68v1m1-93v1m0 22v1m0 46v1m1-49v2m0 46v1m0 22v1m1-72v5m0 2v1m0 34v1m0 2v4m1-64v1m0 14v2m0 5v1m0 39v2m0 15v1m0 7v1m1-90v3m0 21v1m0 56v2m1-84v4m0 78v3m0 6v1m1-93v2m0 1v2m0 56v1m0 21v2m0 1v2"/>
<path stroke="#0097ff" d="M24.5 28v1m0 35v1m3-49v1m0 2v1m0 20v2m0 10v2m0 20v1m0 1v1m1-61v1m0 1v1m0 56v1m0 1v1m4-67v1m0 67v1m0 2v1m1-73v1m0 3v1m0 67v2m5-4v1m0 2v1m1-72v1m0 72v1m1-79v1m0 2v1m4-8v3m0 82v2m1-88v4m0 1v1m0 72v1m0 4v1m0 2v4m1-85v1m0 74v1m1-75v1m2-2v1m1 80v1m1-81v1m0 4v1m0 65v2m0 9v1m1-81v3m0 68v2m0 3v1m1-83v1m1-3v1m0 88v1m1-84v2m0 35v4m0 35v1m1-76v1m1-5v1m1 8v1m0 64v1m0 5v1m0 3v1m1-88v1m0 10v1m0 66v1m1-70v1m0 68v1m0 11v1m1-83v1m0 1v1m0 32v4m1 40v1m1-88v1m0 4v1m0 74v1m0 8v1m1-87v1m0 77v1m1-69v1m0 62v1m0 5v1m0 4v1m1-77v1m0 64v1m0 6v1m0 4v1m1-43v1m0 32v1m0 9v1m1-85v1m0 84v1m1-86v2m0 71v1m0 3v2m0 7v1m1-82v1m1 4v1m0 20v1m0 2v1m0 10v1m0 41v1m1-84v1m0 5v1m1 28v2m0 31v1m0 14v1m1-95v1m0 44v1m0 46v2m1-94v1m0 91v1m1-93v1m0 14v1m0 77v1m1-79v1m0 25v2m0 8v2m0 40v1m1-78v1m0 1v1m0 19v1m0 35v2m0 1v1m1 16v1m1-21v1m0 19v1m1-21v1m0 19v1m1-59v1m0 23v1m0 13v1m0 18v2m1-95v1m0 35v1m0 20v1m0 15v1m0 19v1m1-94v1m0 20v1m0 71v1m1-94v1m0 70v1m0 21v1m1-40v1m0 16v1m0 21v1m1-54v2m0 11v1m0 17v1m0 22v1m1-73v1m0 71v1m1-25v1m0 24v1m1-72v1m0 44v1m0 25v1m1-28v1m0 26v1m1-50v2m0 20v1m0 26v2m1-97v2m0 66v1m0 23v5m1-97v2m0 66v1m0 22v6m1-96v1m0 89v2m1-92v1m0 22v1m0 21v2m0 44v1m1-92v1m0 22v1m0 67v1m1-93v1m0 23v1m0 44v1m0 22v1m1-93v1m0 68v1m0 23v1m1-70v1m0 44v1m0 23v1m1-70v6m0 34v6m1 24v1m2 0v1m1-67v1m1-25v1m0 82v1m0 7v1"/>
<path stroke="#00a7ff" d="M18.5 32v1m2 13v2m4-21v1m0 1v1m0 33v1m0 1v2m1-38v1m0 34v1m2-26v1m0 2v1m0 8v1m0 2v1m0 18v1m0 3v1m1-63v1m0 3v1m0 54v1m2-49v1m0 39v2m2-58v1m0 3v1m0 31v2m0 35v1m1-75v1m0 5v1m0 62v1m5-66v1m0 84v1m1-19v1m1-62v2m0 51v3m0 11v1m1-80v1m0 77v1m3-80v1m0 3v4m0 66v4m0 3v1m0 2v1m1-90v1m0 4v1m0 6v1m0 72v2m0 4v1m1-82v1m0 74v1m1-78v1m0 74v2m2-41v3m0 37v2m1-79v1m1 3v1m0 1v1m0 66v1m0 2v1m1-78v3m0 70v1m0 2v3m0 6v1m1-83v1m0 71v2m0 4v1m1 6v1m1-52v1m0 4v1m0 35v1m2-77v1m0 4v2m0 61v2m1-71v1m0 4v1m0 64v1m0 1v1m1-69v1m0 66v1m0 11v1m1-46v2m1-4v1m0 4v1m0 33v1m0 4v1m1-85v1m0 76v1m1-79v1m0 82v1m0 3v1m0 4v1m1-92v1m0 11v1m0 71v1m0 4v2m1-92v1m0 10v1m0 62v1m0 12v1m1-89v1m0 5v1m0 6v1m1-15v1m0 42v1m0 40v1m1-86v1m0 9v1m0 68v1m0 5v1m2 8v1m1-40v1m0 19v2m0 4v1m0 13v1m1-81v1m0 79v1m1-84v2m0 31v1m0 30v1m0 3v2m0 13v1m1-80v1m0 31v1m0 45v2m1-3v2m1-1v1m1-55v1m0 12v1m0 40v1m1-78v1m0 1v1m0 30v1m0 25v1m0 17v1m1-76v1m0 75v1m1-1v1m1-51v3m0 47v1m1-77v1m0 24v1m0 50v1m1-76v1m0 14v1m0 20v1m0 37v2m1-25v1m0 22v1m1-73v1m0 16v1m0 14v1m0 39v1m1-73v1m0 28v1m0 42v1m1-73v1m0 28v1m0 43v1m1-1v1m1-73v1m1 72v1m1-72v1m0 70v1m1-72v1m0 19v1m0 2v1m0 48v1m1-73v1m0 18v1m0 52v1m1-73v1m0 18v1m0 52v1m1-98v1m0 43v1m0 23v1m0 24v6m1-99v1m0 44v1m0 2v1m0 19v1m0 24v2m1-95v1m0 92v1m1-1v1m1-70v1m0 43v1m1-44v1m0 2v2m0 34v2m0 2v1m0 25v1m1-32v1m0 30v1m1-32v1m1-1v1m0 31v1m1-33v1m1 32v1m1-68v1"/>
<path stroke="#00b7ff" d="M18.5 31v1m0 1v1m0 25v3m1-29v2m0 11v1m0 12v2m1-27v1m0 10v1m0 12v1m1-23v1m0 8v3m0 8v2m3-32v1m0 3v1m0 31v1m1-35v1m0 1v1m0 32v1m0 1v1m1-26v3m0 8v3m1-39v1m0 4v1m0 17v1m0 11v1m1-31v1m0 17v3m0 12v2m0 18v1m0 4v1m1-52v1m0 38v1m1-42v1m0 1v1m0 37v1m0 2v1m0 27v1m1-84v1m0 11v1m0 41v1m0 11v2m1-72v1m0 5v1m0 28v2m0 2v1m0 29v1m1-43v1m0 9v1m0 10v1m0 19v1m0 6v1m1-73v5m0 60v5m3-70v2m0 66v2m1-73v1m0 32v10m0 27v1m0 17v1m1-91v1m0 5v1m0 72v1m0 11v1m1-93v1m0 4v1m0 6v1m0 2v1m0 53v1m0 6v1m1-77v1m0 1v1m0 9v2m0 53v3m0 8v1m0 1v1m2-83v3m0 37v5m0 38v2m1-87v1m0 4v3m0 33v8m0 28v1m0 4v3m1-87v1m0 78v1m1-74v1m0 74v1m1-75v1m0 10v2m0 53v2m0 11v1m1-80v2m0 66v1m0 9v1m1-80v1m0 1v1m0 33v3m0 3v3m0 36v1m1-84v1m0 9v2m0 61v2m0 5v1m1-83v1m0 6v3m0 66v1m0 3v2m1-71v1m1-9v1m0 3v1m0 1v1m0 72v1m0 9v1m1-92v1m0 5v2m0 72v2m0 5v1m1-48v1m0 6v1m0 32v1m0 10v3m1-91v1m0 9v1m0 59v2m0 5v1m1-68v1m0 62v1m0 8v1m1-86v1m0 11v1m1-2v1m0 66v1m0 4v1m1-87v1m0 12v1m0 31v1m0 2v1m0 33v1m0 4v1m1-83v1m0 37v1m0 6v1m0 43v1m1-87v1m0 86v1m1-92v3m0 4v1m0 5v1m0 69v3m1-90v4m0 6v1m0 65v2m0 11v4m0 2v1m1-94v1m0 6v1m0 6v1m0 74v1m1-91v1m0 43v4m0 31v1m0 10v1m1-43v1m0 28v1m0 13v1m1-85v1m0 74v1m0 9v1m1-81v1m0 80v1m1-77v1m0 55v1m1-57v1m0 18v1m0 13v1m1-15v1m0 17v1m0 22v1m0 2v1m0 14v1m1-49v1m0 47v1m1-1v1m1-64v1m0 25v2m0 16v1m0 17v1m1-1v1m1-57v1m0 10v1m0 3v1m0 18v1m0 3v1m0 17v1m1-41v1m0 17v1m0 21v1m1 0v1m1-78v1m0 76v1m1-78v1m0 28v1m0 47v1m1-1v1m1-52v1m0 2v1m0 9v1m0 13v1m0 23v1m1-75v1m0 72v2m1-59v1m0 1v1m0 12v1m0 41v1m1-1v1m1-57v1m1 30v1m0 25v1m1-28v1m0 26v1m1-72v1m0 42v1m0 28v1m1-1v1m1-54v1m1 53v1m1-1v1m1-74v1m1-1v1m0 69v4m1-74v1m0 42v1m0 25v5m1-74v1m0 42v1m0 25v2m1-71v1m0 41v1m0 26v1m1-69v2m0 35v1m0 2v2m0 27v1m1-66v1m0 64v1m1-66v1m0 64v1m1-66v1m0 65v1m1-1v1m1-34v1m1 33v1"/>
<path stroke="#00c7ff" d="M7.5 45v3m6-26v2m0 46v2m4-41v2m0 28v1m1-32v1m0 3v1m0 11v2m0 14v1m1-31v1m0 12v1m0 1v1m0 10v1m0 2v1m1-29v1m0 1v1m0 12v1m0 8v1m0 1v1m1-39v3m0 11v1m0 1v1m0 6v1m0 3v2m0 5v1m0 2v1m0 11v3m1-52v4m0 12v4m0 12v3m0 13v3m1-47v5m0 34v5m1-64v2m0 24v1m0 35v1m0 18v3m1-86v3m0 21v1m0 34v1m0 24v3m1-88v2m0 13v1m0 21v1m0 3v1m0 6v1m0 24v2m0 13v1m1-48v1m0 11v1m0 16v1m0 5v1m1-65v1m0 22v1m0 3v1m0 10v1m0 2v1m0 16v1m1-58v2m0 8v2m0 1v1m0 36v1m0 1v1m0 8v3m0 14v3m1-72v1m0 3v1m0 65v2m0 1v1m1-87v2m0 1v1m0 9v1m0 1v1m0 39v1m0 1v1m0 9v1m0 2v1m0 14v3m1-56v1m0 5v1m0 34v1m1-77v1m0 7v1m0 17v2m0 1v2m0 5v2m0 1v2m0 6v2m0 1v1m0 17v1m0 8v1m1-76v2m0 5v7m0 11v1m0 34v7m0 5v2m3-73v1m0 84v3m1-85v1m0 25v2m0 10v2m0 30v1m0 11v1m1-77v3m0 48v3m0 5v1m1-63v1m0 4v1m0 48v1m0 4v1m0 10v1m1-79v1m0 7v1m0 2v1m0 51v1m0 14v1m1-83v3m0 78v2m1-81v1m0 35v1m0 5v2m0 35v1m0 2v1m1-76v1m0 25v3m0 8v2m0 38v1m1-78v1m0 78v1m1-94v6m0 6v1m0 6v3m0 50v3m0 12v8m1-78v1m0 2v1m0 54v1m0 7v1m1-67v2m0 55v1m0 1v1m0 7v1m0 1v1m1-71v2m0 23v1m0 9v2m0 23v2m1-69v1m0 6v1m0 23v13m0 26v1m0 9v1m1-75v1m0 75v1m1-92v1m0 78v1m1-72v1m0 3v1m0 68v1m0 3v1m0 1v1m1-80v1m0 10v1m0 25v4m0 25v1m0 7v1m0 13v1m1-97v1m0 6v1m0 2v1m0 6v2m0 23v1m0 8v1m0 23v2m0 15v2m0 3v1m1-88v1m0 4v1m0 1v1m0 60v1m0 8v1m1-84v1m0 8v1m0 69v1m1-72v1m0 71v1m0 5v1m1-90v1m0 5v1m0 3v1m1 32v1m0 4v1m0 43v1m1-85v1m0 32v1m0 37v1m1-76v1m0 6v1m0 5v1m0 55v1m0 10v1m0 2v1m1-71v1m0 56v2m0 19v1m1-82v1m0 1v1m0 78v1m1-97v2m0 34v3m0 15v3m0 22v1m0 12v2m1-59v1m0 8v1m0 4v1m0 8v1m0 33v1m1-93v1m0 7v1m0 2v1m0 31v1m0 49v1m1-85v1m0 4v1m0 69v1m1-66v1m0 53v1m1-55v1m0 20v2m0 10v2m0 21v1m0 19v1m1-84v1m0 3v1m0 25v1m0 53v1m1-85v1m0 25v1m0 17v1m0 18v1m1-59v1m0 26v1m1-11v1m0 9v1m0 13v2m0 37v1m1-66v1m0 1v1m0 61v1m1-20v1m0 18v1m1-81v1m0 2v2m0 17v1m0 35v1m0 21v1m1-1v1m2 0v1m1-1v1m1-49v1m0 6v1m0 16v1m0 23v1m1-77v1m0 12v1m0 2v1m0 6v1m0 1v2m0 49v2m1-44v1m0 41v1m1-57v1m0 10v1m0 2v1m0 40v2m1-60v1m0 3v1m0 27v1m0 25v2m1-56v1m0 11v1m0 15v1m0 25v2m1-75v1m0 73v1m1-74v1m0 72v1m2-31v1m0 30v1m1-32v1m0 30v1m1-50v1m0 17v1m1-19v1m1-1v1m1-6v1m2 22v1m0 28v3m1-73v4m0 34v3m0 28v4m1-69v1m0 65v1m1-1v1m1-1v1m2-67v1m0 66v1m1-1v1m1-35v1m0 34v1"/>
<path stroke="#00d7ff" d="M2.5 6v3m0 27v3m0 15v4m0 27v3m1-83v1m0 30v3m0 16v2m2-39v3m0 51v3m1-29v2m1-4v1m0 3v1m1-3v2m4-10v2m0 13v3m1-36v2m0 2v1m0 14v2m0 12v2m0 13v2m0 2v1m1-53v4m0 45v4m3-43v1m0 2v1m0 11v3m0 11v2m0 1v2m1-19v1m0 12v1m0 4v1m1-33v1m0 3v1m0 12v1m1-13v1m0 7v1m0 4v1m0 10v1m1-41v1m0 13v1m0 3v1m0 4v1m0 6v1m0 8v1m0 9v1m0 3v1m1-54v1m0 4v1m0 10v1m0 4v3m0 6v3m0 3v2m0 10v1m0 3v1m1-49v1m0 5v1m0 31v2m0 5v1m1-66v1m0 2v1m0 17v1m0 59v1m0 3v1m1-88v1m0 3v1m0 24v1m0 34v1m0 23v1m1-90v1m0 2v1m0 10v2m0 1v2m0 8v3m0 18v1m0 4v1m0 8v2m0 9v1m0 2v1m0 11v1m0 1v1m1-92v3m0 11v1m0 6v1m0 15v1m0 6v1m0 4v1m0 6v1m0 34v2m1-93v2m0 19v1m0 20v1m0 8v1m0 4v1m0 22v1m0 12v3m1-95v1m0 13v1m0 2v1m0 6v1m0 4v1m0 34v1m0 3v1m0 27v1m1-83v2m0 48v1m0 4v1m0 8v2m0 18v1m1-84v1m0 11v1m0 41v1m0 12v1m0 12v1m1-88v1m0 15v2m0 9v4m0 3v1m0 7v2m0 2v4m0 10v2m0 7v1m1-61v1m0 4v3m0 14v1m0 2v2m0 5v2m0 2v2m0 4v1m0 9v3m1-64v2m0 14v1m0 8v2m0 1v2m0 18v4m0 9v1m0 14v1m1-72v3m0 4v4m0 45v5m0 4v3m1-68v1m0 66v1m1-67v1m0 26v11m0 27v1m0 2v1m0 12v1m1-88v1m0 30v1m0 14v1m0 30v1m1-80v1m0 7v1m0 4v1m0 15v3m0 5v7m0 6v2m0 12v1m0 3v1m1-59v1m0 16v3m0 22v3m0 9v1m0 10v1m1-77v1m0 15v1m0 49v1m0 4v1m0 6v1m1-76v1m0 76v1m0 2v1m1-86v1m0 4v1m0 33v1m0 8v1m0 33v1m1-85v1m0 36v2m0 13v2m0 23v1m1-57v1m0 16v1m0 31v1m0 6v1m0 15v1m1-77v1m0 52v1m0 3v1m0 4v1m0 14v2m1-91v1m0 3v1m0 61v1m0 3v1m0 10v1m1-82v1m0 2v1m0 6v1m0 2v1m1-15v1m0 9v1m0 12v1m0 11v1m0 12v1m0 10v2m0 9v1m0 8v1m1-82v1m0 9v1m0 12v1m0 12v1m0 13v2m0 11v2m0 8v1m0 3v1m1-57v1m0 43v1m0 8v1m1-64v1m0 7v1m0 47v1m0 22v1m1-88v2m0 12v2m0 50v2m0 12v1m0 8v1m1-85v1m0 6v1m0 1v1m0 22v2m0 4v1m0 23v1m0 1v1m0 9v1m0 3v1m1-89v1m0 14v1m0 24v1m0 10v1m0 21v1m0 11v1m1-46v11m0 23v1m1-66v1m0 14v1m0 41v1m0 8v1m0 3v1m0 8v1m1-88v1m0 6v1m0 14v1m0 43v2m0 7v1m0 3v1m1-60v2m0 11v2m0 20v2m0 11v2m0 6v1m0 3v1m0 9v1m1-87v1m0 3v1m0 10v1m0 11v2m0 8v1m0 6v1m0 8v2m0 10v2m0 6v1m1-67v1m0 5v2m0 10v1m0 19v1m0 10v1m0 9v2m0 13v1m1-81v1m0 11v1m0 55v1m0 11v1m0 8v1m1-81v1m0 60v1m0 3v1m1-44v3m0 12v3m0 22v1m0 3v1m0 14v1m1-85v1m0 25v2m0 12v1m0 3v1m0 25v1m0 10v3m1-97v1m0 11v1m0 21v1m0 1v1m0 6v1m0 6v1m0 6v1m0 1v1m0 17v1m0 6v1m0 8v1m1-61v1m0 16v1m0 8v2m0 21v1m0 1v1m1-65v2m0 9v2m0 12v4m0 12v1m0 10v1m0 21v1m1-75v1m0 9v1m0 32v1m0 10v1m0 20v1m1-57v1m0 11v1m0 2v1m0 9v1m0 15v1m1-31v1m0 5v1m0 17v1m0 2v1m1-64v1m0 21v1m0 2v1m0 14v1m0 25v1m0 16v1m1-49v1m0 47v1m1-65v1m0 1v1m1-20v1m0 28v4m0 9v1m0 2v1m0 35v1m1-77v1m0 9v1m0 29v1m0 10v1m0 24v1m1-80v1m0 24v1m0 11v1m0 16v1m0 3v1m0 20v1m1-78v1m0 22v1m0 53v1m1-25v1m0 23v1m1 0v1m1-55v1m0 53v1m1-79v1m0 11v1m0 65v1m1-77v1m0 26v1m0 9v1m0 11v1m1-35v2m0 31v1m0 27v1m1-48v1m0 18v1m0 27v1m1-1v1m1-76v1m0 74v1m1-58v2m0 8v2m0 16v1m0 28v1m1-74v1m0 42v1m0 29v1m1-32v1m0 30v1m1-55v2m0 1v2m1 0v1m2 17v1m1-1v1m1-19v1m0 17v1m1-42v1m0 18v4m0 18v1m1-42v1m0 39v1m1-37v1m0 32v1m1-2v1m0 34v2m1-37v1m0 34v2m1-37v1m0 34v1m1-1v1m1 0v1m1-69v1m0 67v1"/>
<path stroke="#00e7ff" d="M1.5 7v4m0 72v4m1-83v2m0 3v1m0 24v2m0 3v1m0 13v1m0 4v1m0 24v2m0 3v2m1-87v2m0 1v2m0 26v2m0 3v1m0 13v2m0 2v2m0 27v5m1-72v4m0 48v4m1-58v1m0 3v2m0 48v1m0 3v2m1-61v5m0 23v2m0 2v2m0 23v5m1-29v1m1-21v3m0 12v2m0 2v1m0 12v4m1-55v4m0 15v4m0 27v5m0 15v4m1-76v5m0 68v5m0 10v2m1-62v4m0 13v4m1-36v5m0 11v1m0 2v1m0 11v1m0 3v1m0 11v4m1-53v1m0 5v1m0 12v1m0 2v1m0 10v1m0 2v1m0 11v1m0 5v1m1-55v1m0 4v2m0 13v3m0 10v2m0 14v1m0 4v2m2-72v1m0 41v4m0 40v2m1-91v5m0 24v1m0 4v1m0 13v1m0 9v1m0 30v5m1-94v2m0 27v1m0 5v1m0 12v1m0 43v3m1-65v1m0 13v1m0 12v1m0 4v1m1-43v2m0 10v1m0 23v1m0 15v1m1-54v1m0 4v1m0 8v1m0 5v1m0 1v2m0 8v1m0 1v2m0 5v1m0 13v1m0 22v2m1-80v1m0 6v1m0 8v1m0 8v1m0 3v2m0 8v1m0 8v1m0 5v1m0 24v1m1-94v4m0 13v2m0 7v1m0 7v4m0 8v4m0 6v1m0 8v1m0 14v3m1-85v1m0 4v1m0 52v1m0 6v1m0 15v1m0 5v1m1-84v1m0 18v1m0 13v3m0 7v4m0 7v1m0 24v1m0 4v1m1-87v1m0 25v1m0 6v1m0 5v1m0 3v1m0 6v1m0 6v1m0 2v1m0 7v1m0 4v1m0 9v1m0 3v1m1-90v1m0 25v1m0 6v1m0 8v1m0 2v1m0 15v1m0 14v1m0 10v1m0 2v1m1-72v1m0 3v4m0 6v1m0 6v1m0 6v1m0 6v1m0 6v3m0 4v1m0 19v1m1-91v1m0 16v1m0 4v1m0 13v3m0 14v2m0 7v1m0 5v1m0 5v1m0 3v1m0 12v1m1-93v1m0 12v1m0 9v1m0 5v1m0 47v1m0 2v1m0 12v1m1-84v1m0 12v1m0 4v1m0 16v4m0 16v1m0 17v1m0 10v1m1-79v1m0 6v1m0 2v1m0 7v1m0 4v3m0 10v2m0 4v1m0 8v1m0 2v1m0 14v1m0 11v2m1-92v1m0 10v1m0 1v2m0 3v1m0 7v1m0 6v2m0 9v2m0 7v1m0 7v1m0 3v4m0 10v1m1-80v1m0 30v1m0 15v2m0 4v1m0 7v1m0 16v1m1-74v1m0 3v4m0 4v2m0 7v1m0 26v1m0 7v1m0 5v4m0 3v1m1-70v1m0 1v1m0 8v8m0 32v8m0 8v1m0 1v1m1-72v1m0 13v6m0 10v1m0 11v2m0 9v7m0 24v1m1-88v1m0 13v3m0 13v2m0 16v2m0 12v3m0 6v1m0 7v1m0 8v1m1-81v1m0 1v2m0 4v1m0 9v2m0 3v5m0 7v6m0 2v3m0 14v4m0 8v1m0 9v1m1-93v1m0 6v1m0 10v1m0 8v1m0 3v1m0 19v2m0 3v1m0 15v1m0 2v1m1-71v1m0 5v1m0 5v1m0 9v4m0 22v4m0 15v1m0 10v1m1-85v1m0 12v2m0 26v3m0 26v3m0 7v1m1-76v1m0 4v1m0 10v4m0 11v2m0 10v2m0 11v4m0 9v2m0 4v1m0 5v1m1-76v1m0 7v4m0 10v1m0 17v2m0 9v5m0 21v1m1-78v1m0 4v2m0 1v2m0 11v3m0 1v3m0 7v7m0 12v2m0 1v2m0 21v1m1-83v1m0 3v1m0 4v1m0 47v1m0 5v1m0 2v1m0 17v2m1-94v1m0 10v1m0 4v1m0 9v2m0 28v2m0 19v1m0 14v2m1-70v3m0 10v9m0 10v4m0 8v1m0 3v1m0 9v1m1-79v1m0 8v1m0 8v1m0 1v2m0 8v1m0 14v1m0 8v1m0 2v1m0 11v1m0 9v1m1-79v1m0 1v1m0 4v1m0 7v1m0 1v2m0 9v1m0 16v1m0 9v1m0 2v1m0 12v1m0 1v1m1-83v1m0 14v1m0 6v1m0 1v2m0 10v4m0 12v3m0 11v1m0 1v2m1-50v1m0 1v2m0 44v1m0 1v2m0 5v1m1-66v1m0 5v1m0 2v1m0 10v2m0 23v2m0 11v1m0 2v1m0 5v1m1-77v1m0 2v1m0 9v1m0 13v3m0 8v1m0 7v2m0 8v3m0 9v1m0 24v1m1-96v1m0 16v1m0 8v3m0 9v1m0 12v1m0 8v3m0 12v1m0 4v1m0 8v1m0 6v1m1-94v1m0 8v1m0 3v1m0 7v3m0 11v1m0 11v2m0 11v2m0 15v1m0 13v3m1-96v1m0 8v1m0 4v1m0 6v1m0 1v1m0 39v1m0 1v1m0 13v1m1-72v1m0 11v1m0 1v1m0 10v3m0 16v3m0 12v1m0 11v2m0 7v1m1-71v1m0 12v1m0 2v1m0 18v1m0 2v1m0 9v1m0 15v1m1-72v1m0 5v1m0 1v1m0 9v1m0 2v1m0 6v1m0 8v1m0 6v1m0 2v1m0 11v1m0 9v1m0 2v1m1-66v1m0 8v1m0 1v1m0 8v1m0 18v2m0 12v1m0 9v1m0 10v1m1-90v1m0 10v1m0 11v2m0 11v4m0 2v4m0 10v3m0 8v1m0 6v1m0 5v1m1-60v2m0 35v3m0 7v1m0 22v1m1-84v1m0 11v2m0 9v1m0 14v1m0 13v2m0 7v1m0 22v1m1-75v2m0 9v1m0 5v1m0 10v1m0 5v1m0 9v1m0 7v1m0 20v2m1-90v1m0 13v2m0 12v1m0 4v1m0 13v1m0 12v2m0 10v1m0 12v2m1-87v2m0 4v1m0 5v2m0 9v1m0 1v1m0 26v1m0 8v2m0 11v1m0 10v1m1-51v1m0 4v1m0 10v1m0 1v1m0 8v1m0 1v1m0 21v1m1-67v1m0 1v1m0 30v1m0 16v1m1-67v1m0 3v1m0 10v2m0 8v1m0 3v1m0 22v1m0 7v1m0 22v1m1-70v1m0 37v2m0 13v1m0 16v1m1-85v1m0 4v1m0 7v1m0 13v5m0 4v5m0 3v1m0 9v1m0 11v1m1-45v2m0 20v2m0 39v1m1-50v1m0 10v1m0 15v1m0 21v1m1-77v1m0 12v1m0 8v1m0 53v1m1-83v1m0 3v1m0 11v1m0 29v1m0 35v1m1-82v1m0 57v1m0 22v1m1-62v1m0 60v1m1-61v2m0 2v1m0 8v1m0 1v2m0 43v1m1-26v1m1-41v3m0 21v3m0 13v1m1-37v1m0 34v1m2-17v1m1-34v1m0 18v1m1-20v1m0 31v1m1-18v1m0 11v1m1-27v1m0 15v1m0 12v1m2-28v1m1-1v1m0 19v1m0 2v1m1-24v1m1-1v1m1-1v1m1-1v1m1-1v1m1 17v1m0 21v1m1-40v3m0 33v3m1-4v1m3 35v1m1-37v1m0 35v1m3-69v1"/>
<path stroke="#00f7ff" d="M0.5 8v5m0 13v1m0 39v1m0 13v5m1-80v2m0 4v1m0 23v6m0 11v7m0 22v2m0 4v1m0 10v1m1-96v1m0 6v1m0 22v1m0 6v1m0 11v1m0 6v1m0 22v1m0 7v1m1-90v2m0 5v1m0 24v1m0 6v1m0 11v1m0 6v1m0 24v2m0 5v2m1-92v5m0 11v2m0 4v1m0 11v4m0 15v5m0 10v2m0 4v1m0 11v6m1-77v1m0 6v1m0 45v2m0 6v1m1-63v1m0 5v2m0 20v1m0 6v1m0 20v2m0 5v1m1-65v4m0 10v4m0 11v1m0 6v1m0 10v5m0 9v5m1-80v1m0 10v5m0 11v2m0 3v2m0 9v1m0 5v1m0 10v1m0 4v1m0 11v5m0 11v3m1-96v2m0 6v2m0 4v1m0 12v2m0 4v2m0 24v1m0 5v1m0 12v2m0 4v2m0 6v7m1-99v1m0 5v2m0 5v1m0 14v11m0 16v11m0 13v2m0 5v2m0 5v3m0 2v1m1-93v7m0 22v1m0 4v2m0 10v1m0 4v2m0 22v6m0 9v3m1-79v1m0 5v1m0 9v1m0 4v1m0 9v1m0 5v1m0 9v1m0 4v2m0 24v1m1-81v1m0 7v1m0 10v1m0 4v1m0 8v1m0 4v1m0 17v1m1-57v1m0 7v1m0 11v1m0 3v1m0 7v2m0 2v2m0 11v1m0 7v1m1-57v3m0 20v3m0 4v3m0 20v2m1-74v3m0 1v3m0 23v1m0 12v2m0 4v1m0 12v2m0 22v3m0 2v2m1-88v3m0 3v4m0 13v1m0 6v1m0 8v1m0 4v1m0 14v1m0 13v5m0 3v3m0 5v2m1-94v2m0 6v6m0 28v1m0 12v1m0 6v1m0 12v7m0 6v2m0 3v2m1-97v1m0 10v6m0 19v1m0 12v1m0 13v1m0 13v5m0 11v5m1-80v2m0 2v2m0 13v1m0 5v1m0 17v1m0 8v2m0 1v3m0 19v4m1-81v1m0 6v1m0 6v1m0 7v1m0 11v1m0 15v1m0 6v1m0 20v1m1-65v3m0 10v3m0 11v3m0 4v1m0 7v1m0 22v1m1-94v1m0 4v1m0 10v2m0 10v1m0 5v1m0 4v1m0 6v1m0 4v1m0 15v2m0 11v1m0 3v1m0 9v1m1-97v1m0 6v1m0 14v1m0 7v1m0 7v3m0 8v3m0 29v1m1-83v1m0 6v1m0 23v1m0 6v1m0 3v1m0 23v1m0 17v1m0 6v1m1-93v1m0 13v1m0 5v1m0 6v1m0 4v1m0 4v1m0 7v3m0 13v1m0 4v1m0 5v1m0 6v1m0 7v1m0 5v1m1-81v1m0 8v1m0 4v2m0 1v2m0 14v2m0 9v1m0 4v2m0 1v1m0 5v1m0 17v1m0 4v1m1-93v1m0 10v1m0 9v3m0 4v1m0 4v1m0 13v1m0 8v1m0 3v2m0 3v4m0 24v1m1-83v1m0 5v1m0 1v2m0 7v1m0 5v1m0 3v1m0 11v2m0 2v2m0 4v1m0 7v2m0 2v1m0 5v1m0 10v1m0 5v1m1-86v1m0 3v1m0 13v1m0 32v1m0 6v1m0 10v1m0 10v1m1-84v1m0 6v1m0 18v4m0 3v3m0 4v2m0 3v4m0 6v1m0 5v1m0 6v1m1-71v1m0 14v1m0 10v1m0 25v1m0 6v1m0 9v1m0 19v1m1-91v1m0 12v1m0 12v1m0 34v1m1-43v1m0 6v1m0 6v2m0 12v1m0 7v1m0 24v1m1-76v1m0 14v1m0 3v3m0 1v3m0 20v3m0 1v3m0 2v2m0 14v1m1-72v1m0 3v1m0 5v2m0 8v2m0 27v3m0 8v1m0 6v1m0 15v4m1-76v2m0 6v2m0 6v2m0 14v1m0 6v2m0 7v2m0 6v1m0 4v1m1-78v1m0 8v1m0 4v1m0 3v2m0 5v6m0 20v6m0 5v1m0 3v1m0 14v1m1-83v1m0 10v1m0 7v1m0 6v2m0 28v1m0 7v1m1-57v3m0 15v1m0 5v2m0 16v1m0 6v1m0 6v1m0 8v2m0 8v1m1-74v1m0 7v1m0 6v2m0 4v1m0 20v1m0 4v1m0 7v1m0 11v1m1-74v1m0 5v2m0 2v3m0 5v8m0 9v1m0 3v2m0 8v8m0 6v2m0 3v1m0 11v1m1-88v1m0 7v4m0 1v2m0 6v2m0 4v2m0 6v3m0 14v3m0 6v2m0 4v2m0 6v1m0 2v4m1-84v1m0 15v1m0 5v1m0 4v2m0 6v2m0 20v1m0 7v1m0 5v1m0 5v1m1-62v1m0 2v1m0 5v1m0 8v2m0 7v2m0 3v2m0 7v2m0 9v1m0 5v1m0 2v1m1-64v3m0 6v1m0 8v7m0 15v7m0 16v2m1-76v2m0 6v1m0 18v1m0 2v2m0 24v2m0 2v1m0 7v1m0 5v1m0 10v3m0 4v2m1-92v1m0 9v1m0 4v1m0 7v1m0 3v1m0 7v2m0 9v3m0 6v1m0 4v1m0 17v1m1-80v1m0 9v1m0 11v1m0 4v1m0 6v1m0 16v1m0 6v1m0 4v1m0 6v1m0 8v1m1-73v1m0 12v1m0 12v1m0 18v1m0 7v1m0 4v1m0 5v1m0 6v1m0 7v1m1-69v1m0 13v1m0 4v1m0 9v2m0 3v2m0 8v1m0 4v1m0 4v1m0 15v1m1-78v1m0 4v1m0 13v5m0 15v5m0 9v1m0 4v1m1-56v1m0 13v1m0 2v3m0 18v2m0 2v2m0 8v1m0 4v1m1-71v2m0 14v1m0 7v2m0 3v1m0 6v1m0 10v1m0 5v2m0 3v1m0 12v1m0 4v1m0 4v3m1-86v1m0 2v1m0 4v1m0 3v1m0 11v1m0 3v1m0 7v1m0 21v1m0 3v1m0 7v1m0 13v1m0 2v1m1-87v1m0 6v1m0 17v1m0 9v1m0 14v1m0 9v1m0 2v1m0 11v1m0 8v1m0 5v2m1-85v1m0 15v1m0 9v4m0 11v4m0 13v1m0 11v1m0 8v1m1-81v1m0 5v1m0 5v1m0 12v1m0 3v1m0 14v1m0 3v1m0 8v1m1-68v1m0 7v1m0 1v1m0 4v1m0 8v1m0 8v1m0 4v1m0 15v2m0 4v1m0 11v1m0 10v2m1-78v1m0 1v1m0 21v1m0 4v1m0 4v1m0 10v1m0 4v1m0 12v1m0 23v1m1-89v1m0 1v1m0 9v1m0 14v1m0 18v1m0 10v1m0 15v1m1-60v1m0 7v1m0 2v1m0 9v1m0 4v2m0 4v1m0 12v1m0 10v1m1-65v1m0 2v1m0 3v1m0 6v1m0 2v1m0 9v3m0 10v2m1-43v1m0 13v1m0 15v1m0 14v1m0 8v1m0 2v1m0 10v1m1-70v1m0 6v1m0 8v1m0 15v1m0 8v1m0 15v1m0 1v1m0 10v1m1-70v1m0 4v1m0 5v1m0 10v1m0 7v1m0 9v1m0 3v1m0 4v1m0 22v1m0 12v3m1-76v1m0 11v1m0 6v1m0 15v1m0 13v1m0 22v1m1-66v1m0 2v1m0 9v1m0 6v1m0 27v1m1-61v1m0 42v1m0 2v1m0 7v1m0 23v1m1-47v1m0 4v1m0 7v1m0 12v1m0 20v1m1-85v1m0 1v1m0 3v1m0 6v1m0 1v1m0 7v1m0 6v1m1-19v1m0 22v1m0 17v1m0 31v1m1-75v2m0 8v1m0 8v1m0 12v1m0 11v1m1-46v1m0 33v1m0 11v2m1-40v1m0 17v1m0 20v2m1-42v1m0 2v1m0 9v1m0 5v2m0 9v1m0 10v1m0 1v1m1-53v1m0 8v1m0 6v1m0 11v1m0 13v1m1 0v1m1-25v2m0 1v1m0 6v1m0 1v1m0 2v1m2-36v1m0 15v1m0 12v1m0 10v1m1-40v1m0 39v1m1-29v1m0 9v1m0 11v1m0 14v1m1-48v1m0 30v1m1-18v1m0 12v1m1-1v1m1 18v1m1-20v1m0 17v1m1-27v1m0 7v1m0 16v1m1-19v1m1-7v1m1-1v1m1-1v1m1-1v1m1-1v1m1 22v1m1-40v1m0 21v1m1-20v1m0 31v1m1-32v1m1-1v1m1-1v1m1-1v1m2 30v1"/>
<path stroke="#18ffe7" d="M0.5 6v1m0 8v1m0 5v2m0 8v9m0 14v8m0 8v2m0 5v2m0 8v1m0 7v1m1-94v2m0 9v2m0 7v10m0 11v1m0 6v1m0 11v9m0 8v1m0 10v2m0 2v2m1-96v1m0 11v2m0 6v7m0 3v2m0 10v1m0 7v1m0 11v2m0 2v7m0 7v1m0 12v3m1-85v1m0 5v2m0 6v2m0 4v1m0 10v1m0 18v2m0 4v2m0 6v2m0 4v2m0 12v2m1-89v1m0 6v1m0 10v1m0 4v2m0 9v2m0 6v2m0 9v2m0 3v2m0 10v1m0 5v2m0 8v5m1-94v1m0 8v1m0 11v11m0 2v3m0 9v4m0 2v10m0 12v1m0 7v2m0 5v2m1-94v2m0 9v1m0 18v2m0 7v1m0 9v1m0 7v3m0 18v1m0 8v2m0 3v2m1-94v2m0 7v1m0 8v2m0 2v2m0 7v2m0 6v1m0 9v1m0 7v1m0 7v3m0 2v2m0 7v2m0 7v1m0 5v2m1-95v3m0 1v3m0 7v1m0 7v1m0 9v1m0 5v1m0 9v1m0 6v1m0 8v1m0 7v1m0 8v3m0 1v3m0 7v1m1-83v1m0 19v2m0 2v3m0 8v3m0 1v2m0 10v1m1-53v2m0 8v1m0 16v2m0 6v2m0 16v1m0 8v1m1-78v4m0 10v2m0 5v2m0 6v5m0 8v1m0 7v1m0 9v5m0 6v2m0 4v2m0 10v4m1-90v3m0 5v7m0 10v1m0 5v1m0 15v1m0 7v1m0 6v1m0 9v7m0 6v2m0 4v2m1-92v6m0 6v1m0 18v1m0 7v1m0 21v1m0 11v1m0 5v6m0 8v1m1-95v6m0 6v2m0 10v1m0 8v1m0 7v1m0 3v1m0 8v1m0 7v1m0 11v1m0 6v7m0 7v1m1-99v2m0 6v2m0 4v3m0 10v2m0 7v3m0 16v3m0 6v2m0 11v3m0 3v3m0 6v2m1-83v2m0 5v2m0 6v2m0 7v2m0 4v1m0 9v1m0 4v2m0 8v1m0 6v3m0 5v2m0 12v2m1-80v2m0 8v1m0 8v1m0 13v1m0 15v1m0 8v1m0 21v1m1-80v1m0 8v1m0 15v1m0 12v1m0 17v2m0 22v1m1-97v2m0 3v2m0 11v2m0 6v1m0 8v1m0 5v1m0 20v1m0 7v2m0 10v3m0 3v2m1-92v1m0 7v3m0 14v1m0 4v1m0 7v1m0 3v1m0 25v1m0 14v2m0 8v1m1-86v5m0 2v2m0 9v1m0 4v1m0 30v1m0 14v1m0 3v5m0 8v1m1-90v1m0 4v2m0 5v1m0 11v1m0 34v1m0 17v1m0 4v2m0 6v1m1-94v1m0 8v1m0 6v1m0 15v3m0 7v1m0 3v1m0 8v3m0 15v1m0 6v1m0 7v1m1-90v1m0 9v1m0 6v2m0 2v1m0 10v1m0 4v1m0 10v1m0 5v1m0 14v1m0 3v2m0 5v2m0 9v1m0 5v1m1-89v5m0 4v2m0 3v1m0 8v1m0 11v1m0 2v1m0 6v1m0 17v1m0 5v5m0 9v1m1-87v1m0 4v1m0 12v1m0 7v2m0 1v1m0 20v1m0 1v1m0 7v1m0 3v1m0 8v1m0 5v1m0 7v1m1-83v1m0 10v1m0 1v1m0 41v3m0 18v1m0 6v1m1-93v1m0 8v1m0 32v3m1-36v1m0 19v2m0 9v1m0 6v1m0 8v2m0 29v1m1-74v1m0 14v3m0 5v4m0 5v4m0 5v4m0 9v1m0 10v1m0 8v1m1-84v1m0 13v1m0 7v4m0 26v3m0 13v1m0 8v1m0 6v1m1-87v1m0 14v1m0 6v1m0 2v1m0 29v1m0 2v1m0 10v1m0 11v1m0 6v1m1-90v1m0 21v1m0 3v1m0 30v1m0 3v1m0 21v1m0 7v3m1-94v1m0 21v1m0 2v1m0 32v1m0 2v1m0 21v1m1-83v1m0 32v4m0 7v4m0 32v2m0 6v3m1-96v1m0 5v3m0 7v3m0 15v5m0 4v6m0 4v5m0 15v3m0 6v1m0 1v2m0 4v2m1-92v1m0 3v3m0 8v1m0 3v1m0 14v2m0 20v2m0 14v1m0 3v1m0 8v3m0 2v2m1-89v1m0 12v2m0 55v3m0 11v1m0 4v1m1-90v1m0 20v1m0 3v1m0 33v2m0 2v1m1-39v1m0 10v5m0 4v5m0 14v1m0 20v1m1-78v1m0 1v1m0 10v1m0 1v2m0 9v1m0 5v5m0 6v1m0 9v1m0 1v2m0 10v1m0 1v1m0 7v1m1-79v1m0 1v2m0 23v4m0 9v5m0 23v1m0 2v1m0 7v1m1-90v1m0 16v4m0 50v3m1-57v3m0 9v4m0 26v3m0 10v3m0 18v1m1-68v5m0 29v5m0 31v1m1-73v1m0 2v2m0 12v1m0 7v2m0 11v2m0 3v1m1-57v1m0 1v1m0 8v1m0 3v2m0 9v6m0 6v6m0 9v1m0 4v1m0 10v1m1-79v1m0 10v1m0 11v1m0 8v3m0 17v4m0 8v1m0 3v1m0 17v1m0 8v1m1-96v1m0 9v1m0 6v1m0 3v1m0 8v4m0 20v4m0 12v1m0 6v1m0 1v1m1-64v1m0 2v1m0 7v2m0 3v1m0 22v1m0 3v1m0 7v1m0 3v1m0 16v1m1-92v1m0 17v1m0 1v1m0 7v1m0 5v1m0 9v5m0 10v1m0 4v1m0 7v4m1-59v2m0 7v1m0 5v1m0 8v1m0 10v1m0 7v2m0 13v2m1-62v2m0 7v1m0 5v1m0 8v15m0 9v1m0 12v3m1-66v1m0 1v1m0 6v1m0 5v1m0 36v1m0 12v1m0 1v1m0 17v1m1-87v3m0 11v1m0 7v4m0 17v5m0 7v1m0 4v1m0 6v2m1-62v1m0 4v1m0 6v1m0 5v1m0 18v1m0 5v1m1-62v1m0 16v1m0 16v1m0 7v1m0 6v1m0 6v1m0 6v1m0 5v1m0 21v1m0 3v3m1-99v1m0 20v1m0 19v1m0 10v1m0 6v1m0 6v1m0 9v1m1-57v1m0 4v1m0 15v11m0 9v1m0 15v1m1-48v1m0 7v2m0 14v1m0 8v1m0 5v1m0 4v1m0 20v1m1-82v1m0 2v1m0 4v1m0 16v1m0 13v1m0 4v1m1-45v1m0 17v1m0 6v1m0 26v1m0 5v1m0 4v1m0 1v1m1-67v2m0 15v1m0 12v1m0 6v1m0 4v1m0 17v1m0 5v1m1-56v1m0 39v1m1-21v1m0 3v2m0 9v1m0 6v1m0 3v1m1-46v1m0 6v1m0 43v1m1-57v1m0 36v1m0 4v1m0 6v1m1-55v1m0 13v1m0 4v1m0 16v1m0 22v1m0 22v2m1-58v1m0 1v1m0 5v1m0 2v1m0 45v1m1-85v1m0 1v1m0 20v1m0 24v1m0 3v1m0 31v1m1-70v1m0 19v1m1 8v1m0 15v1m1-8v1m1-46v1m0 20v1m0 17v1m1-19v1m0 28v1m1-56v1m0 16v2m0 12v1m0 2v1m0 6v1m0 4v1m0 10v2m1-45v1m0 12v1m0 19v1m1-9v1m0 6v1m0 1v1m1-39v2m0 8v1m0 11v1m0 14v1m0 1v1m1-47v1m0 23v1m0 3v2m2-28v1m0 20v1m1-6v1m0 11v1m1-9v1m0 1v1m0 6v1m0 17v1m1-27v1m0 25v1m1-46v1m0 18v1m1 24v1m1-15v1m0 12v1m1-27v1m0 7v1m0 2v1m0 13v1m1-25v1m0 2v1m2 4v1m1-24v1m0 22v1m1-24v1m0 22v1m1-24v1m1 37v1m1-36v2m0 11v1m0 18v1m1-14v1m1 11v1m1-1v1m1-1v1m3-31v1m1-1v1"/>
<path stroke="#28ffd7" d="M0.5 0v1m0 3v2m0 10v5m0 51v5m0 11v2m0 3v2m1-95v2m0 13v1m0 4v2m0 22v2m0 1v3m0 21v3m0 3v2m0 13v2m1-80v6m0 7v3m0 13v1m0 20v2m0 7v7m1-68v5m0 10v4m0 12v1m0 6v1m0 12v4m0 10v4m1-72v6m0 12v4m0 13v6m0 13v3m0 13v5m1-78v2m0 4v2m0 23v2m0 16v2m0 23v1m0 5v1m0 9v3m1-95v2m0 5v2m0 21v2m0 4v1m0 11v2m0 4v1m0 22v1m0 6v1m0 7v3m1-95v2m0 3v2m0 11v2m0 11v1m0 16v1m0 5v1m0 11v2m0 11v1m0 4v2m0 8v1m1-93v1m0 11v2m0 4v1m0 11v1m0 3v1m0 11v1m0 4v1m0 10v1m0 5v1m0 12v1m1-71v1m0 7v1m0 12v2m0 14v1m0 13v1m0 7v1m1-60v1m0 5v2m0 19v2m0 2v2m0 19v1m0 6v1m1-61v5m0 22v1m0 29v4m1-77v3m0 26v1m0 13v1m0 15v1m0 4v1m0 25v4m1-93v3m0 6v6m0 12v1m0 15v1m0 4v1m0 8v1m0 19v5m0 6v4m0 1v3m1-97v3m0 6v6m0 13v1m0 6v1m0 9v3m0 10v1m0 5v1m0 13v6m0 7v7m1-88v4m0 15v2m0 3v2m0 22v2m0 2v2m0 16v3m0 11v5m1-79v6m0 11v4m0 11v4m0 11v6m0 24v2m1-80v1m0 6v1m0 10v1m0 4v1m0 13v1m0 17v1m0 23v1m1-80v1m0 17v1m0 12v1m0 15v1m0 6v1m1-70v3m0 15v2m0 3v1m0 22v1m0 14v2m0 2v3m0 15v3m1-89v1m0 4v2m0 18v1m0 12v1m0 1v1m0 9v1m0 2v1m0 8v1m0 3v1m0 17v2m0 4v2m1-87v2m0 5v2m0 15v1m0 32v1m0 2v1m0 11v3m0 5v2m0 5v1m1-90v1m0 7v1m0 3v1m0 59v2m0 2v2m0 7v1m0 4v1m1-94v1m0 10v1m0 4v1m0 27v3m0 28v1m0 4v1m0 9v1m0 3v2m1-97v1m0 11v6m0 2v2m0 15v1m0 6v1m0 3v1m0 10v1m0 11v3m0 2v5m0 12v1m0 3v1m1-77v1m0 1v1m0 13v1m0 8v2m0 8v1m0 2v1m0 9v4m0 21v1m1-87v1m0 2v1m0 10v3m0 10v1m0 22v1m0 9v3m0 10v2m0 2v1m1-81v1m0 18v1m0 56v1m1-78v1m0 76v1m0 7v1m0 7v1m1-95v1m0 40v2m0 2v2m0 31v1m1-80v1m0 7v1m0 10v1m0 22v5m0 26v1m1-75v1m0 5v1m0 9v1m0 53v1m0 19v1m1-92v1m0 4v1m0 12v1m0 1v1m0 8v2m0 31v2m0 8v3m0 13v1m0 4v1m1-90v1m0 23v3m0 32v3m0 28v2m1-92v1m0 23v2m0 34v2m0 23v1m0 5v4m1-99v6m0 37v7m0 38v6m0 3v2m1-97v5m0 77v1m0 2v4m1-89v3m0 12v3m0 54v1m0 1v1m0 12v2m1-91v4m0 85v4m1-67v3m0 36v2m0 22v1m0 5v1m1-71v2m0 1v1m0 35v2m0 1v1m1-65v1m0 9v1m0 12v1m0 12v5m0 5v6m0 11v1m0 13v1m1-69v1m0 67v2m1 10v1m2 5v1m1-73v2m0 15v2m0 3v2m0 15v3m1-55v1m0 10v3m0 17v6m0 16v4m0 9v2m1-79v1m0 8v1m0 10v4m0 42v1m0 1v1m0 8v1m0 2v1m0 7v1m0 6v1m1-87v2m0 8v3m0 45v4m0 8v1m0 8v1m1-71v2m0 10v3m0 24v3m0 9v3m1-55v1m0 9v2m0 1v2m0 26v1m0 2v1m0 29v1m1-67v1m0 2v2m0 10v2m0 6v2m0 10v1m0 2v2m0 28v1m1-71v1m0 2v2m0 34v1m0 3v1m1-55v1m0 8v1m0 3v1m0 38v1m0 3v1m0 8v1m1-59v1m0 3v1m1 6v1m0 2v2m0 20v2m0 2v1m0 7v1m0 3v1m1-74v1m0 21v1m0 6v1m0 4v1m0 9v6m0 8v1m0 15v1m0 18v3m1-79v1m0 9v1m0 5v1m0 8v1m0 8v1m0 8v1m0 11v1m0 20v1m1-78v1m0 14v1m0 35v1m0 5v1m0 20v1m1-80v1m0 2v1m0 5v1m1 3v1m0 6v1m0 2v1m0 15v1m0 2v1m0 7v1m0 4v1m0 5v1m0 1v1m0 18v1m1-83v1m0 5v1m0 32v1m0 5v1m0 17v1m0 19v1m1-79v1m0 4v1m0 5v1m0 5v1m0 11v1m0 6v1m0 5v1m1-34v1m0 5v1m0 7v1m0 6v1m0 7v1m0 10v1m0 4v1m1-48v1m0 5v1m0 11v3m0 27v1m1-55v1m0 39v1m0 5v1m1-52v1m0 7v1m0 5v1m0 5v1m0 4v1m0 10v1m0 20v1m1-16v1m0 11v1m1-54v1m0 15v1m0 6v1m0 3v1m0 8v1m0 6v1m0 4v1m0 5v1m0 6v1m1-64v1m0 15v1m0 17v1m0 6v1m0 20v2m1-54v1m0 9v1m0 8v1m0 28v1m1-50v1m0 40v1m1-48v1m0 4v1m0 2v1m0 6v1m0 8v1m0 12v1m1 12v1m0 2v1m1-55v1m0 2v1m0 15v1m1-19v1m0 17v1m0 8v1m0 10v2m1 13v1m1-51v1m0 5v1m0 2v1m0 13v1m1-16v1m0 26v1m1-14v1m0 1v1m0 1v1m1-11v1m0 5v1m0 17v1m0 10v1m1-18v1m0 14v1m1-39v1m0 36v1m1-30v2m0 11v1m0 3v1m1-2v1m1-20v1m1-13v1m1 0v1m0 11v1m0 10v1m1-6v1m1-18v1m0 18v2m0 3v1m1-25v1m1-1v1m3 22v1m0 14v1m1-38v2m0 20v1m0 13v1m1-15v1m0 10v1m1-19v1m0 17v1m4-1v1m4-31v1"/>
<path stroke="#38ffc7" d="M0.5 1v3m0 86v3m1-77v4m0 26v1m0 27v3m1-33v1m0 3v2m1-6v1m0 3v2m2-42v4m0 69v5m1-80v5m0 25v4m0 14v4m0 24v6m1-82v3m0 27v1m0 2v2m0 12v1m0 3v1m0 26v4m1-68v4m0 13v3m0 13v4m0 12v5m1-56v1m0 4v2m0 44v1m0 4v2m1-58v2m0 1v2m0 23v2m0 22v2m0 2v2m1-32v1m0 4v1m1-20v4m0 10v1m0 4v1m0 10v4m1-64v1m0 28v1m0 4v1m0 10v1m0 2v1m0 10v1m0 4v1m0 28v1m1-65v1m0 4v1m0 28v1m1-33v3m0 26v2m2-42v2m0 3v1m0 12v1m0 2v1m0 9v1m0 3v1m0 11v2m0 3v2m1-54v2m0 3v2m0 15v1m0 24v1m0 4v1m1-49v3m0 15v1m0 12v1m0 11v2m1-67v4m0 21v3m0 10v1m0 11v2m0 10v3m0 20v4m1-91v2m0 2v2m0 21v3m0 34v2m0 22v2m0 1v2m1-93v4m0 9v3m0 62v2m0 10v4m1-94v1m0 12v4m0 60v4m0 11v3m1-61v3m0 8v3m0 8v3m0 35v3m1-75v1m0 11v3m0 20v2m0 36v1m1-87v2m0 72v2m0 10v1m1-90v1m0 4v1m0 75v1m0 8v1m1 1v1m1-88v1m0 34v2m0 41v1m1-87v1m0 5v1m0 8v1m0 1v1m0 51v1m0 1v1m0 8v1m0 6v1m1-89v2m0 2v1m0 14v1m0 53v1m0 10v2m0 2v1m1-90v4m0 14v1m0 69v4m1-93v4m0 85v5m1-94v4m0 86v5m3-20v1m2-73v1m0 86v1m0 3v1m1-92v1m0 23v1m0 38v1m0 30v1m1-8v1m1-89v1m2 92v1m2-51v3m2-47v1m0 10v2m0 55v1m0 10v2m0 9v2m0 3v1m1-95v1m0 88v1m1-91v1m0 90v1m1-62v1m0 29v2m1-35v2m0 14v6m0 13v2m1-39v2m0 37v3m0 29v1m1-74v3m0 40v3m1-48v3m0 43v4m1-52v1m0 2v1m0 9v2m0 24v2m0 9v1m0 1v1m1-54v1m0 1v1m0 8v1m0 2v1m0 25v1m0 2v2m0 7v1m1-54v1m0 1v1m0 7v1m0 3v1m0 10v2m0 4v2m0 10v1m0 3v1m0 9v1m0 18v1m0 3v1m1-80v1m0 6v1m0 3v1m0 31v1m0 11v1m0 1v1m0 18v1m1-80v2m0 11v1m0 34v1m0 3v1m0 6v1m0 1v1m0 18v1m1-82v2m0 6v1m0 3v1m0 8v2m0 17v2m0 20v1m1-52v1m0 6v1m0 4v1m0 16v1m0 3v1m0 7v1m0 3v1m1-36v1m0 7v1m0 3v1m0 12v1m0 6v1m1-50v1m0 3v1m0 10v1m0 14v1m0 13v1m1-46v1m0 3v1m0 37v1m0 4v1m1-49v1m0 8v1m0 4v1m0 40v1m1-36v1m0 18v1m0 6v1m1-46v1m0 4v1m0 11v1m0 5v1m0 10v1m0 11v1m0 12v1m1-63v1m0 23v1m0 5v1m0 2v1m0 27v1m1-51v1m0 9v1m0 24v1m0 10v1m1-25v1m0 9v1m0 4v1m1-45v1m0 8v1m0 5v1m1 3v1m0 21v1m0 9v1m1-46v1m0 5v1m0 18v1m0 5v1m0 18v1m1-46v1m0 19v1m0 18v1m0 3v1m0 1v1m1-47v1m0 7v1m0 3v1m0 4v2m0 4v1m0 2v1m0 14v1m1-43v1m0 7v1m0 24v1m2-36v1m0 17v1m0 27v1m1-47v1m0 9v2m0 8v1m0 3v1m0 4v2m1-36v1m1 1v1m0 26v1m2-27v1m0 23v1m0 3v1m1-29v1m1 43v1m1-32v1m1 17v1m0 10v1m1-40v1m0 12v1m0 7v1m0 4v1m2-12v1m3 22v1m1-38v1m1 1v2m0 30v2m1-32v1m1-1v1m0 17v1m1-19v1m0 10v7m1-18v1m1-1v1m2 28v1m1-1v1"/>
<path stroke="#48ffb7" d="M2.5 45v3m1-3v3m4-11v2m0 15v3m2-38v4m0 47v4m1-54v1m0 51v2m1-29v4m1-4v1m0 2v1m1-19v1m0 2v1m0 12v2m0 12v1m0 2v1m1-34v4m0 25v4m3-41v3m0 14v2m0 11v3m0 14v3m1-50v3m0 13v1m0 12v1m0 3v1m0 12v4m1-34v1m0 12v1m2-50v2m0 86v1m4 5v3m1-3v1m1-15v1m0 3v1m0 10v1m1-93v1m0 5v1m0 70v1m0 5v1m1-85v1m0 77v1m1-79v1m0 14v1m0 53v1m0 10v1m0 4v1m1-86v2m0 12v1m0 1v1m0 51v1m0 15v2m8-90v3m0 88v3m1-4v1m2 0v1m1-92v1m0 92v1m1 2v1m4-97v1m0 92v3m1-95v1m2 92v1m5-74v2m0 48v1m1-52v1m0 10v2m0 27v2m0 10v2m1-55v1m0 9v3m0 13v4m0 13v3m0 8v2m0 20v3m1-81v2m0 8v1m0 1v1m0 33v1m0 2v1m0 8v1m0 20v1m1-72v1m0 2v1m0 36v1m0 1v1m0 8v1m0 20v1m1-32v1m0 2v1m0 28v1m1-77v1m0 2v1m0 8v4m0 18v3m1-35v1m0 7v1m0 2v1m0 9v3m0 9v1m0 14v1m1-43v1m0 13v1m0 14v1m0 10v1m1-43v1m0 3v1m0 28v1m0 9v1m1-52v1m0 41v1m0 3v1m0 8v1m1-57v1m0 18v1m0 1v1m0 12v1m0 1v1m0 12v1m0 5v1m0 1v1m1-61v2m0 10v1m0 28v1m0 17v1m1-60v1m0 5v1m0 4v1m0 6v1m0 3v1m0 7v2m0 6v1m0 4v1m0 17v1m1-57v1m0 10v1m0 11v1m0 12v1m0 9v1m1-48v1m0 9v1m0 14v1m0 22v1m1-10v1m0 9v1m1-19v1m0 14v1m1-49v1m0 2v1m0 40v1m1-45v2m0 4v1m0 31v1m0 6v1m1-41v1m0 14v3m0 13v1m1-33v1m0 9v1m0 15v1m0 8v1m1-22v1m0 25v1m0 3v1m1-4v1m0 3v1m1-41v1m0 10v1m0 18v1m0 8v2m0 4v1m1-42v1m0 18v1m0 4v1m1-25v1m0 37v1m1-46v1m0 17v1m0 11v1m0 6v1m1-27v1m0 9v1m1 3v1m1-1v1m0 6v1m1-31v1m0 22v1m0 17v1m1-41v1m0 16v1m1-6v1m0 5v1m1-5v1m0 23v1m1-15v1m0 13v1m1-24v1m0 22v1m1-24v1m0 22v1m1-38v1m1 0v1m0 34v1m1-33v1m0 28v1m3-12v1m3-19v1m1-1v1m2 28v1m1-1v1"/>
<path stroke="#58ffa7" d="M12.5 46v2m1-17v2m0 28v2m5-24v1m0 1v1m0 10v1m0 1v1m1-16v1m0 1v1m0 10v1m0 1v1m7 42v2m1-92v4m0 72v3m0 12v1m1-89v1m0 76v1m1-83v1m0 4v1m0 72v1m0 4v1m1-84v4m0 76v4m1-70v1m0 53v2m9-73v1m0 88v1m0 4v1m1-95v1m0 88v1m0 6v1m1-98v1m2 95v1m5-6v1m0 5v1m1-99v1m0 92v1m2 2v1m1 1v1m6-71v1m0 35v2m0 31v2m1-73v2m0 38v1m0 31v1m1-75v3m0 40v2m1-46v2m0 43v1m0 1v1m1-50v1m0 1v1m0 9v2m0 23v3m0 8v1m1-50v1m0 1v1m0 8v3m0 11v1m0 2v1m0 11v3m0 10v1m1-55v1m0 1v1m0 7v1m0 1v1m0 30v3m0 7v1m0 1v1m1-57v1m0 8v1m0 2v1m0 42v1m1-57v2m0 6v1m0 3v1m0 9v1m0 14v1m0 20v1m1-40v1m0 3v1m0 12v1m0 11v1m0 3v1m0 6v1m1-42v1m0 1v1m0 17v2m0 1v1m0 7v1m1-34v1m0 1v1m0 12v1m0 9v1m0 1v1m1-27v1m0 12v1m0 14v1m1-30v1m0 30v1m1-43v1m0 4v1m0 4v1m0 8v1m0 12v1m0 19v1m1-38v1m0 34v1m1-36v1m0 4v1m0 31v1m1-22v1m0 10v1m1 0v1m1-18v1m1-28v1m0 8v1m0 5v1m0 11v1m1-28v1m0 3v1m0 16v1m0 11v1m0 10v1m1-44v1m0 1v1m0 43v2m0 1v1m1-48v1m0 13v1m2 8v1m1-4v1m0 23v1m1-44v1m3 21v1m0 6v1m0 10v1m1-14v1m2-25v1m1-1v1m1 13v1m0 21v1m1-35v2m0 10v1m0 19v2m1-22v1m1-1v1m0 17v1m1-19v1m0 17v1m1-1v1m1-18v2m0 3v3m4-19v1m1-1v1"/>
<path stroke="#68ff97" d="M18.5 40v1m0 12v1m1-14v1m0 12v1m9-48v1m0 76v1m0 2v1m1-81v1m0 2v1m0 74v1m0 2v1m11-87v1m0 93v1m2-4v1m1 1v1m1 3v1m5-99v1m0 92v1m0 3v1m2-3v1m1 1v1m10-29v1m1-48v1m0 47v2m1-51v1m0 24v2m0 23v2m1-53v1m0 9v1m0 42v1m1-55v1m0 8v2m0 33v3m0 8v1m1-47v1m0 35v1m0 2v1m1-44v1m0 12v1m0 1v1m0 14v1m0 1v1m1-31v1m0 9v1m0 20v1m0 12v1m1-46v1m0 8v1m0 10v1m0 13v1m1-36v1m0 6v1m0 14v1m0 12v1m1-37v1m0 5v1m0 30v1m0 12v1m1-55v1m0 19v2m0 11v2m0 7v1m0 9v1m1-52v1m0 9v1m0 11v1m0 24v1m0 6v1m3-42v1m0 1v1m0 9v1m0 12v1m0 1v1m1-35v1m0 4v1m0 25v1m0 13v1m1-27v1m1-18v1m0 6v1m0 3v1m0 11v1m0 6v1m0 5v1m0 3v1m1-46v1m0 1v1m0 12v1m0 23v1m0 7v1m2-32v1m0 11v1m1-6v1m0 11v1m0 9v1m1-33v1m1 7v1m0 22v1m1-24v1m0 11v1m0 9v1m1-30v1m0 10v1m0 16v1m1-38v1m0 9v1m0 7v1m1-19v1m1-1v1m1 22v1m2-23v1m1 2v1m0 28v1m1-2v1m3-19v1m1-1v1m0 2v3m0 12v1m1-19v2m0 5v2m0 9v1m5-29v1m0 7v1m0 11v2"/>
<path stroke="#78ff87" d="M28.5 7v3m0 74v2m1-79v2m0 76v2m11-87v1m0 91v3m1-94v1m0 90v1m0 4v1m1-98v1m1 94v1m6-2v3m1-3v1m17-69v2m0 37v2m1-40v1m0 10v1m0 16v1m0 10v1m0 1v1m1-46v1m0 43v1m1-22v2m0 20v1m0 2v1m1-40v2m0 26v2m0 7v1m0 2v1m1-53v1m0 9v1m0 1v1m0 30v1m0 6v1m1-43v1m0 2v1m0 33v1m1-47v1m0 6v1m0 24v1m0 3v1m0 17v1m1-45v1m0 21v1m0 3v1m0 12v1m1-41v1m0 40v1m1-43v1m0 6v1m0 12v1m0 11v1m0 10v1m1-26v1m1-21v1m0 31v1m0 4v1m1-39v1m0 4v6m0 6v1m0 11v1m0 5v5m0 7v1m1-5v1m1-26v1m0 19v1m0 5v1m1-38v1m0 36v1m2-44v1m1 0v1m1 0v1m1 0v1m0 16v1m0 10v1m1-2v1m1-16v1m1 0v1m1 22v1m1-36v1m0 21v1m0 12v1m1-35v1m0 20v1m0 10v2m1-13v1m0 8v1m1-28v1m0 17v1m1-19v1m0 17v1m1-19v1m0 17v1m1-19v1m0 17v1m1-1v1m1-8v1m0 6v1m1-10v2m0 6v2m0 8v1m1-20v2m0 8v1m0 8v1m1-20v1m0 9v2m0 7v1m1-21v2m0 10v1m1-14v1m0 1v1"/>
<path stroke="#87ff78" d="M41.5 0v1m0 92v1m0 2v1m1-4v1m0 4v1m1-3v3m7-4v1m0 2v1m1-3v1m1 1v1m16-74v2m0 40v1m1-44v2m0 43v1m1-48v1m0 1v1m1-4v1m1 0v1m0 8v1m0 29v2m1-43v2m0 8v1m0 31v1m0 1v1m0 7v2m1-36v1m0 24v1m1-39v1m0 12v1m0 25v1m2-42v1m0 22v1m0 19v1m1-45v1m0 38v1m0 5v1m1-37v1m0 14v2m0 20v1m0 2v1m1-50v1m0 17v1m0 11v1m0 16v1m1-44v1m0 3v1m0 11v1m1-18v1m0 28v1m1-14v1m0 11v1m1-29v1m0 8v1m1 13v1m0 8v1m1-22v1m1 11v1m0 16v1m2-29v1m1 15v1m0 10v1m1-13v1m0 11v1m1-24v1m2-11v2m0 27v2m1-29v1m5-1v1m1-1v1m0 7v1m0 3v1m0 2v1m1-16v1m0 7v1m0 7v1m1 0v1m0 1v1m1-13v1m0 1v1m1-1v1m0 8v1m0 1v1m0 6v1m1-10v1m0 2v1m0 5v1"/>
<path stroke="#97ff68" d="M41.5 94v2m1-2v4m8-2v2m1-1v2m18-31v1m1-46v1m0 45v2m1-49v2m0 46v2m1-51v1m0 49v2m1-44v1m0 33v1m1-37v1m0 1v1m0 11v1m0 24v1m1-26v1m1-18v1m0 40v1m2-34v1m0 2v1m0 11v1m1-26v1m0 12v1m0 25v1m1-39v1m0 46v1m1-17v1m0 11v1m1-16v1m1-27v1m0 14v1m0 11v1m1 6v1m1 7v1m1-20v1m0 17v1m1-39v1m0 7v1m1 9v2m0 16v1m1-9v1m0 7v1m1-26v1m0 14v1m1-26v1m1-1v1m1 0v1m0 32v1m1-31v1m1 25v1m1-1v1m1-1v1m2-19v1m1-1v1m1 4v2m0 4v1m1-9v1m0 7v1m1-20v1m0 6v1m0 2v1m1-11v1m0 16v1m0 2v1m1-21v1m0 5v1m1-7v1m0 4v1m0 3v1"/>
<path stroke="#a7ff58" d="M74.5 28v1m0 23v1m0 1v1m0 9v2m1-38v1m0 10v1m0 12v1m0 1v1m0 12v1m1-41v1m0 40v1m1-43v1m0 42v1m1-45v1m0 20v1m0 11v1m0 11v1m1-47v1m0 7v1m0 36v2m2-44v1m0 23v1m0 11v1m1-25v1m1 22v1m1-30v1m0 26v1m1-16v1m1-19v1m1 17v1m0 18v1m1-29v1m1-8v1m1-1v1m0 8v1m0 16v1m1-16v1m1 11v1m0 10v1m1-33v3m0 7v1m0 18v3m1-22v1m0 17v1m1-26v1m2 6v1m1-1v1m0 17v1m1-1v1m1-8v1m0 6v1m2-20v1m0 7v1m1 0v1m0 3v1m1-15v1m0 3v1m1 6v1m0 3v1m1 0v1m0 3v1"/>
<path stroke="#b7ff48" d="M74.5 39v2m0 12v1m1-28v2m0 12v1m0 12v1m0 11v2m1-42v1m0 40v1m1-43v1m0 42v1m1-45v2m0 8v2m0 25v1m0 7v2m1-47v1m0 34v1m0 1v1m2-32v1m0 9v1m1-10v1m0 36v1m2-36v1m0 28v1m0 5v1m1-42v1m0 8v1m0 11v1m1-20v1m0 16v1m0 11v1m0 7v1m1-37v1m0 17v1m0 9v1m1-29v1m1 6v1m1-1v2m0 18v1m1-4v1m0 9v1m1-34v1m1 3v1m0 24v1m1-26v1m1 6v1m1-8v1m0 6v1m1-8v1m1-1v1m1 17v1m2-13v1m0 18v1m1-15v1m0 1v1m0 5v1m0 5v1m1-16v1m0 14v1m1-6v1m0 4v1m1-22v1m0 4v1m0 15v1m1-26v1m0 2v1m0 12v1"/>
<path stroke="#c7ff38" d="M76.5 26v1m0 40v1m1-43v1m0 42v1m1-10v1m1-27v2m0 24v1m2-32v1m0 12v1m0 10v2m0 10v2m1-40v1m0 14v1m0 11v1m3-8v1m0 19v1m1-3v1m1-19v1m1 10v1m1-1v1m1-1v1m0 5v1m1-34v1m0 8v1m1-9v4m0 5v1m0 17v5m1-11v1m0 5v1m1-7v1m0 5v1m1-1v1m2-7v1m1-1v1m1-19v1m1-1v1m0 5v1m1-7v1m1-1v1m0 11v1m1-13v1m0 4v1m0 8v1m1-15v1m0 14v1m1-16v1m0 20v1m1-21v2m0 6v1m0 12v3"/>
<path stroke="#d7ff28" d="M81.5 40v1m1-1v1m0 11v1m0 10v1m1-34v1m0 36v1m1-42v1m0 4v1m1-5v1m0 30v1m1-30v1m0 16v2m1 15v1m1-1v1m1-29v1m0 27v1m1-34v1m0 4v1m1-2v5m0 15v5m0 3v1m1-28v1m0 21v1m1-23v1m1-1v1m1 16v1m1-1v1m0 5v1m1-1v1m2-19v1m2 12v1m1-15v1m1 5v1m0 8v1m1-17v1m0 5v1m0 10v1m1-21v1m0 1v1m0 11v1m0 6v1m0 1v1"/>
<path stroke="#e7ff18" d="M84.5 62v1m1 2v1m1-31v1m0 27v1m1-34v1m0 4v1m1-6v1m0 4v1m1-6v1m1 27v1m1-28v1m0 1v1m0 25v3m1-26v1m0 16v1m1-14v1m0 16v1m2-23v1m1-1v1m2 4v1m0 17v1m1-1v1m1-6v1m2 0v1m0 3v1m1-21v1m0 7v2m0 10v1m1-24v1m0 1v1m0 10v1m0 9v1m1-23v1m0 7v1m0 12v1m1-9v1"/>
<path stroke="#f7ff08" d="M82.5 29v1m0 36v1m1-41v1m0 36v1m1-34v1m1-3v3m0 3v1m0 27v3m1-35v1m2 27v1m1-1v1m1-25v1m0 24v1m0 2v1m1-31v1m1 4v1m0 1v1m0 14v3m1-21v1m0 16v1m1-14v1m0 16v1m1-18v1m1-1v1m1-6v1m0 4v1m2 12v1m1 4v1m1-20v1m0 18v1m1-24v1m1-1v1m0 19v1m1-20v1m0 8v1m0 10v2"/>
<path stroke="#fff700" d="M82.5 27v1m2 35v1m0 2v1m1-36v2m0 26v1m0 1v1m1-4v1m0 3v1m1-5v1m0 3v1m1-1v1m1-29v1m0 27v1m1-32v1m0 1v1m0 26v2m2-24v1m1 17v1m1-21v1m0 16v1m1 3v1m3-23v1m0 17v1m1-19v1m1-1v1m0 3v1m1-5v1m0 18v1m1-17v1m0 16v1m1-20v2m0 18v2m1-12v2m1 0v1m1-5v1"/>
<path stroke="#ffe700" d="M82.5 28v1m0 35v2m1 0v1m1-40v1m1 5v1m0 26v1m1-30v1m1-1v1m1-1v1m0 2v1m1-4v1m0 27v1m1-28v1m3 4v1m0 1v1m0 14v2m2-20v1m0 16v1m1-1v1m0 3v1m1-5v1m0 3v1m2-19v1m1 14v1m1-17v1m0 18v1m1-22v2m0 18v2m3-13v1m0 1v1m1 0v1"/>
<path stroke="#ffd700" d="M83.5 29v1m1-2v2m0 34v2m2-34v1m0 1v1m0 24v1m0 1v1m1-28v1m1 24v1m0 1v1m1-30v2m0 26v2m4-24v1m1-2v1m0 1v1m0 16v1m2-21v1m1-1v1m1 2v1m0 17v1m1-4v1m0 2v1m1-22v1m0 1v1m0 18v1m1-22v2m0 17v2m4-11v1m1-2v1"/>
<path stroke="#ffc700" d="M83.5 27v1m0 36v1m3-32v1m0 26v1m1-29v1m0 26v1m0 1v1m1-30v2m0 26v1m6-23v1m0 15v2m1-19v1m0 1v1m0 14v1m0 1v1m1-18v1m0 16v1m1-18v1m1-4v1m0 17v1m1-19v1m0 1v1m1-2v1m0 17v2m6-11v2"/>
<path stroke="#ffb700" d="M83.5 28v1m0 36v1m4-33v1m0 26v1m8-23v1m0 16v1m1-19v2m0 15v2m1-19v2m0 15v1m0 1v1m1-20v2m0 16v2m1-20v1m0 17v2"/>
<path stroke="#ffa700" d="M97.5 55v1"/>
</g></g></g>
<rect x="196" y="238" width="107.0" height="99.0" fill="none" stroke="#2a4a6a" stroke-opacity="0.45" stroke-width="0.7"/>
<path d="M214.90,293.23 V276.38 A33.70,33.70 0 0 1 282.30,276.38 V293.23 A33.70,33.70 0 0 1 214.90,293.23 Z" fill="none" stroke="#1a1a1a" stroke-width="0.5" stroke-opacity="0.7"/>
<text x="195.7" y="270.6" font-size="7.5" font-family='"Liberation Sans", sans-serif' text-anchor="end" fill="#333">5</text>
<line x1="196.4" y1="267.9" x2="198" y2="267.9" stroke="#333" stroke-width="0.5" />
<text x="195.7" y="287.5" font-size="7.5" font-family='"Liberation Sans", sans-serif' text-anchor="end" fill="#333">0</text>
<line x1="196.4" y1="284.8" x2="198" y2="284.8" stroke="#333" stroke-width="0.5" />
<text x="195.7" y="304.4" font-size="7.5" font-family='"Liberation Sans", sans-serif' text-anchor="end" fill="#333">-5</text>
<line x1="196.4" y1="301.7" x2="198" y2="301.7" stroke="#333" stroke-width="0.5" />
<text x="195.7" y="321.2" font-size="7.5" font-family='"Liberation Sans", sans-serif' text-anchor="end" fill="#333">-10</text>
<line x1="196.4" y1="318.5" x2="198" y2="318.5" stroke="#333" stroke-width="0.5" />
<text x="195.7" y="338.1" font-size="7.5" font-family='"Liberation Sans", sans-serif' text-anchor="end" fill="#333">-15</text>
<line x1="196.4" y1="335.4" x2="198" y2="335.4" stroke="#333" stroke-width="0.5" />
<text x="172.3" y="245.7" font-size="7.9" font-family='"Liberation Sans", sans-serif' text-anchor="start" fill="#333">×<tspan dx="0.3">10</tspan><tspan dy="-3.8" font-size="5.6">-6</tspan></text>
<text x="172.2" y="251.9" font-size="7.2" font-family='"Liberation Sans", sans-serif' text-anchor="start" fill="#333">m</text>
<text x="249.1" y="345.8" font-size="7.5" font-family='"Liberation Sans", sans-serif' text-anchor="middle" fill="#333">0</text>
<text x="302.9" y="345.8" font-size="7.2" font-family='"Liberation Sans", sans-serif' text-anchor="end" fill="#333">m</text>
<rect x="308.1" y="252.6" width="4.3" height="81.6" fill="url(#cbg)"/>
<text x="314.3" y="322.7" font-size="7.8" font-family='"Liberation Sans", sans-serif' text-anchor="start" fill="#333">0.5</text>
<text x="314.3" y="308.4" font-size="7.8" font-family='"Liberation Sans", sans-serif' text-anchor="start" fill="#333">1</text>
<text x="314.3" y="294.1" font-size="7.8" font-family='"Liberation Sans", sans-serif' text-anchor="start" fill="#333">1.5</text>
<text x="314.3" y="279.7" font-size="7.8" font-family='"Liberation Sans", sans-serif' text-anchor="start" fill="#333">2</text>
<text x="314.3" y="265.4" font-size="7.8" font-family='"Liberation Sans", sans-serif' text-anchor="start" fill="#333">2.5</text>
<clipPath id="hce"><rect x="366" y="238" width="106.0" height="99.0"/></clipPath>
<g clip-path="url(#hce)"><g filter="url(#hblur)">
<g transform="translate(366 238)" shape-rendering="crispEdges" fill="none" stroke-width="1">
<rect width="106" height="99" fill="#00f7ff" stroke="none"/>
<path stroke="#0008ff" d="M71.5 9v1m1 75v1m4-74v1m0 69v1m1-71v1m0 68v2m1-71v2m0 67v2m1-71v2m0 67v2m1-71v3m0 65v2m1-70v3m0 65v2m1-69v2m0 64v3m9-65v1m0 59v1m1-62v1m0 61v1m1-64v1m0 63v1m11-61v1m1 55v1"/>
<path stroke="#0018ff" d="M60.5 89v1m1 0v1m3-83v1m1-2v1m1-2v1m0 80v1m1-82v1m0 81v1m1-1v1m2-80v1m0 74v1m1-1v2m1-78v2m1-2v2m0 75v2m1-79v2m0 74v3m1-79v5m0 68v6m1-78v3m0 69v1m0 1v3m1-76v2m0 1v1m0 69v2m1-75v2m0 68v1m0 2v1m1-73v1m0 2v1m0 65v1m0 2v1m1-73v1m0 67v1m0 2v2m1-73v1m0 3v1m0 63v1m0 2v2m1-73v2m0 2v1m0 62v1m0 3v2m1-73v5m0 62v6m1-74v6m0 63v5m1-74v2m0 71v1m5-68v3m0 56v3m1-63v2m0 1v1m0 57v1m0 1v1m1-64v1m0 1v1m0 59v1m0 1v1m1-66v1m0 1v1m0 61v1m0 1v1m1-68v3m0 63v2m1-68v2m0 64v3m1-70v2m0 66v2m1-70v2m0 67v2m1-72v2m0 69v1m1-72v1m0 70v2m1-74v2m0 34v2m0 35v1m1-74v1m0 10v1m0 24v2m0 25v1m0 10v1m1-76v1m0 10v2m0 51v2m0 9v1m1-76v1m0 9v2m0 52v2m0 10v1m1-78v1m0 9v1m0 1v1m0 53v2m1-58v2m0 56v1m0 9v1"/>
<path stroke="#0028ff" d="M53.5 89v1m1-87v1m0 86v1m1-89v1m0 88v2m4-87v1m0 81v1m1-85v2m1-3v2m1-2v1m0 87v1m2-6v1m1-1v2m1-81v1m0 80v1m1-84v1m0 81v1m1-83v2m0 82v1m1-85v1m0 4v1m0 73v1m0 4v1m1-80v1m0 74v1m1-78v1m0 1v1m0 75v1m1-80v1m0 2v1m0 73v1m0 1v1m1-80v1m0 2v1m0 73v1m1-78v1m0 2v4m0 67v3m0 3v1m1-81v1m0 5v1m0 73v1m1-81v2m0 4v1m0 72v2m1-81v3m0 70v1m0 4v3m1-81v3m0 4v1m0 64v1m0 4v3m1-79v3m0 4v1m0 63v1m0 4v3m1-78v2m0 4v1m0 62v1m0 5v2m1-77v2m0 5v1m0 61v1m0 5v1m1-75v1m0 5v1m0 67v1m1-76v2m0 5v1m0 67v1m1-76v1m0 6v1m0 61v1m0 5v1m1-76v1m0 2v4m0 62v5m0 1v2m1-78v5m0 69v4m1-78v3m0 73v3m1-80v3m0 75v2m1-80v2m0 7v4m0 55v4m0 7v2m1-81v1m0 7v1m0 3v1m0 58v2m0 6v2m1-82v1m0 7v1m0 4v1m0 55v1m0 3v1m1-66v1m0 3v1m0 57v1m0 3v1m1-68v1m0 3v1m0 59v1m1-62v1m0 61v1m0 2v1m1-70v1m0 2v1m1-2v1m0 64v1m0 2v1m1-72v1m0 68v1m0 2v1m1-71v1m0 67v1m0 1v1m1-74v1m0 1v1m0 71v1m1-64v2m0 25v1m0 23v2m0 8v1m0 1v1m1-76v1m0 1v1m0 8v1m0 1v1m0 25v1m0 23v1m0 1v1m0 8v1m0 1v1m1-76v1m0 8v1m0 52v1m0 12v1m1-78v1m0 12v1m0 53v1m0 8v1m0 1v1m1-78v1m0 66v1m0 8v2m1-80v2m0 8v1m0 56v1m0 10v1m0 1v1"/>
<path stroke="#0038ff" d="M53.5 4v2m1-2v1m0 86v1m2-91v1m2 5v1m0 79v1m1-83v1m1 84v1m1 0v1m1-90v1m0 89v1m1-91v1m0 6v1m0 75v1m0 6v1m1-8v1m3-79v1m0 81v1m1-86v1m0 82v1m1-84v1m0 1v1m0 2v1m0 73v1m0 4v1m0 1v1m1-87v2m0 2v1m0 77v1m0 1v2m1-83v1m0 79v1m1-1v1m1-82v1m0 4v2m0 69v2m0 3v1m1-82v1m0 81v1m1-83v1m0 40v1m0 32v1m0 7v1m1-83v1m0 73v1m0 7v1m1-83v1m0 7v1m0 73v1m1-83v1m0 8v1m0 71v2m1-83v2m0 70v1m0 8v2m1-83v3m0 7v1m0 69v3m1-83v3m0 76v3m1-80v2m0 67v1m0 7v2m1-79v1m0 68v1m0 7v2m1-79v1m0 68v1m0 7v2m1-79v1m0 7v1m0 60v1m0 8v1m1-80v1m0 5v4m0 60v5m0 4v1m1-80v1m0 3v7m0 59v7m0 3v1m1-78v2m0 2v6m0 54v7m0 2v2m0 2v1m1-82v1m0 2v1m0 4v2m0 4v1m0 53v1m0 4v2m0 3v2m1-80v1m0 1v1m0 5v1m0 59v1m0 5v1m0 4v1m0 2v1m1-84v1m0 1v1m0 5v1m0 66v1m0 5v3m1-84v3m0 5v1m0 5v1m0 55v1m0 5v1m0 5v3m1-86v3m0 5v1m0 5v1m0 57v1m0 4v1m0 6v2m1-86v2m0 6v1m0 4v1m0 59v1m0 4v1m0 6v2m1-87v1m0 6v1m0 4v1m0 61v1m0 3v1m0 7v1m1-80v1m0 3v1m0 67v1m1-74v1m0 3v1m0 64v1m1-70v1m0 69v1m0 3v1m1-76v1m0 3v1m0 7v3m0 47v2m0 8v1m1-73v1m0 2v1m0 7v1m0 2v1m0 47v1m0 2v1m0 10v1m1-78v1m0 10v1m0 51v1m0 10v1m1-75v1m0 2v1m0 6v1m0 3v1m0 52v1m0 7v1m0 2v1m1-80v1m0 2v1m0 7v1m0 53v1m0 3v1m0 6v1m1-77v1m0 2v1m0 6v1m0 3v1m0 51v1m0 10v1m0 2v1m1-82v1m0 2v1m0 10v1m0 56v1"/>
<path stroke="#0048ff" d="M47.5 90v1m5-3v1m1 1v1m2-88v1m1 88v2m3-7v1m0 1v1m1-2v1m1 0v1m1 0v1m1-90v1m0 89v1m1-85v1m1-2v1m0 1v1m1-4v1m0 80v1m2-80v1m0 3v1m0 71v1m0 6v1m1-88v1m0 3v2m0 2v1m0 73v3m1-85v1m0 2v2m0 75v1m0 3v1m0 2v1m1-87v3m0 76v1m0 4v3m1-86v2m0 4v1m0 71v1m0 4v2m1-85v1m0 7v1m0 66v2m0 6v2m1-85v1m0 74v1m0 8v1m1-85v1m0 40v1m0 42v1m1-85v1m0 8v1m0 74v1m1-85v1m0 9v1m0 63v1m0 9v1m1-85v1m0 72v1m0 10v1m1-86v2m0 10v1m0 72v1m1-86v2m0 71v1m0 11v1m1-86v2m0 11v1m0 59v1m0 10v3m1-87v4m0 9v1m0 69v4m1-86v3m0 9v1m0 69v3m1-84v2m0 9v1m0 69v1m1-82v2m0 9v1m0 69v1m1-82v1m0 10v2m0 57v1m0 10v1m1-82v1m0 11v2m0 55v2m0 11v1m1-83v1m0 5v2m0 6v1m0 60v2m0 5v1m1-84v1m0 4v4m0 67v3m0 4v1m1-84v1m0 3v5m0 6v1m0 60v4m0 4v1m1-86v1m0 3v2m0 2v1m0 7v1m0 53v1m0 6v2m0 2v1m0 3v1m1-86v1m0 3v1m0 3v1m0 61v1m0 7v1m0 3v1m0 3v1m1-84v1m0 3v1m0 7v1m0 55v1m0 6v1m0 4v1m0 2v1m1-88v1m0 2v1m0 4v1m0 6v1m0 57v1m0 6v1m0 4v1m0 2v1m1-89v1m0 1v1m0 11v1m0 58v2m0 5v1m0 5v1m0 1v1m1-90v3m0 5v1m0 5v1m0 60v2m0 11v2m1-90v2m0 11v1m0 62v1m0 5v1m0 6v2m1-91v1m0 6v1m0 4v1m0 6v3m0 46v3m0 6v1m0 12v1m1-79v1m0 5v1m0 25v3m0 21v1m0 2v2m0 5v1m0 4v1m1-78v1m0 4v1m0 5v1m0 25v1m0 29v1m0 5v1m1-70v1m0 5v1m0 4v1m0 21v1m0 29v1m0 5v1m0 4v1m1-80v1m0 4v1m0 33v3m0 27v1m0 5v1m1-72v1m0 5v1m0 4v1m0 54v1m0 9v1m1-82v1m0 9v1m0 60v1m0 5v1m1-74v1m0 5v1m0 56v1m0 4v1m0 5v1m0 3v1"/>
<path stroke="#0058ff" d="M46.5 89v1m1-87v2m1-3v2m0 87v1m4-87v2m1 81v1m2-88v1m1-2v1m0 1v1m2 3v1m0 79v1m2-84v1m1-2v1m1-2v1m0 2v1m0 79v1m1-82v1m0 4v1m0 84v1m1-94v2m0 85v1m0 4v2m1-6v1m1 0v1m1-86v1m0 81v1m0 3v1m1-88v1m0 4v1m0 1v1m0 71v1m0 3v1m1 4v1m1-90v1m0 8v1m0 79v1m1-90v2m0 7v1m0 79v1m1-89v2m0 36v2m0 9v1m0 29v1m0 7v2m1-89v2m0 85v1m1-87v1m0 9v1m0 75v1m1-87v1m0 9v1m0 33v1m0 41v1m1-87v1m0 74v1m0 10v1m1-87v1m0 73v1m0 11v1m1-87v1m0 11v1m0 24v2m0 9v2m0 36v1m1-88v1m0 73v1m0 12v1m1-88v1m0 13v1m0 72v1m1-88v1m0 87v1m1-89v1m0 72v1m0 14v1m1-89v2m0 71v1m0 13v2m1-89v3m0 12v1m0 57v1m0 11v4m1-88v2m0 12v1m0 57v1m0 11v3m1-86v1m0 13v1m0 55v1m0 12v2m1-85v1m0 14v1m0 53v1m0 14v1m1-85v1m0 67v1m0 15v1m1-17v1m0 15v1m1-86v1m0 68v1m1-64v2m0 71v2m0 5v1m1-88v1m0 5v3m0 8v1m0 62v3m1-83v1m0 4v3m0 63v1m0 8v4m0 4v1m1-90v1m0 4v4m0 8v1m0 55v1m0 8v1m0 1v2m1-86v1m0 3v1m0 2v2m0 7v1m0 56v1m0 8v1m0 2v2m0 3v1m1-92v1m0 3v1m0 3v1m0 7v2m0 57v1m0 7v1m0 3v2m0 2v1m1-92v1m0 2v1m0 4v1m0 6v2m0 4v3m0 45v3m0 3v2m0 7v1m0 3v2m0 2v1m1-93v1m0 1v1m0 4v1m0 6v2m0 2v2m0 3v1m0 48v3m0 1v2m0 6v1m0 4v2m0 1v1m1-94v3m0 5v1m0 6v1m0 2v2m0 4v1m0 20v1m0 29v1m0 3v1m0 6v1m0 5v2m1-94v2m0 12v1m0 2v2m0 30v1m0 20v1m0 5v1m0 2v2m0 5v1m0 6v2m1-88v1m0 5v1m0 3v1m0 31v1m0 26v2m0 2v1m1-68v1m0 2v2m0 27v1m0 25v1m0 5v1m0 3v1m0 5v1m1-82v1m0 5v1m0 3v1m0 61v1m0 3v1m1-72v1m0 60v1m0 5v1m0 3v1m0 5v1m1-84v1m0 9v1m0 5v1m0 57v1m0 3v1"/>
<path stroke="#0068ff" d="M45.5 5v1m0 82v1m1-85v2m1 83v1m0 1v1m1-82v1m0 73v1m0 5v1m0 1v1m4-4v1m2-88v1m0 7v1m0 72v1m0 5v1m1 0v1m0 2v1m2-94v1m0 7v1m0 77v1m0 7v1m1-7v1m1-85v1m0 2v1m1-2v1m0 84v1m1-87v1m0 86v1m1-84v2m0 82v1m1-94v1m0 83v1m0 1v1m0 3v1m1-89v1m0 6v1m0 84v1m1-95v1m0 4v1m0 35v2m0 9v1m1-49v1m0 3v1m1-1v1m0 3v1m0 69v1m1-74v1m0 36v2m0 36v2m0 5v1m1-90v1m1 89v1m1-1v1m1-92v2m0 9v2m0 37v1m0 1v1m0 26v2m0 10v1m1-91v1m0 11v1m0 76v2m1-91v2m0 87v2m1-91v2m0 33v1m0 19v1m0 21v1m0 11v1m1-90v2m0 11v1m0 75v1m1-89v1m0 12v1m0 74v1m1-89v1m0 27v1m0 19v1m0 11v1m0 13v1m0 13v1m1-90v1m0 14v1m0 73v1m1-90v1m0 88v1m1-90v1m0 73v1m0 15v1m1-91v1m0 15v1m0 73v1m1-92v2m0 15v1m0 73v1m1-92v2m0 72v1m0 16v1m1-92v3m0 15v1m0 55v1m0 15v3m1-93v4m0 15v1m0 53v1m0 15v3m1-90v2m0 16v1m0 51v1m0 16v1m1-87v1m0 16v1m0 68v1m1-87v1m0 16v1m0 18v2m0 11v1m0 36v1m1-88v1m0 17v1m0 68v1m1-88v1m0 69v1m0 17v1m1-19v1m0 17v1m1-90v1m0 17v1m1-1v1m0 53v1m0 10v1m0 6v1m1-92v1m0 5v2m0 10v2m0 53v1m0 10v2m1-81v3m0 10v6m0 45v6m0 9v3m0 5v1m1-94v1m0 4v4m0 9v4m0 47v1m0 3v3m0 10v3m1-89v1m0 3v2m0 1v1m0 9v2m0 27v3m0 27v1m0 9v2m0 1v1m0 4v1m1-92v1m0 3v1m0 8v2m0 31v1m0 26v3m0 8v1m0 2v2m0 2v1m1-93v1m0 4v1m0 7v2m0 7v1m0 52v2m0 8v1m0 3v2m0 2v1m1-96v2m0 4v1m0 7v3m0 53v1m0 7v2m0 7v1m0 4v4m1-96v1m0 5v1m0 7v2m0 7v1m0 25v1m0 28v3m0 7v1m0 5v2m1-83v3m0 30v3m0 22v1m0 7v3m0 6v1m0 6v1m1-91v1m0 6v4m0 6v1m0 56v3m1-71v4m0 57v1m0 7v3m0 6v1"/>
<path stroke="#0078ff" d="M43.5 7v2m0 77v1m1-81v2m0 79v2m1-83v1m0 82v1m1-2v1m0 1v1m1-86v1m1-5v1m0 2v1m0 4v1m0 73v1m1-83v1m0 6v1m0 76v1m2-80v1m2-4v1m0 2v1m0 4v2m0 69v1m1-72v1m0 72v1m1-76v1m0 74v1m1-76v1m0 75v1m0 5v1m0 2v1m1-94v1m0 5v1m0 85v1m1-86v1m1 81v1m2-81v1m0 72v1m1 1v1m0 3v1m1-86v1m0 89v1m1-92v1m0 2v1m0 81v1m0 2v1m1-91v2m0 1v1m0 46v1m0 1v1m0 31v1m0 3v1m0 2v4m1-6v1m1-88v1m0 7v1m0 69v1m0 9v1m1-90v1m0 9v1m0 24v1m0 10v1m0 8v1m1-23v2m0 9v3m0 9v1m0 23v1m0 9v1m1-92v1m0 91v1m1-93v1m0 80v1m0 10v1m1-80v1m0 28v1m0 49v1m1-94v2m0 91v1m1-94v2m0 91v1m1-93v1m0 34v1m0 19v1m0 35v2m1-93v1m0 76v1m0 13v2m1-93v2m0 89v1m1-92v2m0 14v1m0 22v1m0 2v1m0 18v1m0 29v1m1-92v1m0 30v1m0 9v2m0 7v2m0 8v1m0 30v1m1-92v1m0 74v1m0 15v1m1-92v1m0 16v1m0 74v1m1-93v1m0 91v1m1-94v1m0 74v1m0 17v1m1-94v1m0 18v1m0 73v1m1-94v1m0 73v1m0 19v1m1-95v1m0 72v1m0 19v2m1-95v3m0 88v4m1-94v3m0 36v2m0 11v2m0 36v3m1-92v2m0 48v1m0 1v1m0 36v1m1-90v1m0 38v1m0 10v2m0 37v1m1-90v1m0 18v1m1-20v1m0 18v1m0 70v1m1-72v1m0 51v1m0 18v1m1-92v1m0 19v1m0 51v1m1-53v1m0 50v2m0 19v1m1-94v1m0 68v1m1 24v1m1-89v1m0 38v1m0 3v1m0 19v1m0 18v1m1-85v3m0 62v1m0 18v2m0 5v1m1-93v4m0 81v3m1-89v4m0 18v1m0 63v4m0 4v1m1-96v1m0 3v1m0 64v1m0 18v1m0 2v2m0 2v1m1-97v1m0 4v1m0 17v1m0 21v1m0 43v1m0 3v2m0 1v1m1-93v1m0 66v1m0 17v1m0 5v3m1-94v1m0 17v1m0 67v1m0 5v2"/>
<path stroke="#0087ff" d="M37.5 8v2m0 75v2m1-80v1m0 78v2m5-3v1m0 1v1m1-73v1m3-14v1m1 8v1m0 73v1m1-86v1m0 1v1m0 6v1m0 76v1m0 5v2m2-7v2m1-85v1m0 82v1m1-5v1m1-79v1m0 86v1m1-89v1m0 5v1m0 74v1m1-83v1m0 4v1m1 76v1m0 1v1m0 4v1m0 2v1m1-91v1m1 35v1m0 10v2m0 27v1m1-80v1m0 8v1m0 70v1m1-82v1m0 9v1m0 72v1m0 3v1m1-89v1m0 4v1m0 77v1m1-77v1m0 2v1m0 23v2m0 23v1m0 29v1m1-86v2m0 83v2m0 4v1m1-93v1m0 36v1m0 49v2m1-92v4m0 8v2m0 67v1m0 9v5m1-95v2m0 80v1m0 1v1m0 6v1m1-92v1m0 34v1m0 19v1m0 1v1m0 33v1m1-92v1m0 35v1m0 19v1m0 1v1m0 33v1m1-94v1m0 81v1m1-83v1m0 11v1m0 29v1m0 9v1m0 41v1m1-95v1m0 30v1m0 8v1m0 21v2m0 15v1m0 14v1m1-16v1m0 14v1m1-16v1m0 14v1m1-95v1m0 14v1m0 42v1m0 35v1m1-95v1m0 15v1m0 77v1m1-95v1m0 76v1m0 15v2m1-95v1m0 29v1m0 1v1m0 21v1m0 38v2m1-95v1m0 40v1m0 20v1m0 13v1m0 16v1m1-94v1m0 17v1m0 74v1m1-94v1m0 74v1m1-76v1m0 46v1m0 27v1m0 18v1m1-76v1m0 74v1m1-21v1m0 19v1m1-75v1m0 74v1m1-75v1m0 73v1m1-24v1m0 22v1m1-96v1m0 38v1m0 12v1m0 19v1m0 21v3m1-97v2m0 40v1m0 29v1m0 19v4m1-95v1m0 38v1m0 1v1m0 29v1m0 19v2m1-93v1m0 70v1m0 19v1m1-92v1m0 91v1m1-93v1m0 70v1m0 20v1m1-94v1m0 21v1m0 49v1m0 20v1m1-94v1m0 21v3m0 44v3m1-47v1m0 68v1m1-70v1m1-1v1m0 69v1m2-52v1m0 24v1m0 26v1m1-53v1m1-43v3m0 19v1m0 65v2m0 5v1m1-97v4m0 44v1m0 20v1m0 19v3m0 4v1m1-98v2m0 1v1m0 19v1m0 66v2m0 1v2m0 3v1m1-96v1m0 67v1m0 19v1m0 2v2m0 2v1"/>
<path stroke="#0097ff" d="M31.5 41v3m0 7v2m2-40v2m0 64v3m2 14v2m1-89v1m0 36v3m0 35v1m0 13v1m1-92v1m0 76v1m1-79v1m0 1v1m0 6v2m0 61v1m3-33v3m1-41v3m0 73v2m1-80v1m0 2v1m0 6v1m0 61v1m1-74v1m0 8v1m0 1v1m0 61v2m0 6v1m1-83v1m0 82v1m1-85v1m0 2v1m1 4v2m0 69v2m0 4v1m1-81v1m0 73v1m0 6v1m0 3v1m1-91v1m0 3v1m0 76v1m0 6v1m0 2v1m1-88v1m0 78v2m1-83v1m0 1v1m0 39v1m1-35v1m0 67v1m0 8v1m1-10v1m0 9v1m1-83v1m0 29v3m0 11v3m0 26v1m1-83v1m1 83v1m0 1v1m1-85v1m0 6v1m1-10v1m0 13v1m0 65v1m0 8v1m0 4v2m1-93v1m0 8v2m0 26v1m0 1v1m0 8v1m0 2v1m0 27v1m0 3v1m0 4v1m1-80v1m0 27v2m0 11v2m0 28v1m0 3v1m0 4v1m1 0v1m1-86v1m0 38v1m0 46v1m1-90v2m0 29v1m0 21v1m0 1v1m0 26v2m1-5v1m1-76v1m0 4v1m0 28v1m0 10v1m0 25v1m0 15v1m1-12v1m0 10v1m1-97v1m0 8v2m0 2v1m0 70v1m0 8v3m1-96v1m0 37v1m0 6v1m0 47v2m1-95v1m0 11v1m0 32v1m0 10v1m0 37v1m1-83v1m0 81v1m1-82v3m0 25v1m0 1v1m0 7v1m0 1v1m0 25v3m1-67v1m0 14v1m0 1v1m0 62v1m1-1v1m1-81v1m0 20v2m0 7v4m0 7v3m0 36v1m1-58v1m0 6v1m0 49v1m1-1v1m1-79v1m0 77v1m1-46v1m0 25v1m0 18v1m1-78v1m0 14v1m0 16v1m0 2v1m0 40v2m1-2v2m1-2v2m1-77v1m0 26v1m0 48v1m1-50v2m0 26v1m0 20v1m1-76v1m0 74v1m1-75v1m0 51v1m1-2v1m0 23v1m1-75v1m0 17v1m0 13v1m0 41v1m1-75v1m0 19v1m0 54v1m1-76v1m0 16v1m0 56v2m1-98v1m0 21v1m0 31v1m0 39v4m1-98v1m0 21v1m0 18v1m0 10v1m0 40v5m1-98v1m0 21v1m0 49v1m0 21v1m1-95v1m0 21v1m0 71v1m1-72v2m0 45v2m0 22v1m1-70v1m0 68v1m1-27v1m0 26v1m1-51v5m0 18v1m0 26v1m1-52v1m1-20v1m0 18v1m0 51v1m1-72v1m1 43v1m0 27v1m1-54v1m1-21v1m0 19v1m0 53v1m1-97v1m0 42v5m0 20v1m0 21v1m1-93v3m0 20v1m0 68v2"/>
<path stroke="#00a7ff" d="M26.5 27v3m0 16v3m0 16v2m5-23v1m0 5v1m0 2v1m1-53v1m0 39v2m0 8v3m1-54v1m0 11v1m0 2v1m0 66v1m0 11v1m1-84v3m0 67v2m0 12v1m1-86v2m0 71v1m1-74v1m0 34v1m0 3v1m0 35v1m0 11v1m1-88v1m0 76v1m1-79v1m0 4v1m0 2v1m0 59v1m0 1v1m0 5v1m0 2v1m1-83v1m0 6v3m0 63v2m0 6v2m1-55v2m0 22v3m1-16v1m0 3v1m1 33v1m0 2v1m1-72v1m0 1v1m0 59v1m0 1v1m0 4v1m0 3v1m1-81v1m0 27v3m0 17v2m0 22v1m0 8v1m1-83v1m1 37v4m1-39v1m0 81v1m1-88v1m0 80v1m1-77v1m0 28v2m0 12v3m0 31v1m0 2v1m1-85v1m0 1v1m0 6v1m0 62v1m1-65v1m0 30v2m0 1v1m0 31v1m0 8v1m1-83v1m0 4v1m0 67v1m1-71v1m0 76v1m1-87v1m0 36v1m0 13v1m0 3v1m0 18v1m0 9v1m0 2v1m1-81v1m0 8v1m0 20v1m0 17v1m0 19v1m0 6v1m1-68v1m0 29v3m0 28v1m0 12v1m0 4v1m1-93v1m0 2v1m0 8v1m0 63v1m0 11v1m1-91v1m0 2v1m0 8v1m0 18v2m0 27v1m0 19v1m0 3v1m0 4v1m0 1v2m0 2v1m1-95v1m0 5v1m0 30v1m0 3v1m1-43v1m0 5v1m0 2v1m0 28v1m0 2v1m0 9v1m0 2v1m1-50v1m0 2v1m0 72v1m1-72v1m0 34v1m0 1v1m0 39v1m1-43v3m0 29v1m0 16v1m1-82v2m0 17v1m0 9v1m0 7v1m0 9v1m0 17v1m1-67v1m1-5v1m0 43v1m0 26v1m0 1v1m1 13v1m1-62v1m0 13v1m0 31v1m0 13v2m1-63v1m0 3v1m0 10v1m0 45v1m1-1v1m1-1v1m1-46v1m0 3v1m0 9v1m0 31v1m1-82v1m0 80v1m1-62v1m0 2v1m0 10v1m0 46v1m1-62v1m0 42v1m0 17v1m1-20v1m0 18v1m1-1v2m1-37v1m0 2v1m0 31v2m1-67v1m0 64v2m1-23v1m0 20v1m1-78v1m0 76v1m1-62v2m0 11v1m0 9v1m0 15v1m0 21v1m1-77v1m0 15v1m0 11v1m0 47v1m1-24v1m0 22v1m1-25v1m0 23v1m1-75v1m0 74v1m1-59v1m0 1v1m0 11v1m0 1v1m0 41v1m1-43v1m1-5v1m0 3v1m0 42v1m1-60v1m0 11v1m0 46v1m1-57v1m0 10v1m0 44v1m1-28v1m0 23v4m1-76v1m0 47v1m0 23v2m1-72v1m0 43v1m0 25v1m1-28v1m0 26v1m2-52v1m0 51v1m1-29v1m0 27v1m2-47v1m0 46v1m1-73v1m0 24v1m1 18v1m0 28v1m2-75v1m0 19v1m1 25v1"/>
<path stroke="#00b7ff" d="M22.5 46v2m2 10v1m2-33v1m0 3v1m0 13v2m0 3v2m0 13v1m0 2v1m1-22v3m2-30v4m0 49v4m1-44v2m0 27v1m1-60v2m0 26v3m0 7v1m0 8v1m0 4v1m0 7v3m0 25v3m1-91v1m0 11v3m0 23v1m0 2v1m0 34v3m0 11v2m1-93v1m0 14v1m0 61v1m0 14v1m1-73v1m0 50v2m0 6v1m0 2v1m0 10v1m0 1v1m1-78v2m0 15v3m0 17v3m0 14v2m0 7v1m0 1v1m0 10v1m0 2v1m1-91v1m0 2v1m0 16v2m0 14v1m0 5v1m0 14v2m0 16v1m1-67v1m0 9v2m0 37v2m0 8v2m0 5v1m1-4v1m0 3v1m1-80v1m0 1v1m0 4v1m0 3v1m0 61v1m0 2v1m0 7v1m1-78v1m0 10v1m0 9v1m0 2v1m0 20v1m0 3v1m0 9v1m0 9v1m1-72v2m0 31v2m0 5v1m0 31v3m1-78v1m0 3v1m0 86v1m1-89v1m0 3v1m0 61v1m0 21v1m1-86v1m0 3v1m0 21v1m0 15v1m0 2v1m0 18v1m1-65v2m0 19v4m0 7v5m0 7v4m0 18v2m0 9v1m1-79v2m0 7v2m0 21v1m0 4v2m0 10v1m0 10v1m0 8v1m0 5v1m0 3v1m1-86v1m0 74v1m0 2v1m1-85v1m0 5v2m0 4v1m0 74v2m1-85v1m0 1v1m0 9v2m0 19v2m0 2v2m0 9v1m0 3v1m0 20v1m0 17v1m1-96v1m0 13v1m0 1v1m0 18v3m0 18v4m0 19v1m0 8v1m0 4v3m1-83v1m0 35v1m0 29v1m0 6v1m1-84v1m0 78v1m1-81v1m0 4v1m0 5v1m0 6v1m0 42v1m0 9v2m0 9v1m1-79v1m0 5v1m0 5v2m0 8v2m0 7v1m0 4v1m0 8v1m0 13v1m1-48v1m0 8v1m0 9v1m0 1v1m0 14v2m0 1v1m0 19v1m0 8v1m0 2v1m0 4v1m1-91v1m0 2v1m0 2v1m0 6v1m0 27v1m0 32v1m1-65v1m0 31v2m0 30v1m0 9v1m0 1v1m0 5v1m1-95v2m0 5v1m0 24v1m0 25v1m0 1v1m0 16v1m0 11v1m1-91v1m0 9v1m0 18v2m0 18v1m0 4v1m0 6v2m0 16v1m0 11v2m1-65v1m0 8v1m0 4v1m0 7v1m0 13v1m0 15v1m0 2v1m0 8v1m1-94v1m0 17v1m0 57v1m0 8v1m0 8v1m1-89v2m0 9v1m0 59v1m0 8v2m1-73v2m0 16v1m0 11v1m0 3v1m0 7v1m0 25v1m1-74v1m0 21v1m0 9v1m0 1v1m0 5v1m0 1v1m0 7v1m0 1v1m0 17v1m0 15v1m1-66v1m0 18v1m0 28v1m0 1v1m0 2v1m0 12v1m1-87v1m0 2v1m0 14v2m0 9v3m0 9v1m0 1v1m0 9v1m0 19v1m0 12v1m1-70v2m0 35v1m0 31v1m1-71v1m0 27v1m0 3v1m0 7v1m0 29v1m1-38v1m0 20v1m0 14v2m1-20v1m0 2v1m0 14v1m1-57v1m0 37v1m0 17v1m1-36v1m1 35v1m1-43v1m0 3v1m0 37v1m1-82v1m0 32v1m0 47v1m1-81v1m0 28v3m0 48v1m1-22v1m0 21v1m1-81v1m0 25v1m0 53v1m1-59v1m0 3v1m0 15v1m0 14v1m0 22v1m1-80v1m0 13v1m0 26v1m0 36v2m1-65v1m0 24v1m0 14v1m0 22v2m1-79v1m0 24v1m0 13v1m0 37v1m1-61v1m0 19v2m0 14v1m0 23v1m1-77v1m0 75v1m1-76v1m0 74v1m2-46v1m0 18v1m0 26v1m1-48v1m0 19v1m0 26v1m1-28v1m1-17v1m0 15v1m1-32v1m0 10v1m0 2v1m0 16v1m1-49v1m0 18v1m1-19v1m0 44v2m0 26v2m1-73v1m0 41v1m0 27v3m1-73v1m0 69v1m1-71v1m0 17v2m0 2v2m0 46v1m1-71v1m0 23v1m1-1v1m0 46v1m1-48v1m0 17v1m0 28v1m2 0v1m1-74v1m0 24v1m1-1v1m0 18v1m1-1v1m1-46v1m0 20v5"/>
<path stroke="#00c7ff" d="M5.5 32v1m0 29v1m4-24v3m0 11v2m1-17v3m0 12v4m7-18v2m0 13v2m4-11v5m1-5v1m0 2v2m1-16v3m0 20v4m1-27v4m0 19v1m0 1v1m1-25v3m0 18v3m1-28v1m0 5v7m0 7v7m0 5v1m0 4v1m1-43v4m0 8v8m0 3v8m0 7v4m0 30v1m1-83v5m0 53v4m1-61v2m0 4v1m0 11v1m0 23v1m0 11v1m0 4v1m1-74v3m0 13v4m0 8v1m0 2v1m0 24v2m0 1v2m0 7v5m0 13v3m1-91v1m0 2v1m0 23v2m0 3v1m0 5v1m0 5v2m0 1v1m0 12v1m0 3v1m1-66v1m0 12v1m0 15v3m0 12v1m0 5v1m0 3v1m0 8v2m0 12v1m0 3v1m0 9v1m0 2v1m1-84v1m0 65v1m0 14v1m0 2v1m1-96v1m0 9v1m0 3v1m0 4v2m0 1v1m0 48v1m0 2v1m1-66v1m0 2v1m0 8v1m0 12v2m0 3v2m0 13v2m0 3v2m0 11v1m0 2v1m1-58v2m0 7v1m0 2v1m0 6v7m0 7v6m0 7v1m0 2v1m0 7v2m0 9v1m0 9v1m1-91v1m0 4v1m0 4v1m0 1v1m0 7v1m0 2v1m0 35v1m0 12v1m0 19v1m1-94v1m0 4v4m0 4v1m0 57v1m0 4v3m1-80v1m0 3v1m0 25v5m0 16v5m0 17v1m0 4v1m0 3v1m1-83v3m0 4v1m0 1v1m0 7v2m0 1v1m0 7v1m0 4v2m0 2v12m0 3v1m0 5v1m0 7v1m0 1v1m0 7v1m0 1v2m0 4v2m1-81v1m0 2v1m0 20v1m0 8v1m0 8v1m0 9v1m1-56v1m0 5v1m0 69v1m0 4v1m0 9v1m1-93v1m0 12v1m0 8v1m0 38v2m0 12v1m0 2v1m1-80v1m0 30v1m0 4v1m0 13v1m0 4v1m0 25v1m1-71v1m0 7v1m0 9v1m0 4v2m0 3v2m0 5v2m0 2v3m0 4v1m0 8v1m0 10v1m1-59v1m0 8v3m0 8v1m0 7v1m0 8v1m0 1v1m0 8v1m0 1v1m0 6v1m0 1v1m1-82v1m0 7v1m0 3v1m0 6v2m0 9v2m0 29v2m0 9v2m0 12v1m1-70v2m0 55v1m0 5v1m0 12v1m1-90v1m0 5v1m0 3v1m0 2v1m0 17v1m0 14v1m0 5v2m0 17v1m0 1v1m0 4v1m0 4v2m1-89v2m0 2v1m0 28v1m0 3v18m0 4v1m0 16v1m0 2v1m0 4v1m0 3v1m0 1v2m0 3v1m1-93v1m0 10v1m0 7v1m0 20v1m0 5v1m0 19v2m0 9v1m0 8v1m1-77v1m0 6v2m0 49v2m0 12v1m0 4v1m1-73v1m0 1v1m0 8v2m0 30v1m0 1v1m0 27v1m1-85v1m0 21v1m0 12v1m0 13v1m0 6v1m0 1v1m0 7v1m0 1v1m0 16v1m1-89v1m0 5v1m0 14v1m0 1v1m0 7v1m0 3v14m0 4v1m0 7v2m0 7v1m1-61v1m0 9v2m0 22v1m0 18v2m0 17v1m1-84v2m0 10v1m0 7v1m0 9v2m0 9v1m0 2v1m0 10v2m0 9v1m0 9v1m0 3v1m0 4v1m1-78v1m0 2v1m0 6v1m0 8v1m0 27v1m0 11v1m0 25v1m1-98v1m0 20v1m0 10v1m0 5v1m0 5v1m0 19v1m0 8v1m0 9v1m0 1v1m0 8v3m1-97v1m0 18v2m0 7v1m0 21v1m0 5v1m0 7v1m0 9v2m0 10v1m0 7v1m1-88v2m0 3v1m0 4v1m0 9v2m0 37v2m0 7v1m0 11v1m1-72v1m0 9v1m0 8v2m0 8v1m0 11v2m0 8v2m0 7v1m0 18v1m1-72v2m0 11v1m0 23v1m0 7v1m0 7v1m0 1v1m0 16v1m1-74v1m0 10v1m0 5v2m0 7v1m0 3v1m0 16v2m0 6v1m1-67v1m0 9v1m0 16v1m0 22v2m0 8v1m1-63v1m0 40v1m0 11v1m0 1v1m0 17v1m1-18v1m0 13v1m0 17v1m1-86v1m0 52v1m0 31v1m1-74v2m0 17v1m0 10v1m0 12v1m0 29v1m1-86v1m0 1v2m0 62v1m0 17v2m1-83v1m0 33v1m0 46v1m1-65v1m0 10v1m0 33v1m0 18v1m1-68v1m0 8v2m0 2v2m0 5v1m0 3v1m0 9v1m0 13v1m0 19v1m1-21v1m0 19v1m1-44v1m0 21v1m0 20v1m1-62v2m0 6v1m0 10v1m0 19v1m0 21v1m1-81v1m0 10v1m0 9v2m0 13v1m0 9v2m1-33v1m0 5v1m1 23v1m1-30v1m0 26v1m1-42v1m0 14v1m0 9v4m0 11v1m1-27v1m0 14v1m0 7v1m0 40v1m1-78v1m0 13v1m0 9v1m0 52v1m1-62v1m0 8v2m0 8v2m0 14v1m0 25v1m1-1v1m1-61v2m0 14v2m0 15v1m0 26v1m1-76v1m0 14v1m0 3v1m1-20v1m0 14v1m0 4v1m1-21v1m0 19v1m1-21v1m0 19v1m1-21v1m0 19v1m1-20v1m0 16v1m0 1v1m0 7v2m0 17v1m1-46v1m0 42v1m2-25v1m0 5v1m0 46v2m1-53v2m0 2v1m0 46v2m1-2v2m1-73v1m0 71v1m1-73v1m0 71v1m1-31v1m0 29v1m1-31v1m2-44v1m1-1v1m0 24v1m1-26v1m0 18v1m0 5v1m0 18v1"/>
<path stroke="#00d7ff" d="M0.5 26v3m0 37v3m3-31v3m0 13v3m2-28v3m0 1v2m0 25v2m0 1v2m1-37v5m0 29v5m3-29v1m0 3v1m0 8v2m0 2v2m1-20v1m0 3v2m0 9v1m0 4v1m2-28v3m0 28v3m2-19v4m1-5v6m1-13v6m0 8v6m1-20v2m0 2v1m0 10v2m0 2v1m1-30v3m0 35v3m1-42v5m0 33v4m2-55v2m0 29v1m0 5v1m0 29v2m1-38v1m0 5v1m1-29v1m0 10v1m0 3v1m0 18v1m0 14v1m1-50v3m0 8v1m0 4v1m0 17v1m0 3v1m0 8v4m1-49v5m0 4v2m0 3v2m0 15v1m0 3v3m0 4v4m0 25v2m1-72v1m0 6v1m0 3v1m0 21v1m0 3v1m0 6v1m0 26v3m1-83v3m0 6v1m0 4v1m0 5v2m0 19v1m0 5v1m0 4v1m0 6v3m0 19v1m1-83v1m0 5v2m0 13v3m0 16v4m0 13v2m0 4v1m0 19v1m1-95v3m0 9v1m0 16v2m0 1v2m0 18v3m0 1v2m0 8v1m0 6v1m0 10v2m1-88v1m0 14v2m0 4v2m0 5v1m0 4v2m0 1v6m0 6v6m0 2v1m0 5v1m0 5v1m0 5v1m0 11v1m1-73v2m0 8v2m0 6v1m0 12v1m0 7v1m0 4v1m0 5v2m0 9v2m0 10v1m0 3v1m1-91v1m0 8v1m0 4v1m0 9v2m0 3v1m0 6v1m0 9v1m0 12v1m0 2v3m0 14v1m1-81v1m0 14v1m0 4v1m0 17v2m0 10v3m0 28v1m1-69v1m0 2v1m0 4v1m0 9v8m0 13v8m0 13v1m0 3v1m0 4v1m0 8v1m0 3v1m1-80v1m0 3v1m0 6v5m0 7v13m0 7v5m0 5v1m0 4v1m0 4v1m0 3v1m1-69v1m0 2v1m0 5v1m0 4v1m0 4v1m0 20v2m0 4v1m0 10v1m0 7v1m1-68v1m0 3v1m0 10v1m0 8v3m0 3v5m0 3v3m0 8v1m0 3v1m0 6v1m0 6v1m0 5v1m1-64v3m0 10v2m0 15v1m0 10v3m0 20v1m1-81v3m0 5v1m0 5v3m0 7v1m0 5v2m0 12v2m0 5v1m0 8v3m0 11v3m0 4v1m1-88v1m0 6v1m0 3v1m0 10v1m0 5v1m0 7v2m0 12v3m0 13v1m0 3v1m0 5v1m0 7v1m0 2v1m1-86v2m0 1v1m0 4v1m0 6v3m0 8v2m0 1v3m0 4v1m0 10v1m0 5v3m0 1v2m0 7v3m0 7v1m0 3v1m0 2v2m1-85v1m0 10v3m0 8v3m0 16v3m0 16v3m0 7v3m0 3v1m0 6v1m0 7v1m1-86v3m0 12v1m0 1v1m0 8v3m0 15v3m0 7v1m0 2v1m0 6v1m0 5v2m0 6v1m1-81v1m0 15v3m0 6v1m0 6v1m0 11v1m0 13v3m0 6v1m0 4v1m1-79v1m0 8v1m0 9v1m0 1v1m0 7v1m0 7v3m0 9v2m0 8v1m0 6v1m0 1v1m0 6v1m0 7v1m1-85v1m0 4v1m0 3v1m0 2v1m0 5v1m0 10v1m0 10v1m0 9v1m0 6v1m0 3v1m0 10v1m1-68v2m0 10v1m0 2v1m0 7v1m0 2v1m0 27v1m0 2v1m0 7v1m0 2v1m0 9v2m1-74v1m0 3v1m0 2v1m0 8v3m0 8v3m0 9v2m0 8v4m0 8v1m0 1v1m1-50v2m0 5v2m0 7v1m0 6v1m0 8v1m0 6v2m0 11v1m0 2v1m0 13v1m1-94v2m0 4v1m0 7v1m0 6v3m0 6v1m0 34v3m0 19v1m0 6v1m1-95v1m0 4v1m0 13v1m0 1v1m0 8v3m0 7v1m0 15v3m0 10v1m0 5v1m1-68v1m0 8v1m0 10v3m0 11v4m0 11v4m0 7v1m1-64v2m0 19v1m0 2v1m0 28v1m0 3v1m0 9v1m0 4v1m0 4v2m1-80v1m0 12v1m0 6v1m0 8v1m0 7v1m0 5v1m0 7v1m0 4v1m0 22v2m1-81v1m0 8v1m0 2v1m0 45v1m0 2v1m1-34v2m0 7v1m0 12v3m0 7v1m0 8v1m0 2v1m0 9v1m0 6v1m1-74v1m0 1v1m0 7v1m0 15v1m0 8v1m0 2v1m0 7v1m0 27v1m1-75v1m0 11v1m0 8v1m0 5v1m0 12v1m0 8v1m0 9v1m0 1v1m1-76v2m0 3v1m0 5v1m0 8v1m0 26v1m0 4v1m0 10v1m0 11v1m0 12v1m1-90v2m0 3v1m0 16v1m0 13v1m0 21v1m0 18v1m0 9v1m1-77v1m0 26v3m0 16v1m0 20v1m0 8v1m1-78v1m0 6v1m0 1v1m0 9v1m0 11v1m0 9v1m0 18v1m0 3v1m1-72v1m0 32v1m0 11v1m0 11v1m0 1v1m1-58v1m0 8v1m0 1v1m0 6v1m0 7v1m0 5v1m0 8v2m0 3v1m0 23v1m0 13v1m1-88v1m0 4v1m0 5v1m0 8v1m0 1v1m0 11v1m0 10v1m0 26v1m1-63v1m0 10v1m0 7v1m0 3v1m0 29v1m0 24v1m1-80v1m0 7v1m0 11v1m0 15v1m0 8v1m1-47v1m0 7v1m0 1v1m0 5v1m0 4v1m0 4v1m1-32v1m0 2v2m0 49v1m0 1v1m0 7v1m1-64v1m0 9v1m0 19v1m0 5v1m0 18v1m0 7v1m0 2v1m1-49v1m0 21v1m0 7v1m0 35v1m1-70v1m0 68v1m1-70v1m0 1v3m0 15v1m0 1v1m0 1v1m0 1v1m0 4v4m1-48v1m0 17v1m0 4v1m0 4v1m1-28v1m0 8v2m0 31v1m0 7v1m1-41v2m0 20v1m0 5v1m0 1v1m0 8v2m1-38v1m0 13v1m0 10v1m1-27v1m0 45v1m1-57v1m0 34v1m1-12v2m0 5v1m0 23v1m1-26v1m0 8v1m1-22v1m0 35v1m1-25v1m0 6v1m0 2v1m1-38v1m0 13v1m0 1v1m0 6v1m0 2v1m1-12v2m0 16v2m0 14v1m1-49v1m0 16v1m0 12v1m0 2v1m1-6v1m2-14v1m2 0v1m0 30v1m1-46v1m0 27v1m0 15v1m1-44v1m0 15v2m0 6v2m1-9v2m0 5v1m0 16v1m1-25v1m0 1v1m0 3v1m0 17v1m1-1v1m1-1v1m3-42v1m2 41v1m1-1v1m1-1v1m1-1v1"/>
<path stroke="#00e7ff" d="M0.5 24v2m0 3v2m0 33v2m0 3v2m1-50v6m0 41v5m1-62v1m0 7v5m0 14v5m0 9v5m0 13v6m1-40v2m0 3v5m0 3v5m0 3v2m1-27v7m0 4v8m0 5v7m1-35v1m0 6v1m0 10v3m0 10v1m0 5v2m0 30v2m1-73v2m0 5v1m0 26v2m0 5v1m0 29v2m1-72v3m0 35v3m1-55v6m0 56v6m1-68v4m0 20v1m0 5v2m0 5v1m0 6v1m0 20v3m1-46v2m0 6v1m0 7v1m0 6v1m1-59v3m0 30v6m0 16v7m0 30v4m1-96v2m0 23v5m0 3v2m0 24v2m0 3v6m0 23v5m1-69v5m0 12v2m0 12v6m0 29v4m1-90v2m0 7v4m0 22v1m0 4v1m0 23v3m0 7v2m0 13v1m1-91v2m0 7v5m0 20v2m0 6v2m0 21v5m0 7v2m1-82v3m0 10v2m0 16v1m0 6v2m0 5v1m0 6v2m0 15v2m0 10v3m1-86v4m0 29v1m0 5v1m0 8v1m0 5v2m0 28v5m1-91v5m0 19v2m0 3v2m0 6v4m0 11v3m0 7v2m0 3v1m0 19v6m1-94v4m0 21v1m0 5v1m0 31v1m0 4v1m0 21v4m1-82v5m0 10v4m0 33v4m0 9v6m1-72v2m0 2v2m0 26v1m0 7v1m0 25v3m0 2v2m1-74v4m0 19v4m0 6v1m0 7v1m0 5v4m0 19v4m1-75v2m0 10v1m0 1v2m0 13v1m0 7v3m0 6v1m0 5v1m0 8v1m0 1v2m0 9v2m1-85v2m0 6v2m0 11v1m0 3v1m0 29v1m0 5v1m0 6v1m0 4v1m0 10v2m0 7v4m1-97v1m0 6v3m0 11v3m0 5v4m0 7v1m0 4v4m0 5v1m0 7v4m0 4v3m0 12v2m0 7v1m0 2v1m1-91v3m0 14v1m0 8v3m0 23v3m0 23v2m0 8v1m1-89v2m0 6v1m0 3v1m0 4v1m0 6v2m0 2v1m0 22v2m0 2v1m0 6v1m0 4v1m0 3v2m0 6v2m0 8v1m1-92v3m0 6v1m0 8v3m0 8v2m0 3v2m0 13v1m0 4v2m0 8v3m0 7v1m0 6v3m1-86v1m0 3v1m0 7v1m0 8v1m0 7v1m0 5v2m0 14v2m0 6v1m0 6v1m0 8v2m0 7v1m0 2v1m1-85v1m0 9v1m0 8v1m0 3v1m0 7v1m0 6v2m0 3v1m0 6v2m0 7v1m0 3v1m0 7v1m0 9v1m0 4v1m1-93v1m0 4v1m0 8v2m0 2v8m0 12v1m0 20v1m0 8v9m0 2v1m1-69v1m0 6v1m0 4v4m0 6v1m0 11v1m0 9v1m0 5v1m0 6v3m0 5v1m0 13v1m1-81v1m0 7v4m0 1v2m0 5v3m0 5v2m0 2v1m0 8v1m0 3v1m0 6v2m0 5v8m0 19v1m1-96v1m0 14v2m0 6v1m0 6v2m0 8v1m0 11v1m0 8v2m0 6v1m0 5v3m1-66v1m0 3v1m0 5v1m0 3v2m0 37v1m0 3v1m0 23v1m1-88v1m0 4v1m0 19v4m0 23v4m0 5v1m0 4v1m0 3v1m1-66v1m0 1v1m0 10v1m0 11v2m0 3v3m0 5v3m0 3v2m0 5v1m0 15v1m0 1v1m0 15v1m1-94v1m0 23v1m0 7v2m0 2v2m0 11v2m0 1v2m0 7v1m0 3v1m0 5v1m1-73v1m0 14v1m0 3v1m0 3v1m0 5v1m0 8v2m0 9v1m0 8v2m0 5v1m0 3v1m0 3v1m1-75v1m0 4v3m0 5v1m0 4v1m0 42v1m0 4v1m0 5v1m0 9v3m0 4v1m1-92v5m0 2v1m0 11v1m0 3v3m0 3v2m0 6v4m0 12v5m0 6v2m0 3v2m0 3v2m0 4v1m0 5v2m0 2v8m1-94v1m0 8v3m0 3v1m0 6v1m0 3v1m0 12v3m0 3v2m0 12v2m0 3v1m0 5v1m0 3v3m0 8v1m0 5v1m1-92v1m0 14v1m0 5v1m0 3v1m0 6v1m0 3v1m0 13v1m0 3v1m0 5v1m0 32v1m1-86v1m0 5v1m0 5v1m0 3v1m0 4v1m0 8v1m0 9v1m0 7v1m0 4v2m0 3v1m0 19v1m1-83v1m0 7v1m0 4v1m0 3v1m0 5v1m0 31v1m0 8v1m1-49v1m0 5v1m0 4v1m0 5v1m0 11v1m0 16v1m0 12v1m1-55v1m0 12v4m0 3v4m0 7v1m0 10v1m0 8v1m0 12v1m1-66v1m0 3v2m0 5v1m0 3v1m0 7v1m0 2v2m0 5v1m0 4v1m0 6v1m0 3v1m0 2v1m1-69v3m0 4v1m0 5v2m0 2v5m0 10v1m0 15v6m0 2v1m0 6v1m0 4v2m1-69v1m0 9v1m0 3v1m0 4v1m0 28v1m0 5v1m0 8v1m0 21v1m1-87v1m0 3v1m0 4v1m0 10v1m0 3v1m0 14v1m0 6v1m0 3v1m0 6v1m0 21v1m0 5v2m1-97v1m0 5v1m0 14v1m0 6v1m0 3v1m0 9v1m0 4v2m0 23v1m0 4v1m0 3v1m1-83v1m0 31v1m0 5v5m0 7v4m0 5v1m0 11v1m1-73v1m0 16v1m0 13v1m0 3v1m0 13v1m0 17v1m0 5v1m0 7v1m1-76v1m0 22v1m0 5v1m0 23v1m0 18v1m0 3v1m0 4v2m0 6v1m1-91v2m0 11v1m0 5v1m0 2v1m0 6v1m0 2v1m0 12v1m0 32v1m0 4v1m1-79v1m0 2v1m0 18v1m0 3v1m0 7v1m0 26v1m0 5v1m1-68v2m0 9v1m0 14v1m0 5v2m0 1v5m0 1v1m0 6v1m0 11v1m0 7v1m0 4v1m0 14v1m1-77v1m0 10v1m0 3v1m0 11v1m0 7v1m0 7v1m0 8v1m0 23v1m1-81v1m0 8v1m0 9v1m0 11v1m0 13v1m0 9v1m0 22v1m1-71v1m0 2v1m0 7v2m0 6v1m0 3v1m0 5v2m0 20v1m1-44v1m0 21v1m0 12v1m0 26v1m1-83v1m0 2v1m0 5v1m0 2v1m0 5v1m0 5v1m0 11v1m1-35v1m0 18v1m0 2v1m0 17v1m0 6v1m0 17v1m1-71v1m0 52v1m0 6v1m0 1v1m0 9v1m0 14v1m1-78v1m0 6v1m0 21v1m0 4v1m0 18v1m0 4v1m1-66v1m0 15v1m0 7v1m0 15v1m0 1v1m0 17v2m1-16v1m0 7v1m0 6v2m0 3v1m1-48v1m0 5v1m0 10v1m0 25v1m0 1v1m0 1v1m1-64v1m0 7v1m0 17v1m0 5v1m0 1v1m0 18v1m1-40v1m0 12v1m0 16v1m1-46v1m0 22v1m0 25v1m1-50v1m0 17v1m0 6v2m0 2v1m0 6v1m0 12v1m2-27v1m0 26v1m0 1v1m1-51v1m0 7v1m0 9v1m0 2v1m0 18v1m1-31v1m0 20v2m0 2v1m1-5v1m0 10v1m1-27v1m0 14v1m1-30v1m0 11v1m0 16v1m0 1v1m0 7v1m1-27v1m0 2v1m0 7v1m0 28v1m1-53v1m0 22v1m0 11v1m0 3v1m1-23v1m0 33v1m1-24v1m0 8v1m0 12v1m1-49v1m0 15v1m0 17v1m1-17v2m0 9v1m1-10v1m0 12v1m1-1v1m0 13v1m1-21v1m0 19v1m1-33v1m0 11v1m0 19v1m1-47v1m0 25v1m0 4v1m1-30v1m0 13v1m0 9v1m0 3v1m0 13v1m1-25v1m0 7v1m0 14v1m1-41v1m0 21v1m0 1v1m1-25v1m0 18v1m0 1v1m0 2v1m1-9v1m1-1v1m1-1v1m0 23v1m1-25v1m1-1v1m1-18v1m0 16v1m1-18v1m0 16v1m1-18v1m0 16v1m1-18v1m0 16v1m1-18v1m0 3v1m0 36v1"/>
<path stroke="#08fff7" d="M0.5 5v5m0 6v6m0 11v11m0 7v11m0 11v6m0 6v5m1-88v6m0 20v2m0 6v2m0 4v2m0 6v3m0 3v3m0 6v1m0 21v5m1-92v6m0 20v1m0 8v1m0 9v5m0 8v2m0 7v2m0 19v11m1-99v4m0 20v2m0 7v1m0 26v2m0 7v1m0 20v9m1-87v6m0 4v8m0 35v8m0 3v7m1-73v16m0 11v2m0 3v2m0 7v2m0 3v1m0 12v16m1-76v8m0 2v5m0 11v2m0 7v2m0 3v2m0 7v1m0 12v4m0 3v7m1-85v2m0 7v2m0 22v2m0 8v9m0 8v2m0 21v2m0 8v3m1-96v3m0 24v3m0 6v2m0 8v3m0 7v2m0 7v3m0 24v7m1-99v1m0 25v2m0 7v1m0 10v2m0 11v1m0 7v2m0 24v4m1-80v5m0 5v3m0 3v1m0 12v3m0 11v2m0 3v3m0 5v5m0 18v3m1-93v3m0 4v9m0 21v9m0 20v9m0 4v3m0 10v1m1-95v4m0 5v9m0 15v1m0 6v6m0 7v1m0 15v8m0 5v4m1-88v5m0 8v4m0 16v1m0 8v1m0 5v1m0 7v1m0 17v3m0 8v6m1-93v2m0 1v3m0 18v7m0 4v1m0 15v1m0 6v2m0 4v6m0 18v3m0 1v3m1-92v2m0 19v1m0 6v4m0 25v3m0 6v2m0 18v3m0 3v2m1-97v3m0 8v4m0 9v2m0 5v3m0 27v2m0 5v3m0 8v5m0 7v8m1-99v1m0 8v3m0 1v4m0 5v1m0 9v1m0 11v1m0 5v1m0 10v2m0 15v4m0 1v2m0 9v5m1-91v3m0 1v12m0 9v4m0 6v1m0 7v1m0 6v3m0 10v12m0 1v3m1-81v6m0 6v6m0 9v1m0 5v5m0 7v5m0 4v2m0 9v5m0 6v6m1-84v6m0 9v6m0 8v1m0 7v2m0 9v2m0 7v1m0 8v6m0 8v6m1-88v7m0 11v12m0 2v2m0 4v1m0 12v2m0 3v3m0 2v11m0 11v7m0 3v4m1-97v6m0 9v1m0 7v1m0 5v1m0 37v1m0 6v1m0 9v6m0 3v4m1-95v2m0 7v2m0 3v1m0 7v1m0 4v1m0 8v4m0 7v3m0 14v1m0 6v2m0 3v1m0 7v3m0 6v2m1-87v1m0 6v1m0 7v1m0 3v1m0 8v1m0 5v3m0 5v1m0 8v1m0 3v1m0 7v1m0 5v2m0 15v1m1-96v2m0 7v1m0 5v1m0 56v2m0 4v2m0 7v2m1-91v1m0 2v2m0 6v4m0 5v2m0 48v2m0 5v5m0 6v2m0 2v1m1-90v1m0 6v2m0 9v1m0 48v2m0 9v1m0 6v1m0 5v1m1-93v1m0 5v4m0 30v8m0 30v4m0 5v1m0 5v1m1-95v1m0 6v1m0 3v1m0 12v4m0 12v2m0 7v2m0 11v4m0 12v1m0 4v1m0 6v1m1-85v1m0 4v2m0 65v1m0 5v1m0 6v1m1-82v1m0 69v1m0 4v1m1-78v1m0 24v1m0 1v1m0 21v1m0 29v1m1-87v1m0 31v2m0 7v1m0 5v1m0 6v3m1-34v3m0 14v1m0 6v1m0 15v3m0 16v1m0 6v1m1-79v3m0 61v2m0 6v1m0 6v1m1-88v1m0 6v1m0 8v3m0 45v2m0 6v1m1-55v1m0 7v1m0 2v1m0 23v1m0 2v1m0 26v1m0 6v1m1-77v1m0 2v1m0 6v5m0 8v1m0 6v2m0 7v5m0 7v1m0 2v1m0 23v1m1-97v1m0 25v3m0 13v1m0 4v1m0 14v3m1-67v1m0 16v2m0 8v3m0 35v2m0 9v2m0 15v2m1-80v3m0 59v2m1-78v2m0 18v1m0 1v2m0 8v3m0 22v4m0 8v1m0 2v1m0 17v3m1-91v1m0 20v1m0 6v1m0 2v1m0 7v2m0 3v1m0 3v2m0 7v1m0 2v1m0 6v1m0 3v1m0 21v1m1-94v1m0 15v1m0 11v1m0 30v2m0 7v1m0 2v1m0 8v1m0 14v1m1-88v1m0 6v2m0 7v3m0 35v3m0 6v3m0 8v1m1-77v1m0 5v1m0 2v1m0 6v1m0 3v1m0 7v3m0 15v3m0 7v1m0 18v2m1-86v1m0 16v1m0 10v1m0 6v1m0 4v1m0 13v1m0 4v1m0 10v1m0 8v1m1-58v1m0 3v1m0 8v3m0 6v1m0 4v1m0 7v3m0 7v1m0 4v1m1-53v1m0 3v1m0 21v1m0 1v1m0 21v1m0 26v1m1-87v2m0 9v1m0 6v2m0 32v3m0 6v1m0 2v1m0 6v2m1-75v1m0 1v1m0 8v1m0 5v1m0 3v1m0 7v1m0 2v1m0 10v1m0 3v1m0 6v1m0 4v1m0 8v1m1-77v1m0 7v1m0 9v1m0 4v1m0 4v1m0 6v1m0 5v1m0 8v1m0 6v1m0 25v1m1-49v1m0 9v3m0 9v1m0 7v1m0 4v1m0 4v1m0 16v1m1-73v1m0 4v1m0 6v1m0 13v1m0 12v1m1-49v1m0 2v1m0 14v1m0 29v1m0 8v1m1-47v1m0 4v1m0 4v1m0 4v1m0 12v1m0 23v1m0 4v1m1-70v2m0 13v1m0 10v1m0 5v1m0 28v1m0 9v1m0 15v1m1-83v1m0 3v1m0 17v3m0 12v4m0 7v1m0 4v1m1-55v1m0 7v1m0 4v1m0 6v1m0 10v1m0 1v1m0 10v1m0 15v1m1-30v3m0 13v1m0 4v1m1-55v1m0 2v1m0 3v1m0 15v1m0 3v1m0 2v1m0 7v1m0 6v1m0 5v1m0 32v2m1-75v1m0 3v1m0 21v1m0 24v1m0 3v1m0 17v1m1-86v2m0 25v1m0 11v1m0 15v1m0 3v1m0 4v1m0 21v1m1-74v1m0 4v1m0 16v1m1-28v1m0 8v1m0 3v1m0 4v1m0 39v1m1-64v1m0 3v1m0 2v1m0 9v1m0 33v1m1-36v1m0 5v1m0 5v1m0 3v1m0 25v1m0 2v1m1-63v1m0 10v1m0 3v1m0 3v1m0 20v1m1-1v1m0 6v1m1-39v1m0 2v1m0 14v1m0 6v1m0 3v2m0 1v1m0 3v1m0 1v1m1-38v1m0 5v1m0 8v1m0 30v2m1-23v1m0 5v1m0 21v1m1-50v1m0 6v1m0 12v1m0 7v1m1-40v1m0 9v2m0 21v1m0 3v1m0 11v1m1-42v1m0 18v1m1-10v1m0 8v1m0 30v1m1-45v1m0 10v1m0 5v1m0 3v1m0 13v1m1-33v1m0 10v1m0 19v1m1-46v1m0 18v1m0 5v1m1-11v1m0 12v1m0 3v1m0 9v1m0 10v1m1-37v1m0 23v1m1-24v1m0 11v1m1-1v1m0 4v1m0 15v1m1-33v1m0 10v1m1-15v1m0 3v1m0 2v8m0 19v1m1-27v1m0 12v1m1-34v1m0 12v1m0 6v1m1-21v1m0 19v1m1-1v1m1-1v1m0 11v1m0 12v1m1-44v1m0 41v1m1-42v1m0 27v1m1-7v1m0 3v1m1-6v1m0 3v1m1-11v1m2 8v1m1-25v1m0 23v1m1-25v1m0 23v1m1-25v1m0 23v1m1-25v1m0 23v1m1-25v1m0 23v1m1-25v1m0 23v1m1-24v4m0 19v1m0 10v5m1-35v1m0 18v1m0 10v1"/>
<path stroke="#18ffe7" d="M0.5 44v7m1-21v6m0 8v6m0 9v6m1-38v2m0 4v2m0 25v1m0 5v1m1-41v2m0 3v2m0 29v2m0 2v3m2-30v3m0 11v3m1-19v1m0 4v2m0 7v2m0 4v1m1-23v8m0 9v8m1-30v6m0 22v7m1-37v2m0 3v2m0 25v1m0 4v2m0 30v2m1-69v3m0 29v3m2-27v1m0 3v2m0 6v2m0 3v2m1-21v1m0 6v1m0 7v1m0 5v1m1-56v1m0 33v2m0 3v2m0 9v1m0 4v1m0 33v1m1-92v3m0 22v6m0 32v6m0 23v3m1-69v5m0 32v5m1-56v1m0 32v1m0 3v1m0 32v1m1-72v1m0 38v1m0 32v1m1-50v5m0 5v1m0 5v1m0 5v4m1-26v2m0 3v2m0 13v2m0 3v2m1-25v4m0 15v3m1-32v1m0 3v1m0 32v2m0 2v2m1-54v3m0 9v1m0 2v1m0 32v1m0 3v1m0 9v3m1-67v2m0 2v2m0 9v3m0 10v5m0 3v5m0 10v3m0 9v1m0 3v1m1-68v5m0 59v4m1-79v2m0 87v2m1-93v1m0 2v1m0 86v2m0 2v1m1-93v1m0 88v1m1-91v1m0 8v3m0 31v3m0 1v3m0 30v4m0 12v1m1-98v1m0 8v1m0 2v1m0 68v2m0 2v1m1-79v1m0 2v2m0 71v1m0 2v1m0 8v1m1-91v1m0 30v1m0 20v2m0 25v1m0 11v1m1-88v1m0 35v1m0 3v1m0 40v1m0 6v1m1-96v1m0 5v1m0 35v2m0 3v1m1-49v1m0 5v1m1 6v2m0 63v2m0 7v1m0 5v1m1-74v1m0 1v1m0 9v2m0 25v2m0 8v1m0 2v1m1-71v1m0 17v2m0 21v2m0 2v2m0 22v2m0 23v1m1-53v4m0 43v1m1 2v2m2-75v1m0 48v2m1-53v1m0 2v1m0 8v2m0 10v3m0 1v3m0 10v2m0 28v1m0 3v1m1-76v3m0 49v2m0 17v1m1-90v1m0 6v2m0 72v2m1-84v1m0 14v2m0 8v1m0 1v1m0 37v1m0 1v1m0 7v1m0 1v1m1-64v2m0 7v1m0 2v1m0 11v1m0 15v1m0 2v1m0 7v1m0 10v2m0 15v1m1-72v3m0 19v1m0 22v4m1-51v3m0 23v1m0 23v3m1-55v3m0 51v2m1-65v1m0 6v1m0 9v1m0 1v1m0 9v2m0 12v3m0 8v1m0 2v1m0 6v1m0 1v1m0 6v2m1-48v1m0 3v1m0 10v1m0 4v1m0 7v1m0 3v1m0 5v1m0 2v1m0 14v1m0 4v1m1-99v1m0 16v1m0 5v1m0 3v1m0 51v1m1-64v1m0 51v1m0 3v1m0 7v1m1-61v1m0 3v1m0 6v1m0 1v1m0 27v1m0 1v1m0 15v1m0 1v1m0 14v1m1-58v1m0 2v1m0 9v1m0 2v1m0 5v1m0 9v1m0 10v1m0 14v1m1-67v1m0 19v1m0 4v1m0 6v1m0 3v1m0 8v1m1-52v1m0 3v1m0 44v1m1-28v1m0 18v1m1-53v1m0 2v1m0 8v1m0 5v1m0 3v1m0 21v1m0 13v1m1-48v1m0 4v1m0 10v2m0 9v2m0 24v1m1-65v1m0 4v1m0 13v1m0 21v1m0 5v1m0 3v1m0 4v1m0 10v1m0 16v1m1-72v1m0 3v1m0 49v1m1-61v1m0 55v1m1-33v1m0 19v1m0 4v1m1-33v1m0 10v1m0 25v1m1-50v1m0 14v1m0 9v1m0 1v1m0 3v1m0 4v1m0 16v1m1-65v2m0 44v1m0 7v1m0 4v1m0 3v2m1-40v1m0 2v1m0 22v1m0 3v1m0 4v1m1-41v1m0 2v1m0 7v1m0 24v1m0 4v1m1-60v1m0 4v1m0 26v1m0 10v1m0 3v1m1-44v2m0 5v1m0 5v1m0 36v2m1-7v1m0 10v1m1-60v1m0 46v1m0 1v1m0 7v2m1-43v1m0 40v1m1-51v1m0 3v1m0 24v1m0 4v1m1-41v1m0 26v1m0 9v1m1 17v1m1-16v1m1-39v1m0 19v1m0 4v1m0 6v1m1-11v1m0 12v1m0 15v1m1-51v1m0 10v1m1-11v1m0 36v1m1-2v1m0 10v1m1-47v1m0 16v2m0 8v3m0 4v1m1-35v1m0 20v1m0 3v1m2-13v1m1 31v1m1-45v1m1 1v1m0 28v1m0 10v1m1-30v1m0 10v1m0 16v1m1-27v1m0 4v1m0 8v1m0 11v1m1-21v2m0 18v1m1-1v1m1-1v1m6-1v1m1-39v1m0 2v1m0 31v1m0 2v1m1-35v1"/>
<path stroke="#28ffd7" d="M2.5 29v4m0 28v5m1-38v3m0 33v2m3-28v4m0 11v4m3-27v3m0 28v4m3-26v3m0 10v3m1-18v2m0 3v1m0 9v1m0 3v1m1-19v3m0 12v4m3-11v3m1-5v1m0 4v1m1-5v5m1-14v3m0 17v3m2-32v3m0 35v2m1-39v2m0 34v3m1-52v2m0 60v3m3-79v2m0 89v2m1-94v2m0 90v4m1-96v1m0 46v1m0 45v1m0 2v1m1-87v2m0 71v2m0 9v1m0 3v1m1-91v2m0 74v2m1-80v1m0 2v1m0 75v1m0 2v1m1-85v1m0 41v1m0 1v1m0 36v1m1-40v3m0 37v1m0 4v1m1-5v1m1-88v1m1 3v1m0 17v1m0 48v2m0 17v1m0 4v1m1-50v2m0 43v1m1-91v1m0 91v1m0 4v1m1-2v2m3-98v2m0 18v2m0 48v3m0 18v1m0 1v1m1-93v1m0 94v1m1-6v1m1-66v1m0 39v1m0 9v1m1-53v2m0 9v3m0 17v2m0 9v3m1-24v3m0 47v1m1 1v1m2-81v2m0 8v1m0 36v2m0 8v1m1-76v1m0 15v3m0 6v1m0 2v1m0 9v3m0 12v4m0 9v1m0 9v2m0 16v1m0 2v1m1-83v1m0 51v1m0 9v2m0 15v1m1-81v2m0 6v1m0 2v1m0 52v2m0 15v1m1-83v2m0 17v1m0 29v1m0 7v1m0 2v1m0 6v1m1-69v2m0 5v1m0 9v1m0 2v1m0 7v2m0 11v2m0 7v1m0 2v1m0 15v1m1-64v1m0 2v1m0 5v1m0 2v1m0 7v1m0 3v1m1 22v1m0 2v1m0 8v1m1-60v1m0 8v1m0 42v1m0 5v1m0 1v1m1-57v1m0 38v1m0 6v1m0 8v1m0 1v1m1-66v2m0 19v1m0 23v1m0 3v1m0 5v1m0 3v1m0 5v2m1-68v1m0 15v1m0 9v1m0 3v1m0 36v1m1-63v1m0 3v1m0 17v1m0 1v1m0 9v1m0 1v1m0 8v1m1-47v1m0 46v1m0 3v1m0 4v1m1-58v1m0 7v1m0 31v1m0 3v1m0 13v1m1-48v1m0 17v1m0 10v1m0 4v1m0 9v1m1-57v1m0 1v1m0 3v1m0 10v1m0 3v1m0 5v1m0 9v1m0 15v1m1-29v1m0 2v1m0 20v1m1-37v1m0 22v1m1-34v1m0 13v1m0 3v1m0 10v1m0 8v1m0 1v1m0 8v1m1-43v1m0 3v1m0 4v1m0 20v1m0 13v1m0 2v1m1-56v1m0 5v1m0 42v1m0 6v1m1-57v1m0 2v2m0 14v2m0 8v1m0 10v2m0 13v3m1-56v1m0 6v1m0 2v1m0 3v1m0 6v1m0 33v1m1-56v1m0 34v1m0 10v1m0 3v1m1-51v1m0 30v1m0 18v1m1-43v1m0 4v3m0 12v1m0 12v3m1-25v1m0 20v1m1-5v1m0 8v1m0 8v1m1-34v1m0 6v1m0 6v1m0 3v1m1-37v1m0 15v1m0 12v1m1-9v1m0 11v1m0 15v1m1-33v1m0 3v1m1-10v1m0 5v1m0 2v1m0 7v1m0 2v1m2-7v1m1 0v1m0 7v1m0 11v1m1-21v1m0 19v1m1-45v1m0 11v1m1-12v1m0 22v1m0 18v1m1-20v1m1-5v1m0 10v1m1-29v1m0 10v1m0 8v1m1-21v1m0 12v1m0 11v1m1-26v1m0 23v1m1-11v1m1-1v1m0 23v1m1-1v1m1-1v1m1-1v1m1-1v1m1-39v1m1 0v2m0 1v1m0 29v1m0 1v2m1-5v1m1-1v1"/>
<path stroke="#38ffc7" d="M13.5 39v3m0 11v3m5-11v2m0 1v1m11 45v2m1-1v3m1-2v1m1-90v2m0 77v2m0 9v1m1-90v1m0 38v1m0 38v1m0 2v1m0 8v1m1-96v1m1 88v1m1-88v1m0 83v1m0 3v1m1-91v1m1-2v1m0 89v1m0 3v1m1-97v1m0 93v4m4-98v1m0 92v1m1-2v1m2 0v1m6-68v2m0 39v2m0 26v2m1-81v1m0 7v1m0 1v1m0 41v1m0 1v1m1-2v1m0 1v1m1-51v1m0 1v1m1-2v1m0 7v2m0 31v2m0 7v1m0 1v1m0 23v1m1-79v1m0 7v2m0 22v1m0 2v1m0 8v1m0 1v1m0 6v1m0 1v1m1-59v1m0 1v1m0 6v3m0 37v2m0 7v2m1-61v2m0 6v1m0 42v1m0 9v1m1-63v2m0 16v3m0 23v2m0 17v1m1-58v1m0 9v1m0 2v1m1-12v1m0 6v3m0 18v1m0 2v1m0 7v1m0 1v1m0 9v1m1-47v1m0 1v1m0 10v1m0 11v1m0 12v1m0 5v1m1-47v1m0 2v1m1-11v1m0 8v1m0 5v1m0 13v1m1-31v1m0 48v1m0 10v1m1-63v1m0 16v3m0 22v4m0 15v2m1-59v1m0 3v1m0 5v1m0 1v1m0 18v1m0 10v1m1-44v1m0 3v1m0 8v1m0 20v1m1-32v1m0 4v1m0 9v1m0 19v1m0 4v1m1-18v1m0 19v1m0 10v1m1-57v1m0 24v1m0 24v1m1-53v2m0 2v1m0 4v1m0 19v1m0 27v2m1-57v1m0 22v1m0 24v1m1-19v1m0 9v1m0 13v1m1-41v1m0 5v1m1-6v1m0 1v1m0 19v1m0 1v1m0 7v1m1-48v1m0 27v1m1-28v1m0 13v1m0 12v1m1-18v1m0 4v1m0 2v1m0 32v1m1-41v1m0 6v1m0 2v1m0 12v1m1-33v1m0 15v1m0 11v1m0 9v1m1-29v1m0 17v1m0 2v1m0 15v1m1-47v1m0 17v1m0 10v1m1-19v1m1 0v1m0 9v2m0 21v1m1-25v1m1-21v1m0 31v1m1-9v1m0 18v1m1-42v1m0 9v1m0 29v1m1-40v1m0 8v1m0 7v1m0 20v1m1-39v1m1 9v1m0 7v2m0 7v1m3-28v1m0 23v1m1-25v1m1-1v1m0 13v1m1-15v1m0 13v1m1-15v1m1-1v1m1 0v4m0 28v5m1-5v1m1-29v1m0 8v1m1-1v1"/>
<path stroke="#48ffb7" d="M18.5 47v1m13 49v2m2-94v3m0 79v2m1-82v1m0 79v1m0 2v1m1-89v1m0 3v1m0 81v1m0 2v1m1-91v1m0 2v1m1-5v1m0 1v1m0 88v1m0 2v1m1-95v2m0 91v3m6-95v1m0 94v1m1-96v1m1-2v1m1 94v1m1 1v1m5-73v1m0 43v1m0 25v1m1-73v2m0 45v1m0 25v1m1-75v1m0 48v2m0 24v1m1-78v2m0 51v1m1-55v1m0 19v3m0 11v2m0 10v1m0 8v1m1-57v1m1 6v2m0 41v2m1-47v1m0 1v1m0 43v1m0 1v1m1-48v1m0 7v2m0 26v3m0 7v1m1-51v1m0 19v1m0 1v1m0 9v1m0 10v1m0 7v1m1-43v1m0 34v2m0 9v1m1-56v1m0 44v1m0 1v1m0 8v1m1-52v1m0 11v1m0 8v1m0 19v1m0 2v1m0 5v1m0 1v1m1-62v1m0 6v1m0 9v1m0 14v1m0 27v1m1-52v1m0 46v1m1-42v1m0 9v1m0 11v1m0 9v1m1-23v2m0 9v1m0 9v1m0 2v1m0 5v1m1-41v1m0 34v1m1-46v1m0 4v1m0 1v1m0 37v1m0 1v1m1-45v1m0 2v1m0 10v1m0 20v1m0 14v1m0 1v1m1-10v1m0 3v1m1-51v1m0 3v1m0 35v1m0 2v1m0 8v1m1-50v1m0 4v1m1 34v1m1-29v1m0 21v1m0 15v1m1-47v1m0 6v1m0 10v1m0 9v1m1-11v1m1-25v1m0 15v1m0 16v1m0 1v1m0 5v1m1-24v2m0 10v1m0 1v1m0 16v1m1-18v1m1-31v1m0 15v1m1 0v1m0 10v1m0 7v1m1-2v1m0 9v1m1-45v1m0 32v1m1-34v1m0 22v1m1-4v1m1-20v1m0 18v1m0 11v1m1-13v1m0 20v1m2-30v1m0 8v1m0 1v1m1 7v1m1-17v1m0 13v1m1-14v1m2 10v1m3-11v1m1-14v1m0 2v1m0 9v1m0 22v1m1-33v1m0 8v1m1-10v1m0 8v1m2-10v1"/>
<path stroke="#58ffa7" d="M32.5 98v1m2-95v3m0 81v2m1-87v3m0 83v2m1-89v2m0 86v3m1-92v1m0 90v2m7-94v1m0 92v1m0 1v1m1-3v1m0 4v1m1-5v1m7 1v3m2-1v1m5-75v1m0 45v1m1-49v2m0 47v2m1-51v1m0 18v1m0 11v1m0 19v1m1-55v1m0 1v1m0 51v1m1-56v1m0 8v2m0 37v1m0 7v1m1-58v2m0 8v1m0 19v1m0 9v1m0 1v1m0 7v2m0 7v1m1-60v1m0 8v1m0 10v1m0 8v2m0 22v1m0 6v1m1-56v1m0 46v1m1-28v1m0 9v1m0 17v1m0 2v1m1-45v1m0 44v1m1-47v1m0 34v1m0 1v1m0 6v1m0 2v1m1-58v1m0 8v1m0 10v1m0 20v1m0 7v1m0 5v1m1-56v2m0 47v1m0 7v1m1-53v1m0 2v1m1 3v1m0 20v1m0 1v1m0 15v1m0 2v1m1-53v1m0 19v1m0 29v1m1-47v1m0 5v1m0 12v1m0 16v1m0 13v1m1-49v1m1 46v1m1-45v1m0 8v1m0 8v1m0 24v1m1-36v1m0 18v1m1-34v1m0 29v1m0 8v1m1-23v1m0 1v1m0 9v1m0 17v1m1-30v2m0 9v2m0 7v1m1 7v1m1-45v1m2 10v1m0 9v2m1-22v1m0 21v1m0 19v1m1-42v1m0 39v1m1-40v1m0 28v1m1-10v1m0 8v1m0 7v1m1-19v1m0 17v1m1-29v1m0 27v1m1-28v2m0 15v1m0 9v1m1-13v1m0 11v1m1-25v1m0 23v1m1-1v1m1-14v1m0 12v1m1-1v1m1-37v1m0 35v1m1-36v2m0 1v1m0 27v4m1-5v1m1-1v1m1-9v1m0 7v1m1-9v1"/>
<path stroke="#68ff97" d="M44.5 94v1m1-95v1m3 97v1m6-2v2m8-78v1m0 50v1m1-53v1m0 53v1m1-56v1m0 55v1m1-50v1m0 8v2m0 21v1m1-35v2m0 8v1m0 22v1m0 2v1m0 7v2m1-47v2m0 46v1m1-51v1m0 1v1m1-4v1m0 1v1m0 8v1m0 31v2m1-46v1m0 1v1m0 7v2m0 33v1m1-45v1m0 27v1m0 25v2m1-51v2m0 8v1m0 12v1m0 7v1m0 11v2m1-46v1m0 43v1m0 1v1m1-49v1m0 1v1m0 6v2m0 8v2m0 19v2m0 6v1m1-28v1m0 29v1m1-54v1m0 32v1m0 16v1m1-51v1m0 47v1m1-32v1m0 9v1m0 10v1m1-3v1m0 1v1m1 12v1m2-48v1m0 7v1m0 8v1m0 11v1m1 15v1m1-45v1m0 7v1m1 0v1m1 0v1m1 32v1m1-33v1m0 9v1m1-19v1m0 19v1m0 17v1m1-19v1m0 16v1m1-37v1m0 16v2m1-19v1m0 27v1m1-29v1m0 27v1m1-21v1m0 18v1m1-17v1m4-12v1m0 22v1m1-23v4m0 18v1m0 7v5m1-31v1m0 17v1m0 7v1m1-27v1m0 17v1m1-1v1m2 7v1"/>
<path stroke="#78ff87" d="M45.5 94v1m0 2v1m2-2v1m19-61v1m1 33v1m1-49v1m0 48v2m1-52v1m0 8v1m0 41v2m1-54v1m0 52v2m1-56v1m0 15v1m0 10v1m0 9v1m1-11v1m1-22v1m0 43v1m1-47v1m0 28v1m0 18v1m1-51v1m0 1v1m0 9v1m0 30v1m1-32v1m0 7v1m0 9v1m1-27v1m0 43v1m1-49v1m0 14v1m0 20v1m0 8v1m1-45v1m0 13v2m0 19v1m1-28v1m1 0v1m0 38v1m1-9v1m1-38v1m1 35v1m1-2v1m0 7v1m1-10v1m0 8v1m1-43v1m0 31v1m1-32v1m0 19v1m0 19v1m1-32v1m0 9v2m0 17v1m1-37v1m0 16v2m4-19v1m0 27v1m1-29v1m0 9v1m0 14v1m1-26v1m0 23v1m1-25v1m0 11v1m1-13v1m1 3v2m0 25v2m0 2v1m1-31v1m3-1v1m1-1v1m1-1v1"/>
<path stroke="#87ff78" d="M45.5 95v2m1-2v1m0 2v1m1-2v2m19-64v1m0 22v2m5-13v1m0 10v1m1-22v1m0 20v1m3-37v1m0 7v1m0 20v1m0 1v1m0 17v2m1-50v1m0 18v1m0 9v1m0 8v1m0 1v1m0 9v1m1-50v1m0 48v1m1-2v1m1-8v1m0 5v1m1-49v1m0 40v1m2 4v1m1-38v1m1 35v1m1-36v1m1-8v1m1 40v1m1-40v1m0 29v1m0 7v1m1-38v1m1 6v1m1-1v1m1-1v1m1-1v1m1-1v1m1-1v3m0 16v3m1-22v1m0 3v1m1 12v1m1-20v2m0 5v1m0 17v2m0 3v1m1-35v3m0 2v1m0 23v1m0 2v2m1-5v1m1-1v1m1-1v1m3-19v1"/>
<path stroke="#97ff68" d="M46.5 96v2m25-62v2m0 19v1m1-22v1m0 10v1m0 9v1m3-17v1m0 19v1m1-41v1m0 9v2m0 38v1m1-51v1m0 48v1m1-49v1m3 1v1m0 38v1m1-39v1m1 36v1m0 5v1m1-37v1m1-7v1m0 34v1m1-28v1m1-8v1m0 7v1m1-7v1m0 35v1m1-8v1m0 5v1m1-1v1m1-1v1m1-1v1m1-7v1m0 5v1m1-7v1m0 5v1m1-7v1m0 5v1m1-30v1m0 1v1m0 16v1m0 1v4m0 4v1m1-31v3m0 21v2m0 4v1m1-35v1m0 2v1m0 19v1m0 4v1m0 2v1m0 1v1m1-23v1m1-7v1m0 5v1m1-7v1m0 5v1m1-1v1m1-1v1m0 17v1m1-19v1m0 17v1"/>
<path stroke="#a7ff58" d="M75.5 42v1m0 9v1m0 10v1m1-42v1m0 39v1m0 9v1m1-50v1m0 47v2m1-46v1m0 43v1m1-49v1m1 46v1m1-2v1m1-39v1m1-6v1m1-1v1m0 35v1m1-31v1m1-6v1m0 5v1m0 26v1m0 6v1m1-40v1m0 30v1m0 6v1m1-3v1m1-35v1m1-1v1m0 27v1m1-29v1m0 27v1m1-29v1m0 27v1m1-29v1m1 4v1m1-1v1m0 23v1m1-30v1m0 3v1m0 3v2m0 15v1m1-26v1m0 2v1m0 3v1m0 2v1m0 16v1m0 2v1m1-30v2m0 3v1m0 25v1m1-10v1m0 4v1m1-1v1m2-24v1m1-1v1m1 17v1m1-1v1m0 5v1"/>
<path stroke="#b7ff48" d="M75.5 31v2m0 29v1m2-41v1m1 0v1m0 43v1m1-40v1m1-5v1m0 4v1m1-5v1m0 4v1m1 32v1m0 4v1m1-38v1m1 35v1m1-6v1m0 4v1m1-36v1m0 28v1m0 4v1m1-38v2m0 3v1m0 29v2m1-36v1m0 4v1m5-1v1m1-6v1m0 28v1m1-30v1m1 29v1m1-30v2m0 5v2m0 14v1m0 1v1m0 4v3m1-24v1m0 16v1m1-22v1m1-1v1m0 16v1m1-1v1m0 4v1m1-6v1m1-1v1m1-19v1m1-1v1"/>
<path stroke="#c7ff38" d="M78.5 24v1m0 1v1m0 43v1m1-1v1m1-6v1m1-2v1m1-39v1m1 36v1m0 3v1m1-41v1m0 3v1m1-5v1m0 3v1m0 31v1m1-36v4m0 30v4m1-35v3m0 26v1m0 1v2m1-33v1m0 27v1m0 3v1m1-29v1m0 27v1m1-29v1m0 27v1m1-29v1m0 27v1m1-29v1m0 27v1m1-5v1m2-26v1m0 25v1m0 2v1m1-33v1m0 1v1m0 27v1m0 1v1m1-9v1m1-19v1m0 16v1m0 1v1m1-17v1m0 16v1m2-22v1m1 21v1m1-1v1m2-19v1"/>
<path stroke="#d7ff28" d="M78.5 25v1m0 42v2m1-46v1m0 41v1m1 2v1m1-44v1m0 2v1m0 38v1m1-39v1m0 36v1m1-41v1m1 35v1m1-36v1m0 1v1m0 35v1m2-6v1m1-28v1m0 27v1m1-32v1m0 27v1m1-29v1m1-1v1m1 27v1m1 3v1m1-30v1m0 28v1m1-33v1m0 1v1m1-2v1m0 29v1m2-25v2m0 15v1m1-19v1m0 16v1m1-15v1m0 16v1m1-18v1m1-5v1m0 3v1m1-1v1m1-1v1m0 17v1"/>
<path stroke="#e7ff18" d="M79.5 69v1m1-45v1m0 2v1m1-2v2m0 36v1m0 1v1m1-41v1m0 1v1m0 34v1m0 1v1m1-37v1m0 33v1m0 1v1m1-39v1m0 1v1m0 33v1m0 1v1m1-38v1m0 34v2m3-34v2m0 26v2m1 0v1m1-4v1m1-1v1m1-29v1m1-1v1m0 2v1m1-4v1m0 28v1m1-29v1m0 28v2m4-25v2m0 15v2m1-20v1m0 16v1m1 2v1m2-22v1m1-1v1m0 17v1m1-1v1m0 3v1"/>
<path stroke="#f7ff08" d="M79.5 25v1m0 1v1m1-2v2m0 38v1m0 1v1m1-3v1m1-39v1m0 36v1m1-38v2m0 35v1m1-37v1m0 35v1m5-34v3m0 25v2m1-30v1m0 1v1m0 27v1m1-29v1m0 27v1m1-29v1m0 27v1m1-3v1m0 1v1m1-31v2m0 27v2m6-25v2m0 15v2m1-20v1m0 16v1m1-1v1m0 2v1m1-4v1m0 2v1m2-22v1"/>
<path stroke="#fff700" d="M79.5 26v1m0 40v2m1-2v1m10-35v1m0 26v2m1-30v2m0 26v2m1-30v2m0 26v2m1-30v2m0 27v1m8-24v2m0 15v2m1-20v1m0 1v1m1-3v1m0 1v1m1-1v1m0 17v1m1-19v1m0 15v1m0 1v1"/>
<path stroke="#ffe700" d="M102.5 38v1m0 16v2m1-19v1m0 16v2m1-20v2m0 16v2m1-20v2m0 17v1"/>
</g></g></g>
<rect x="366" y="238" width="106.0" height="99.0" fill="none" stroke="#2a4a6a" stroke-opacity="0.45" stroke-width="0.7"/>
<path d="M390.00,299.50 V271.10 A28.40,28.40 0 0 1 446.80,271.10 V299.50 A28.40,28.40 0 0 1 390.00,299.50 Z" fill="none" stroke="#1a1a1a" stroke-width="0.5" stroke-opacity="0.7"/>
<text x="365.7" y="259.6" font-size="7.5" font-family='"Liberation Sans", sans-serif' text-anchor="end" fill="#333">10</text>
<line x1="366.4" y1="256.9" x2="368" y2="256.9" stroke="#333" stroke-width="0.5" />
<text x="365.7" y="273.8" font-size="7.5" font-family='"Liberation Sans", sans-serif' text-anchor="end" fill="#333">5</text>
<line x1="366.4" y1="271.1" x2="368" y2="271.1" stroke="#333" stroke-width="0.5" />
<text x="365.7" y="288" font-size="7.5" font-family='"Liberation Sans", sans-serif' text-anchor="end" fill="#333">0</text>
<line x1="366.4" y1="285.3" x2="368" y2="285.3" stroke="#333" stroke-width="0.5" />
<text x="365.7" y="302.2" font-size="7.5" font-family='"Liberation Sans", sans-serif' text-anchor="end" fill="#333">-5</text>
<line x1="366.4" y1="299.5" x2="368" y2="299.5" stroke="#333" stroke-width="0.5" />
<text x="365.7" y="316.4" font-size="7.5" font-family='"Liberation Sans", sans-serif' text-anchor="end" fill="#333">-10</text>
<line x1="366.4" y1="313.7" x2="368" y2="313.7" stroke="#333" stroke-width="0.5" />
<text x="365.7" y="330.6" font-size="7.5" font-family='"Liberation Sans", sans-serif' text-anchor="end" fill="#333">-15</text>
<line x1="366.4" y1="327.9" x2="368" y2="327.9" stroke="#333" stroke-width="0.5" />
<text x="342.3" y="245.7" font-size="7.9" font-family='"Liberation Sans", sans-serif' text-anchor="start" fill="#333">×<tspan dx="0.3">10</tspan><tspan dy="-3.8" font-size="5.6">-6</tspan></text>
<text x="342.2" y="251.9" font-size="7.2" font-family='"Liberation Sans", sans-serif' text-anchor="start" fill="#333">m</text>
<text x="418.9" y="345.8" font-size="7.5" font-family='"Liberation Sans", sans-serif' text-anchor="middle" fill="#333">0</text>
<text x="472.7" y="345.8" font-size="7.2" font-family='"Liberation Sans", sans-serif' text-anchor="end" fill="#333">m</text>
<rect x="478.1" y="252.1" width="4.3" height="82.1" fill="url(#cbg)"/>
<text x="484.3" y="323.5" font-size="7.8" font-family='"Liberation Sans", sans-serif' text-anchor="start" fill="#333">0.5</text>
<text x="484.3" y="310.1" font-size="7.8" font-family='"Liberation Sans", sans-serif' text-anchor="start" fill="#333">1</text>
<text x="484.3" y="296.6" font-size="7.8" font-family='"Liberation Sans", sans-serif' text-anchor="start" fill="#333">1.5</text>
<text x="484.3" y="283.2" font-size="7.8" font-family='"Liberation Sans", sans-serif' text-anchor="start" fill="#333">2</text>
<text x="484.3" y="269.7" font-size="7.8" font-family='"Liberation Sans", sans-serif' text-anchor="start" fill="#333">2.5</text>
<text x="484.3" y="256.2" font-size="7.8" font-family='"Liberation Sans", sans-serif' text-anchor="start" fill="#333">3</text>
<clipPath id="hcf"><rect x="537" y="238" width="106.0" height="98.0"/></clipPath>
<g clip-path="url(#hcf)"><g filter="url(#hblur)">
<g transform="translate(537 238)" shape-rendering="crispEdges" fill="none" stroke-width="1">
<rect width="106" height="98" fill="#28ffd7" stroke="none"/>
<path stroke="#0008ff" d="M71.5 9v1m0 73v1m1-75v1m0 73v1m1-73v1m0 69v1m1-71v1m0 69v1m4-70v2m0 65v2m1-69v2m0 65v2"/>
<path stroke="#0018ff" d="M69.5 9v1m0 73v1m1-75v1m0 73v1m1-74v1m0 71v1m1-73v1m0 71v1m1-75v3m0 1v1m0 67v1m0 1v3m1-75v1m0 1v1m0 67v1m0 1v1m1-72v1m0 69v1m2-71v2m0 67v2m1-71v1m0 2v1m0 63v1m0 2v1m1-71v1m0 2v1m0 63v1m0 2v1m1-72v3m0 67v3m1-73v1m0 71v1m5-69v2m0 61v2m1-65v1m0 63v1m1-66v1m0 65v1m1-68v1m0 67v1m1-69v1m0 67v1m1-70v1m0 69v1m8-67v1m0 61v1m1-64v1m0 63v1m1-65v1m0 63v1m1-66v1m0 65v1m1-67v1m0 65v1m1-68v1m0 67v1m1-69v1m0 67v1"/>
<path stroke="#0028ff" d="M61.5 5v1m0 81v1m1-84v1m0 83v1m3-82v1m0 77v1m1-79v1m0 77v1m1-80v2m0 77v2m1-81v1m0 79v1m1-77v1m0 71v1m1-73v1m0 71v1m1-75v1m0 75v1m1-77v1m0 2v1m0 69v1m0 2v1m2-77v2m0 73v2m1-75v1m0 1v1m0 67v1m0 1v1m1-73v3m0 67v3m1-70v2m0 63v2m1-70v1m0 71v1m1-73v1m0 71v1m1-70v2m0 63v2m1-71v1m0 1v2m0 67v2m0 1v1m1-75v2m0 71v2m1-76v1m0 75v1m2-71v3m0 59v3m1-63v1m0 59v1m1-64v1m0 1v1m0 61v1m0 1v1m1-68v1m0 1v1m0 63v1m0 1v1m1-68v1m0 65v1m1-69v1m0 69v1m1-70v1m0 67v1m1-71v2m0 69v2m1-73v1m0 71v1m1-74v2m0 71v2m1-75v1m0 73v1m1-76v1m0 8v1m0 57v1m0 8v1m1-69v1m0 59v1m1-62v2m0 59v2m1-64v1m0 63v1m1-64v1m0 61v1m1-65v1m0 65v1m1-66v1m0 63v1m1-67v1m0 67v1m1-68v1m0 65v1m1-69v1m0 69v1"/>
<path stroke="#0038ff" d="M56.5 3v1m0 85v1m4-85v1m0 81v1m3-84v1m0 83v1m2-81v1m0 75v1m1-79v1m0 79v1m1-82v1m0 81v1m1-83v1m0 1v1m0 1v2m0 71v2m0 1v1m0 1v1m1-83v2m0 1v1m0 75v1m0 1v2m1-80v1m0 75v1m2-78v1m0 4v1m0 67v1m0 4v1m1-79v1m0 77v1m1-79v1m0 77v1m1-80v4m0 73v4m1-78v1m0 3v1m0 65v1m0 3v1m1-74v1m0 71v1m1-68v1m0 61v1m1-69v1m0 73v1m1-75v1m0 73v1m1-76v1m0 4v2m0 63v2m0 4v1m1-77v1m0 2v3m0 65v3m0 2v1m1-76v2m0 71v2m1-77v3m0 4v4m0 57v4m0 4v3m1-79v1m0 5v1m0 3v1m0 57v1m0 3v1m0 5v1m1-80v1m0 6v1m0 65v1m0 6v1m1-75v1m0 3v1m0 59v1m0 3v1m1-66v1m0 61v1m1-67v1m0 2v1m0 63v1m0 2v1m1-69v1m0 65v1m1-70v1m0 71v1m1-71v1m0 67v1m1-72v1m0 1v1m0 69v1m0 1v1m1-76v1m0 9v1m0 55v1m0 9v1m1-77v1m0 1v1m0 6v2m0 55v2m0 6v1m0 1v1m1-76v1m0 6v1m0 59v1m0 6v1m1-77v2m0 6v1m0 1v1m0 57v1m0 1v1m0 6v2m1-79v2m0 75v2m1-80v2m0 8v1m0 59v1m0 8v2m1-81v1m0 6v1m0 65v1m0 6v1m1-82v1m0 9v1m0 61v1m0 9v1m1-76v1m0 67v1m1-67v1m0 63v1m1-68v1m0 69v1m1-69v1m0 65v1"/>
<path stroke="#0048ff" d="M55.5 4v1m0 83v1m2-87v1m0 87v1m3-85v1m0 79v1m1-83v1m0 83v1m1-84v1m0 81v1m1-85v1m0 85v1m1-87v1m0 4v1m0 75v1m0 4v1m1-84v1m0 79v1m1-79v1m0 75v1m1-77v1m0 75v1m1-81v1m0 3v1m0 75v1m0 3v1m1-85v1m0 2v1m0 77v1m0 2v1m1-85v4m0 77v4m1-82v1m0 3v1m0 69v1m0 3v1m2-80v1m0 6v1m0 65v1m0 6v1m1-81v1m0 6v1m0 65v1m0 6v1m1-74v1m0 65v1m1-75v4m0 5v1m0 63v1m0 5v4m1-83v5m0 5v1m0 61v1m0 5v5m1-79v1m0 73v1m1-76v1m0 6v1m0 61v1m0 6v1m1-77v1m0 6v1m0 61v1m0 6v1m1-70v1m0 61v1m1-71v1m0 6v2m0 61v2m0 6v1m1-79v1m0 3v6m0 59v6m0 3v1m1-80v1m0 3v1m0 1v2m0 65v2m0 1v1m0 3v1m1-81v1m0 1v2m0 2v1m0 67v1m0 2v2m0 1v1m1-82v1m0 1v1m0 4v1m0 4v1m0 57v1m0 4v1m0 4v1m0 1v1m1-83v2m0 4v1m0 69v1m0 4v2m1-83v1m0 5v1m0 69v1m0 5v1m1-78v1m0 4v1m0 61v1m0 4v1m1-73v1m0 3v1m0 63v1m0 3v1m1-74v1m0 3v1m0 65v1m0 3v1m1-75v1m0 73v1m1-72v1m0 5v2m0 20v1m0 11v1m0 20v2m0 5v1m1-70v1m0 5v1m0 1v1m0 53v1m0 1v1m0 5v1m1-66v1m0 59v1m1-70v1m0 7v1m0 2v1m0 55v1m0 2v1m0 7v1m1-77v1m0 73v1m1-78v1m0 7v1m0 2v1m0 57v1m0 2v1m0 7v1m1-74v1m0 65v1m1-75v1m0 1v1m0 8v1m0 59v1m0 8v1m0 1v1m1-82v1m0 5v1m0 67v1m0 5v1m1-83v2m0 9v1m0 61v1m0 9v2m1-85v1m0 6v1m0 69v1m0 6v1m1-85v1m0 9v1m0 63v1m0 9v1"/>
<path stroke="#0058ff" d="M57.5 3v1m0 85v1m2-84v1m0 79v1m3-84v1m0 85v1m1-85v1m0 81v1m1-86v1m0 1v1m0 2v1m0 77v1m0 2v1m0 1v1m2-86v1m0 81v1m1-84v1m0 83v1m2-86v1m0 85v1m1-87v1m0 7v1m0 69v1m0 7v1m1-87v4m0 5v1m0 67v1m0 5v4m1-85v2m0 6v1m0 65v1m0 6v2m1-83v1m0 81v1m1-83v1m0 81v1m1-83v1m0 81v1m1-84v1m0 83v1m1-85v1m0 83v1m1-85v5m0 75v5m1-85v1m0 2v1m0 77v1m0 2v1m1-82v1m0 77v1m1-79v1m0 77v1m1-70v1m0 59v1m1-71v1m0 10v1m0 57v1m0 10v1m1-76v1m0 69v1m1-77v1m0 4v2m0 69v2m0 4v1m1-80v4m0 69v4m1-81v1m0 2v2m0 1v1m0 6v1m0 57v1m0 6v1m0 1v2m0 2v1m1-85v1m0 1v1m0 3v1m0 5v1m0 59v1m0 5v1m0 3v1m0 1v1m1-85v2m0 81v2m1-86v2m0 4v1m0 5v1m0 61v1m0 5v1m0 4v2m1-76v1m0 63v1m1-71v1m0 4v1m0 5v1m0 19v2m0 11v2m0 19v1m0 5v1m0 4v1m1-77v1m0 8v1m0 21v1m0 13v1m0 21v1m0 8v1m1-73v1m0 3v1m0 59v1m0 3v1m1-74v1m0 3v1m0 3v1m0 3v1m0 53v1m0 3v1m0 3v1m0 3v1m1-76v1m0 71v1m1-77v1m0 7v1m0 3v1m0 55v1m0 3v1m0 7v1m1-78v1m0 3v1m0 65v1m0 3v1m1-79v1m0 2v1m0 8v1m0 57v1m0 8v1m0 2v1m1-76v1m0 67v1m1-77v1m0 2v1m0 77v1m0 2v1m1-83v1m0 4v1m0 69v1m0 4v1m1-84v1m0 1v1m0 81v1m0 1v1m1-87v1m0 6v1m0 71v1m0 6v1m1-88v3m0 5v1m0 71v1m0 5v3"/>
<path stroke="#0068ff" d="M48.5 5v1m0 81v1m1-85v2m0 83v2m5-86v2m0 81v2m1-86v1m0 85v1m1-88v1m0 1v1m0 83v1m0 1v1m2-90v1m0 89v1m3-86v1m0 79v1m2-85v1m0 87v1m1-86v2m0 79v2m1-86v4m0 81v4m1-87v1m0 83v1m1-80v2m0 71v2m1-81v1m0 7v1m0 69v1m0 7v1m1-79v1m0 69v1m1-80v1m0 87v1m1-89v1m0 87v1m1-89v3m0 83v3m1-87v1m0 83v1m1-85v1m0 83v1m1-85v1m0 9v1m0 63v1m0 9v1m1-74v1m0 61v1m1-75v1m0 85v1m1-87v1m0 85v1m1-88v2m0 1v2m0 79v2m0 1v2m1-89v5m0 79v5m1-85v1m0 9v1m0 59v1m0 9v1m1-81v1m0 10v1m0 57v1m0 10v1m1-69v1m0 55v1m1-70v1m0 12v1m0 55v1m0 12v1m1-70v1m0 55v1m1-71v1m0 83v1m1-80v1m0 73v1m1-81v1m0 3v3m0 7v1m0 57v1m0 7v3m0 3v1m1-87v1m0 2v4m0 6v1m0 59v1m0 6v4m0 2v1m1-88v1m0 2v1m0 2v1m0 7v1m0 59v1m0 7v1m0 2v1m0 2v1m1-89v3m0 3v1m0 6v2m0 59v2m0 6v1m0 3v3m1-89v2m0 10v5m0 1v1m0 51v1m0 1v5m0 10v2m1-84v1m0 5v4m0 3v1m0 20v1m0 9v1m0 20v1m0 3v4m0 5v1m1-79v1m0 5v3m0 4v1m0 19v1m0 11v1m0 19v1m0 4v3m0 5v1m1-74v3m0 63v3m1-75v1m0 4v1m0 1v2m0 4v1m0 53v1m0 4v2m0 1v1m0 4v1m1-77v2m0 1v1m0 65v1m0 1v2m1-78v1m0 4v1m0 1v1m0 5v1m0 55v1m0 5v1m0 1v1m0 4v1m1-79v1m0 2v1m0 67v1m0 2v1m1-80v1m0 3v1m0 75v1m0 3v1m1-78v1m0 4v1m0 59v1m0 4v1m1-79v1m0 3v1m0 77v1m0 3v1m1-84v1m0 3v1m0 4v1m0 61v1m0 4v1m0 3v1m1-85v1m0 2v1m0 81v1m0 2v1m1-77v1m0 7v1m0 47v1m0 7v1"/>
<path stroke="#0078ff" d="M47.5 6v1m0 79v1m1-83v1m0 83v1m2-87v2m0 85v2m7-90v1m0 89v1m1-90v1m0 87v1m1-86v1m0 1v1m0 77v1m0 1v1m1-84v1m0 83v1m1-86v1m0 37v2m0 7v2m0 37v1m2-84v1m0 1v2m0 73v2m0 1v1m1-78v1m0 73v1m1-83v1m0 89v1m1-90v2m0 5v1m0 31v2m0 7v2m0 31v1m0 5v2m1-88v1m0 7v1m0 69v1m0 7v1m2-88v1m0 34v1m0 8v1m0 8v1m0 34v1m3-90v1m0 89v1m1-90v2m0 30v1m0 23v1m0 30v2m1-88v1m0 10v1m0 63v1m0 10v1m1-87v1m0 85v1m1-87v1m0 85v1m1-74v1m0 59v1m1-75v1m0 13v1m0 59v1m0 13v1m1-75v1m0 59v1m1-76v1m0 14v1m0 59v1m0 14v1m1-91v5m0 81v5m1-91v2m0 2v1m0 12v1m0 55v1m0 12v1m0 2v2m1-87v1m0 81v1m2-84v1m0 83v1m1-71v1m0 55v1m1-72v1m0 85v1m2-88v1m0 14v1m0 57v1m0 14v1m1-85v2m0 9v1m0 57v1m0 9v2m1-86v1m0 3v3m0 9v4m0 51v4m0 9v3m0 3v1m1-91v1m0 2v1m0 2v1m0 33v1m0 9v1m0 33v1m0 2v1m0 2v1m1-91v3m0 85v3m1-92v2m0 4v1m0 32v1m0 1v1m0 9v1m0 1v1m0 32v1m0 4v2m1-93v1m0 5v1m0 79v1m0 5v1m1-81v1m0 67v1m1-76v1m0 6v1m0 67v1m0 6v1m1-77v1m0 69v1m1-78v1m0 5v2m0 69v2m0 5v1m1-80v3m0 5v1m0 57v1m0 5v3m1-81v1m0 4v3m0 71v3m0 4v1m1-82v3m0 5v1m0 59v1m0 5v3m1-83v1m0 4v1m0 1v1m0 73v1m0 1v1m0 4v1m1-85v1m0 2v1m0 5v1m0 6v2m0 45v2m0 6v1m0 5v1m0 2v1m1-86v1m0 3v1m0 3v1m0 11v1m0 1v1m0 20v2m0 1v2m0 20v1m0 1v1m0 11v1m0 3v1m0 3v1"/>
<path stroke="#0087ff" d="M41.5 6v1m0 79v1m1-82v1m0 81v1m4-81v1m0 77v1m1-81v1m0 81v1m3-79v1m0 73v1m1-82v1m0 4v2m0 75v2m0 4v1m1-85v1m0 79v1m1-82v1m0 81v1m2-83v1m0 81v1m3-85v1m0 3v1m0 77v1m0 3v1m4-88v1m0 3v1m0 79v1m0 3v1m1-84v1m0 77v1m1-85v1m0 35v1m0 8v1m0 8v1m0 35v1m1-83v1m0 73v1m1-83v1m0 31v1m0 25v1m0 31v1m1-90v1m0 87v1m1-89v1m0 87v1m1-55v1m0 1v1m0 6v1m0 1v1m0 6v1m0 1v1m1-56v1m0 10v1m0 67v1m0 10v1m1-91v1m0 11v1m0 65v1m0 11v1m2-91v1m0 89v1m1-91v2m0 87v2m1-90v1m0 12v1m0 61v1m0 12v1m1-89v1m0 13v1m0 59v1m0 13v1m1-89v1m0 87v1m2-90v1m0 89v1m2-92v1m0 16v1m0 57v1m0 16v1m1-93v1m0 2v2m0 83v2m0 2v1m1-93v5m0 83v5m1-90v2m0 30v1m0 21v1m0 30v2m1-87v1m0 85v1m1-87v1m0 85v1m1-72v1m0 55v1m1-73v1m0 15v1m0 55v1m0 15v1m1-73v1m0 55v1m1-74v1m0 16v3m0 51v3m0 16v1m1-71v1m0 17v2m0 11v2m0 17v1m1-72v1m0 4v2m0 14v1m0 49v1m0 14v2m0 4v1m1-93v1m0 3v3m0 79v3m0 3v1m1-91v2m0 1v1m0 81v1m0 1v2m1-90v1m0 3v1m0 14v1m0 51v1m0 14v1m0 3v1m0 1v1m1-94v1m0 4v1m0 81v1m0 4v2m1-75v1m0 53v1m0 19v1m1-90v1m0 83v1m1-71v1m0 55v1m1-72v1m0 85v1m1-73v1m0 57v1m1-74v1m0 87v1m1-83v1m0 7v1m0 6v1m0 45v1m0 6v1m0 7v1m1-78v2m0 12v1m0 49v1m0 12v2m1-80v3m0 6v1m0 4v1m0 25v1m0 25v1m0 4v1m0 6v3"/>
<path stroke="#0097ff" d="M43.5 4v1m0 83v1m1-80v1m0 73v1m1-76v1m0 75v1m5-77v1m0 75v1m1-84v1m0 89v1m2-86v1m0 79v1m1-52v2m0 19v2m1-49v1m0 73v1m1-76v1m0 75v1m1-81v1m0 2v2m0 21v1m0 31v1m0 21v2m0 2v1m1-89v1m0 5v1m0 30v1m0 8v1m0 8v1m0 30v1m0 5v1m1-93v3m0 1v1m0 83v1m0 1v3m1-90v1m0 3v1m0 77v1m0 3v1m1-57v1m0 25v1m1-51v1m0 21v1m0 29v1m0 21v1m1-83v1m0 89v1m2-92v1m0 91v1m1-93v1m0 9v1m0 21v1m0 27v1m0 21v1m0 9v1m1-92v1m0 89v1m1-91v1m0 89v1m1-91v1m0 89v1m1-54v1m0 15v1m1-55v1m0 91v1m1-93v1m0 32v1m0 7v2m0 7v2m0 7v1m0 32v1m1-93v1m0 13v1m0 27v1m0 7v1m0 27v1m0 13v1m1-93v1m0 26v1m0 7v2m0 19v2m0 7v1m0 26v1m1-93v2m0 89v2m1-92v1m0 89v1m1-91v1m0 89v1m1-91v1m0 89v1m2-92v1m0 16v1m0 57v1m0 16v1m1-75v1m0 55v1m1 18v1m1-75v1m0 15v1m0 21v1m0 15v1m0 19v1m1-94v3m0 16v1m0 16v1m0 9v1m0 9v1m0 16v1m0 16v4m1-92v1m0 33v1m0 19v1m0 33v1m0 2v1m1-92v1m0 87v1m1-89v1m0 87v1m2-90v1m0 17v1m0 53v1m0 17v1m1-71v1m0 49v1m1-72v1m0 91v1m1-55v1m0 15v1m1-34v1m0 16v1m0 15v1m0 16v1m0 21v1m1-90v1m0 83v1m0 4v1m1-92v3m0 35v2m0 9v2m0 35v3m1-90v2m0 1v1m0 15v1m0 51v1m0 15v1m0 1v2m0 2v1m1-95v1m0 3v1m0 83v1m0 3v1m0 1v1m1-92v1m0 15v1m0 53v1m0 15v1m0 3v3m1-93v1m0 85v1m1-72v1m0 55v1m1-73v1m0 87v1m1-74v1m0 5v1m0 45v1m0 5v1m1-54v1m0 1v1m0 43v1m0 1v1m1-70v1m0 14v1m0 3v1m0 3v1m0 19v1m0 3v1m0 19v1m0 3v1m0 3v1m0 14v1m1-76v1m0 2v1m0 53v1m0 2v1"/>
<path stroke="#00a7ff" d="M38.5 10v1m0 71v1m1-75v2m0 73v2m0 10v1m1-89v1m0 77v1m0 10v2m1-91v1m0 77v1m1-82v1m0 1v1m0 79v1m0 1v1m1-86v1m0 6v1m0 71v1m0 6v1m3-84v1m0 7v1m0 63v1m0 7v1m1-75v1m0 67v1m2-71v1m0 71v1m1-79v1m0 28v1m0 25v1m0 28v1m1-86v1m0 85v1m1-83v1m0 77v1m1-82v1m0 83v1m1-86v1m0 33v1m0 17v1m0 33v1m1-88v1m0 7v1m0 71v1m0 7v1m1-82v1m0 73v1m1-53v1m0 29v1m1-58v1m0 33v1m0 6v1m0 1v1m0 6v1m0 33v1m1-86v1m0 85v1m2-88v1m0 7v1m0 21v1m0 7v1m0 11v1m0 7v1m0 21v1m0 7v1m1-83v1m0 1v1m0 21v1m0 27v1m0 21v1m0 1v1m2-85v1m0 35v1m0 1v1m0 6v1m0 1v1m0 6v1m0 1v1m0 35v1m2-82v1m0 22v1m0 5v1m0 2v1m0 5v1m0 2v1m0 5v1m0 22v1m1-82v1m0 91v1m1-93v1m0 91v1m2-93v1m0 36v1m0 7v3m0 7v1m0 36v1m2-79v1m0 63v1m1-54v1m0 7v1m0 9v1m0 5v1m0 9v1m0 7v1m0 25v1m1-1v1m1-57v1m0 8v1m0 8v1m0 37v1m1-94v1m0 91v1m1-93v1m0 91v1m1-93v1m0 91v1m1-93v1m0 16v1m0 57v1m0 16v1m2 0v1m1-75v1m0 53v1m1-40v1m0 23v1m0 35v1m1-1v1m1-95v2m0 17v1m0 15v1m0 21v1m0 15v1m0 17v2m0 1v1m1-95v2m0 17v1m0 53v1m0 17v4m1-94v1m0 17v1m0 53v1m0 17v1m1-91v1m0 17v1m0 53v1m0 17v1m1-72v1m0 51v1m1-73v1m0 91v1m1-55v1m0 2v1m0 9v1m0 2v1m1 38v1m2-73v1m0 49v1m1-33v1m0 13v1m0 40v1m1-92v1m0 85v1m1-89v3m0 16v1m0 51v1m0 16v3m0 3v1m1-96v1m0 1v1m0 87v1m0 1v1m1-91v1m0 16v1m0 53v1m0 16v1m0 2v4m1-95v1m0 87v1m0 4v2m1-79v1m0 55v1m1-74v1m0 16v1m0 3v1m0 1v1m0 43v1m0 1v1m0 3v1m0 16v1m1-91v1m0 15v1m0 2v2m0 49v2m0 2v1m0 15v1m1-75v3m0 25v1m0 1v1m0 25v3m1-76v1m0 16v2m0 5v1m0 43v1m0 5v2m0 16v1"/>
<path stroke="#00b7ff" d="M38.5 9v1m0 27v3m0 13v3m0 27v1m0 9v2m1-1v1m1-87v1m0 75v1m1 12v1m1-59v2m0 11v2m1-43v1m0 69v1m1-72v1m0 71v1m1-76v1m0 1v1m0 73v1m0 1v1m1-73v1m0 65v1m1-67v1m0 65v1m1-77v1m0 85v1m1-88v1m0 2v1m0 28v2m0 21v2m0 28v1m0 2v1m1-90v1m0 32v1m0 23v1m0 32v1m1-86v1m0 79v1m1-86v1m0 3v1m0 81v1m0 3v1m1-64v1m0 17v1m0 17v1m1-59v1m0 3v2m0 22v1m0 10v3m0 10v1m0 22v2m0 3v1m2-86v1m0 3v1m0 1v1m0 33v1m0 9v1m0 33v1m0 1v1m0 3v1m1-92v1m0 91v1m1-88v1m0 2v1m0 27v1m0 19v1m0 27v1m0 2v1m1-53v2m0 19v2m0 35v1m1-94v3m0 7v2m0 69v2m0 7v3m1-86v1m0 1v1m0 33v1m0 5v1m0 33v1m0 1v1m1-85v1m0 5v1m0 22v1m0 9v1m0 11v1m0 9v1m0 22v1m0 5v1m1-82v1m0 71v1m2-73v1m0 71v1m1 10v1m1-82v1m0 19v2m0 7v2m0 7v2m0 7v2m0 19v1m0 12v1m1-82v1m0 67v1m1-81v1m0 11v1m0 67v1m0 11v1m1-80v1m0 15v2m0 8v1m0 13v1m0 8v2m0 15v1m1-66v1m0 63v1m0 14v1m1-62v1m0 27v1m0 32v1m1-59v1m0 5v1m0 9v1m0 5v1m1-43v1m0 61v1m0 16v1m1-79v1m0 59v1m0 17v1m1-2v2m1-2v1m1-77v1m0 13v1m0 29v1m0 13v1m0 17v1m1-1v1m1-76v1m0 55v1m0 18v1m2-60v1m0 23v1m0 35v1m1-59v1m0 9v1m0 9v1m1-23v1m0 10v1m0 1v1m0 10v1m0 36v1m1-50v1m0 48v1m1-60v1m0 19v1m0 38v1m1-96v1m0 91v4m1-96v1m0 19v1m0 51v1m0 19v1m1-93v1m0 20v1m0 49v1m0 20v1m1-55v2m0 13v2m1 38v1m2-52v1m0 7v1m1-13v1m0 3v1m0 7v1m0 3v1m0 39v1m1-74v1m0 49v1m1-31v1m0 9v1m0 43v1m2-95v1m0 18v1m0 51v1m0 18v1m0 4v1m1-97v2m0 89v2m1-92v1m0 17v1m0 53v1m0 17v1m0 1v2m0 2v1m1-97v1m0 17v1m0 3v2m0 43v2m0 3v1m0 17v1m0 3v3m1-79v3m0 49v3m0 22v2m1-98v1m0 17v2m0 24v1m0 3v1m0 24v2m0 17v1m1-93v1m0 42v1m0 2v1m0 2v1m0 42v1m1-50v1m0 5v1"/>
<path stroke="#00c7ff" d="M33.5 28v2m0 33v2m1-26v2m0 11v2m3-54v1m0 10v2m0 67v2m0 10v1m1-82v1m0 28v1m0 11v1m0 28v1m1 14v1m2-92v1m0 81v1m1-77v2m0 25v1m0 2v1m0 9v1m0 2v1m0 25v2m1-77v1m0 3v1m0 73v1m0 3v1m1-80v1m0 75v1m2-77v1m0 13v1m0 8v2m0 6v3m0 9v3m0 6v2m0 8v1m0 13v1m1-81v1m0 2v1m0 77v1m0 2v1m1-83v1m0 4v1m0 69v1m0 4v1m1-62v2m0 9v1m0 9v1m0 9v1m0 9v2m1-58v1m0 13v1m0 7v1m0 2v1m0 21v1m0 2v1m0 7v1m0 13v1m1-83v1m0 13v1m0 25v2m0 9v2m0 25v1m0 13v1m1-93v1m0 1v1m0 10v1m0 65v1m0 10v1m0 1v1m1-90v1m0 8v1m0 16v1m0 7v1m0 7v1m0 1v1m0 7v1m0 7v1m0 16v1m0 8v1m2-84v1m0 1v1m0 75v1m0 1v1m1-47v1m0 1v1m0 7v1m0 1v1m1-48v2m0 22v1m0 33v1m0 22v2m1-60v2m0 33v2m0 28v1m1-86v1m0 2v2m0 24v1m0 17v1m0 24v2m0 2v1m1 8v1m1-93v1m0 6v1m0 22v1m0 29v1m0 22v1m0 6v1m1-59v1m0 25v1m1-60v1m0 36v2m0 15v2m0 36v1m1-83v1m0 71v1m1 10v1m1-82v1m0 18v1m0 29v1m0 18v1m1-47v1m0 23v1m1 34v1m1-66v2m0 33v2m0 28v1m1-66v1m0 7v1m0 19v1m0 7v1m0 28v1m2-60v1m0 8v1m0 5v1m0 8v1m1-33v1m0 39v1m0 27v1m1-69v1m0 39v1m1-39v1m0 7v1m0 1v1m0 6v1m0 1v1m0 6v1m0 1v1m0 7v1m1 30v1m1-79v1m0 12v1m0 31v1m0 12v1m0 18v1m1-1v1m1-63v1m0 27v1m1 33v1m1-76v1m0 53v1m0 20v1m1-60v1m0 21v1m1-13v1m0 1v1m0 47v1m2-59v1m0 7v1m0 1v1m0 7v1m0 40v1m1-60v1m0 17v1m0 40v1m1-1v1m1-4v4m1-4v1m1-72v1m0 17v1m0 11v1m0 17v1m0 22v1m1-72v1m0 47v1m1-49v1m0 19v1m0 7v1m0 19v1m0 23v1m1-1v1m2-53v1m0 7v1m0 44v1m1-75v1m0 18v1m0 1v1m0 7v1m0 1v1m0 18v1m1 24v1m2-77v1m0 51v1m0 24v1m1-98v1m0 19v1m0 3v1m0 43v1m0 3v1m0 19v1m1-93v1m0 19v3m0 2v1m0 41v1m0 2v3m0 19v3m1-95v1m0 24v1m0 41v1m0 24v1m0 2v1m1-71v1m0 17v1m0 1v1m0 1v1m0 1v1m0 17v1m0 28v2m1-5v1m1-1v1"/>
<path stroke="#00d7ff" d="M30.5 33v3m0 4v2m0 9v2m0 4v3m1-15v3m2-18v1m0 7v1m0 15v1m0 7v1m1-47v1m0 19v3m0 2v1m0 9v1m0 2v3m0 19v1m1-63v2m0 61v2m1-66v1m0 65v1m1-70v1m0 18v2m0 31v2m0 18v1m0 10v1m1-76v1m0 8v2m0 7v1m0 4v1m0 9v1m0 4v1m0 7v2m0 8v1m1-68v1m0 2v1m0 5v1m0 59v1m0 5v1m0 2v1m1-80v1m0 8v1m0 61v1m0 8v1m0 8v1m1-83v2m0 16v3m0 25v3m0 16v2m1-73v1m0 29v1m0 4v1m0 7v1m0 4v1m0 29v1m1-68v1m0 55v1m1-73v2m0 42v1m0 42v2m1-76v1m0 7v2m0 7v3m0 11v1m0 11v3m0 7v2m0 7v1m1-55v1m0 6v1m0 7v1m0 3v1m0 7v1m0 3v1m0 7v1m0 6v1m1-30v1m0 11v1m1-41v1m0 67v1m1-72v1m0 1v1m0 5v1m0 15v1m0 11v1m0 1v1m0 11v1m0 15v1m0 5v1m0 1v1m1-77v1m0 8v1m0 25v2m0 5v2m0 25v1m0 8v1m1-82v1m0 4v1m0 5v1m0 26v1m0 7v1m0 26v1m0 5v1m0 4v1m1-86v2m0 7v1m0 67v1m0 7v2m0 3v1m1-83v1m0 15v1m0 10v1m0 15v1m0 10v1m0 15v1m1-80v1m0 23v1m0 11v1m0 5v1m0 3v1m0 5v1m0 11v1m0 23v1m2-85v1m0 79v1m1-73v1m0 17v1m0 6v2m0 11v2m0 6v1m0 17v1m1-67v2m0 21v1m0 8v1m0 3v1m0 8v1m0 21v2m1-35v1m0 47v1m1-87v2m0 73v2m0 9v1m1-95v1m0 10v1m0 22v1m0 23v1m0 22v1m0 10v2m1-94v1m0 38v1m0 1v1m0 9v1m0 1v1m0 38v1m1-48v3m1-20v1m0 35v1m0 28v1m1-83v1m0 15v1m0 37v1m0 15v1m1 12v1m1-55v1m0 2v1m0 5v1m0 2v1m0 41v1m1-1v1m1-68v1m0 11v1m0 13v1m0 11v1m0 28v1m2-1v1m1-55v1m0 11v1m0 41v1m1-80v1m0 61v1m1-50v1m0 8v1m0 6v2m0 1v2m0 6v1m0 8v1m0 30v1m1-67v1m0 33v1m0 31v1m1-79v1m0 11v1m0 8v1m0 15v1m0 8v1m0 11v1m1-45v1m0 29v1m0 33v1m1-66v1m0 1v1m0 7v2m0 9v2m0 7v1m0 1v1m0 32v1m1-78v1m0 12v1m0 9v1m0 9v1m0 9v1m0 12v1m0 19v1m2-62v1m0 25v1m1 35v1m2-59v1m0 17v1m0 40v1m1-63v1m0 23v1m1-39v1m0 14v1m0 21v1m0 14v1m1-53v1m0 16v1m0 17v1m0 16v1m0 24v1m1-77v1m0 49v1m0 25v1m1-76v1m0 15v1m0 15v1m0 15v1m0 23v4m1-57v1m0 9v1m0 42v4m1-56v1m0 7v1m0 43v1m2-73v1m0 47v1m0 24v1m1-1v1m1-58v1m0 15v1m1 41v1m1-76v1m0 19v2m0 7v2m0 19v1m1-51v1m0 49v1m0 25v1m1-77v1m0 49v1m1-51v3m0 1v1m0 41v1m0 1v3m2-29v2m0 3v2m0 43v2m1-49v1m0 46v3m1-71v1m0 41v1m0 26v1m0 1v2m1-4v1"/>
<path stroke="#00e7ff" d="M26.5 46v1m1-39v1m0 36v3m0 36v1m2-60v3m0 12v2m0 9v2m0 12v3m1-53v2m0 6v3m0 6v1m0 3v4m0 2v2m0 5v2m0 2v4m0 3v1m0 6v3m0 6v2m1-64v1m0 6v2m0 21v1m0 3v1m0 21v2m0 6v1m1-67v1m0 7v2m0 7v2m0 31v2m0 7v2m0 7v1m1-70v1m0 7v1m0 7v1m0 9v1m0 1v2m0 11v2m0 1v1m0 9v1m0 7v1m0 7v1m1-67v1m0 1v1m0 8v2m0 7v1m0 6v2m0 5v2m0 6v1m0 7v2m0 8v1m0 1v1m1-65v1m0 10v1m0 43v1m0 10v1m1-79v1m0 10v1m0 67v1m0 10v1m1-91v1m0 26v1m0 2v1m0 29v1m0 2v1m0 26v1m1-92v1m0 7v1m0 8v1m0 1v1m0 6v1m0 2v1m0 12v1m0 7v1m0 12v1m0 2v1m0 6v1m0 1v1m0 8v1m0 7v1m0 2v1m1-79v1m0 28v1m0 28v1m1-67v1m0 4v1m0 8v2m0 43v2m0 8v1m0 4v1m1-76v1m0 3v1m0 21v1m0 23v1m0 21v1m0 3v1m1-75v1m0 2v1m0 5v2m0 7v3m0 5v1m0 6v1m0 5v1m0 6v1m0 5v3m0 7v2m0 5v1m0 2v1m1-81v1m0 14v1m0 1v1m0 7v1m0 9v2m0 15v2m0 9v1m0 7v1m0 1v1m0 14v1m1-90v1m0 2v1m0 40v1m0 1v1m0 40v1m0 2v1m1-70v1m0 8v1m0 3v1m0 9v1m0 1v1m0 9v1m0 3v1m0 8v1m1-59v1m0 2v1m0 5v1m0 11v1m0 3v1m0 5v1m0 5v1m0 5v1m0 3v1m0 11v1m0 5v1m0 2v1m1-70v1m0 8v1m0 17v2m0 1v1m0 9v1m0 1v2m0 17v1m0 8v1m1-72v1m0 7v2m0 7v1m0 37v1m0 7v2m0 7v1m1-65v1m0 8v1m0 16v1m0 3v1m0 16v1m0 8v1m1-70v1m0 9v1m0 7v1m0 1v1m0 10v1m0 4v1m0 9v1m0 4v1m0 10v1m0 1v1m0 7v1m0 9v1m1-83v1m0 16v2m0 15v1m0 13v1m0 15v2m0 16v1m1-74v1m0 6v1m0 7v2m0 31v2m0 7v1m0 6v1m1-78v2m0 4v1m0 11v1m0 10v1m0 5v1m0 7v1m0 3v1m0 7v1m0 5v1m0 10v1m0 11v1m0 4v2m1-74v1m0 8v1m0 5v1m0 25v1m0 5v1m0 8v1m1-74v1m0 5v1m0 8v1m0 59v1m0 8v1m0 5v1m1-77v1m0 7v1m0 7v2m0 27v2m0 7v1m0 7v1m1-69v1m0 3v1m0 7v2m0 18v1m0 9v1m0 18v2m0 7v1m0 3v1m1-64v1m0 18v1m0 13v1m0 18v1m1-63v1m0 8v1m0 7v1m0 17v1m0 1v1m0 17v1m0 7v1m0 8v1m1-58v2m0 39v2m1-44v1m0 43v1m0 25v1m1-53v2m0 5v2m0 42v1m1-58v1m0 19v1m0 36v1m2-82v1m0 13v1m0 1v1m0 6v2m0 19v2m0 6v1m0 1v1m0 13v1m0 13v1m2 0v1m1-1v1m1-83v1m0 21v1m0 8v1m0 3v1m0 8v1m0 21v1m1-66v1m0 29v1m0 3v1m0 29v1m0 15v1m1-64v2m0 27v2m2 33v1m1-80v1m0 17v1m0 11v1m0 11v1m0 17v1m1 19v1m1-67v1m0 31v1m0 33v1m1-1v1m1-55v1m0 7v1m0 45v1m1-55v1m0 7v1m0 44v2m1-78v1m0 12v2m0 25v2m0 12v1m0 21v1m1-62v1m0 23v1m0 36v1m1-76v1m0 12v1m0 2v1m0 8v3m0 8v1m0 2v1m0 12v1m1-53v1m0 16v1m0 17v1m0 16v1m0 23v1m1-77v1m0 23v1m0 3v1m0 23v1m1-53v1m0 51v1m1-27v1m0 50v1m1-62v1m0 19v1m1-35v1m0 14v2m0 15v2m0 14v1m1-32v1m0 13v1m2 41v3m1-3v1m2-74v1m0 47v1m0 25v1m1-1v1m1-58v1m0 13v1m1 43v1m1-56v1m0 7v1m1-29v4m0 41v4m2-28v1m0 5v1m3 45v1m1-71v1m0 41v1m0 27v3"/>
<path stroke="#00f7ff" d="M0.5 44v5m5-5v5m6-5v5m5-7v9m5-8v7m0 47v1m1-94v2m0 21v3m0 33v3m0 21v2m1-86v1m0 85v1m1-89v1m0 89v1m1-92v1m0 91v2m1-84v1m0 33v2m0 1v2m0 33v1m0 11v2m1-89v1m0 1v1m0 33v2m0 3v2m0 33v1m0 1v1m0 9v3m1-92v2m0 19v2m0 35v2m0 19v2m1-82v1m0 10v2m0 6v1m0 3v2m0 2v3m0 4v1m0 2v1m0 7v1m0 2v1m0 4v3m0 2v2m0 3v1m0 6v2m0 10v1m1-74v1m0 2v1m0 4v1m0 3v1m0 4v1m0 12v5m0 12v1m0 4v1m0 3v1m0 4v1m0 2v1m1-66v1m0 6v1m0 2v1m0 45v1m0 2v1m0 6v1m1-69v1m0 1v1m0 5v1m0 8v1m0 35v1m0 8v1m0 5v1m0 1v1m1-72v1m0 1v1m0 5v1m0 1v1m0 10v1m0 29v1m0 10v1m0 1v1m0 5v1m0 1v1m0 13v2m1-84v1m0 3v1m0 6v1m0 2v1m0 4v2m0 9v1m0 3v1m0 9v2m0 4v1m0 2v1m0 6v1m0 3v1m1-63v1m0 6v1m0 1v1m0 7v2m0 7v9m0 7v2m0 7v1m0 1v1m0 6v1m1-75v1m0 8v1m0 2v1m0 63v1m0 2v1m0 8v1m1-78v1m0 5v2m0 6v1m0 4v1m0 6v4m0 7v4m0 6v1m0 4v1m0 6v2m0 5v1m1-68v1m0 17v1m0 4v1m0 7v1m0 5v1m0 7v1m0 4v1m0 17v1m1-66v1m0 9v2m0 17v2m0 1v2m0 17v2m0 9v1m1-62v1m0 8v1m0 7v1m0 11v3m0 11v1m0 7v1m0 8v1m1-56v3m0 6v1m0 4v1m0 5v3m0 5v3m0 5v1m0 4v1m0 6v3m0 24v1m1-94v1m0 23v1m0 3v1m0 3v1m0 21v1m0 3v1m0 3v1m0 23v1m1-84v1m0 1v1m0 3v1m0 13v1m0 1v1m0 7v1m0 2v1m0 13v1m0 2v1m0 7v1m0 1v1m0 13v1m0 3v1m0 1v1m1-76v1m0 4v2m0 7v1m0 41v1m0 7v2m0 4v1m1-68v1m0 10v1m0 10v1m0 7v1m0 3v1m0 7v1m0 10v1m0 10v1m1-74v1m0 23v1m0 4v3m0 19v3m0 4v1m0 23v1m1-74v1m0 6v1m0 7v1m0 12v1m0 7v1m0 12v1m0 7v1m0 6v1m1-53v1m0 1v1m0 35v1m0 1v1m1-51v1m0 7v1m0 12v1m0 5v1m0 5v1m0 5v1m0 12v1m0 7v1m1-71v1m0 24v1m0 5v1m0 2v1m0 3v1m0 3v1m0 3v1m0 2v1m0 5v1m0 24v1m1-74v1m0 17v2m0 27v2m0 17v1m1-72v1m0 11v1m0 18v2m0 11v2m0 18v1m0 11v1m1-85v1m0 12v1m0 6v1m0 51v1m0 6v1m0 12v3m1-88v1m0 1v1m0 2v1m0 4v1m0 7v1m0 41v1m0 7v1m0 4v1m0 2v1m0 1v1m1-75v1m0 5v1m0 6v2m0 7v2m0 7v1m0 7v1m0 7v2m0 7v2m0 6v1m0 5v1m1-82v1m0 9v1m0 3v1m0 7v1m0 47v1m0 7v1m0 3v1m0 9v1m1-55v1m0 3v2m0 5v2m0 3v1m1-28v1m0 2v1m0 31v1m0 2v1m1-57v1m0 8v1m0 7v1m0 7v1m0 3v1m0 15v1m0 3v1m0 7v1m0 7v1m0 8v1m1-67v1m0 16v1m0 23v1m0 16v1m0 19v1m1-73v1m0 1v1m0 41v1m0 1v1m0 25v1m1-85v1m0 10v2m0 10v1m0 23v1m0 10v2m0 10v1m0 12v1m1-84v1m0 27v1m0 13v1m0 27v1m1-71v1m0 15v1m0 1v1m0 5v1m0 21v1m0 5v1m0 1v1m0 15v1m0 12v1m1-66v1m0 14v1m0 3v1m0 14v1m1-29v1m0 21v1m0 37v1m1-65v1m0 29v1m2-32v1m0 31v1m0 32v1m1-1v1m1-56v1m0 11v1m0 42v1m1-1v1m1-72v1m0 7v1m0 7v1m0 11v1m0 7v1m0 7v1m1-26v1m0 5v1m0 46v1m1-80v1m0 57v1m1-39v1m0 1v1m0 6v1m0 6v1m0 1v1m1-27v1m0 9v2m0 11v2m0 9v1m0 33v1m1-80v1m0 55v1m0 22v1m1-65v1m0 6v1m0 11v1m0 6v1m0 37v1m1-2v1m1-77v1m0 51v1m0 23v1m1-1v1m1-64v1m0 10v1m0 3v1m0 10v1m1 37v1m1-54v1m0 3v1m0 48v1m1-53v1m0 1v1m1-27v1m0 16v1m0 15v1m0 16v1m2-35v1m0 17v1m1-19v1m0 4v1m0 7v1m0 4v1m1-19v1m0 17v1m1 40v2m1-2v1m2-75v1m0 47v1m0 26v1m1-76v1m0 15v1m0 15v1m0 15v1m0 26v1m1-76v1m0 17v1m0 11v1m0 17v1m1-49v1m0 47v1m1-45v1m0 15v1m0 7v1m0 15v1m1-41v1m0 16v1m0 5v1m0 16v1m1-41v1m0 17v1m0 3v1m0 17v1m1-22v1m0 1v1"/>
<path stroke="#08fff7" d="M0.5 6v2m0 34v2m0 5v2m0 34v2m1-48v1m0 13v1m1-38v3m0 55v3m1-64v4m0 59v4m1-69v2m0 67v2m1-40v2m0 5v2m1-8v7m1-32v3m0 51v3m1-60v5m0 53v5m1-64v2m0 61v2m1-36v7m1-8v2m0 5v2m1-29v1m0 47v1m0 22v2m1-77v4m0 49v4m0 20v2m1-81v4m0 53v4m0 19v2m2-95v2m0 21v4m0 10v2m0 9v2m0 10v4m0 21v2m1-89v3m0 20v4m0 37v4m0 20v3m1-92v2m0 20v2m0 45v2m0 20v3m1-75v3m0 49v3m0 19v3m1-1v3m1-92v3m0 32v2m0 7v2m0 32v3m0 9v1m1-94v1m0 2v2m0 18v1m0 3v1m0 10v4m0 3v4m0 10v1m0 3v1m0 18v2m0 2v1m1-88v1m0 1v1m0 21v2m0 37v2m0 21v1m0 1v1m1-91v1m0 1v1m0 11v1m0 63v1m0 11v1m0 1v1m1-92v1m0 9v3m0 20v4m0 17v4m0 20v3m0 9v1m0 2v1m1-86v1m0 1v1m0 21v3m0 7v1m0 5v1m0 7v3m0 21v1m0 1v1m0 9v1m0 2v1m1-87v1m0 31v1m0 7v1m0 31v1m0 11v1m1-90v1m0 2v1m0 16v2m0 2v2m0 31v2m0 2v2m0 16v1m0 2v1m0 9v1m1-94v1m0 1v1m0 8v1m0 2v1m0 11v2m0 3v4m0 4v1m0 5v1m0 4v4m0 3v2m0 11v1m0 2v1m0 8v1m0 1v1m1-87v3m0 22v1m0 2v1m0 31v1m0 2v1m0 22v3m1-91v4m0 8v1m0 2v1m0 14v3m0 10v1m0 5v1m0 10v3m0 14v1m0 2v1m0 8v4m1-79v1m0 7v1m0 8v1m0 13v3m0 13v1m0 8v1m0 7v1m0 14v3m1-87v1m0 3v1m0 3v1m0 8v1m0 9v1m0 4v1m0 9v1m0 4v1m0 9v1m0 8v1m0 3v1m0 3v1m0 11v1m1-86v4m0 5v1m0 4v1m0 4v4m0 12v3m0 12v4m0 4v1m0 4v1m0 5v4m0 14v1m1-86v1m0 4v1m0 4v1m0 3v1m0 5v1m0 2v1m0 5v1m0 9v1m0 5v1m0 2v1m0 5v1m0 3v1m0 4v1m0 4v1m1-81v1m0 2v1m0 16v4m0 7v3m0 10v1m0 3v1m0 10v3m0 7v4m0 16v1m0 2v1m1-91v1m0 6v1m0 8v1m0 2v1m0 4v1m0 6v6m0 4v1m0 5v1m0 4v6m0 6v1m0 4v1m0 2v1m0 8v1m0 6v1m0 3v1m1-79v1m0 3v1m0 4v1m0 5v1m0 2v1m0 9v5m0 9v1m0 2v1m0 5v1m0 4v1m0 3v1m1-59v1m0 5v1m0 10v3m0 5v1m0 5v1m0 5v3m0 10v1m0 5v1m0 18v1m0 3v1m1-85v1m0 8v1m0 9v1m0 1v1m0 9v1m0 3v1m0 9v1m0 1v1m0 9v1m0 8v1m1-65v1m0 8v1m0 4v1m0 10v1m0 3v1m0 3v1m0 3v1m0 10v1m0 4v1m0 8v1m1-70v2m0 8v1m0 2v1m0 4v1m0 5v3m0 9v1m0 3v1m0 9v3m0 5v1m0 4v1m0 2v1m0 8v2m1-78v1m0 12v1m0 8v1m0 10v1m0 3v5m0 3v1m0 10v1m0 8v1m0 12v1m1-86v1m0 6v1m0 16v1m0 1v1m0 8v2m0 7v1m0 3v1m0 7v2m0 8v1m0 1v1m0 16v1m0 6v1m1-93v2m0 4v1m0 3v1m0 5v1m0 13v1m0 6v1m0 5v1m0 5v1m0 5v1m0 6v1m0 13v1m0 5v1m0 3v1m0 4v3m1-70v1m0 19v1m0 3v1m0 19v1m0 27v2m1-79v1m0 8v1m0 1v1m0 6v1m0 5v1m0 5v1m0 5v1m0 6v1m0 1v1m0 8v1m0 23v1m1-53v3m1-47v1m0 4v1m0 1v1m0 23v1m0 27v1m0 23v1m0 1v1m0 4v1m1-92v1m0 16v1m0 8v1m0 11v2m0 5v1m0 1v1m0 5v2m0 11v1m0 8v1m0 16v1m1-72v1m0 16v1m0 4v1m0 5v1m0 4v1m0 16v1m0 21v1m1-72v1m0 5v1m0 2v1m0 6v1m0 2v1m0 9v1m0 2v1m0 6v1m0 2v1m0 5v1m0 23v1m1-69v1m0 8v1m0 3v1m0 13v1m0 3v1m0 8v1m1-66v1m0 17v1m0 8v1m0 10v1m0 3v1m0 5v1m0 3v1m0 10v1m0 8v1m0 17v1m1-52v2m0 1v1m0 5v1m0 1v2m1-37v1m0 7v1m0 8v1m0 5v1m0 3v1m0 5v1m0 3v1m0 5v1m0 8v1m0 7v1m1-49v1m0 4v1m0 25v1m0 4v1m0 28v1m1-85v1m0 1v1m0 7v1m0 1v1m0 12v1m0 23v1m0 12v1m0 1v1m0 7v1m0 1v1m0 10v1m1-67v1m0 15v1m0 3v1m0 15v1m1-53v1m0 5v1m0 24v1m0 5v1m0 24v1m0 5v1m1-65v1m0 13v1m0 8v1m0 13v1m0 8v1m0 13v1m1-62v1m0 13v1m0 14v1m0 3v1m0 14v1m0 13v1m0 17v1m1-75v1m0 7v1m0 14v1m0 3v1m0 14v1m0 7v1m0 22v1m1-83v2m0 25v1m0 4v1m0 3v1m0 4v1m0 25v2m1-68v1m0 23v3m0 5v3m0 5v3m0 23v1m0 15v1m1-83v1m0 30v1m0 3v1m0 30v1m1-67v1m0 65v1m0 16v1m1-84v1m0 65v1m0 16v1m1-83v1m0 63v1m0 17v1m1-70v1m0 3v1m0 3v1m0 21v1m0 3v1m0 3v1m0 30v1m1-1v1m1-82v1m0 61v1m0 18v1m1-53v1m0 3v1m0 47v1m1-59v1m0 15v1m1-28v1m0 11v1m0 4v1m0 3v1m0 4v1m0 11v1m0 31v1m1-53v1m0 1v1m0 49v1m1-57v1m0 9v1m1-13v1m0 13v1m1-35v1m0 23v1m0 5v1m0 23v1m1-40v1m0 6v3m0 5v3m0 6v1m0 38v1m1-63v1m0 21v1m0 39v1m1-54v1m0 3v1m0 48v1m1-1v1m1-65v1m0 25v1m2-39v1m0 16v1m0 5v1m0 3v1m0 5v1m0 16v1m1-50v1m0 47v1m2-48v1m0 16v1m0 11v1m0 16v1m1-47v1m0 45v1m1-47v1m0 45v1m1-33v1m0 17v1m1-19v1m0 17v1m0 41v1m1-61v1m0 17v1m0 41v1m4-75v4m0 14v1m0 1v1m0 5v1m0 1v1m0 14v4m1-27v1m0 5v1m1-8v1m0 7v1m1-9v1m0 7v1m1-25v1m0 19v1m0 19v1"/>
<path stroke="#18ffe7" d="M0.5 4v2m0 2v2m0 29v3m0 9v3m0 29v2m0 2v2m1-88v6m0 11v4m0 12v5m0 1v4m0 5v4m0 1v5m0 12v4m0 11v6m1-91v3m0 10v2m0 3v2m0 13v5m0 15v5m0 13v2m0 3v2m0 10v3m1-80v1m0 4v1m0 57v1m0 4v1m1-72v2m0 2v2m0 63v2m0 2v2m1-77v5m0 13v2m0 14v1m0 9v1m0 14v2m0 13v5m1-81v5m0 11v3m0 14v5m0 7v5m0 14v3m0 11v5m0 5v4m1-80v1m0 3v2m0 10v6m0 15v6m0 10v2m0 3v1m0 18v4m1-84v1m0 5v1m0 51v1m0 5v1m0 18v1m1-86v2m0 2v2m0 57v2m0 2v2m1-71v4m0 11v5m0 10v3m0 7v3m0 10v5m0 11v4m1-83v4m0 5v3m0 11v6m0 11v2m0 9v2m0 11v6m0 11v3m0 5v5m1-94v2m0 18v2m0 1v2m0 9v3m0 19v3m0 9v2m0 1v2m0 18v2m0 2v1m1-79v1m0 4v1m0 10v4m0 19v4m0 10v1m0 4v1m0 17v2m0 2v1m1-83v1m0 4v1m0 51v1m0 4v1m0 17v1m1-91v3m0 6v3m0 11v3m0 9v13m0 9v3m0 11v3m0 6v3m0 9v1m1-96v1m0 2v2m0 18v1m0 4v1m0 8v1m0 13v1m0 8v1m0 4v1m0 18v2m0 2v1m1-91v1m0 3v1m0 18v1m0 4v1m0 13v9m0 13v1m0 4v1m0 18v1m0 3v1m1-91v1m0 17v2m0 2v2m0 9v2m0 19v2m0 9v2m0 2v2m0 17v1m0 3v1m1-95v1m0 9v2m0 5v2m0 3v2m0 9v4m0 19v4m0 9v2m0 3v2m0 5v2m0 9v1m0 3v1m1-90v4m0 7v3m0 11v4m0 21v4m0 11v3m0 7v4m0 8v1m1-90v1m0 3v1m0 18v5m0 7v1m0 11v1m0 7v5m0 18v1m0 3v1m1-63v1m0 5v1m0 8v1m0 4v3m0 4v1m0 8v1m0 5v1m0 29v1m1-97v1m0 3v1m0 8v3m0 7v2m0 2v2m0 33v2m0 2v2m0 7v3m0 8v1m0 3v1m1-89v1m0 8v2m0 1v3m0 3v3m0 12v3m0 15v3m0 12v3m0 3v3m0 1v2m0 8v1m0 3v1m1-84v1m0 3v1m0 5v3m0 10v1m0 4v1m0 15v1m0 4v1m0 10v3m0 5v1m0 3v1m1-83v1m0 7v1m0 3v1m0 19v1m0 3v2m0 4v1m0 7v1m0 4v2m0 3v1m0 19v1m0 3v1m0 7v1m1-87v1m0 21v6m0 7v1m0 9v1m0 7v6m0 21v1m1-83v1m0 4v1m0 7v3m0 11v2m0 8v3m0 5v3m0 8v2m0 11v3m0 7v1m0 4v1m0 7v1m1-94v1m0 3v1m0 11v1m0 3v1m0 45v1m0 3v1m0 11v1m0 3v1m1-89v1m0 3v1m0 7v1m0 4v4m0 6v2m0 33v2m0 6v4m0 4v1m0 7v1m0 3v1m1-76v1m0 2v1m0 4v1m0 4v1m0 3v1m0 8v1m0 7v1m0 8v1m0 3v1m0 4v1m0 4v1m0 2v1m0 16v1m1-94v3m0 7v1m0 7v1m0 8v1m0 16v1m0 3v1m0 16v1m0 8v1m0 7v1m0 7v3m0 3v1m1-83v3m0 4v1m0 10v1m0 2v1m0 6v9m0 6v1m0 2v1m0 10v1m0 4v3m0 15v1m1-87v2m0 10v1m0 2v1m0 45v1m0 2v1m0 10v2m1-83v3m0 6v1m0 6v1m0 2v1m0 14v1m0 19v1m0 14v1m0 2v1m0 6v1m0 6v3m1-81v1m0 4v1m0 8v2m0 4v1m0 3v1m0 7v2m0 1v3m0 1v2m0 7v1m0 3v1m0 4v2m0 8v1m0 4v1m1-66v1m0 4v1m0 21v5m0 21v1m0 4v1m1-69v1m0 24v2m0 25v2m0 24v1m1-75v1m0 2v1m0 8v1m0 3v1m0 6v1m0 3v5m0 7v5m0 3v1m0 6v1m0 3v1m0 8v1m0 2v1m1-56v1m0 4v1m0 3v1m0 7v1m0 5v1m0 7v1m0 3v1m0 4v1m1-63v1m0 4v1m0 1v1m0 8v1m0 4v2m0 1v1m0 7v1m0 2v1m0 5v3m0 5v1m0 2v1m0 7v1m0 1v2m0 4v1m0 8v1m0 1v1m0 4v1m1-75v1m0 7v1m0 22v1m0 1v1m0 22v1m0 7v1m0 18v1m1-82v1m0 8v1m0 9v1m0 5v3m0 5v3m0 5v1m0 9v1m0 8v1m1-72v1m0 9v1m0 2v1m0 8v1m0 6v1m0 2v1m0 17v1m0 2v1m0 6v1m0 8v1m0 2v1m0 9v1m1-86v2m0 9v1m0 7v1m0 16v1m0 15v1m0 16v1m0 7v1m0 9v2m0 3v1m1-91v1m0 4v1m0 1v1m0 8v1m0 24v3m0 24v1m0 8v1m0 1v1m0 4v1m0 6v1m1-93v1m0 18v1m0 47v1m0 18v1m0 6v1m1-95v1m0 4v1m0 9v1m0 2v1m0 8v1m0 6v2m0 6v1m0 3v1m0 6v2m0 6v1m0 8v1m0 2v1m0 9v1m0 4v1m1-63v1m0 13v1m0 7v1m0 13v1m1-54v1m0 2v1m0 31v1m0 31v1m0 2v1m1-72v1m0 5v1m0 7v1m0 5v1m0 31v1m0 5v1m0 7v1m0 5v1m1-72v1m0 30v1m0 7v1m0 30v1m1-72v1m0 7v1m0 12v1m0 11v1m0 5v1m0 11v1m0 12v1m0 7v1m0 12v1m1-96v1m0 7v1m0 23v1m0 27v1m0 23v1m0 7v1m1-93v1m0 14v1m0 7v1m0 8v1m0 2v1m0 3v1m0 13v1m0 3v1m0 2v1m0 8v1m0 7v1m0 14v1m1-63v1m0 31v1m1-48v1m0 4v1m0 23v1m0 3v1m0 23v1m0 4v1m1-64v1m0 28v1m0 5v1m0 28v1m1-66v1m0 65v1m0 15v1m1-72v1m0 2v1m0 5v1m0 1v1m0 5v2m0 7v2m0 5v1m0 1v1m0 5v1m0 2v1m1-52v1m0 57v1m0 20v1m1-59v1m0 15v1m0 41v1m1-85v3m0 7v1m0 7v1m0 4v1m0 21v1m0 4v1m0 7v1m0 7v3m0 14v1m1-76v1m0 51v1m0 22v1m1-71v1m0 8v1m0 8v1m0 5v1m0 8v1m0 8v1m1-43v1m0 4v1m0 8v1m0 13v1m0 8v1m0 4v1m0 28v1m1-74v2m0 10v1m0 21v1m0 10v2m1-35v1m0 21v1m0 39v1m1-72v1m0 39v1m0 30v1m1-83v1m0 61v1m0 19v1m1-83v1m0 17v1m0 5v1m0 1v1m0 1v1m0 5v1m0 1v1m0 1v1m0 5v1m0 17v1m1-54v1m0 6v1m0 29v1m0 6v1m1-42v1m0 37v1m1-27v1m0 13v1m0 43v1m1-63v1m0 21v1m1-30v1m0 35v1m1-47v1m0 13v1m0 5v1m0 15v1m0 5v1m0 13v1m1-42v1m0 9v1m0 5v1m0 9v1m1-30v1m0 8v1m0 13v1m0 8v1m1-43v1m0 10v1m0 29v1m0 10v1m1-41v1m0 10v3m0 1v3m0 10v1m1-24v1m0 17v1m3-35v1m0 16v1m0 15v1m0 16v1m1-38v1m0 23v1m1-24v1m0 21v1m1-35v1m0 12v1m0 2v1m0 13v1m0 2v1m0 12v1m1-29v2m0 7v2m3-29v1m0 45v1m1-47v1m0 45v1m2-33v1m0 5v1m0 5v1m0 5v1m1-33v1m0 19v1m0 5v1m0 19v1m1-47v2m0 14v1m0 3v1m0 5v1m0 3v1m0 14v2m2-29v1m0 9v1m1-8v1m0 3v1m1-4v1m0 1v1m1-6v1m0 7v1m1-25v1m0 15v1m0 7v1m0 15v1m1-25v1m0 7v1m1-9v1m0 7v1"/>
<path stroke="#38ffc7" d="M0.5 0v2m0 9v1m0 6v2m0 53v2m0 6v1m0 9v4m1-87v2m0 4v2m0 61v2m0 4v2m1-79v1m0 4v2m0 11v5m0 12v2m0 7v2m0 12v5m0 11v2m0 4v1m1-84v2m0 4v1m0 11v4m0 10v5m0 13v5m0 10v4m0 11v1m0 4v2m0 5v2m1-96v7m0 8v2m0 3v3m0 8v5m0 1v5m0 7v5m0 1v5m0 8v3m0 3v2m0 8v7m0 2v4m1-95v1m0 9v1m0 6v2m0 11v6m0 15v6m0 11v2m0 6v1m0 9v1m0 6v2m1-87v1m0 5v2m0 55v2m0 5v1m1-73v2m0 3v1m0 10v5m0 11v3m0 5v3m0 11v5m0 10v1m0 3v2m1-84v3m0 3v3m0 2v2m0 10v7m0 9v2m0 11v2m0 9v7m0 10v2m0 2v3m0 3v5m1-95v2m0 3v5m0 9v2m0 2v3m0 6v12m0 5v12m0 6v3m0 2v2m0 9v5m0 3v2m0 3v1m1-81v1m0 6v1m0 8v6m0 17v6m0 8v1m0 6v1m0 16v2m1-81v1m0 6v1m0 49v1m0 6v1m0 16v2m1-93v2m0 6v2m0 3v1m0 9v4m0 10v2m0 7v2m0 10v4m0 9v1m0 3v2m0 6v2m0 8v1m1-97v6m0 4v4m0 9v2m0 4v1m0 8v1m0 13v1m0 8v1m0 4v2m0 9v4m0 4v6m1-88v2m0 4v3m0 9v2m0 4v2m0 8v3m0 11v3m0 8v2m0 4v2m0 9v3m0 4v2m0 4v1m1-92v1m0 16v1m0 5v1m0 7v5m0 17v5m0 7v1m0 5v1m0 16v1m0 4v1m1-96v1m0 15v2m0 5v1m0 8v6m0 17v6m0 8v1m0 5v2m0 15v1m0 4v1m1-91v3m0 5v2m0 3v2m0 9v5m0 21v5m0 9v2m0 3v2m0 5v3m0 8v1m1-91v1m0 3v2m0 17v1m0 3v2m0 6v1m0 13v1m0 6v2m0 3v1m0 17v2m0 3v1m0 7v1m1-90v2m0 22v1m0 7v1m0 13v1m0 7v1m0 22v2m1-86v1m0 4v1m0 7v3m0 7v1m0 5v1m0 10v2m0 9v2m0 10v1m0 5v1m0 7v3m0 7v1m0 4v1m1-90v1m0 7v10m0 3v2m0 8v4m0 17v4m0 8v2m0 3v10m0 7v1m0 4v1m1-94v1m0 7v2m0 1v3m0 3v2m0 3v1m0 8v1m0 4v1m0 17v1m0 4v1m0 8v1m0 3v2m0 3v3m0 1v2m0 7v1m0 4v1m1-90v1m0 4v1m0 6v3m0 9v1m0 4v2m0 3v2m0 7v2m0 3v2m0 4v1m0 9v3m0 6v1m0 4v1m1-76v1m0 16v2m0 3v2m0 6v1m0 11v1m0 6v2m0 3v2m0 16v1m0 11v1m1-92v1m0 5v1m0 7v1m0 7v1m0 5v1m0 8v1m0 4v3m0 4v1m0 8v1m0 5v1m0 7v1m0 7v1m0 5v1m0 6v1m1-96v1m0 12v1m0 3v1m0 5v2m0 3v2m0 31v2m0 3v2m0 5v1m0 3v1m0 12v1m1-80v1m0 5v1m0 16v2m0 2v2m0 11v2m0 2v2m0 16v1m0 5v1m1-78v1m0 6v1m0 4v1m0 5v3m0 10v1m0 4v1m0 5v3m0 5v1m0 4v1m0 10v3m0 5v1m0 4v1m0 6v1m0 4v1m1-87v1m0 11v2m0 23v1m0 1v1m0 23v2m0 11v1m0 11v1m1-97v1m0 5v1m0 5v1m0 67v1m0 5v1m0 5v1m1-88v1m0 20v2m0 37v2m0 20v1m0 7v1m1-92v1m0 11v1m0 7v1m0 1v1m0 6v1m0 3v1m0 1v4m0 7v4m0 1v1m0 3v1m0 6v1m0 1v1m0 7v1m0 11v1m1-89v8m0 15v2m0 43v2m0 15v8m1-91v1m0 87v1m1-91v1m0 5v3m0 19v1m0 1v1m0 6v3m0 13v3m0 6v1m0 1v1m0 19v3m0 5v1m1-85v1m0 8v1m0 57v1m0 8v1m1-82v1m0 11v2m0 7v1m0 43v1m0 7v2m0 11v1m1-76v1m0 7v2m0 45v2m0 7v1m1-67v2m0 6v2m0 7v4m0 27v4m0 7v2m0 6v2m1-70v2m0 14v1m0 2v1m0 5v1m0 4v1m0 9v1m0 4v1m0 5v1m0 2v1m0 14v2m1-66v1m0 2v1m0 53v1m0 2v1m1-62v2m0 6v2m0 43v2m0 6v2m1-65v1m0 7v1m0 12v1m0 23v1m0 12v1m0 7v1m1-68v1m0 6v1m0 2v1m0 6v2m0 1v2m0 4v1m0 15v1m0 4v2m0 1v2m0 6v1m0 2v1m0 6v1m0 12v1m1-82v1m0 14v2m0 11v1m0 11v1m0 11v2m0 14v1m0 15v1m1-94v1m0 6v1m0 5v1m0 8v1m0 41v1m0 8v1m0 5v1m0 6v1m0 3v1m1-79v1m0 7v1m0 8v1m0 2v1m0 9v3m0 9v1m0 2v1m0 8v1m0 7v1m1-48v1m0 3v1m0 4v1m0 1v2m0 7v2m0 1v1m0 4v1m0 3v1m0 34v1m1-83v1m0 7v1m0 5v1m0 1v1m0 9v1m0 9v1m0 9v1m0 1v1m0 5v1m0 7v1m1-51v1m0 2v1m0 31v1m0 2v1m1-55v1m0 17v1m0 7v1m0 6v1m0 3v1m0 6v1m0 7v1m0 17v1m1-73v1m0 17v1m0 4v1m0 4v1m0 6v1m0 3v1m0 6v1m0 4v1m0 4v1m0 17v1m0 11v1m1-87v1m0 23v1m0 6v1m0 11v1m0 6v1m0 23v1m1-68v1m0 14v1m0 8v1m0 1v1m0 7v1m0 1v1m0 8v1m0 14v1m0 20v1m1-61v1m0 17v1m0 37v1m1-83v1m0 1v1m0 7v1m0 49v1m0 7v1m0 1v1m1-48v1m0 2v1m0 8v1m0 8v1m0 2v1m0 35v1m1-69v1m0 5v1m0 27v1m0 5v1m1-50v1m0 7v1m0 17v1m0 5v1m0 17v1m0 7v1m1-60v1m0 2v1m0 19v1m0 13v1m0 19v1m0 2v1m1-51v1m0 8v1m0 21v1m0 8v1m0 30v1m1-86v2m0 65v2m1 16v1m1-79v1m0 1v1m0 49v1m0 1v1m0 23v1m1-84v1m0 4v1m0 53v1m0 4v1m1 18v1m1-73v1m0 13v1m0 4v1m0 3v1m0 4v1m0 13v1m1-54v1m0 10v1m0 8v1m0 3v1m0 15v1m0 3v1m0 8v1m0 10v1m3-44v1m0 21v1m1-14v1m0 3v1m2-20v1m0 3v1m0 6v2m0 9v2m0 6v1m0 3v1m2-28v1m0 19v1m1-14v2m0 3v2m1-31v1m0 9v1m0 8v1m0 15v1m0 8v1m0 9v1m1-54v1m0 13v1m0 9v1m0 3v1m0 9v1m0 13v1m1-34v1m0 13v1m1-12v1m0 7v1m1-30v1m0 10v1m0 27v1m0 10v1m1-51v1m0 16v1m0 4v1m0 5v1m0 4v1m0 16v1m1-29v1m0 5v1m2-7v1m0 5v1m1-11v1m0 3v1m0 5v1m0 3v1m1-14v1m0 1v2m0 5v2m0 1v1m1-17v1m0 6v1m0 5v1m0 6v1m7-33v1m0 43v1m1-42v1m0 37v1m1-39v1m0 37v1m1-39v1m0 16v1m0 3v1m0 16v1m1-39v1m0 13v1m0 9v1m0 13v1m5-40v1m0 39v1"/>
<path stroke="#48ffb7" d="M0.5 12v6m0 57v6m1-71v4m0 65v4m1-76v4m0 32v1m0 5v1m0 32v4m1-81v4m0 31v3m0 7v3m0 31v4m1-70v3m0 16v1m0 17v1m0 16v3m1-61v3m0 1v2m0 53v2m0 1v3m1-67v5m0 59v5m1-70v3m0 30v5m0 30v3m1-73v2m0 30v2m0 7v2m0 30v2m1-63v2m0 21v5m0 21v2m0 21v3m1-79v2m0 2v2m0 47v2m0 2v2m0 19v3m1-83v2m0 2v2m0 51v2m0 2v2m0 19v1m1-84v3m0 59v3m1-53v4m0 10v2m0 9v2m0 10v4m1-67v4m0 20v4m0 13v3m0 5v3m0 13v4m0 20v4m1-93v2m0 18v5m0 43v5m0 18v4m1-77v1m0 3v1m0 47v1m0 3v1m0 18v4m1-80v3m0 53v3m0 19v3m1-93v3m0 20v3m0 9v3m0 7v3m0 9v3m0 20v3m0 9v1m1-96v2m0 2v1m0 18v2m0 3v1m0 9v1m0 11v1m0 9v1m0 3v2m0 18v1m0 2v2m1-90v1m0 2v1m0 19v5m0 35v5m0 19v1m0 2v1m1-90v1m0 18v3m0 45v3m0 18v1m0 2v1m1-94v1m0 10v1m0 8v3m0 10v4m0 19v4m0 10v3m0 8v1m0 10v1m0 2v1m1-88v4m0 20v4m0 7v3m0 1v3m0 7v4m0 20v4m0 8v1m0 3v1m1-93v1m0 23v3m0 9v1m0 9v1m0 9v3m0 23v1m0 7v1m1-88v1m0 17v1m0 3v1m0 10v4m0 3v4m0 10v1m0 3v1m0 17v1m1-83v1m0 3v1m0 8v3m0 8v3m0 35v3m0 8v3m0 8v1m0 3v1m1-91v1m0 3v1m0 8v1m0 3v1m0 19v2m0 15v2m0 19v1m0 3v1m0 8v1m0 3v1m1-91v1m0 8v1m0 2v1m0 20v4m0 15v4m0 20v1m0 2v1m0 8v1m0 2v1m1-93v1m0 11v1m0 32v1m0 32v1m0 11v1m0 3v1m1-89v1m0 77v1m0 7v2m1-89v1m0 3v1m0 71v1m0 3v1m0 9v2m1-93v4m0 16v1m0 8v3m0 19v3m0 8v1m0 16v4m2-88v2m0 89v2m0 1v2m1-67v1m0 33v1m0 33v1m1-93v3m0 28v1m0 3v1m0 11v1m0 3v1m0 28v3m1-81v1m0 77v1m0 9v1m2-96v1m0 91v1m1-75v1m0 1v1m0 7v2m0 7v1m0 17v1m0 7v2m0 7v1m0 1v1m1-58v2m0 55v2m0 19v1m1-94v1m0 87v1m1-76v1m0 6v1m0 1v1m0 6v1m0 1v1m0 25v1m0 1v1m0 6v1m0 1v1m0 6v1m1-64v1m0 5v2m0 9v1m0 7v1m0 2v1m0 7v1m0 2v1m0 7v1m0 9v2m0 5v1m1-62v1m0 57v1m0 21v1m1-98v3m0 23v2m0 37v2m0 23v3m1-91v1m0 6v1m0 8v1m0 5v1m0 1v1m0 6v2m0 23v2m0 6v1m0 1v1m0 5v1m0 8v1m0 6v1m0 4v1m1-88v1m0 7v1m0 4v1m0 2v1m0 8v1m0 6v1m0 11v1m0 6v1m0 8v1m0 2v1m0 4v1m0 7v1m1-55v1m0 8v2m0 11v2m0 8v1m1-51v2m0 4v1m0 10v1m0 33v1m0 10v1m0 4v2m0 12v1m1-74v1m0 4v1m0 8v1m0 1v1m0 19v1m0 1v1m0 8v1m0 4v1m0 21v1m1-85v1m0 12v1m0 21v3m0 21v1m0 12v1m1-69v1m0 2v1m0 7v1m0 15v2m0 7v2m0 15v1m0 7v1m0 2v1m0 18v1m1-85v1m0 6v1m0 9v1m0 10v1m0 9v1m0 10v1m0 9v1m0 6v1m1-68v1m0 1v1m0 7v1m0 8v1m0 13v1m0 1v1m0 13v1m0 8v1m0 7v1m0 1v1m0 13v1m0 1v2m1-81v1m0 7v1m0 3v1m0 4v1m0 3v1m0 5v1m0 3v1m0 5v1m0 3v1m0 4v1m0 3v1m0 7v1m1-65v1m0 15v1m0 37v1m0 15v1m1-64v1m0 3v1m0 18v2m0 7v2m0 18v1m0 3v1m0 20v1m1-63v1m0 25v1m0 36v1m1-61v1m0 19v1m0 40v1m1-76v1m0 6v1m0 33v1m0 6v1m1-26v1m0 1v1m1-25v1m0 7v1m0 8v1m0 11v1m0 8v1m0 7v1m1-40v1m0 31v1m1-45v1m0 1v1m0 10v1m0 1v1m0 25v1m0 1v1m0 10v1m0 1v1m0 22v1m1-84v1m0 8v1m0 45v1m0 8v1m1-65v1m0 7v1m0 7v1m0 31v1m0 7v1m0 7v1m1-64v1m0 6v1m0 8v1m0 5v1m0 2v1m0 2v1m0 1v1m0 1v1m0 1v1m0 2v1m0 2v1m0 5v1m0 8v1m0 6v1m1-53v1m0 5v1m0 29v1m0 5v1m1-42v1m0 16v1m0 5v1m0 16v1m3-36v1m0 7v1m0 13v1m0 7v1m2-44v1m0 55v1m2-38v1m0 7v3m0 7v1m1-12v1m0 3v1m2-14v1m0 9v1m0 1v1m0 9v1m1-37v1m0 15v2m0 2v1m0 9v1m0 2v2m0 15v1m1-34v1m0 15v1m3-33v1m0 20v1m0 5v1m0 20v1m1-48v1m0 9v1m0 25v1m0 9v1m1-36v1m0 23v1m1-18v1m0 2v1m0 3v1m0 2v1m1-28v1m0 43v1m6-45v1m0 43v1m1-44v2m0 39v2m1-31v1m0 17v1m1-17v1m0 4v1m0 3v1m0 4v1m2-9v1m0 1v1m1-21v1m0 37v1"/>
<path stroke="#58ffa7" d="M2.5 44v5m1-6v7m2-33v1m0 57v1m3-33v1m0 5v1m2-31v2m0 51v2m1-57v2m0 55v2m2-34v4m0 1v4m1-7v5m2-30v3m0 49v3m2-31v7m1-46v2m0 21v3m0 11v11m0 11v3m0 21v2m1-87v2m0 85v2m1-91v2m0 89v2m1 0v2m1-49v1m0 47v3m1-91v4m0 32v2m0 5v2m0 32v4m0 9v1m1-93v1m0 2v1m0 19v3m0 33v3m0 19v1m0 2v1m0 8v1m1-95v3m0 81v3m1-89v3m0 10v3m0 59v3m0 10v3m1-92v2m0 10v2m0 65v2m0 10v2m1-93v1m0 8v1m0 2v1m0 67v1m0 2v1m0 8v3m1-84v1m0 69v1m0 13v3m1-91v1m0 1v1m0 73v1m0 1v1m3 7v1m1-1v1m1-57v3m0 13v3m0 38v1m1-91v1m0 1v1m0 79v1m0 1v1m1-87v1m0 3v1m0 79v1m0 3v1m2-72v1m0 18v3m0 11v3m0 18v1m2 22v1m1-97v1m0 13v1m0 8v1m0 8v1m0 27v1m0 8v1m0 8v1m0 13v1m0 4v1m1-85v1m0 26v2m0 9v2m0 26v1m0 14v1m1-75v1m0 51v1m1-54v1m0 53v1m1-58v1m0 8v1m0 41v1m0 8v1m0 17v1m1-94v1m0 12v2m0 15v2m0 27v2m0 15v2m0 12v1m1-92v1m0 19v1m0 51v1m0 19v1m1-72v1m0 6v1m0 35v1m0 6v1m1-55v1m0 10v1m0 6v1m0 9v1m0 1v1m0 9v1m0 6v1m0 10v1m1-43v1m0 2v1m0 19v1m0 2v1m0 36v1m1-75v1m0 47v1m2-44v1m0 18v1m0 18v1m0 29v1m1-84v1m0 67v1m0 13v1m1-79v1m0 2v1m0 4v1m0 10v2m0 19v2m0 10v1m0 4v1m0 2v1m2-48v1m0 10v1m0 11v1m0 10v1m1-51v1m0 9v1m0 4v1m0 3v1m0 5v1m0 6v1m0 1v1m0 6v1m0 5v1m0 3v1m0 4v1m0 9v1m1-67v2m0 3v1m0 55v1m0 3v2m1-52v1m0 7v2m0 17v2m0 7v1m1-31v1m0 8v1m0 5v1m0 8v1m1-44v1m0 2v1m0 55v1m0 2v1m1-54v1m0 16v2m0 7v2m0 16v1m1-52v2m0 8v1m0 1v1m0 6v1m0 19v1m0 6v1m0 1v1m0 8v2m1-61v3m0 57v3m1-62v1m0 9v1m0 3v1m0 1v2m0 12v1m0 12v2m0 1v1m0 3v1m0 9v1m1-61v1m0 17v1m0 5v1m0 11v1m0 5v1m0 17v1m1-61v1m0 15v1m0 1v1m0 23v1m0 1v1m0 15v1m1-39v1m0 15v1m1-39v1m0 22v1m0 13v1m0 22v1m3-37v1m0 2v1m0 5v1m0 2v1m1-12v1m0 1v1m0 5v1m0 1v1m1-33v1m0 13v1m0 25v1m0 13v1m1-40v1m0 23v1m1-21v1m0 15v1m1-34v1m0 16v1m0 7v1m0 7v1m0 16v1m1-33v2m0 11v2m1-12v1m0 7v1m4-12v1m0 13v1m1-30v1m0 17v1m0 7v1m0 17v1m1-45v1m0 10v1m0 9v1m0 1v1m0 9v1m0 10v1m1-25v1m0 3v1m1-25v1m0 11v1m0 19v1m0 11v1m1-45v1m0 43v1m1-45v1m0 43v1m1-45v1m0 43v1m1-45v1m0 43v1m1-44v1m0 41v1m1-41v1m0 37v1m2-28v1m0 15v1m1-15v1m0 11v1m1-7v1m1-6v1m0 9v1m1-25v1m0 37v1"/>
<path stroke="#68ff97" d="M8.5 44v5m5-3v1m11-3v5m0 48v1m1-93v2m0 79v2m4-78v2m0 69v2m1-75v3m0 71v3m1-77v1m0 75v1m4 9v1m0 1v1m2-92v1m0 81v1m1 9v1m1-93v1m0 81v1m1 5v1m1-91v1m0 85v1m3 5v3m1-80v1m0 55v1m2-74v1m0 15v1m0 57v1m0 15v1m1-70v2m0 45v2m0 25v1m1-84v2m0 7v1m0 47v1m0 7v2m1-61v1m0 53v1m1-48v2m0 18v1m0 18v2m1-51v1m0 1v1m0 5v1m0 1v1m0 39v1m0 1v1m0 5v1m0 1v1m1-53v1m0 43v1m1-54v1m0 5v1m0 1v1m0 45v1m0 1v1m0 5v1m1-65v1m0 5v1m0 10v1m0 31v1m0 10v1m0 5v1m1-60v1m0 5v1m0 1v1m0 35v1m0 1v1m0 5v1m0 22v1m0 1v1m1-3v1m1-81v1m0 61v1m0 18v1m1-83v1m0 6v1m0 20v1m0 7v1m0 20v1m0 6v1m0 18v1m1-83v1m0 21v1m0 17v1m0 21v1m1-51v2m0 9v1m0 15v1m0 9v2m1-49v1m0 2v1m0 4v1m0 20v1m0 20v1m0 4v1m0 2v1m1-60v1m0 2v1m0 7v1m0 37v1m0 7v1m0 2v1m1-55v1m0 2v1m0 8v1m0 23v1m0 8v1m0 2v1m1-56v1m0 1v1m0 14v1m0 27v1m0 14v1m0 1v1m1-63v2m0 2v1m0 8v1m0 9v1m0 15v1m0 9v1m0 8v1m0 2v2m2-61v1m0 3v1m0 5v1m0 1v1m0 33v1m0 1v1m0 5v1m0 3v1m1-55v4m0 18v1m0 5v1m0 18v4m1-51v1m0 49v1m1-56v1m0 4v3m0 5v1m0 6v1m0 8v1m0 1v1m0 8v1m0 6v1m0 5v3m0 4v1m1-55v1m0 3v1m0 39v1m0 3v1m1-54v1m0 5v1m0 21v1m0 1v1m0 21v1m0 5v1m1-46v1m0 1v1m0 27v1m0 1v1m1-29v1m0 23v1m1-27v1m0 2v1m0 6v1m0 7v1m0 6v1m0 2v1m1-33v1m0 35v1m1-45v1m0 16v1m0 7v1m0 1v1m0 7v1m0 16v1m1-38v1m0 9v1m0 1v1m0 9v1m1-28v1m0 5v2m0 17v2m0 5v1m1-32v1m0 29v1m1-23v1m0 13v1m1-22v1m0 27v1m1-39v1m0 47v1m1-32v1m0 13v1m2-14v1m0 11v1m1-7v1m2-3v1m0 3v1m1-13v1m0 19v1m4-31v2m0 37v2m2-23v1m0 3v1m1-12v1m0 17v1m1-11v1m0 1v1m3-7v1m0 9v1m1-25v1m0 13v1m0 9v1m0 13v1m1-39v1m0 37v1"/>
<path stroke="#78ff87" d="M35.5 95v1m1-1v1m1 0v1m1-92v1m0 81v1m2-84v1m0 83v1m2-88v1m0 89v1m1 1v1m0 2v1m2-78v1m0 53v1m1-57v1m0 57v1m1-76v1m0 91v2m1-94v1m0 91v1m1-72v1m0 49v1m0 25v1m1-78v1m0 51v1m1-55v2m0 53v2m0 20v1m1-79v1m0 7v1m0 8v2m0 21v2m0 8v1m0 7v1m0 21v1m1-83v2m0 6v1m0 45v1m0 6v2m1-64v1m0 7v1m0 47v1m0 7v1m1-58v1m0 6v2m0 33v2m0 6v1m1-54v1m0 8v1m0 7v1m0 1v1m0 7v1m0 1v1m0 7v1m0 1v1m0 7v1m0 8v1m0 21v1m1-72v2m0 39v2m0 28v1m1-74v1m0 1v1m0 41v1m0 1v1m1-54v1m0 7v1m0 16v1m0 9v1m0 16v1m0 7v1m1-63v1m0 5v1m0 8v1m0 1v1m0 14v1m0 14v1m0 1v1m0 8v1m0 5v1m1-58v1m0 49v1m2-40v2m0 25v2m1-45v1m0 23v1m0 2v1m0 5v1m0 2v1m0 23v1m1-61v1m0 4v1m0 49v1m0 4v1m1-57v1m0 1v1m0 22v1m0 1v1m0 22v1m0 1v1m1-55v1m0 2v1m0 4v1m0 9v1m0 19v1m0 9v1m0 4v1m0 2v1m1-47v1m0 12v2m0 7v2m0 12v1m2-45v1m0 1v1m0 10v1m0 25v1m0 10v1m0 1v1m1-36v1m0 17v1m2-28v1m0 8v2m0 15v2m0 8v1m1-47v1m0 12v1m0 29v1m0 12v1m1-44v1m0 29v1m2-28v1m0 1v1m0 19v1m0 1v1m1-13v1m1-26v1m0 7v1m0 7v1m0 8v1m0 8v1m0 7v1m0 7v1m3-31v1m0 9v1m1-30v1m0 16v1m0 2v1m0 7v1m0 2v1m0 16v1m1-39v1m0 6v1m0 13v1m0 6v1m1-38v1m0 45v1m1-46v1m0 17v1m0 7v1m0 17v1m1-36v1m0 7v1m0 9v1m0 7v1m4-16v1m0 3v1m1-13v1m0 19v1m1-21v1m0 19v1m1-32v1m0 10v1m0 19v1m0 10v1m1-32v1m0 19v1m1-29v1m0 7v1m0 7v1m0 3v1m0 7v1m0 7v1m1-37v1m0 7v1m0 19v1m0 7v1m1-37v1m0 35v1m1-28v3m0 6v1m0 6v3m1-16v1m0 11v1m4-12v1m0 9v1m1-25v1m0 13v1m0 9v1m0 13v1"/>
<path stroke="#87ff78" d="M36.5 96v2m2-95v2m0 83v2m1-89v1m0 89v1m2 2v1m1 0v1m4-78v1m0 55v1m2 20v1m1-3v1m1 0v1m5-75v1m0 51v1m1-54v1m0 53v1m1-57v2m0 55v2m0 21v1m1-81v1m0 57v1m0 21v1m1-83v1m0 14v1m0 1v1m0 27v1m0 1v1m0 14v1m1-48v1m0 31v1m1-44v1m0 16v1m0 8v1m0 1v1m0 8v1m0 16v1m1-56v1m0 7v2m0 37v2m0 7v1m1-58v2m0 5v1m0 1v1m0 39v1m0 1v1m0 5v2m1-59v1m0 5v2m0 43v2m0 5v1m1-54v2m0 45v2m1-50v1m0 15v1m0 17v1m0 15v1m1-53v1m0 53v1m1-54v1m0 51v1m1-56v1m0 2v1m0 11v1m0 27v1m0 11v1m0 2v1m1-51v1m0 15v1m0 9v1m0 15v1m1-48v1m0 3v1m0 3v1m0 17v1m0 17v1m0 3v1m0 3v1m1-43v1m0 5v1m0 19v1m0 5v1m1-17v1m2-21v1m0 14v2m0 7v2m0 14v1m1-48v1m0 7v1m0 5v2m0 23v2m0 5v1m0 7v1m1-39v1m0 21v1m1-23v2m0 19v2m1-22v1m0 19v1m3-35v1m0 17v1m0 11v1m0 17v1m2-29v1m0 7v1m1-19v1m0 9v1m0 7v1m0 9v1m1-21v1m0 11v1m2-19v1m0 23v1m1-24v1m0 9v1m0 1v1m0 9v1m3-14v1m0 3v1m1-24v1m0 18v1m0 3v1m0 18v1m1-42v2m0 16v1m0 3v1m0 16v2m1-39v1m0 15v1m0 3v1m0 15v1m3-29v1m0 8v1m0 1v1m0 8v1m1-29v1m0 7v1m0 19v1m0 7v1m1-37v1m0 35v1"/>
<path stroke="#97ff68" d="M37.5 97v1m2-94v1m0 83v1m2-87v1m0 87v1m2 3v2m5-3v2m1 1v1m2-1v1m5-61v1m0 9v1m0 9v1m2-41v1m0 7v1m0 43v1m0 7v1m1-55v2m0 7v1m0 29v1m0 7v2m1-50v2m0 47v2m1-52v1m0 16v1m0 17v1m0 16v1m1-54v1m0 53v1m1-49v1m0 15v2m0 7v2m0 15v1m1-37v1m0 29v1m3-42v1m0 8v1m0 8v1m0 6v1m0 1v1m0 6v1m0 8v1m0 8v1m1-55v2m0 53v2m1-57v2m0 13v1m0 25v1m0 13v2m1-58v1m0 1v1m0 3v2m0 17v1m0 7v1m0 17v2m0 3v1m0 1v1m1-57v1m0 5v3m0 37v3m0 5v1m1-57v1m0 57v1m1-46v1m0 31v1m1-39v1m0 43v1m1-37v2m0 25v2m2-41v1m0 51v1m1-45v1m0 35v1m3-43v1m0 47v1m1-40v1m0 29v1m1-22v1m0 11v1m1-30v1m0 45v1m1-46v1m0 43v1m1-37v1m0 8v1m0 9v1m0 8v1m2-36v1m0 41v1m1-22v1m3-22v1m0 41v1m2-40v1m0 35v1m4-19v1m2-11v2m0 1v1m0 13v1m0 1v2m1-29v1m0 11v1m0 11v1m0 11v1m4-32v1m0 25v1"/>
<path stroke="#a7ff58" d="M39.5 2v1m0 87v1m1-91v1m0 2v1m0 85v1m0 2v1m2-93v1m0 91v1m0 1v1m7-1v2m1-1v1m0 1v1m1-1v1m10-52v1m5-1v1m1-20v1m0 9v1m0 17v1m0 9v1m3-48v1m0 55v1m1-58v2m0 55v2m1-55v1m0 5v1m0 17v1m0 1v1m0 17v1m0 5v1m1-54v1m0 10v1m0 33v1m0 10v1m5-54v1m0 49v1m2-50v1m0 6v1m0 33v1m0 6v1m1-41v1m0 31v1m2-22v1m0 9v1m1-12v2m0 9v2m1-13v2m0 9v2m1-28v1m0 41v1m1-43v1m0 6v1m0 27v1m0 6v1m1-35v1m0 25v1m1-35v1m0 41v1m1-43v1m0 9v1m0 9v1m0 1v1m0 9v1m0 9v1m1-43v1m0 41v1m2-42v1m0 39v1m4-22v1m0 1v1m3-10v1m0 15v1m1-20v2m0 19v2m1-30v1m0 6v1m0 4v1m0 11v1m0 4v1m0 6v1m1-37v1m0 5v1m0 23v1m0 5v1m1-37v1m0 4v2m0 23v2m0 4v1m1-37v1m0 3v1m0 1v1m0 23v1m0 1v1m0 3v1"/>
<path stroke="#b7ff48" d="M39.5 3v1m0 85v1m2 3v1m1-1v1m8 2v1m14-64v1m0 25v1m5-19v2m0 7v2m3-34v1m0 1v1m0 17v1m0 15v1m0 17v1m0 1v1m3-56v1m0 53v1m8-51v1m0 45v1m1-46v1m0 43v1m1-44v1m0 41v1m4-34v1m0 23v1m1-13v1m1-2v1m0 1v1m2-21v2m0 35v2m1-37v1m0 33v1m1-35v1m0 33v1m1-35v1m0 15v1m0 1v1m0 15v1m1-35v1m0 16v1m0 16v1m2-29v1m0 21v1m1-23v1m0 21v1m1-21v1m0 17v1m1-22v1m0 1v1m0 19v1m0 1v1m1-24v1m0 21v1m1-23v1m0 21v1"/>
<path stroke="#c7ff38" d="M40.5 1v2m0 87v2m1-92v2m0 89v2m23-61v1m0 8v2m0 7v2m0 8v1m3-33v1m0 17v1m0 17v1m5-46v1m0 9v1m0 7v1m0 17v1m0 7v1m0 9v1m7-52v1m0 5v1m0 35v1m0 5v1m4-40v1m0 29v1m5-30v1m0 27v1m1-28v1m0 25v1m2-25v1m0 21v1m1-32v1m0 18v1m0 1v1m0 18v1m1-38v1m0 33v1m2-19v1m0 1v1m2-13v1m0 21v1m1-29v1m0 5v1m0 21v1m0 5v1m3-30v1m0 3v2m0 13v2m0 3v1m2-26v1m0 6v1m0 11v1m0 6v1m1-28v1m0 27v1m1-32v1m0 1v1m0 3v1m0 21v1m0 3v1m0 1v1"/>
<path stroke="#d7ff28" d="M72.5 28v1m0 17v1m0 17v1m1-43v1m0 47v1m1-52v1m0 53v1m2-54v1m0 51v1m1-52v1m0 5v1m0 37v1m0 5v1m1-50v1m0 47v1m3-42v1m0 33v1m1-41v1m0 45v1m2-45v1m0 5v1m0 29v1m0 5v1m5-36v1m0 27v1m2-35v1m0 19v1m0 19v1m1-40v3m0 5v1m0 21v1m0 5v3m1-21v1m0 1v1m1-3v1m0 1v1m1-13v1m0 21v1m1-23v1m0 10v1m0 10v1m3-29v1m0 33v1m1-35v1m0 4v1m0 23v1m0 4v1m2-31v1m0 3v1m0 1v1m0 13v1m0 1v1m0 3v1m1-31v1m0 6v1m0 19v1m0 6v1m1-35v1m0 10v1m0 11v1m0 10v1m1-34v1m0 9v1m0 11v1m0 9v1"/>
<path stroke="#e7ff18" d="M73.5 19v1m0 53v1m2-49v1m0 41v1m5-40v1m0 35v1m1-42v1m0 45v1m1-40v1m0 31v1m1-39v1m0 43v1m2-38v1m0 29v1m1-36v1m0 4v1m0 29v1m0 4v1m1-41v1m0 4v1m0 29v1m0 4v1m1-41v1m0 4v1m0 29v1m0 4v1m1-41v1m0 4v1m0 29v1m0 4v1m1-41v1m0 4v1m0 2v1m0 23v1m0 2v1m0 4v1m1-38v2m0 31v2m1-34v1m0 15v1m0 15v1m1-33v1m0 4v1m0 10v1m0 10v1m0 4v1m1-33v1m0 4v1m0 10v1m0 10v1m0 4v1m1-17v1m6-18v1m0 33v1m1-35v1m0 8v1m0 15v1m0 8v1m1-32v1m0 27v1m1-31v2m0 4v1m0 19v1m0 4v2"/>
<path stroke="#f7ff08" d="M76.5 26v1m0 39v1m4-44v1m0 45v1m3-45v1m0 41v1m1-42v1m0 39v1m1-41v1m0 39v1m5-37v1m0 1v2m0 25v2m0 1v1m1-36v2m0 2v1m0 29v1m0 2v2m4-36v1m0 31v1m4-29v1m0 23v1m2-26v1m0 25v1m2-30v2m0 5v1m0 1v1m0 13v1m0 1v1m0 5v2m2-27v1m0 19v1"/>
<path stroke="#fff700" d="M74.5 23v1m0 45v1m1-50v1m0 51v1m1-52v1m0 49v1m1-50v1m0 47v1m1-44v1m0 37v1m1-43v1m0 45v1m2-42v1m0 35v1m1-41v1m0 4v1m0 33v1m0 4v1m1-43v1m0 3v1m0 31v1m0 3v1m6-37v1m0 31v1m1-36v1m0 1v1m0 33v1m0 1v1m1-34v1m0 1v1m0 23v1m0 1v1m1-30v1m0 29v1m4-32v1m0 31v1m1-33v1m0 31v1m1-29v1m0 23v1m4-29v1m0 1v1m0 27v1m0 1v1m1-25v1m0 15v1m1-16v1m0 13v1"/>
<path stroke="#ffe700" d="M73.5 20v2m0 49v2m5-50v1m0 45v1m1-43v1m0 37v1m3-41v1m0 1v2m0 35v2m0 1v1m1-41v1m0 37v1m5-36v1m0 31v1m1-36v1m0 37v1m1-38v1m0 35v1m1-32v1m0 25v1m1-26v1m0 23v1m1-28v1m0 29v1m4-28v1m0 23v1m1-29v1m0 31v1m1-33v1m0 31v1m1-33v1m0 2v1m0 25v1m0 2v1m1-33v1m0 1v1m0 27v1m0 1v1m1-32v1m0 29v1m2-25v1m0 17v1m1-17v1m0 13v1"/>
<path stroke="#ffd700" d="M75.5 24v1m0 43v1m2-43v1m0 39v1m3-40v1m0 37v1m1-42v1m0 2v1m0 37v1m0 2v1m1-43v1m0 39v1m1-39v2m0 33v2m1-38v1m0 2v1m0 31v1m0 2v1m1-39v1m0 37v1m1-39v1m0 37v1m1-39v1m0 2v1m0 31v1m0 2v1m1-39v1m0 37v1m1-37v1m0 33v1m3-32v1m0 27v1m1-27v1m0 23v1m1-28v1m0 29v1m2-28v1m0 23v1m3-26v1m0 25v1m2-29v1m0 29v1m3-24v1m0 15v1m1-18v1m0 17v1"/>
<path stroke="#ffc700" d="M74.5 20v1m0 51v1m2-51v1m0 2v1m0 41v1m0 2v1m1-48v1m0 45v1m3-46v1m0 43v1m1-44v2m0 39v2m4-38v1m0 31v1m1-33v1m0 31v1m2-34v1m0 33v1m1-36v1m0 35v1m3-32v1m0 25v1m1-28v1m0 27v1m1-27v1m0 23v1m1-28v1m0 2v1m0 23v1m0 2v1m1-31v1m0 29v1m2-29v1m0 25v1m2-29v2m0 27v2m5-24v1m0 15v1"/>
<path stroke="#ffb700" d="M74.5 22v1m0 47v1m1-50v1m0 49v1m1-49v2m0 43v2m2-46v1m0 1v1m0 39v1m0 1v1m1-45v1m0 1v1m0 39v1m0 1v1m1-43v1m0 39v1m4-39v2m0 33v2m1-37v1m0 35v1m3-37v1m0 35v1m5-32v1m0 25v1m4-29v1m0 1v1m0 25v1m0 1v1m1-31v1m0 29v1m1-31v2m0 27v2"/>
<path stroke="#ffa700" d="M75.5 22v2m0 45v2m2-47v2m0 41v2m3-44v1m0 41v1m5-39v1m0 33v1m1-36v2m0 33v2m1-37v2m0 33v2m7-33v2m0 25v2m1-29v2m0 25v2m1-28v1m0 25v1m1-28v1m0 27v1m1-29v1m0 27v1"/>
<path stroke="#ff9700" d="M74.5 21v1m0 49v1m4-47v1m0 41v1m1-43v1m0 41v1m17-36v1m0 27v1"/>
</g></g></g>
<rect x="537" y="238" width="106.0" height="98.0" fill="none" stroke="#2a4a6a" stroke-opacity="0.45" stroke-width="0.7"/>
<path d="M565.00,302.57 V266.43 A24.10,24.10 0 0 1 613.20,266.43 V302.57 A24.10,24.10 0 0 1 565.00,302.57 Z" fill="none" stroke="#1a1a1a" stroke-width="0.5" stroke-opacity="0.7"/>
<text x="535.9" y="263.1" font-size="7.5" font-family='"Liberation Sans", sans-serif' text-anchor="end" fill="#333">10</text>
<line x1="536.6" y1="260.4" x2="538.2" y2="260.4" stroke="#333" stroke-width="0.5" />
<text x="535.9" y="275.1" font-size="7.5" font-family='"Liberation Sans", sans-serif' text-anchor="end" fill="#333">5</text>
<line x1="536.6" y1="272.4" x2="538.2" y2="272.4" stroke="#333" stroke-width="0.5" />
<text x="535.9" y="287.2" font-size="7.5" font-family='"Liberation Sans", sans-serif' text-anchor="end" fill="#333">0</text>
<line x1="536.6" y1="284.5" x2="538.2" y2="284.5" stroke="#333" stroke-width="0.5" />
<text x="535.9" y="299.2" font-size="7.5" font-family='"Liberation Sans", sans-serif' text-anchor="end" fill="#333">-5</text>
<line x1="536.6" y1="296.6" x2="538.2" y2="296.6" stroke="#333" stroke-width="0.5" />
<text x="535.9" y="311.3" font-size="7.5" font-family='"Liberation Sans", sans-serif' text-anchor="end" fill="#333">-10</text>
<line x1="536.6" y1="308.6" x2="538.2" y2="308.6" stroke="#333" stroke-width="0.5" />
<text x="535.9" y="323.3" font-size="7.5" font-family='"Liberation Sans", sans-serif' text-anchor="end" fill="#333">-15</text>
<line x1="536.6" y1="320.6" x2="538.2" y2="320.6" stroke="#333" stroke-width="0.5" />
<text x="535.9" y="335.4" font-size="7.5" font-family='"Liberation Sans", sans-serif' text-anchor="end" fill="#333">-20</text>
<line x1="536.6" y1="332.7" x2="538.2" y2="332.7" stroke="#333" stroke-width="0.5" />
<text x="512.5" y="245.7" font-size="7.9" font-family='"Liberation Sans", sans-serif' text-anchor="start" fill="#333">×<tspan dx="0.3">10</tspan><tspan dy="-3.8" font-size="5.6">-6</tspan></text>
<text x="512.4" y="251.9" font-size="7.2" font-family='"Liberation Sans", sans-serif' text-anchor="start" fill="#333">m</text>
<text x="589.6" y="345.8" font-size="7.5" font-family='"Liberation Sans", sans-serif' text-anchor="middle" fill="#333">0</text>
<text x="541.1" y="345.8" font-size="7.5" font-family='"Liberation Sans", sans-serif' text-anchor="middle" fill="#333">-2</text>
<text x="643.7" y="345.8" font-size="7.5" font-family='"Liberation Sans", sans-serif' text-anchor="end" fill="#333">×10<tspan dy="-3.8" font-size="5.6">-5</tspan><tspan dy="3.8"> m</tspan></text>
<rect x="648.9" y="252.1" width="3.8" height="81.6" fill="url(#cbg)"/>
<text x="654.6" y="320.6" font-size="7.8" font-family='"Liberation Sans", sans-serif' text-anchor="start" fill="#333">0.5</text>
<text x="654.6" y="304.7" font-size="7.8" font-family='"Liberation Sans", sans-serif' text-anchor="start" fill="#333">1</text>
<text x="654.6" y="288.9" font-size="7.8" font-family='"Liberation Sans", sans-serif' text-anchor="start" fill="#333">1.5</text>
<text x="654.6" y="273" font-size="7.8" font-family='"Liberation Sans", sans-serif' text-anchor="start" fill="#333">2</text>
<text x="654.6" y="257.1" font-size="7.8" font-family='"Liberation Sans", sans-serif' text-anchor="start" fill="#333">2.5</text>
<text x="42.7" y="369.6" font-size="13.8" font-family='"Liberation Sans", sans-serif' text-anchor="start" fill="#111" font-weight="bold" textLength="17.4" lengthAdjust="spacingAndGlyphs">(c)</text>
<text x="64.2" y="369.8" font-size="12.2" font-family='"Liberation Serif", serif' text-anchor="start" fill="#111" font-style="italic" textLength="7.2" lengthAdjust="spacingAndGlyphs">d</text>
<text x="76.3" y="369.8" font-size="12.2" font-family='"Liberation Serif", serif' text-anchor="start" fill="#111" textLength="11.2" lengthAdjust="spacingAndGlyphs">=</text>
<text x="91.1" y="369.8" font-size="11.8" font-family='"Liberation Serif", serif' text-anchor="start" fill="#111" textLength="31.6" lengthAdjust="spacingAndGlyphs">0<tspan font-style="italic">μ</tspan>m.</text>
<text x="212.2" y="369.6" font-size="13.8" font-family='"Liberation Sans", sans-serif' text-anchor="start" fill="#111" font-weight="bold" textLength="18.0" lengthAdjust="spacingAndGlyphs">(d)</text>
<text x="234.3" y="369.8" font-size="12.2" font-family='"Liberation Serif", serif' text-anchor="start" fill="#111" font-style="italic" textLength="7.2" lengthAdjust="spacingAndGlyphs">d</text>
<text x="246.4" y="369.8" font-size="12.2" font-family='"Liberation Serif", serif' text-anchor="start" fill="#111" textLength="11.2" lengthAdjust="spacingAndGlyphs">=</text>
<text x="261.2" y="369.8" font-size="11.8" font-family='"Liberation Serif", serif' text-anchor="start" fill="#111" textLength="31.6" lengthAdjust="spacingAndGlyphs">5<tspan font-style="italic">μ</tspan>m.</text>
<text x="379.1" y="369.6" font-size="13.8" font-family='"Liberation Sans", sans-serif' text-anchor="start" fill="#111" font-weight="bold" textLength="17.6" lengthAdjust="spacingAndGlyphs">(e)</text>
<text x="400.8" y="369.8" font-size="12.2" font-family='"Liberation Serif", serif' text-anchor="start" fill="#111" font-style="italic" textLength="7.2" lengthAdjust="spacingAndGlyphs">d</text>
<text x="412.9" y="369.8" font-size="12.2" font-family='"Liberation Serif", serif' text-anchor="start" fill="#111" textLength="11.2" lengthAdjust="spacingAndGlyphs">=</text>
<text x="427.7" y="369.8" font-size="11.8" font-family='"Liberation Serif", serif' text-anchor="start" fill="#111" textLength="39.5" lengthAdjust="spacingAndGlyphs">10<tspan font-style="italic">μ</tspan>m.</text>
<text x="550.9" y="369.6" font-size="13.8" font-family='"Liberation Sans", sans-serif' text-anchor="start" fill="#111" font-weight="bold" textLength="14.0" lengthAdjust="spacingAndGlyphs">(f)</text>
<text x="569" y="369.8" font-size="12.2" font-family='"Liberation Serif", serif' text-anchor="start" fill="#111" font-style="italic" textLength="7.2" lengthAdjust="spacingAndGlyphs">d</text>
<text x="581.1" y="369.8" font-size="12.2" font-family='"Liberation Serif", serif' text-anchor="start" fill="#111" textLength="11.2" lengthAdjust="spacingAndGlyphs">=</text>
<text x="595.9" y="369.8" font-size="11.8" font-family='"Liberation Serif", serif' text-anchor="start" fill="#111" textLength="39.5" lengthAdjust="spacingAndGlyphs">15<tspan font-style="italic">μ</tspan>m.</text>
<g fill="none" stroke-linejoin="round">
<path d="M231.7,485.9 233.5,486.8 235.3,487.0 237.1,488.4 238.9,487.1 240.8,487.1 242.6,486.8 244.4,487.1 246.2,486.6 248.0,486.9 249.8,487.4 251.6,485.7 253.4,485.7 255.2,485.0 257.0,486.1 258.9,486.4 260.7,486.4 262.5,487.1 264.3,485.2 266.1,486.7 267.9,486.8 269.7,486.1 271.5,484.9 273.3,485.9 275.2,486.9 277.0,486.7 278.8,485.9 280.6,486.6 282.4,487.2 284.2,487.0 286.0,486.4 287.8,485.8 289.6,488.6 291.4,488.8 293.3,489.5 295.1,491.4 296.9,491.0 298.7,491.8 300.5,490.8 302.3,492.3 304.1,493.9 305.9,492.8 307.7,494.1 309.6,495.6 311.4,495.3 313.2,495.8 315.0,496.5 316.8,496.3 318.6,498.4 320.4,497.4 322.2,496.9 324.0,497.5 325.8,497.8 327.7,498.2 329.5,498.4 331.3,500.9 333.1,500.0 334.9,502.7 336.7,502.4 338.5,504.1 340.3,502.7 342.1,503.2 343.9,505.0 345.8,504.3 347.6,506.7 349.4,506.8 351.2,507.5 353.0,509.0 354.8,508.6 356.6,508.2 358.4,511.0 360.2,510.4 362.1,512.0 363.9,511.4 365.7,513.1 367.5,513.5 369.3,514.0 371.1,514.5 372.9,515.9 374.7,514.0 376.5,516.2 378.3,515.2 380.2,515.0 382.0,516.2 383.8,515.6 385.6,514.9 387.4,515.9 389.2,516.6 391.0,518.1 392.8,516.8 394.6,516.6 396.5,516.6 398.3,509.4 400.1,516.1 401.9,516.8 403.7,516.5 405.5,516.0 407.3,517.2 409.1,516.8 410.9,515.0 412.7,515.9 414.6,517.4 416.4,516.4 418.2,515.8 420.0,515.1 421.8,515.6 423.6,515.9 425.4,515.7 427.2,514.4 429.0,514.3 430.9,514.6 432.7,514.1 434.5,513.9 436.3,512.6 438.1,513.2 439.9,511.8 441.7,511.0 443.5,510.7 445.3,511.0 447.1,508.7 449.0,509.5 450.8,508.0 452.6,508.1 454.4,508.0 456.2,505.7" fill="none" stroke="#0000AA" stroke-width="0.8" stroke-linejoin="round" />
<path d="M231.7,486.4 233.5,486.6 235.3,486.3 237.1,486.9 238.9,486.9 240.8,486.4 242.6,484.8 244.4,485.5 246.2,486.4 248.0,485.5 249.8,486.2 251.6,486.1 253.4,479.4 255.2,486.0 257.0,486.8 258.9,486.2 260.7,485.4 262.5,485.3 264.3,484.4 266.1,485.9 267.9,484.8 269.7,485.0 271.5,485.5 273.3,484.8 275.2,485.2 277.0,486.3 278.8,485.0 280.6,486.8 282.4,486.0 284.2,486.2 286.0,486.1 287.8,487.2 289.6,487.2 291.4,487.8 293.3,487.6 295.1,489.6 296.9,489.7 298.7,490.6 300.5,492.0 302.3,489.7 304.1,492.2 305.9,493.8 307.7,492.2 309.6,494.5 311.4,494.0 313.2,494.1 315.0,495.7 316.8,496.0 318.6,496.6 320.4,496.7 322.2,498.3 324.0,498.4 325.8,491.1 327.7,497.7 329.5,498.5 331.3,498.2 333.1,499.5 334.9,501.1 336.7,501.5 338.5,503.6 340.3,503.5 342.1,504.3 343.9,504.1 345.8,504.5 347.6,506.1 349.4,506.8 351.2,508.1 353.0,507.8 354.8,508.1 356.6,508.7 358.4,510.3 360.2,509.0 362.1,510.4 363.9,512.1 365.7,513.2 367.5,513.7 369.3,513.7 371.1,514.1 372.9,513.9 374.7,513.9 376.5,513.6 378.3,513.9 380.2,515.0 382.0,514.7 383.8,515.4 385.6,515.6 387.4,513.8 389.2,515.7 391.0,513.9 392.8,515.7 394.6,515.4 396.5,514.8 398.3,515.7 400.1,515.5 401.9,516.0 403.7,516.2 405.5,516.0 407.3,508.4 409.1,514.8 410.9,516.1 412.7,514.7 414.6,517.8 416.4,515.7 418.2,515.2 420.0,515.6 421.8,514.3 423.6,514.4 425.4,514.8 427.2,514.0 429.0,511.9 430.9,513.5 432.7,513.1 434.5,513.3 436.3,512.5 438.1,513.1 439.9,511.7 441.7,509.2 443.5,509.7 445.3,509.3 447.1,508.3 449.0,507.0 450.8,507.2 452.6,505.4 454.4,505.3 456.2,505.2" fill="none" stroke="#0000FF" stroke-width="0.8" stroke-linejoin="round" />
<path d="M231.7,484.8 233.5,487.7 235.3,486.3 237.1,485.6 238.9,486.4 240.8,485.8 242.6,486.0 244.4,486.0 246.2,483.4 248.0,484.9 249.8,474.4 251.6,484.2 253.4,485.3 255.2,484.4 257.0,484.7 258.9,483.7 260.7,485.9 262.5,484.2 264.3,484.7 266.1,485.6 267.9,483.9 269.7,470.1 271.5,483.6 273.3,484.5 275.2,484.4 277.0,485.0 278.8,484.5 280.6,486.6 282.4,485.4 284.2,486.0 286.0,485.6 287.8,486.1 289.6,486.1 291.4,487.7 293.3,486.4 295.1,486.7 296.9,489.3 298.7,489.8 300.5,490.3 302.3,490.1 304.1,490.2 305.9,493.0 307.7,493.1 309.6,493.9 311.4,494.5 313.2,495.3 315.0,494.4 316.8,496.0 318.6,494.5 320.4,495.4 322.2,497.2 324.0,497.7 325.8,497.8 327.7,496.8 329.5,499.0 331.3,500.0 333.1,499.5 334.9,499.8 336.7,501.3 338.5,500.3 340.3,502.1 342.1,502.6 343.9,504.3 345.8,504.4 347.6,505.2 349.4,507.4 351.2,506.2 353.0,508.4 354.8,507.8 356.6,509.5 358.4,507.6 360.2,509.6 362.1,510.0 363.9,501.1 365.7,513.2 367.5,514.5 369.3,513.5 371.1,512.8 372.9,513.6 374.7,513.3 376.5,513.3 378.3,515.3 380.2,514.1 382.0,512.9 383.8,514.9 385.6,516.1 387.4,514.8 389.2,481.1 391.0,514.5 392.8,515.5 394.6,514.9 396.5,516.6 398.3,514.5 400.1,514.0 401.9,514.3 403.7,516.4 405.5,515.1 407.3,517.5 409.1,515.1 410.9,515.4 412.7,516.1 414.6,515.0 416.4,515.0 418.2,514.3 420.0,514.7 421.8,514.4 423.6,515.7 425.4,514.8 427.2,514.0 429.0,513.2 430.9,513.1 432.7,511.6 434.5,513.0 436.3,512.1 438.1,511.3 439.9,511.2 441.7,510.1 443.5,510.3 445.3,508.2 447.1,508.8 449.0,507.0 450.8,507.1 452.6,505.2 454.4,506.5 456.2,504.3" fill="none" stroke="#0055FF" stroke-width="0.8" stroke-linejoin="round" />
<path d="M231.7,485.8 233.5,485.2 235.3,484.4 237.1,486.0 238.9,486.1 240.8,479.4 242.6,484.8 244.4,486.3 246.2,484.7 248.0,485.7 249.8,485.5 251.6,484.9 253.4,484.2 255.2,484.9 257.0,484.7 258.9,484.3 260.7,484.4 262.5,486.1 264.3,484.5 266.1,484.1 267.9,483.3 269.7,482.6 271.5,483.7 273.3,484.2 275.2,464.4 277.0,484.4 278.8,484.0 280.6,483.8 282.4,485.5 284.2,484.8 286.0,484.6 287.8,484.1 289.6,485.7 291.4,486.9 293.3,487.7 295.1,488.1 296.9,489.0 298.7,488.6 300.5,489.1 302.3,489.9 304.1,490.1 305.9,491.8 307.7,491.7 309.6,492.8 311.4,493.0 313.2,492.7 315.0,494.1 316.8,495.9 318.6,495.2 320.4,496.0 322.2,497.0 324.0,496.9 325.8,496.1 327.7,496.0 329.5,498.1 331.3,497.5 333.1,498.0 334.9,500.3 336.7,500.2 338.5,500.9 340.3,501.5 342.1,503.5 343.9,503.3 345.8,503.0 347.6,503.5 349.4,503.8 351.2,506.0 353.0,505.1 354.8,506.6 356.6,508.8 358.4,507.9 360.2,509.5 362.1,494.1 363.9,511.0 365.7,485.8 367.5,512.0 369.3,512.9 371.1,512.2 372.9,512.9 374.7,513.6 376.5,512.5 378.3,513.9 380.2,514.1 382.0,514.2 383.8,515.0 385.6,514.4 387.4,512.7 389.2,514.8 391.0,514.2 392.8,504.4 394.6,514.8 396.5,513.3 398.3,513.8 400.1,484.8 401.9,514.6 403.7,515.3 405.5,515.3 407.3,515.4 409.1,515.4 410.9,514.5 412.7,514.3 414.6,514.3 416.4,514.7 418.2,515.4 420.0,514.2 421.8,514.6 423.6,513.0 425.4,513.0 427.2,512.5 429.0,513.0 430.9,513.8 432.7,511.4 434.5,510.9 436.3,512.5 438.1,510.8 439.9,509.5 441.7,510.6 443.5,508.0 445.3,508.9 447.1,508.7 449.0,506.2 450.8,496.1 452.6,506.2 454.4,504.3 456.2,505.5" fill="none" stroke="#00AAFF" stroke-width="0.8" stroke-linejoin="round" />
<path d="M231.7,483.5 233.5,485.4 235.3,484.5 237.1,478.8 238.9,484.2 240.8,483.8 242.6,480.4 244.4,483.7 246.2,484.4 248.0,484.7 249.8,484.2 251.6,484.7 253.4,484.5 255.2,483.1 257.0,483.9 258.9,482.9 260.7,483.3 262.5,484.3 264.3,484.9 266.1,484.0 267.9,483.3 269.7,483.5 271.5,484.2 273.3,482.9 275.2,485.0 277.0,484.7 278.8,483.9 280.6,477.8 282.4,483.9 284.2,485.1 286.0,484.1 287.8,484.4 289.6,484.6 291.4,486.2 293.3,487.1 295.1,487.2 296.9,487.6 298.7,487.5 300.5,487.7 302.3,490.4 304.1,490.7 305.9,490.9 307.7,491.6 309.6,491.6 311.4,492.1 313.2,492.8 315.0,492.5 316.8,494.0 318.6,495.2 320.4,496.0 322.2,496.0 324.0,496.5 325.8,497.6 327.7,496.2 329.5,497.0 331.3,498.0 333.1,498.9 334.9,500.1 336.7,500.3 338.5,499.0 340.3,502.7 342.1,501.7 343.9,501.9 345.8,503.1 347.6,504.1 349.4,504.0 351.2,506.0 353.0,505.5 354.8,505.5 356.6,508.0 358.4,508.5 360.2,508.6 362.1,508.8 363.9,509.3 365.7,510.5 367.5,512.1 369.3,512.9 371.1,512.1 372.9,512.2 374.7,513.5 376.5,503.7 378.3,512.7 380.2,512.3 382.0,513.9 383.8,512.9 385.6,514.2 387.4,513.8 389.2,513.6 391.0,512.5 392.8,511.2 394.6,513.6 396.5,513.5 398.3,513.2 400.1,514.9 401.9,513.4 403.7,515.0 405.5,512.9 407.3,513.1 409.1,513.8 410.9,514.7 412.7,512.9 414.6,513.9 416.4,513.9 418.2,497.7 420.0,514.8 421.8,513.0 423.6,512.4 425.4,512.6 427.2,512.4 429.0,512.9 430.9,511.4 432.7,511.4 434.5,511.2 436.3,511.2 438.1,509.7 439.9,504.4 441.7,509.0 443.5,508.0 445.3,507.0 447.1,506.2 449.0,506.5 450.8,506.0 452.6,505.4 454.4,504.3 456.2,503.1" fill="none" stroke="#00FFFF" stroke-width="0.8" stroke-linejoin="round" />
<path d="M231.7,483.6 233.5,484.5 235.3,484.0 237.1,484.7 238.9,483.0 240.8,484.1 242.6,483.5 244.4,484.2 246.2,483.8 248.0,484.1 249.8,482.2 251.6,483.1 253.4,483.4 255.2,483.9 257.0,483.6 258.9,482.7 260.7,481.8 262.5,479.4 264.3,483.6 266.1,483.1 267.9,483.4 269.7,484.2 271.5,483.0 273.3,482.5 275.2,484.3 277.0,483.1 278.8,482.6 280.6,482.8 282.4,483.9 284.2,482.1 286.0,483.6 287.8,484.9 289.6,484.0 291.4,486.1 293.3,485.3 295.1,487.6 296.9,486.8 298.7,488.5 300.5,487.8 302.3,488.7 304.1,489.4 305.9,490.2 307.7,490.0 309.6,492.7 311.4,491.5 313.2,492.0 315.0,492.4 316.8,492.7 318.6,491.1 320.4,494.2 322.2,494.1 324.0,495.0 325.8,494.4 327.7,497.5 329.5,495.3 331.3,497.6 333.1,499.3 334.9,499.1 336.7,499.1 338.5,499.6 340.3,500.5 342.1,500.6 343.9,501.9 345.8,502.6 347.6,504.8 349.4,503.6 351.2,503.9 353.0,505.6 354.8,507.3 356.6,507.6 358.4,506.1 360.2,508.5 362.1,509.4 363.9,510.3 365.7,509.9 367.5,511.5 369.3,512.1 371.1,512.8 372.9,512.0 374.7,511.3 376.5,512.3 378.3,511.7 380.2,512.4 382.0,512.5 383.8,512.6 385.6,512.7 387.4,512.1 389.2,512.6 391.0,513.4 392.8,513.0 394.6,513.2 396.5,503.7 398.3,513.2 400.1,513.0 401.9,514.5 403.7,513.2 405.5,512.5 407.3,514.5 409.1,512.4 410.9,513.3 412.7,513.7 414.6,514.8 416.4,512.6 418.2,513.9 420.0,513.4 421.8,512.4 423.6,513.2 425.4,512.9 427.2,512.7 429.0,499.4 430.9,510.8 432.7,510.6 434.5,510.3 436.3,510.4 438.1,509.6 439.9,509.7 441.7,507.2 443.5,507.9 445.3,508.8 447.1,507.5 449.0,504.8 450.8,506.3 452.6,504.8 454.4,503.4 456.2,503.7" fill="none" stroke="#55FFAA" stroke-width="0.8" stroke-linejoin="round" />
<path d="M231.7,482.7 233.5,481.9 235.3,484.2 237.1,482.1 238.9,477.8 240.8,484.0 242.6,482.6 244.4,482.5 246.2,483.2 248.0,467.1 249.8,484.0 251.6,483.3 253.4,483.5 255.2,481.7 257.0,468.8 258.9,492.7 260.7,483.8 262.5,482.3 264.3,482.0 266.1,484.1 267.9,483.4 269.7,482.0 271.5,481.9 273.3,482.4 275.2,482.2 277.0,492.7 278.8,482.7 280.6,483.0 282.4,483.9 284.2,483.3 286.0,483.6 287.8,481.0 289.6,465.4 291.4,483.6 293.3,484.0 295.1,484.1 296.9,484.4 298.7,494.4 300.5,484.6 302.3,484.1 304.1,486.0 305.9,485.4 307.7,485.4 309.6,487.9 311.4,487.2 313.2,487.7 315.0,488.8 316.8,489.5 318.6,491.5 320.4,489.0 322.2,491.5 324.0,492.3 325.8,501.1 327.7,493.7 329.5,491.3 331.3,492.3 333.1,492.5 334.9,493.7 336.7,495.2 338.5,496.3 340.3,493.5 342.1,496.0 343.9,496.6 345.8,495.2 347.6,498.2 349.4,498.7 351.2,499.7 353.0,506.1 354.8,502.6 356.6,503.2 358.4,502.5 360.2,504.0 362.1,508.7 363.9,508.6 365.7,507.1 367.5,508.2 369.3,509.2 371.1,508.4 372.9,511.8 374.7,509.5 376.5,511.1 378.3,511.2 380.2,522.7 382.0,511.9 383.8,513.5 385.6,514.2 387.4,513.3 389.2,514.3 391.0,516.0 392.8,513.7 394.6,514.2 396.5,514.2 398.3,515.8 400.1,515.7 401.9,516.7 403.7,517.5 405.5,516.7 407.3,516.9 409.1,518.0 410.9,515.8 412.7,519.7 414.6,519.4 416.4,512.7 418.2,518.5 420.0,520.6 421.8,521.1 423.6,521.9 425.4,521.8 427.2,531.0 429.0,519.6 430.9,519.6 432.7,518.7 434.5,519.8 436.3,521.1 438.1,518.4 439.9,518.3 441.7,515.2 443.5,513.5 445.3,511.6 447.1,514.4 449.0,509.4 450.8,507.1 452.6,508.5 454.4,507.3 456.2,507.1" fill="none" stroke="#AAFF55" stroke-width="0.8" stroke-linejoin="round" />
<path d="M231.7,487.8 232.6,487.1 233.6,486.5 234.5,485.9 235.5,485.3 236.4,484.7 237.3,484.1 238.3,483.6 239.2,483.0 240.2,482.6 241.1,482.1 242.0,481.7 243.0,481.3 243.9,480.9 244.9,480.6 245.8,480.4 246.7,480.1 247.7,480.0 248.6,479.8 249.5,479.6 250.5,479.4 251.4,479.3 252.4,479.1 253.3,479.0 254.2,478.9 255.2,478.7 256.1,478.6 257.1,478.5 258.0,478.4 258.9,478.3 259.9,478.2 260.8,478.2 261.8,478.1 262.7,478.1 263.6,478.1 264.6,478.1 265.5,478.2 266.5,478.4 267.4,478.6 268.3,478.8 269.3,479.1 270.2,479.4 271.2,479.7 272.1,480.0 273.0,480.2 274.0,480.5 274.9,480.6 275.8,480.7 276.8,480.8 277.7,480.7 278.7,480.6 279.6,480.5 280.5,480.3 281.5,480.2 282.4,480.0 283.4,479.8 284.3,479.6 285.2,479.5 286.2,479.3 287.1,479.2 288.1,479.0 289.0,478.9 289.9,478.7 290.9,478.6 291.8,478.4 292.8,478.2 293.7,478.1 294.6,477.9 295.6,477.8 296.5,477.7 297.5,477.5 298.4,477.4 299.3,477.3 300.3,477.2 301.2,477.2 302.1,477.1 303.1,477.1 304.0,477.1 305.0,477.4 305.9,478.0 306.8,478.7 307.8,479.5 308.7,480.4 309.7,481.2 310.6,482.1 311.5,482.8 312.5,483.4 313.4,483.8 314.4,484.2 315.3,484.6 316.2,484.9 317.2,485.3 318.1,485.6 319.1,486.0 320.0,486.4 320.9,486.8 321.9,487.2 322.8,487.6 323.8,488.1 324.7,488.5 325.6,488.9 326.6,489.4 327.5,489.8 328.5,490.2 329.4,490.6 330.3,491.0 331.3,491.4 332.2,491.7 333.1,492.1 334.1,492.5 335.0,492.9 336.0,493.3 336.9,493.7 337.8,494.1 338.8,494.5 339.7,494.9 340.7,495.3 341.6,495.7 342.5,496.0 343.5,496.4 344.4,496.8 345.4,497.3 346.3,497.7 347.2,498.1 348.2,498.6 349.1,499.1 350.1,499.6 351.0,500.1 351.9,500.7 352.9,501.2 353.8,501.8 354.8,502.4 355.7,503.0 356.6,503.6 357.6,504.2 358.5,504.9 359.4,505.5 360.4,506.2 361.3,506.8 362.3,507.5 363.2,508.1 364.1,508.8 365.1,509.4 366.0,510.1 367.0,510.7 367.9,511.3 368.8,512.0 369.8,512.6 370.7,513.2 371.7,513.9 372.6,514.6 373.5,515.3 374.5,516.0 375.4,516.7 376.4,517.4 377.3,518.1 378.2,518.8 379.2,519.4 380.1,519.9 381.1,520.4 382.0,520.8 382.9,521.2 383.9,521.5 384.8,521.8 385.8,522.1 386.7,522.5 387.6,522.8 388.6,523.0 389.5,523.3 390.4,523.6 391.4,523.8 392.3,524.1 393.3,524.3 394.2,524.5 395.1,524.6 396.1,524.8 397.0,524.9 398.0,525.0 398.9,525.0 399.8,525.0 400.8,525.0 401.7,524.9 402.7,524.7 403.6,524.5 404.5,524.2 405.5,523.9 406.4,523.7 407.4,523.4 408.3,523.1 409.2,522.9 410.2,522.8 411.1,522.7 412.1,522.7 413.0,522.8 413.9,522.9 414.9,523.0 415.8,523.2 416.7,523.3 417.7,523.5 418.6,523.7 419.6,524.0 420.5,524.2 421.4,524.4 422.4,524.6 423.3,524.8 424.3,525.0 425.2,525.1 426.1,525.3 427.1,525.4 428.0,525.6 429.0,525.8 429.9,526.0 430.8,526.2 431.8,526.3 432.7,526.5 433.7,526.6 434.6,526.8 435.5,526.9 436.5,527.0 437.4,527.0 438.4,527.0 439.3,527.0 440.2,526.6 441.2,526.0 442.1,525.2 443.0,524.2 444.0,523.1 444.9,522.0 445.9,520.9 446.8,519.8 447.7,518.8 448.7,517.8 449.6,516.8 450.6,515.8 451.5,514.7 452.4,513.5 453.4,512.4 454.3,511.2 455.3,510.0 456.2,508.7" fill="none" stroke="#FFFF00" stroke-width="1.0" stroke-linejoin="round" />
<path d="M231.7,488.7 232.6,487.9 233.6,487.0 234.5,486.1 235.5,485.3 236.4,484.5 237.3,483.7 238.3,482.9 239.2,482.2 240.2,481.5 241.1,480.9 242.0,480.2 243.0,479.7 243.9,479.1 244.9,478.7 245.8,478.2 246.7,477.8 247.7,477.5 248.6,477.2 249.5,476.9 250.5,476.6 251.4,476.4 252.4,476.1 253.3,475.9 254.2,475.7 255.2,475.5 256.1,475.3 257.1,475.1 258.0,474.9 258.9,474.7 259.9,474.6 260.8,474.4 261.8,474.2 262.7,474.0 263.6,473.8 264.6,473.7 265.5,473.5 266.5,473.2 267.4,473.0 268.3,472.8 269.3,472.6 270.2,472.4 271.2,472.1 272.1,471.9 273.0,471.7 274.0,471.5 274.9,471.4 275.8,471.2 276.8,471.1 277.7,471.0 278.7,470.9 279.6,470.8 280.5,470.8 281.5,470.8 282.4,470.8 283.4,470.8 284.3,470.8 285.2,470.8 286.2,470.9 287.1,470.9 288.1,471.0 289.0,471.0 289.9,471.1 290.9,471.2 291.8,471.2 292.8,471.3 293.7,471.4 294.6,471.5 295.6,471.5 296.5,471.6 297.5,471.7 298.4,471.8 299.3,471.9 300.3,472.0 301.2,472.1 302.1,472.2 303.1,472.4 304.0,472.5 305.0,472.7 305.9,472.9 306.8,473.1 307.8,473.3 308.7,473.5 309.7,473.7 310.6,473.9 311.5,474.2 312.5,474.4 313.4,474.7 314.4,475.0 315.3,475.4 316.2,475.7 317.2,476.2 318.1,476.6 319.1,477.1 320.0,477.6 320.9,478.1 321.9,478.6 322.8,479.2 323.8,479.7 324.7,480.3 325.6,480.9 326.6,481.4 327.5,482.0 328.5,482.6 329.4,483.1 330.3,483.7 331.3,484.4 332.2,485.0 333.1,485.7 334.1,486.3 335.0,487.0 336.0,487.7 336.9,488.4 337.8,489.1 338.8,489.8 339.7,490.6 340.7,491.3 341.6,492.0 342.5,492.7 343.5,493.4 344.4,494.1 345.4,494.8 346.3,495.5 347.2,496.1 348.2,496.8 349.1,497.5 350.1,498.1 351.0,498.8 351.9,499.4 352.9,500.1 353.8,500.7 354.8,501.4 355.7,502.1 356.6,502.7 357.6,503.4 358.5,504.1 359.4,504.7 360.4,505.4 361.3,506.1 362.3,506.8 363.2,507.5 364.1,508.2 365.1,508.9 366.0,509.6 367.0,510.3 367.9,511.1 368.8,511.8 369.8,512.6 370.7,513.3 371.7,514.2 372.6,515.1 373.5,516.1 374.5,517.1 375.4,518.1 376.4,519.1 377.3,520.1 378.2,521.0 379.2,521.8 380.1,522.6 381.1,523.2 382.0,523.8 382.9,524.2 383.9,524.6 384.8,524.9 385.8,525.2 386.7,525.5 387.6,525.8 388.6,526.1 389.5,526.4 390.4,526.6 391.4,526.8 392.3,527.0 393.3,527.2 394.2,527.4 395.1,527.6 396.1,527.8 397.0,527.9 398.0,528.1 398.9,528.2 399.8,528.3 400.8,528.5 401.7,528.6 402.7,528.8 403.6,528.9 404.5,529.0 405.5,529.2 406.4,529.3 407.4,529.4 408.3,529.5 409.2,529.6 410.2,529.7 411.1,529.8 412.1,529.8 413.0,529.9 413.9,530.0 414.9,530.0 415.8,530.0 416.7,530.0 417.7,530.0 418.6,530.0 419.6,530.0 420.5,530.0 421.4,530.0 422.4,530.0 423.3,530.0 424.3,530.0 425.2,530.0 426.1,530.0 427.1,530.0 428.0,530.0 429.0,530.0 429.9,530.0 430.8,530.0 431.8,530.0 432.7,530.0 433.7,530.0 434.6,530.0 435.5,529.9 436.5,529.8 437.4,529.7 438.4,529.5 439.3,529.4 440.2,529.2 441.2,529.0 442.1,528.7 443.0,528.5 444.0,528.3 444.9,528.1 445.9,527.8 446.8,527.5 447.7,527.1 448.7,526.7 449.6,526.2 450.6,525.7 451.5,525.2 452.4,524.6 453.4,524.0 454.3,523.4 455.3,522.7 456.2,522.0" fill="none" stroke="#FFAA00" stroke-width="1.0" stroke-linejoin="round" />
<path d="M231.7,490.1 232.6,488.8 233.6,487.5 234.5,486.2 235.5,485.0 236.4,483.8 237.3,482.6 238.3,481.5 239.2,480.5 240.2,479.4 241.1,478.5 242.0,477.6 243.0,476.8 243.9,476.1 244.9,475.5 245.8,475.0 246.7,474.5 247.7,474.2 248.6,473.8 249.5,473.5 250.5,473.3 251.4,473.0 252.4,472.8 253.3,472.5 254.2,472.3 255.2,472.1 256.1,471.9 257.1,471.8 258.0,471.6 258.9,471.4 259.9,471.2 260.8,471.1 261.8,470.9 262.7,470.7 263.6,470.5 264.6,470.3 265.5,470.1 266.5,469.9 267.4,469.6 268.3,469.4 269.3,469.1 270.2,468.9 271.2,468.7 272.1,468.4 273.0,468.2 274.0,468.0 274.9,467.8 275.8,467.6 276.8,467.5 277.7,467.3 278.7,467.2 279.6,467.2 280.5,467.1 281.5,467.1 282.4,467.1 283.4,467.1 284.3,467.2 285.2,467.2 286.2,467.3 287.1,467.3 288.1,467.4 289.0,467.5 289.9,467.5 290.9,467.6 291.8,467.7 292.8,467.8 293.7,467.9 294.6,468.0 295.6,468.1 296.5,468.2 297.5,468.4 298.4,468.5 299.3,468.6 300.3,468.7 301.2,468.9 302.1,469.1 303.1,469.2 304.0,469.4 305.0,469.6 305.9,469.9 306.8,470.1 307.8,470.4 308.7,470.6 309.7,470.9 310.6,471.2 311.5,471.5 312.5,471.8 313.4,472.1 314.4,472.4 315.3,472.8 316.2,473.2 317.2,473.7 318.1,474.1 319.1,474.6 320.0,475.1 320.9,475.7 321.9,476.2 322.8,476.8 323.8,477.4 324.7,478.0 325.6,478.6 326.6,479.3 327.5,479.9 328.5,480.6 329.4,481.3 330.3,482.1 331.3,482.9 332.2,483.8 333.1,484.8 334.1,485.7 335.0,486.7 336.0,487.7 336.9,488.8 337.8,489.8 338.8,490.8 339.7,491.8 340.7,492.8 341.6,493.8 342.5,494.7 343.5,495.6 344.4,496.4 345.4,497.1 346.3,497.9 347.2,498.5 348.2,499.2 349.1,499.8 350.1,500.4 351.0,501.0 351.9,501.6 352.9,502.1 353.8,502.7 354.8,503.2 355.7,503.7 356.6,504.2 357.6,504.8 358.5,505.3 359.4,505.8 360.4,506.4 361.3,506.9 362.3,507.5 363.2,508.1 364.1,508.8 365.1,509.4 366.0,510.1 367.0,510.8 367.9,511.6 368.8,512.4 369.8,513.2 370.7,514.2 371.7,515.4 372.6,516.8 373.5,518.4 374.5,520.0 375.4,521.6 376.4,523.2 377.3,524.7 378.2,525.9 379.2,526.9 380.1,527.5 381.1,527.8 382.0,527.9 382.9,528.0 383.9,528.1 384.8,528.2 385.8,528.3 386.7,528.3 387.6,528.4 388.6,528.5 389.5,528.5 390.4,528.6 391.4,528.6 392.3,528.6 393.3,528.7 394.2,528.8 395.1,528.8 396.1,528.9 397.0,529.0 398.0,529.1 398.9,529.2 399.8,529.3 400.8,529.4 401.7,529.5 402.7,529.6 403.6,529.7 404.5,529.8 405.5,530.0 406.4,530.1 407.4,530.3 408.3,530.4 409.2,530.6 410.2,530.8 411.1,531.0 412.1,531.2 413.0,531.6 413.9,532.0 414.9,532.4 415.8,532.9 416.7,533.4 417.7,533.9 418.6,534.4 419.6,534.9 420.5,535.4 421.4,535.8 422.4,536.3 423.3,536.7 424.3,537.2 425.2,537.7 426.1,538.2 427.1,538.6 428.0,538.9 429.0,539.2 429.9,539.3 430.8,539.4 431.8,539.3 432.7,539.3 433.7,539.2 434.6,539.0 435.5,538.8 436.5,538.6 437.4,538.4 438.4,538.1 439.3,537.9 440.2,537.6 441.2,537.2 442.1,536.9 443.0,536.6 444.0,536.1 444.9,535.6 445.9,534.9 446.8,534.1 447.7,533.2 448.7,532.2 449.6,531.2 450.6,530.0 451.5,528.8 452.4,527.6 453.4,526.3 454.3,524.9 455.3,523.5 456.2,522.0" fill="none" stroke="#FF5500" stroke-width="1.0" stroke-linejoin="round" />
<path d="M231.7,491.1 232.6,489.6 233.6,488.1 234.5,486.6 235.5,485.2 236.4,483.8 237.3,482.5 238.3,481.2 239.2,480.0 240.2,478.8 241.1,477.7 242.0,476.7 243.0,475.8 243.9,475.0 244.9,474.3 245.8,473.7 246.7,473.2 247.7,472.8 248.6,472.5 249.5,472.1 250.5,471.8 251.4,471.6 252.4,471.3 253.3,471.1 254.2,470.9 255.2,470.7 256.1,470.5 257.1,470.3 258.0,470.1 258.9,469.9 259.9,469.7 260.8,469.5 261.8,469.3 262.7,469.1 263.6,468.9 264.6,468.6 265.5,468.3 266.5,468.0 267.4,467.7 268.3,467.3 269.3,467.0 270.2,466.6 271.2,466.2 272.1,465.9 273.0,465.5 274.0,465.2 274.9,464.9 275.8,464.6 276.8,464.3 277.7,464.1 278.7,464.0 279.6,463.8 280.5,463.8 281.5,463.8 282.4,463.8 283.4,463.8 284.3,463.8 285.2,463.9 286.2,463.9 287.1,463.9 288.1,464.0 289.0,464.0 289.9,464.1 290.9,464.2 291.8,464.2 292.8,464.3 293.7,464.4 294.6,464.4 295.6,464.5 296.5,464.6 297.5,464.8 298.4,464.9 299.3,465.1 300.3,465.2 301.2,465.4 302.1,465.6 303.1,465.8 304.0,466.0 305.0,466.3 305.9,466.5 306.8,466.8 307.8,467.0 308.7,467.3 309.7,467.7 310.6,468.0 311.5,468.5 312.5,468.9 313.4,469.4 314.4,469.9 315.3,470.4 316.2,471.0 317.2,471.5 318.1,472.1 319.1,472.7 320.0,473.2 320.9,473.8 321.9,474.3 322.8,474.8 323.8,475.4 324.7,475.9 325.6,476.4 326.6,476.9 327.5,477.5 328.5,478.0 329.4,478.6 330.3,479.2 331.3,479.8 332.2,480.4 333.1,481.1 334.1,481.7 335.0,482.5 336.0,483.3 336.9,484.2 337.8,485.2 338.8,486.2 339.7,487.3 340.7,488.4 341.6,489.4 342.5,490.5 343.5,491.5 344.4,492.4 345.4,493.2 346.3,493.9 347.2,494.6 348.2,495.3 349.1,496.0 350.1,496.6 351.0,497.2 351.9,497.8 352.9,498.4 353.8,499.0 354.8,499.6 355.7,500.2 356.6,500.8 357.6,501.4 358.5,502.1 359.4,502.8 360.4,503.5 361.3,504.3 362.3,505.1 363.2,506.0 364.1,506.9 365.1,507.8 366.0,508.8 367.0,509.9 367.9,510.9 368.8,512.0 369.8,513.1 370.7,514.3 371.7,515.8 372.6,517.3 373.5,519.0 374.5,520.7 375.4,522.4 376.4,524.1 377.3,525.6 378.2,526.9 379.2,527.9 380.1,528.7 381.1,529.1 382.0,529.5 382.9,529.7 383.9,530.0 384.8,530.2 385.8,530.5 386.7,530.7 387.6,530.8 388.6,531.0 389.5,531.2 390.4,531.3 391.4,531.4 392.3,531.5 393.3,531.6 394.2,531.7 395.1,531.8 396.1,531.9 397.0,531.9 398.0,532.0 398.9,532.0 399.8,532.1 400.8,532.1 401.7,532.1 402.7,532.2 403.6,532.2 404.5,532.2 405.5,532.3 406.4,532.3 407.4,532.4 408.3,532.4 409.2,532.5 410.2,532.6 411.1,532.7 412.1,532.8 413.0,533.1 413.9,533.6 414.9,534.1 415.8,534.7 416.7,535.3 417.7,536.0 418.6,536.7 419.6,537.3 420.5,538.0 421.4,538.5 422.4,539.1 423.3,539.8 424.3,540.6 425.2,541.3 426.1,542.0 427.1,542.8 428.0,543.4 429.0,544.1 429.9,544.6 430.8,545.0 431.8,545.2 432.7,545.4 433.7,545.3 434.6,545.1 435.5,544.7 436.5,544.3 437.4,543.7 438.4,543.0 439.3,542.3 440.2,541.5 441.2,540.8 442.1,540.0 443.0,539.2 444.0,538.4 444.9,537.7 445.9,536.9 446.8,536.1 447.7,535.2 448.7,534.3 449.6,533.4 450.6,532.4 451.5,531.5 452.4,530.4 453.4,529.4 454.3,528.3 455.3,527.2 456.2,526.0" fill="none" stroke="#FF0000" stroke-width="1.0" stroke-linejoin="round" />
<path d="M231.7,492.7 232.6,490.8 233.6,488.9 234.5,487.0 235.5,485.2 236.4,483.4 237.3,481.8 238.3,480.1 239.2,478.6 240.2,477.1 241.1,475.7 242.0,474.4 243.0,473.1 243.9,472.0 244.9,470.9 245.8,469.9 246.7,469.0 247.7,468.2 248.6,467.4 249.5,466.6 250.5,465.9 251.4,465.2 252.4,464.6 253.3,464.0 254.2,463.5 255.2,463.0 256.1,462.6 257.1,462.2 258.0,461.9 258.9,461.5 259.9,461.2 260.8,460.9 261.8,460.6 262.7,460.4 263.6,460.1 264.6,459.8 265.5,459.6 266.5,459.4 267.4,459.2 268.3,459.0 269.3,458.9 270.2,458.7 271.2,458.6 272.1,458.5 273.0,458.4 274.0,458.3 274.9,458.3 275.8,458.2 276.8,458.2 277.7,458.2 278.7,458.1 279.6,458.1 280.5,458.0 281.5,458.0 282.4,457.9 283.4,457.9 284.3,457.8 285.2,457.6 286.2,457.3 287.1,457.0 288.1,456.5 289.0,456.0 289.9,455.5 290.9,454.9 291.8,454.3 292.8,453.7 293.7,453.1 294.6,452.6 295.6,452.1 296.5,451.7 297.5,451.4 298.4,451.2 299.3,451.1 300.3,451.2 301.2,451.3 302.1,451.5 303.1,451.9 304.0,452.3 305.0,452.7 305.9,453.2 306.8,453.8 307.8,454.4 308.7,455.1 309.7,455.7 310.6,456.4 311.5,457.1 312.5,457.8 313.4,458.7 314.4,459.7 315.3,460.8 316.2,462.0 317.2,463.3 318.1,464.5 319.1,465.8 320.0,467.0 320.9,468.1 321.9,469.2 322.8,470.3 323.8,471.4 324.7,472.6 325.6,473.8 326.6,474.9 327.5,476.0 328.5,477.0 329.4,477.9 330.3,478.7 331.3,479.4 332.2,480.0 333.1,480.4 334.1,480.8 335.0,481.1 336.0,481.4 336.9,481.8 337.8,482.1 338.8,482.5 339.7,483.0 340.7,483.4 341.6,483.9 342.5,484.4 343.5,484.9 344.4,485.5 345.4,486.1 346.3,486.7 347.2,487.4 348.2,488.2 349.1,488.9 350.1,489.7 351.0,490.6 351.9,491.4 352.9,492.3 353.8,493.2 354.8,494.2 355.7,495.1 356.6,496.2 357.6,497.2 358.5,498.3 359.4,499.3 360.4,500.4 361.3,501.6 362.3,502.7 363.2,503.9 364.1,505.1 365.1,506.4 366.0,507.7 367.0,509.0 367.9,510.3 368.8,511.7 369.8,513.1 370.7,514.5 371.7,516.1 372.6,517.8 373.5,519.5 374.5,521.2 375.4,522.8 376.4,524.3 377.3,525.6 378.2,526.8 379.2,527.6 380.1,528.5 381.1,529.2 382.0,529.9 382.9,530.6 383.9,531.2 384.8,531.7 385.8,532.3 386.7,532.8 387.6,533.3 388.6,533.8 389.5,534.3 390.4,534.8 391.4,535.3 392.3,535.8 393.3,536.2 394.2,536.7 395.1,537.1 396.1,537.4 397.0,537.8 398.0,538.2 398.9,538.6 399.8,538.9 400.8,539.3 401.7,539.6 402.7,540.0 403.6,540.4 404.5,540.8 405.5,541.2 406.4,541.6 407.4,542.1 408.3,542.6 409.2,543.1 410.2,543.7 411.1,544.2 412.1,544.9 413.0,545.8 413.9,546.7 414.9,547.8 415.8,548.8 416.7,549.8 417.7,550.7 418.6,551.5 419.6,552.1 420.5,552.6 421.4,553.2 422.4,553.7 423.3,554.1 424.3,554.6 425.2,555.0 426.1,555.3 427.1,555.5 428.0,555.6 429.0,555.7 429.9,555.6 430.8,555.5 431.8,555.3 432.7,555.1 433.7,554.8 434.6,554.4 435.5,554.0 436.5,553.6 437.4,553.1 438.4,552.6 439.3,552.1 440.2,551.6 441.2,551.0 442.1,550.5 443.0,549.9 444.0,549.4 444.9,548.9 445.9,548.2 446.8,547.6 447.7,546.9 448.7,546.1 449.6,545.4 450.6,544.5 451.5,543.7 452.4,542.8 453.4,541.9 454.3,541.0 455.3,540.0 456.2,539.0" fill="none" stroke="#AA0000" stroke-width="1.0" stroke-linejoin="round" />
</g>
<line x1="231.7" y1="443.1" x2="231.7" y2="558.8" stroke="#555" stroke-width="1" />
<line x1="231.7" y1="558.8" x2="456.4" y2="558.8" stroke="#555" stroke-width="1" />
<line x1="231.7" y1="558.8" x2="231.7" y2="556" stroke="#555" stroke-width="1" />
<text x="231.2" y="573.6" font-size="12" font-family='"Liberation Serif", serif' text-anchor="middle" fill="#3a3a3a" textLength="24.2" lengthAdjust="spacingAndGlyphs">4200</text>
<line x1="276.6" y1="558.8" x2="276.6" y2="556" stroke="#555" stroke-width="1" />
<text x="276.1" y="573.6" font-size="12" font-family='"Liberation Serif", serif' text-anchor="middle" fill="#3a3a3a" textLength="24.2" lengthAdjust="spacingAndGlyphs">4100</text>
<line x1="321.5" y1="558.8" x2="321.5" y2="556" stroke="#555" stroke-width="1" />
<text x="321" y="573.6" font-size="12" font-family='"Liberation Serif", serif' text-anchor="middle" fill="#3a3a3a" textLength="24.2" lengthAdjust="spacingAndGlyphs">4000</text>
<line x1="366.4" y1="558.8" x2="366.4" y2="556" stroke="#555" stroke-width="1" />
<text x="365.9" y="573.6" font-size="12" font-family='"Liberation Serif", serif' text-anchor="middle" fill="#3a3a3a" textLength="24.2" lengthAdjust="spacingAndGlyphs">3900</text>
<line x1="411.3" y1="558.8" x2="411.3" y2="556" stroke="#555" stroke-width="1" />
<text x="410.8" y="573.6" font-size="12" font-family='"Liberation Serif", serif' text-anchor="middle" fill="#3a3a3a" textLength="24.2" lengthAdjust="spacingAndGlyphs">3800</text>
<line x1="456.2" y1="558.8" x2="456.2" y2="556" stroke="#555" stroke-width="1" />
<text x="455.7" y="573.6" font-size="12" font-family='"Liberation Serif", serif' text-anchor="middle" fill="#3a3a3a" textLength="24.2" lengthAdjust="spacingAndGlyphs">3700</text>
<line x1="231.7" y1="537.7" x2="234.5" y2="537.7" stroke="#555" stroke-width="1" />
<text x="227.1" y="541.3" font-size="12" font-family='"Liberation Serif", serif' text-anchor="end" fill="#3a3a3a">1</text>
<line x1="231.7" y1="504.4" x2="234.5" y2="504.4" stroke="#555" stroke-width="1" />
<text x="227.1" y="508" font-size="12" font-family='"Liberation Serif", serif' text-anchor="end" fill="#3a3a3a">2</text>
<line x1="231.7" y1="471.1" x2="234.5" y2="471.1" stroke="#555" stroke-width="1" />
<text x="227.1" y="474.7" font-size="12" font-family='"Liberation Serif", serif' text-anchor="end" fill="#3a3a3a">3</text>
<text x="319.1" y="589.6" font-size="12.600000000000001" font-family='"Liberation Serif", serif' text-anchor="start" fill="#3a3a3a" font-style="italic">ν</text>
<path d="M320.30 581.74 q1.26 -1.56 2.52 0 t2.52 0" fill="none" stroke="#3a3a3a" stroke-width="0.90"/>
<text x="331.4" y="590.8" font-size="14.64" font-family='"Liberation Serif", serif' text-anchor="start" fill="#3a3a3a">[</text>
<text x="336.3" y="589.6" font-size="12.0" font-family='"Liberation Serif", serif' text-anchor="start" fill="#3a3a3a" textLength="17.5" lengthAdjust="spacingAndGlyphs">cm</text>
<text x="354.1" y="585.3" font-size="8.64" font-family='"Liberation Serif", serif' text-anchor="start" fill="#3a3a3a" textLength="9.1" lengthAdjust="spacingAndGlyphs">−1</text>
<text x="363" y="590.8" font-size="14.64" font-family='"Liberation Serif", serif' text-anchor="start" fill="#3a3a3a">]</text>
<g transform="translate(215.0 513.6) rotate(-90)">
<text x="0" y="0" font-size="14.6" font-family='"Liberation Serif", serif' text-anchor="start" fill="#3a3a3a" font-style="italic" textLength="10.1" lengthAdjust="spacingAndGlyphs">Q</text>
<text x="10.6" y="1.9" font-size="9.6" font-family='"Liberation Serif", serif' text-anchor="start" fill="#3a3a3a" font-style="italic" textLength="13.3" lengthAdjust="spacingAndGlyphs">ext</text>
</g>
<rect x="232.3" y="388.5" width="222.7" height="50.2" fill="#fff" stroke="#555" stroke-width="0.8"/>
<line x1="234.2" y1="395.5" x2="254.8" y2="395.5" stroke="#0000AA" stroke-width="1.0" />
<text x="257" y="398.3" font-size="9.3" font-family='"Liberation Serif", serif' text-anchor="start" fill="#222" textLength="54.0" lengthAdjust="spacingAndGlyphs"><tspan font-style="italic">d</tspan> =0.001 <tspan font-style="italic">μ</tspan>m</text>
<line x1="234.2" y1="407.4" x2="254.8" y2="407.4" stroke="#0000FF" stroke-width="1.0" />
<text x="257" y="410.2" font-size="9.3" font-family='"Liberation Serif", serif' text-anchor="start" fill="#222" textLength="44.2" lengthAdjust="spacingAndGlyphs"><tspan font-style="italic">d</tspan> =0.2 <tspan font-style="italic">μ</tspan>m</text>
<line x1="234.2" y1="419.3" x2="254.8" y2="419.3" stroke="#0055FF" stroke-width="1.0" />
<text x="257" y="422.1" font-size="9.3" font-family='"Liberation Serif", serif' text-anchor="start" fill="#222" textLength="44.2" lengthAdjust="spacingAndGlyphs"><tspan font-style="italic">d</tspan> =0.4 <tspan font-style="italic">μ</tspan>m</text>
<line x1="234.2" y1="431.3" x2="254.8" y2="431.3" stroke="#00AAFF" stroke-width="1.0" />
<text x="257" y="434.1" font-size="9.3" font-family='"Liberation Serif", serif' text-anchor="start" fill="#222" textLength="44.2" lengthAdjust="spacingAndGlyphs"><tspan font-style="italic">d</tspan> =0.6 <tspan font-style="italic">μ</tspan>m</text>
<line x1="315.1" y1="395.5" x2="335.8" y2="395.5" stroke="#00FFFF" stroke-width="1.0" />
<text x="337.7" y="398.3" font-size="9.3" font-family='"Liberation Serif", serif' text-anchor="start" fill="#222" textLength="44.1" lengthAdjust="spacingAndGlyphs"><tspan font-style="italic">d</tspan> =0.8 <tspan font-style="italic">μ</tspan>m</text>
<line x1="315.1" y1="407.4" x2="335.8" y2="407.4" stroke="#55FFAA" stroke-width="1.0" />
<text x="337.7" y="410.2" font-size="9.3" font-family='"Liberation Serif", serif' text-anchor="start" fill="#222" textLength="37.2" lengthAdjust="spacingAndGlyphs"><tspan font-style="italic">d</tspan> =1 <tspan font-style="italic">μ</tspan>m</text>
<line x1="315.1" y1="419.3" x2="335.8" y2="419.3" stroke="#AAFF55" stroke-width="1.0" />
<text x="337.7" y="422.1" font-size="9.3" font-family='"Liberation Serif", serif' text-anchor="start" fill="#222" textLength="37.2" lengthAdjust="spacingAndGlyphs"><tspan font-style="italic">d</tspan> =2 <tspan font-style="italic">μ</tspan>m</text>
<line x1="315.1" y1="431.3" x2="335.8" y2="431.3" stroke="#FFFF00" stroke-width="1.0" />
<text x="337.7" y="434.1" font-size="9.3" font-family='"Liberation Serif", serif' text-anchor="start" fill="#222" textLength="37.2" lengthAdjust="spacingAndGlyphs"><tspan font-style="italic">d</tspan> =5 <tspan font-style="italic">μ</tspan>m</text>
<line x1="386.4" y1="395.5" x2="406.3" y2="395.5" stroke="#FFAA00" stroke-width="1.0" />
<text x="408.4" y="398.3" font-size="9.3" font-family='"Liberation Serif", serif' text-anchor="start" fill="#222" textLength="41.8" lengthAdjust="spacingAndGlyphs"><tspan font-style="italic">d</tspan> =10 <tspan font-style="italic">μ</tspan>m</text>
<line x1="386.4" y1="407.4" x2="406.3" y2="407.4" stroke="#FF5500" stroke-width="1.0" />
<text x="408.4" y="410.2" font-size="9.3" font-family='"Liberation Serif", serif' text-anchor="start" fill="#222" textLength="41.8" lengthAdjust="spacingAndGlyphs"><tspan font-style="italic">d</tspan> =15 <tspan font-style="italic">μ</tspan>m</text>
<line x1="386.4" y1="419.3" x2="406.3" y2="419.3" stroke="#FF0000" stroke-width="1.0" />
<text x="408.4" y="422.1" font-size="9.3" font-family='"Liberation Serif", serif' text-anchor="start" fill="#222" textLength="41.8" lengthAdjust="spacingAndGlyphs"><tspan font-style="italic">d</tspan> =20 <tspan font-style="italic">μ</tspan>m</text>
<line x1="386.4" y1="431.3" x2="406.3" y2="431.3" stroke="#AA0000" stroke-width="1.0" />
<text x="408.4" y="434.1" font-size="9.3" font-family='"Liberation Serif", serif' text-anchor="start" fill="#222" textLength="45.0" lengthAdjust="spacingAndGlyphs"><tspan font-style="italic">d</tspan> = 50 <tspan font-style="italic">μ</tspan>m</text>
<text x="338.4" y="618.9" font-size="14.4" font-family='"Liberation Sans", sans-serif' text-anchor="middle" fill="#111" font-weight="bold">(g)</text>
</svg>
</body></html>
